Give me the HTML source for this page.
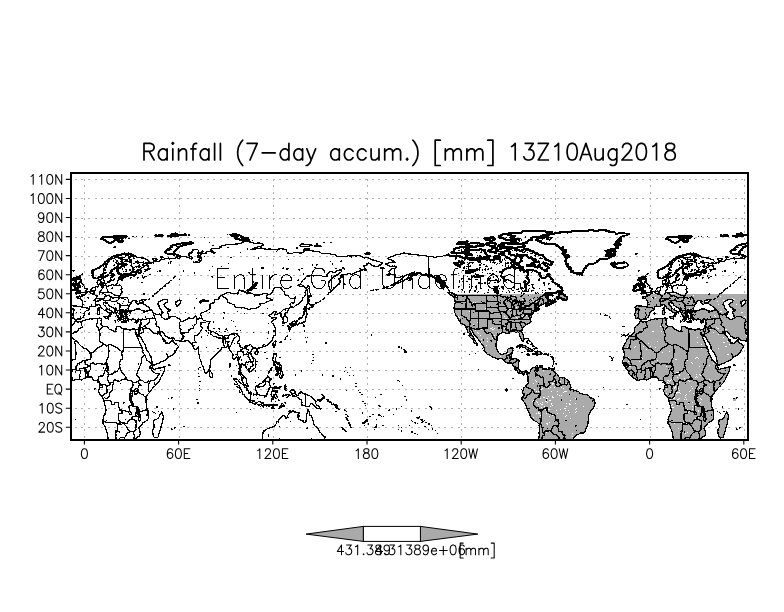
<!DOCTYPE html>
<html><head><meta charset="utf-8"><title>Rainfall</title><style>html,body{margin:0;padding:0;background:#fff}body{width:784px;height:612px;overflow:hidden;font-family:"Liberation Sans",sans-serif}svg{display:block}</style></head><body>
<svg width="784" height="612" viewBox="0 0 784 612">
<rect width="784" height="612" fill="#fff"/>
<defs>
<clipPath id="cf"><rect x="71.2" y="172.9" width="676.6" height="267.1"/></clipPath>
<clipPath id="cg"><rect x="406.2" y="294.0" width="341.5" height="146.0"/></clipPath>
</defs>
<g clip-path="url(#cf)" shape-rendering="crispEdges" fill="none" stroke="#b0b0b0" stroke-width="1">
<path stroke-dasharray="2 4.6" stroke-dashoffset="3" d="M71.2 427.5H747.8M71.2 408.5H747.8M71.2 389.5H747.8M71.2 370.5H747.8M71.2 351.5H747.8M71.2 332.5H747.8M71.2 313.5H747.8M71.2 294.5H747.8M71.2 275.5H747.8M71.2 256.5H747.8M71.2 237.5H747.8M71.2 218.5H747.8M71.2 198.5H747.8M71.2 179.5H747.8"/>
<path stroke-dasharray="2 4.6" stroke-dashoffset="1" d="M84.5 172.9V440.0M179.5 172.9V440.0M273.5 172.9V440.0M367.5 172.9V440.0M461.5 172.9V440.0M555.5 172.9V440.0M650.5 172.9V440.0M744.5 172.9V440.0"/>
</g>
<g clip-path="url(#cg)" shape-rendering="crispEdges">
<path fill="#aaaaaa" stroke="none" d="M75.1 320.8l1-.1l.6 .7l.8 .6l1.1 0l1.1-.2l.8 .1l.8 .3l.8-.5l.7-.7l.9-.3l.9-.2l.9-.5l.9-.5l.7 0l.7 0l.7-.2l.6-.4l.8 0l.8-.1l.8 .2l.9-.1l1-.1l.9-.4l.6 0l.6 .2l.5 .2l.6 0l.7 0l.6 0l.9-.5l1-.3l.8 .2l-.2 .7l.7-.4l.7-.1l-.2 .6l-.2 .7l-.5 .8l.3 .5l.6 1l-.4 .9l-.6 .5l-.5 .5l0 .8l.9 .3l.6 .2l.7 .8l.6 .2l.6 .4l.7 0l.7-.2l.8 .1l.8 .3l.8 .3l.8 .2l0 .6l.3 .6l.4 .5l.5 .4l.6 .2l.6 .3l.6 .2l.6 .1l.5 .2l.6 .3l.5 .4l.6 .2l.5-.1l.6-.1l.4-.4l.2-.5l.2-.6l.1-.5l-.1-.6l0-.6l.4-.5l.3-.5l.8-.2l.8-.3l.8 0l.8 .2l.8 .3l.1 .8l.6 .2l.7 .2l.8 .2l.8 0l.3 .7l1-.1l1 .1l.6 .1l.7 .1l.9 .5l.9 .3l.8 .4l.7-.4l.7-.4l.8-.6l1-.1l.6 0l.6 .1l.8 .4l.5 .6l.7-.2l.7 0l.5-.2l.6-.2l.5-.7l.4-1l.2-.5l.2-.6l.1-.6l.2-.8l.4-.7l.5-1l.2-.5l0-.6l-.2-1l.2-.9l.2-.6l.2-.6l-.9 0l-.8-.1l-.8-.3l-.8 .5l-.6 .7l-.7 .2l-.7 .2l-.5-.6l-.8-.4l-1-.3l-1-.4l-.2 .5l-.3 .6l-1.1 .2l-.5-.4l-.4-.4l-.7 .1l-.6-.5l-.6-.3l-.8 0l-.2-.6l.1-.6l-.7-.6l-.6-.7l.2-.6l.3-.6l0-.7l-1-.4l-.1-1l.5-.3l.4-.4l.6-.3l.7 .3l1-.5l1 .5l.9-.3l.8-.3l-.6-.2l-.6-.4l1 .1l.9-.4l.8-.1l.9 .1l.7-.7l.7-.5l.8-.3l.8-.1l.7 0l.6-.1l.7 .1l.7 0l.8 .4l.7 .4l.6 .6l.9 .4l.9 .1l.7 .1l.7 .1l1 .1l1-.3l.8 0l.7-.2l.6-.4l.8-.3l.3-1l-.1-.7l-.2-.6l-.9-.6l-1-.4l-1-.7l-.9-.7l-1-.7l-.6-.3l-.5-.4l-.7-.6l-1-.4l.3-.5l1.1-.4l.7-1l.7-.7l.8-.4l.5-.6l-.9 0l-.8 0l-.7 .2l-.7 .2l-1 .4l-1.1 .2l-.6 .3l-.6 .2l-.1 .6l-.2 .6l.9 .7l.7 0l.7-.2l-.2 .7l-.7 0l-.8 .1l-.8 .4l-.6 .4l-.6 .2l-.7 .2l-.3-.6l0-.6l-.7-.5l-.9-.3l.6-.3l.5-.4l.7-.6l-.9-.1l-.9 .1l-.4-.5l-.5-.4l-.6 0l-1.1 .1l-.5 .7l-.5 .7l-.4 .5l-.4 .4l-.1 1l-.8 .5l-.6 .6l-.3 .8l.1 .8l-.6 .6l-.5 .7l-.3 .6l.5 .7l.3 1l.6 .3l.6 .2l-.1 .4l-.7 .1l-.7-.1l-.8 .1l-.8 .7l-.3 .8l-1 .2l.4-.6l.6-.5l-.7 .1l-.6 0l0-.6l-.7 .1l-.7-.2l-1.1 .1l-.8 .4l.5 .5l.3 .6l-.8-.3l.2 .6l-1-.5l0 .5l-.6-.6l-.1-.6l-.5 .4l0 .7l.5 .8l.6 .8l-.6-.2l0 .7l.4 .6l.4 .7l.9 .1l.1 1l-.7-.5l-1 0l.3 .8l.5 .2l-.7 .1l-.5-.4l.7 1l-.1 1.1l-.8-.7l-.2 .8l-.6-.4l0-.7l-.6 .3l-.4-.6l.2-.7l-.5-.6l0-.7l1.1-.2l-.7-.2l-.7 .1l-.6-.9l0-.4l-.3-.6l-.5-.5l-.5-1l-.7-.3l-.2-1l.2-.9l0-1l-.5-.6l-1-.6l-.6-.6l-.8-.3l-.9-.8l-1-.3l-.7-.4l-.5-.6l-.6-.4l-.2-.7l-.3-.6l-.8-.8l-.3 .4l-.5 .6l-.2-.7l-.4-.6l.3-.4l-.9 0l-1.1 .5l-.2 .8l.1 .8l-.1 .5l.6 .6l.6 .5l.7 .3l.2 .7l.4 .6l.5 .8l.8 .7l.6 .4l.7 .1l.7-.2l-.1 .7l.1 .4l.7 .4l.7 .1l1 .6l.8 .3l.3 .5l.4 .5l-.2 .6l-.5-.4l-.2-.5l-1.1-.4l-.5 .3l-.4 .4l0 .8l.7 .6l0 .7l-.7 .4l-.2 .8l-.6 .8l-.7 0l0-.5l.3-.7l.4-.3l0-.6l-.4-.7l-.1-.7l-.3-.5l-.9-.2l-.1-.4l-.3-.5l-.7 .1l-.1-.5l-.6-.3l-.4-.4l-.8 0l-.8-.4l-.6-.6l-.7-.7l-1.1-.5l-.5-.5l-.4-.6l-.3-1l-.2-.8l-.6-.3l-.7-.4l-.7-.2l-.6 .3l-.5 .4l-1.1 .4l-.8 .5l-.6 .6l-1.1 .2l-.9-.4l-1.2-.1l-.9-.3l-.8 .4l-.6 .6l-.1 1l.2 .4l0 .7l-.8 .5l-.7 .5l-.8 .2l-.8 .3l-.6 .8l-.6 .4l-.4 .6l-.3 .7l-.5 .6l.6 .6l.2 .8l-.5 .4l-.6 .4l-.1 .7l-.2 .6l-.8 .2l-.6 .5l-.5 .5l-.3 .5l-.6-.1l-.8 .1l-.8 .1l-.7 0l-.7 0l-.6 .6l-.8 .5l-.5 .3l-.5-.6l-.6-.4l-.1-.6l-.9-.7l-.7 0l-.8 .4l-.8-.2l-.8 .2l-.1-.9l.3-.9l0-.9l-1-.6l0-.6l0-.7l.6-.7l.2-.8l.2-1l.1-.9l.1-.9l-.4-.9l-.3-.7l-.3-.8l.5-.6l.9-.3l.8-.7l.7 .1l.7 .3l1-.2l1.1 .2l.9 0l.9 .3l1.1-.1l1.3 .2l.9 0l1 0l.4-.3l.3-1.1l.1-1l.3-.9l0-.8l-.2-.7l0-.6l-.9-.7l-.5-.6l-.2-.8l-.9-.5l-.9-.3l-.8-.1l-.8-.1l-.5-.5l-.1-.7l.6-.3l.6-.2l.8-.1l.8-.1l.8 .2l.8 0l.7 0l-.1-1l-.5-1l1.1 0l.2 .7l1.4 .1l.5-.4l.1-.4l.6-.4l.8 0l.8-.7l0-1l.6-.6l.8 .2l1.1-.6l.7-.1l.2-.6l.4-.4l.4-.6l.5-.5l.3-.8l1-.5l1.2-.4l1.3 .1l.1-.6l1.5-.1l.7 .3l.2-.7l.6 0l-.1-.7l-.4-.6l-.1-.6l-.1-.5l.1-.6l-.8-1l.1-.6l-.1-.7l.8-.8l1.4-.2l.8-.7l.9-.3l-.1 1l-.3 1l.9 .5l-.9 .5l-.5 .9l-.3 .4l-.5 .6l.6 .7l.2 .6l1.6 .2l-.3 .7l1.1 0l.9-.2l.6-.6l.8 .1l.6-.5l.7 1.1l.8 .3l.9-.2l.9-.2l.8-.3l.8-.4l.9-.1l.7-.4l1.4-.1l.5 .8l1.2 0l.8-1l.8-.3l.6-.4l.3-.8l0-.8l-.1-.7l.9-.9l0-1l1.6-.5l.9 .9l1.3 .5l.6-.5l-.2-.7l.2-.7l.2-.6l-1.3-.1l-.3-.8l0-.8l.7-.5l1.2 .1l1.7-.3l.9 .2l1 .1l1.6-.1l.7-.6l.9-.5l1 .2l.8 0l-.9-.5l-1.4-.5l-.4-.3l-1.2 .3l-1.3 .1l-.8 .4l-1.1-.2l-1 .3l-1.6 .3l-1.6 .3l-.3-.7l-.9-.4l-1.3-.3l-.2-1l.4-.9l-.8-.7l.4-.7l-.3-.5l.8-1l1.1-.6l1.1-.7l1-.5l.6-.7l.9-.7l1.3-.4l-.2-1l-1.1-.4l-.8-.1l-1.5 0l-1.4 .3l-1.1 .6l-.6 .6l.2 .5l-.4 .8l-1.1 1l-1.1 .3l-.5 .6l-1.3 .8l-.9 .6l-.8 .3l-.5 .7l.4 .7l-.7 .9l.4 1l1.2 .3l.9 .4l.7 .8l-.8 1l-.5 .1l-.3 .8l-1.4 .6l-.5 .4l.2 .5l-.2 .6l.3 .7l-.8 .6l0 .8l-.6 1l-.6 .1l-1.4 0l-.2 .6l-.4 .5l-.7 .3l-1.4 0l-.1-.4l-.4-.9l.2-.5l.2-.6l-.7-.6l-.4-.6l-.5-.8l-.6-1l-.7-.6l.2-.7l-.2-.4l.3-.8l-.9-.7l0 .6l-.3 .5l-.8 .6l-.8 .2l-.8 .8l-1.2 .6l-.9 .5l-1-.2l-.8-.3l-.9-.3l-.4-.5l-.1-.8l-.5-.7l-.3-.6l.2-.6l.1-.8l-.2-.5l-.3-.6l.6-.9l-.6-.8l.5-.6l1.4-.6l1.4-.7l1.1-.5l1.5-.5l1.2-.4l.8-.9l1.3-.8l.7-.7l1.1-.6l.5-.8l.6-.7l.7-.6l-.1-.6l.9-.5l1.2-.8l.7-.5l.3-.7l1.2-.5l1.1-.6l1.1-.9l1.3-1l1.5-.4l1.6-.6l1.6-.1l1.5-.4l1.6-.2l1.1-.6l1.6-.6l1.7-.2l1.9 .2l1.9-.2l1.2 .5l1.6 .4l1.7 .6l-1.7 .5l-.3 .5l1.6 0l1.1 .2l.7-.4l1.3 .4l.5 .6l-.2 .8l2.4-.4l2.3 .2l1.6 .1l.8 .6l1 .6l1.3 .6l1.1 .4l1.3 .3l.9 1l.2 .9l-1.4 .8l-1.2 .5l-1.5 0l-1.3-.1l-1.2-.3l-1.4-.5l-1.7 0l-1.1-.4l-1.3 0l-1.7-.7l-.1 .6l1 .5l1.6 .4l.8 .8l.7 .8l-.3 .9l0 .9l1.3 .4l.9 .6l1.3 .2l1.6-.4l-.4-.8l-1.1-.5l-.4-.7l1.5 0l1.1 .6l1.3 .2l1.1 .3l.8 0l-.8-1l-.3-1l1.4-.4l1.3-.5l1.5-.7l1.2 .3l1 .4l.5-.8l.2-.7l-.7-.6l.6-.8l-.7-.7l-1-.6l.2-.7l1.4 .3l1.4 0l1.3 .2l.9 .6l.3 .5l-1.3 .2l-1.3 .2l-.2 .6l1.2 .3l.5 .6l1.4-.1l1.3 0l-.2-.7l.7-.7l1.2-.7l1.9-.2l1.8-.2l1.3-.6l1.6-.2l1.3-.6l0 .7l.6 .7l1.3-.6l2 .1l1.9-.3l1.1-.3l1.2-.3l1.4 1l1.1-.4l.5-.6l-.4-.6l-.7-.7l.6-.6l1.8 .5l2-.1l1.9 .2l1.1 .7l1.7 .5l1.9 .5l.7 .5l1 .4l.6-.6l.5-.7l-.8-.5l-.6-.6l-1.9-.2l.2-.8l-.9-.7l.4-.8l.3-.6l1.3-.4l.6-.5l.6-.6l.4-.7l.4-.8l1.4-.7l2.6-.3l2 .8l0 .8l-.2 .7l-1 .6l.4 .8l.3 .7l.5 .8l-.7 .6l.2 .7l-.8 .9l1 .8l1.1 .4l.6 .6l-1 .7l-.1 .8l-1.2 .9l-1.1 .8l-1.6 .3l-1.6-.1l2 .3l1.9 .3l1.6-.4l1.3-.6l.6-.9l.8-1l-.1-1l.2-1.1l-1.5-.7l-.7-.9l.4-.8l1.2-.7l-.1-.9l-1.9-.7l1.3-.7l1.5-.7l.5-.6l-.3-.7l.9 1l-.7 .9l.2 1l1.9 .2l2.4 .3l-.9-.9l.4-1l.6-.7l2.2 .2l1.6 .5l1.6 .6l1.2 .7l1.1 .8l-.2-.8l.7-.7l-1.3-.4l-.4-.5l-1.2-.5l-1.2-.3l-.3-.9l.1-.8l3-.4l2.8-.2l2.7-.2l1.6-.8l-1.6-.9l2.4-.6l1.9-.5l2-.4l2.9-.6l3.4-.2l2.3 0l2.4 0l1.9-.4l2-.4l1.2-.4l1.2-.5l.5-.6l1.1-.5l1.5-.4l2.1 0l2.6 .5l-1.6 1l2.4 0l1.6 .6l3.2 .1l3.1-.3l1.2 .4l1.1 .5l1.5 .6l-.2 .8l-.5 .6l-1.6 .5l-3 .4l-1.7 .9l-1.6 .4l-.7 .6l-1.7 .4l-1.5 .5l2.7 .1l2-.6l2.4-.6l1.9 0l1.7-.2l1.9 .6l1.8 .2l1.6 .3l1.7-.3l1.9 0l.8 .7l1.8 .1l1.5-.4l1.6 .2l1.4 .3l.8-.9l2.3-.2l3.2 .2l1.8 .5l1.3 .6l-.8 1l.8 .9l1.2 .8l-.4 .9l1.7-.1l1.5 .3l1.5-.4l.8-.7l1.9-.4l2 .2l1.6 .2l1.6 .2l1.5-.1l1.6-.1l-.4-.7l1.2-.6l-1.1-.6l2.7-.6l1.7 .2l1.6-.2l1.4 .3l1.6 .3l1.5 .2l1.6 .2l1.9 .2l2 0l.3 .7l1.3 .6l1.3 .7l1.8 .4l2.7-.3l2.8 .1l2.2 .6l2.5-.2l.9 .8l.7 .7l.7 .5l.9 .5l2.5 .2l2.2-.6l2.3 .4l2.4 0l.9-.5l1.1-.5l1.8-.1l1.7 0l-1.4 .9l.6 1.2l-.2-1.1l1.8-.9l1.7 .1l1.4 .3l2.4-.4l2.3 .4l.7 .6l1.2 .3l1.3 .4l1.5-.1l1.6 .5l1.8 .3l1.3 .7l.5 .6l1.2 .3l1.1 .4l1.2 .2l2 .3l1.1 .9l1.8 .1l1.3 .6l1.2 .6l1.5 .4l-.9 .5l-.2 .6l-1.2 .8l-1.9 .2l-.3 .6l-.5 .5l-1.2-.2l-1.2 .2l-1-.4l-1.3 0l-1.4-.6l-1-.9l-1.1-.8l-1.2-.7l-1.5 .7l-.1 1l-.4 .6l-1.2 .4l-1.1 .1l-1.2 0l1.1 .6l.4 .8l0 1.1l1.3 .8l.5 .6l-.3 .7l-1.1-.1l-.7-.5l-1 .1l-1 .1l-1.1 .3l-1 .3l-.7 .6l-1.1 .2l-1 .2l-.7 .5l-.7 .4l-.8 .4l-1 .4l-.7 .5l-.8 .4l-.6 .6l-.9-.4l-.9-.3l-1.1-.2l-1 0l-1.7 .4l-1.5 .5l-1.1 .2l-1.2 0l-1 0l-.9 .2l-.3 .8l-.2 .7l.1 .7l.4 .7l-1.1 .4l-1 .5l.6 .9l1 .6l-.2 .7l-.1 .7l.8 .3l-.7 .5l-.8 .4l-.4 .6l-.5 .6l.5 .4l-1.3 .3l-1.2 .5l-.1 .6l-.3 .5l-.3 .6l-.1 .6l-1 .3l-1 .1l-.4 .9l-.3 1l-.5 .5l-.7 .4l-.7 .5l-.6 .5l-.1-1l-.2-.9l-.4-.7l-.1-.8l0-.7l-.1-.7l-.4-.7l-.3-.7l-.1-.7l0-.8l.1-.7l.1-.7l.1-.7l-.2-.7l1.1-.9l.7-1l1.1-.6l.8-.8l.7-.5l.5-.6l.9-.4l.7-.6l.9-.5l1-.3l.6-.7l.8-.6l.6-.5l.5-.6l.8-.4l.6-.5l.5-.9l.3-.9l-1.6-.2l-1.2 .2l-1 .5l-1 .3l-1 .4l-.5 .7l-.3 .8l-1.1-.1l-.9-.4l-.8-.4l-.8-.4l-1.2 .1l-1.2 .3l-.4 .7l-.3 .8l-.9 .6l-.7 .7l.1 .7l.7 .6l-1.6 .3l-1.6 .3l-1.2-.2l-1.1-.2l-1.1-.6l-1.5-.1l-1.4 0l-1.2-.1l-1.2 0l-1.4 0l-.9 .6l-1.1-.4l-1.2 .1l-1.2 .1l-1.2 .2l-1.7 .1l-1.2 .9l-.7 .9l-.3 1l-1 .6l-1 .4l-.6 .8l-.6 .7l-.1 .8l-.6 .8l-.6 .7l-1 .5l-.6 .7l-1 .3l1.1 .6l1.3 .3l.7 .3l.8 .1l.6-.6l1-.1l.6 .5l.2 .6l.8 .2l.8 .4l-.2 .8l.6 .7l-.1 1.1l-.8 .8l.3 1l-.6 .9l.3 .7l-.1 .8l.1 .7l-.3 .7l-.5 .9l-.7 .5l-.7 .4l-.2 .7l-.3 .7l0 .7l-.4 .6l-.4 .5l-.7 .3l-.3 .8l-.8 .4l-.6 .7l-.7 .4l-.6 .9l-1 .6l-.8 .1l-.6 .6l-.7 .5l-.2 .7l-.9 .3l-.7 .5l-.6-.6l-1-.2l-.6 .8l-.9 .4l-.5 .6l-.5 .4l-.6 .3l-.1 .9l-.4 .8l-.3 .8l-.7 .6l-.9 .5l-.6 .4l-.8 .2l-.1 1l.6 .4l.6 .5l0 .8l.7 .6l.6 .6l.3 .9l.2 .5l.2 .6l0 .6l-.1 .6l-.1 .9l-.7 .8l-.7 .3l-.8 .1l-.8 .3l-.9 0l-.7 .6l-.3-.7l0-.8l.3-.8l.2-.6l0-.7l-.7-1l1-.3l-.3-1l-.8-.4l-.7-.2l-.6 .2l-.5-.7l.3-.6l.1-.6l.1-.6l.3-.5l-.4-.5l-.7-.3l-.6-.6l-.7 .3l-.7 .1l-.9 .7l-1 .3l-.5 .4l-.6 .3l-.6 .2l.3-.6l.2-.7l.4-.7l.3-.6l.4-.8l-.6-.3l-.5-.3l-.8 .2l-.7 .9l-.9 .6l-.8 .4l-.3 .6l-.5 .6l-.8 0l-.7 0l-.5 .5l-.2 .8l.7 .6l.7 .4l.8 .5l0 1l.8 0l.6-.2l.7-.4l.6-.6l.7 .3l.6 .3l.8 .2l.9 0l-.3 1l-1.1 .3l-1.1 .2l-.7 .4l-.4 .6l-.8 .4l-.5 .7l-.3 .7l-.2 .7l.9 .4l.7 .5l.4 .6l.3 .6l.1 .7l.3 .6l.3 .5l.3 .4l.4 .5l.3 .5l.3 .6l-.1 .6l.1 .7l-.7 .5l-.7 .3l-.6 .2l-.5 .3l.6 0l.6 .2l.5 .4l.6 .2l.1 .7l.1 .6l-.1 .9l-.4 .8l-.6 .5l-.8 .1l-.3 .8l-.3 .7l-.6 .9l-.4 .9l-.1 .6l0 .7l-.5 .7l-.6 .4l-.7 .4l-.6 .6l-.6 .8l-.6 .7l-.6 .3l-.4 .5l-.4 .4l-.5 .2l-.5 .2l-.5 .3l-.5 .3l-.4 .3l-.6 .2l-.5 0l-.6-.4l-.5-.6l-.1 .7l.1 .7l-.7 .6l-.9 .1l-.8 .2l-.7 .2l-.9 0l-.7 .6l-.4 .8l.2 .9l-.8 0l-.1-1.1l-.2-1l-.9-.2l-.6-.1l-.7-.1l-.4 .2l-.9 .4l-.7 .8l-.5 .1l-.2 .6l.1 .6l-.7 .7l-.4 .8l-.3 .6l-.1 .6l.8 .6l.3 1.1l.4 .7l.2 .9l.7 .5l.5 .1l.4 .4l.2 .5l.5 .3l.7 .5l.4 1l.3 .5l.1 .7l-.1 .7l.1 .6l0 1l.2 .9l-.2 1.1l0 1l0 .7l-.4 .5l-.7 .6l-.7 .5l-.8 .3l-.7 .5l-.3 .6l-.3 .7l-.6 .3l-.5 .5l-.5-.1l-.4 .3l-.2 .5l-.5 .4l0-1l-.3-.9l.3-1l-.7-.5l-.8 .2l-.6-.4l-.4-.8l-.6-.6l-.1-.9l-.5-.6l-.6-.4l-.5-.3l-.5 0l-.4-.3l-.5-.1l-.3-.8l.1-.7l-.6-.2l-.8 .3l.2 .8l-.3 .8l.1 .7l-.1 .8l-.2 .8l-.5 .5l-.1 .7l-.4 .5l.2 .5l0 .6l-.2 .6l.2 .6l.7 .5l.4 .8l.3 .5l.1 .7l.2 .5l.2 .6l.7 .6l.9 .3l.3 .8l.6 .4l.4 .3l.5 .1l.2 .4l.3 .5l.2 1l.4 .9l-.1 1l.1 .9l.3 .9l.1 1l.3 .5l.5 .4l.1 .6l0 .6l-.6 0l-.5 .2l-.4-.3l-.4-.3l-.3-.5l-.5-.2l-.2-.6l-.5-.5l-.5 0l-.5-.4l-.1-.6l-.4-.5l-.3-.4l-.1-.6l-.4-.5l-.3-.4l.2-.6l-.2-.6l.1-.9l-.2-.8l0-.7l-.3-.5l-.7-.8l-.3-.8l-.5-.7l-.6-.6l-.8 .2l.3-.9l-.3-1l.4-.9l.1-1l0-.8l-.2-.7l.2-1l.2-.9l-.3-.7l.1-.8l-.5-.9l-.1-1l-.1-.6l-.1-.6l-.1-.6l-.1-.5l-.1-.6l-.2-.6l.2-.6l-.2-.5l0-.6l-.3-.6l-.6-.2l-.3-.7l-.7 .3l-.4 .6l-.7 .7l-.7 .7l-.9-.1l-.8-.3l0-.8l-.2-.7l.4-.6l.2-.8l.1-.6l-.1-.7l-.2-.6l-.2-.5l-.9-.7l-.2-1.1l-.7-.3l-.4-.6l-.7-.4l-.3-.8l0-.6l-.5-.5l0-.9l-.3-.8l-.3-.5l-.3-.5l-.6 .4l-.7 .2l-.2 .6l-.2 .5l-.7 .2l-.6 0l-1 0l-.9 .4l-.4-.6l-.7 .6l-.6 .6l-.1 .6l-.4 .5l-.3 .8l-.6 .6l-.8 .4l-.5 .5l-.6 .4l-.4 .5l-.2 .6l-.5 .3l-.5 .5l-.7 .5l-.5 .7l-.4 .4l-.4 .4l-.3 .5l-.5 .4l-.4 .5l-.5 .4l-.6 .5l-.5 .5l-.6 .1l-.5 .1l-.2 1l-.1 1.1l-.1 .7l.2 .7l.2 .7l0 .7l-.4 1l-.1 1.1l0 1l-.3 .9l.1 .7l0 .7l-.9 0l-.4 .7l-.2 .8l.4 .4l-.6 .1l-.6 .4l-.3 .4l-.6 .6l-.4 .8l-.6-.4l-.5-.4l-.2-.7l-.3-.6l-.1-.7l-.3-.7l-.2-.6l-.2-.7l-.2-.7l-.2-.6l-.3-.6l-.2-.7l-.3-.6l-.4-.4l-.4-.8l-.1-.7l-.1-.7l-.3-.6l-.1-.7l-.5-.9l-.2-.7l-.2-.7l-.5-.8l-.2-1.1l0-.7l-.3-.7l-.1-.7l-.2-.7l-.3-.9l0-1l-.2-1l0-.9l.2-1l0-.9l0-.6l0-.6l-.3-.6l-.2-.5l-.3 .9l-.3 1l-.9 .3l-.8 .4l-1-.1l-.6-.5l-.5-.7l-.5-.7l-.6-.6l.6-.2l.5-.3l.4-.4l.4-.5l-.9 .2l-1 0l-.4-.8l-.5-.7l-.7-.2l-.7-.4l-.3-.6l-.2-.7l-.8-.4l-.1-.6l-.2-.5l-.6 .1l-.6-.2l-.6 .1l-.6 .2l-.5 0l-.6 .2l-.6-.1l-.6 .1l-.9 .2l-1-.1l-.5-.1l-.6 0l-.8 0l-.8-.2l-.6-.2l-.6 .1l-.6-.2l-.7 .1l-.9-.3l-1-.3l-.4-.4l-.2-.6l-.3-.6l-.3-.5l-.5-.3l-.6-.3l-.7 .2l-.6 .4l-.5 .4l-.7 .2l-.9-.5l-1-.1l-.7-.8l-.9-.5l-.7-.6l-.8-.2l-.6-1l-.5-.9l-.6-.8l-.2-.9l-.7-.2l-.6-.4l-.9-.4l-.7 .7l-.7 .3l-.2 .7l.4 .6l.2 .6l.5 .7l.2 .8l.7 .7l.5 .8l.4 .6l.6 .6l-.1 1l.2 1.1l.6 .6l.4 .7l0-.8l.1-.7l.5-1l.2 .9l.4 .7l-.1 .6l-.2 .7l.3 .5l.3 .5l.7-.1l.6-.1l.9 .1l1 .1l.5-.4l.4-.4l.9-.6l.5-.9l.6-.6l.5-.8l.6-.6l-.1 .7l0 .7l.2 .6l-.1 .7l.3 .7l.4 .5l.8 .3l.7 .6l.7 .3l.6 .1l.5 .8l.6 .7l.8 .6l-.1 .6l-.2 .5l-.3 .5l-.2 .5l-.7 .7l-.4 1l-.6 .3l-.7 .3l.1 .6l-.1 .5l0 .6l0 .6l-.6 0l-.6 .2l-.3 .9l-.5 .8l-.5 .1l-.5 .2l-.4 .4l-.5 .2l-.5 .2l-.4 .4l-.5 .1l-.5 .3l-.9 .2l-.8 .6l-.3 .5l-.2 .5l-.3 .5l-.4 .4l-.5 .3l-.4 .3l-.5 .1l-.5 .2l-.7 .5l-.7 .4l-.8 0l-.8 .3l-.6 .4l-.6 .5l-.7 .3l-.6 .5l-.5 .2l-.6 0l-.5 .1l-.5 0l-.5 .3l-.3 .5l-.6 .1l-.4 .3l-.6 .2l-.6 0l-.6 .2l-.6 0l-.2-.7l-.3-.7l0-.7l-.1-.7l-.2-.7l-.1-.7l-.2-.7l-.3-.7l-.1-.7l.1-.8l-.3-.9l-.2-1l-.4-.4l-.3-.4l-.3-.6l-.2-.5l-.3-.6l-.3-.5l-.3-.5l-.4-.5l-.4-.5l-.5-.4l-.3-.7l-.4-.5l-.5-.9l-.4-1l.1-.6l-.2-.6l0-.7l-.2-.6l-.3-.6l-.4-.6l-.4-.6l-.2-.6l-.5-.4l-.3-.5l-.3-.5l-.3-.6l-.3-.9l-.6-.8l-.3-.7l-.3-.6l-.4-.5l-.5-.6l-.5-.7l-.5-.7l0-.7l.1-.7l-.2-.7l0-.7l-.3 .7l-.3 .8l-.1 .7l-.2 .6l-.2 .5l-.6-.5l-.4-.6l-.4-.5l-.3-.6l-.3-1l-.6-.9l-.4 .6l.4 .7l.1 .8l.4 .7l.4 .6l.3 .5l.4 .5l.3 .7l.3 .9l.3 .9l.3 .6l.4 .5l.1 .7l.3 .6l.4 1l.5 .9l.5 .2l-.3 .7l-.2 .7l.5 .3l.4 .4l.3 .5l.4 .5l.6 .7l.2 .9l.3 .9l.1 .6l.1 .7l-.1 .7l-.1 .6l.2 .8l.1 .8l.5 .2l.3 .5l.4 .4l.4 .4l.3 .6l.1 .6l.4 .6l.1 .7l.2 .5l.4 .4l.1 .6l.1 .6l.5 .6l.6 .5l.7 .7l.9 .4l.6 .5l.5 .5l.5 .6l.3 .7l.5 .6l.6 .6l.2 .6l.1 .6l-.3 .7l.6 .6l.4 .7l.4 .8l.8 .1l.8 0l.5-.4l.6-.1l.6 0l.6-.2l.6-.2l.6-.2l.6 0l.6-.3l.6 .1l.5-.2l.6-.1l.6-.2l.5-.2l.6-.2l.5-.3l.5-.3l.7 .1l-.2 .6l0 .7l-.1 .6l0 .7l-.2 1l-.2 .9l-.5 .6l-.3 .6l-.3 .7l-.2 .8l-.2 .6l-.3 .7l-.5 .5l-.3 .6l-.5 .8l-.5 .8l-.2 .9l-.3 1l-.6 .6l-.3 .9l-.6 .6l-.4 .7l-.4 .5l-.3 .6l-.5 .3l-.4 .5l-.5 .4l-.5 .5l-.5 .6l-.4 .6l-.6 .4l-.6 .4l-.6 .6l-.6 .6l-.4 .7l-.6 .6l-.3 .7l-.3 .7l-.5 .5l-.5 .6l-.5 .7l-.6 .6l-.6 .5l-.5 .6l-.2 .6l-.4 .4l-.1 .6l-.1 .6l-.3 1l-.5 .8l-.3 1.1l-.3 1l.5 .6l.3 .8l0 .5l.1 .6l0 .6l.2 .6l0 .9l-.1 1l.3 .9l.3 1l.5 .3l.4 .4l0 1.1l.2 1l0 .7l.1 .8l0 .7l0 .7l0 .7l0 .7l.2 .7l.2 .7l0 1l-.2 1l-.7 .7l-.6 1l-.5 .4l-.6 .3l-.4 .5l-.7 .3l-.6 .1l-.6 .4l-.5 .5l-.6 .3l-.2 .6l-.3 .5l-.4 .3l-.4 .5l-.4 .6l-.4 .6l-.5 .5l-.5 .2l-.3 .7l-.2 .7l.5 .8l.4 .9l.1 1l.2 .9l0 .7l.2 .6l-.1 .7l-.1 .7l-.3 .7l-.4 .6l-.6 .3l-.5 .5l-.7 .2l-.6 .3l-.6 .6l-.5 .6l-.1 .9l.3 .8l-.4 1l-.1 1.1l-.2 1l0 1.1l-3.2 0l-3.3 0l-3.2 0l-3.2 0l-3.3 0l-3.2 0l-3.2 0l-3.3 0l-.1-.6l-.1-.6l-.1-.6l-.1-.6l-.2-.6l-.2-.5l-.3-.6l-.3-.5l-.1-.7l0-.8l-.1-.8l-.1-.7l-.3-1l-.3-.9l.1-1.1l-.1-1l-.3-.7l-.2-.7l-.1-.7l-.2-.6l-.4-.6l-.3-.6l-.2-.6l-.2-.7l-.3-.7l-.2-.6l-.3-.7l-.5-.5l-.4-.9l-.7-.8l0-.9l-.1-1l.2-.9l-.1-1l.3-.8l.2-.7l.2-.6l.1-.7l.1-.6l.2-.6l.4-.6l.5-.6l.2-.8l.3-.7l.3-.5l0-.6l.2-.6l.2-.6l0-.7l0-.8l-.6-.9l-.2-1l0-.7l-.2-.6l-.2-.8l-.1-.7l-.3-1l0-1l-.5-.8l-.3-.9l-.1-.9l-.5-.9l-.2-1l-.5-.8l-.6-.6l-.4-.3l-.3-.4l-.4-.4l-.1-.6l-.7-.5l-.4-.8l-.4-1l-.6-.9l-.2-.6l-.1-.6l.4-.4l.4-.3l.2-.7l0-.7l.2-.5l.1-.6l0-1l.3-.9l.2-.9l-.1-.8l-.2-1l-.1-.9l-.5-.3l-.6-.1l-.1-1l-.5 .1l-.5 0l-.6 .1l-.6 .2l-.8 0l-.7 .1l-.7 .1l-.6-.8l-.4-.9l-.3-.6l-.5-.6l-.3-.5l-.4-.4l-.9-.1l-.9-.1l-.8 0l-.7 .2l-.5-.1l-.5 .1l-.5 .1l-.4 .3l-.4 .3l-.5 .3l-.5 .3l-.5 0l-.8 .3l-.8 .5l-.7 .5l-.8 .3l-.9-.5l-.9-.1l-.7-.2l-.7-.1l-.6 .1l-.6 .1l-.5 .2l-.6-.1l-.9 .4l-.9 .3l-.7 .4l-.7 .3l-.8-.4l-.7-.6l-.8-.8l-.8-.4l-.6-.2l-.6-.3l-.4-.5l-.5-.5l-.6-.5l-.5-.7l-.7-.5l-.8-.4l-.4-.5l-.3-.4l-.2-.6l-.2-.6l-.2-.6l0-.5l-.6-.8l-.6-.8l-.7-.7l-.3-.7l-.4-.5l-.6-.9l-.4-1l-.4-.3l-.4-.3l-.4-.2l-.5-.1l-.1-1l-.1-.9l-.3-.8l0-.8l-.4-.4l-.4-.5l.7-.6l.4-1l.5-.9l.2-.9l.1-1l.4-1l.1-1.1l-.1-1l-.4-.9l.1-.9l-.1-.8l-.6-.8l-.6-.8l.1-.6l0-.7l.2-.7l.4-.6l.3-.6l.2-.8l.4-.7l.2-.8l.5-.4l.2-.6l.5-.4l.3-.5l.3-.6l.1-.7l.2-.7l.1-.7l.8-.4l.6-.7l.3-1l.4-.9l.9-.4l1-.3l.7-.6l.7-.8l.7-.5l.7-.5l.4-1l.4-1.1l0-.9l-.3-1l.2-.5l.1-.6l.4-.4l.2-.6l.7-.6l.6-.9l.6-.3l.8-.3l.5-.5l.7-.3l.3-1l.5-.8l.4-.8zM640.3 320.8l1-.1l.6 .7l.8 .6l1.1 0l1.1-.2l.8 .1l.8 .3l.8-.5l.7-.7l.9-.3l.9-.2l.9-.5l.9-.5l.7 0l.7 0l.7-.2l.6-.4l.8 0l.8-.1l.8 .2l.9-.1l1-.1l.9-.4l.6 0l.6 .2l.5 .2l.6 0l.7 0l.6 0l.9-.5l1-.3l.8 .2l-.2 .7l.7-.4l.7-.1l-.2 .6l-.2 .7l-.5 .8l.3 .5l.6 1l-.4 .9l-.6 .5l-.5 .5l0 .8l.9 .3l.6 .2l.7 .8l.6 .2l.6 .4l.7 0l.7-.2l.8 .1l.8 .3l.8 .3l.8 .2l0 .6l.3 .6l.4 .5l.5 .4l.6 .2l.6 .3l.6 .2l.6 .1l.5 .2l.6 .3l.5 .4l.6 .2l.5-.1l.6-.1l.4-.4l.2-.5l.2-.6l.1-.5l-.1-.6l0-.6l.4-.5l.3-.5l.8-.2l.8-.3l.8 0l.8 .2l.8 .3l.1 .8l.6 .2l.7 .2l.8 .2l.8 0l.3 .7l1-.1l1 .1l.6 .1l.7 .1l.9 .5l.9 .3l.8 .4l.7-.4l.7-.4l.8-.6l1-.1l.6 0l.6 .1l.8 .4l.5 .6l.7-.2l.7 0l.5-.2l.6-.2l.5-.7l.4-1l.2-.5l.1-.6l.2-.6l.2-.8l.4-.7l.5-1l.2-.5l0-.6l-.2-1l.2-.9l.2-.6l.2-.6l-.9 0l-.8-.1l-.8-.3l-.8 .5l-.6 .7l-.7 .2l-.7 .2l-.5-.6l-.8-.4l-1-.3l-1-.4l-.2 .5l-.3 .6l-1.1 .2l-.5-.4l-.4-.4l-.7 .1l-.6-.5l-.6-.3l-.8 0l-.2-.6l.1-.6l-.7-.6l-.6-.7l.2-.6l.3-.6l0-.7l-1-.4l-.1-1l.5-.3l.4-.4l.6-.3l.7 .3l1-.5l1 .5l.9-.3l.8-.3l-.6-.2l-.6-.4l1 .1l.9-.4l.8-.1l.9 .1l.7-.7l.7-.5l.8-.3l.8-.1l.7 0l.6-.1l.7 .1l.6 0l.9 .4l.7 .4l.6 .6l.9 .4l.9 .1l.7 .1l.7 .1l1 .1l1-.3l.8 0l.7-.2l.6-.4l.8-.3l.3-1l-.1-.7l-.2-.6l-.9-.6l-1-.4l-1-.7l-.9-.7l-1-.7l-.6-.3l-.5-.4l-.7-.6l-1-.4l.3-.5l1.1-.4l.7-1l.7-.7l.8-.4l.5-.6l-.9 0l-.8 0l-.7 .2l-.7 .2l-1 .4l-1.1 .2l-.6 .3l-.6 .2l-.1 .6l-.3 .6l1 .7l.7 0l.7-.2l-.2 .7l-.7 0l-.8 .1l-.8 .4l-.6 .4l-.6 .2l-.7 .2l-.3-.6l0-.6l-.7-.5l-.9-.3l.6-.3l.5-.4l.7-.6l-.9-.1l-.9 .1l-.4-.5l-.5-.4l-.6 0l-1.1 .1l-.5 .7l-.5 .7l-.4 .5l-.4 .4l-.1 1l-.8 .5l-.6 .6l-.3 .8l.1 .8l-.6 .6l-.5 .7l-.3 .6l.5 .7l.3 1l.6 .3l.6 .2l-.1 .4l-.7 .1l-.7-.1l-.8 .1l-.8 .7l-.3 .8l-1 .2l.4-.6l.6-.5l-.7 .1l-.6 0l0-.6l-.7 .1l-.7-.2l-1.1 .1l-.8 .4l.5 .5l.3 .6l-.8-.3l.2 .6l-1-.5l0 .5l-.6-.6l-.1-.6l-.5 .4l0 .7l.5 .8l.6 .8l-.6-.2l0 .7l.4 .6l.4 .7l.9 .1l.1 1l-.7-.5l-1 0l.3 .8l.5 .2l-.7 .1l-.5-.4l.7 1l-.1 1.1l-.8-.7l-.2 .8l-.6-.4l0-.7l-.6 .3l-.4-.6l.2-.7l-.5-.6l0-.7l1.1-.2l-.7-.2l-.7 .1l-.6-.9l0-.4l-.3-.6l-.5-.5l-.5-1l-.7-.3l-.2-1l.2-.9l0-1l-.5-.6l-1-.6l-.6-.6l-.8-.3l-.9-.8l-1-.3l-.7-.4l-.5-.6l-.6-.4l-.2-.7l-.3-.6l-.8-.8l-.3 .4l-.5 .6l-.2-.7l-.4-.6l.3-.4l-.9 0l-1.1 .5l-.2 .8l.1 .8l-.1 .5l.6 .6l.6 .5l.7 .3l.2 .7l.4 .6l.5 .8l.8 .7l.6 .4l.7 .1l.7-.2l-.1 .7l.1 .4l.7 .4l.7 .1l1 .6l.8 .3l.3 .5l.4 .5l-.2 .6l-.5-.4l-.2-.5l-1.1-.4l-.5 .3l-.4 .4l0 .8l.7 .6l0 .7l-.7 .4l-.2 .8l-.6 .8l-.7 0l0-.5l.3-.7l.4-.3l0-.6l-.4-.7l-.1-.7l-.3-.5l-1-.2l0-.4l-.3-.5l-.7 .1l-.1-.5l-.6-.3l-.4-.4l-.8 0l-.8-.4l-.6-.6l-.7-.7l-1.1-.5l-.5-.5l-.4-.6l-.3-1l-.2-.8l-.6-.3l-.7-.4l-.7-.2l-.6 .3l-.5 .4l-1.1 .4l-.8 .5l-.6 .6l-1.1 .2l-.9-.4l-1.2-.1l-.9-.3l-.8 .4l-.6 .6l-.1 1l.2 .4l0 .7l-.8 .5l-.7 .5l-.8 .2l-.8 .3l-.6 .8l-.6 .4l-.4 .6l-.3 .7l-.5 .6l.6 .6l.2 .8l-.5 .4l-.6 .4l-.1 .7l-.2 .6l-.8 .2l-.6 .5l-.5 .5l-.3 .5l-.6-.1l-.8 .1l-.8 .1l-.7 0l-.7 0l-.6 .6l-.8 .5l-.5 .3l-.5-.6l-.6-.4l-.1-.6l-.9-.7l-.7 0l-.8 .4l-.8-.2l-.8 .2l-.1-.9l.3-.9l0-.9l-1-.6l0-.6l0-.7l.6-.7l.2-.8l.2-1l.1-.9l.1-.9l-.4-.9l-.3-.7l-.3-.8l.5-.6l.9-.3l.8-.7l.7 .1l.7 .3l1-.2l1.1 .2l.9 0l.9 .3l1.1-.1l1.3 .2l.9 0l1 0l.4-.3l.3-1.1l.1-1l.3-.9l0-.8l-.2-.7l0-.6l-.9-.7l-.5-.6l-.2-.8l-.9-.5l-.9-.3l-.8-.1l-.8-.1l-.5-.5l-.1-.7l.6-.3l.6-.2l.8-.1l.8-.1l.8 .2l.8 0l.7 0l-.1-1l-.5-1l1.1 0l.2 .7l1.4 .1l.5-.4l.1-.4l.6-.4l.8 0l.8-.7l0-1l.6-.6l.8 .2l1.1-.6l.7-.1l.2-.6l.4-.4l.4-.6l.5-.5l.3-.8l1-.5l1.2-.4l1.3 .1l.1-.6l1.5-.1l.7 .3l.2-.7l.6 0l-.1-.7l-.4-.6l-.1-.6l-.1-.5l.1-.6l-.8-1l.1-.6l-.1-.7l.8-.8l1.4-.2l.8-.7l.9-.3l-.1 1l-.3 1l.9 .5l-.9 .5l-.5 .9l-.3 .4l-.5 .6l.6 .7l.2 .6l1.6 .2l-.3 .7l1.1 0l.9-.2l.6-.6l.8 .1l.6-.5l.7 1.1l.8 .3l.9-.2l.9-.2l.8-.3l.8-.4l.9-.1l.7-.4l1.4-.1l.5 .8l1.2 0l.8-1l.8-.3l.6-.4l.3-.8l0-.8l-.1-.7l.9-.9l0-1l1.6-.5l.9 .9l1.3 .5l.6-.5l-.2-.7l.2-.7l.2-.6l-1.3-.1l-.3-.8l0-.8l.7-.5l1.2 .1l1.7-.3l.9 .2l1 .1l1.6-.1l.7-.6l.9-.5l1 .2l.8 0l-.9-.5l-1.4-.5l-.4-.3l-1.2 .3l-1.3 .1l-.8 .4l-1.1-.2l-1 .3l-1.6 .3l-1.6 .3l-.3-.7l-.9-.4l-1.3-.3l-.2-1l.4-.9l-.8-.7l.4-.7l-.3-.5l.8-1l1.1-.6l1.1-.7l1-.5l.6-.7l.9-.7l1.3-.4l-.2-1l-1.1-.4l-.8-.1l-1.5 0l-1.4 .3l-1.1 .6l-.6 .6l.2 .5l-.4 .8l-1.1 1l-1.1 .3l-.5 .6l-1.3 .8l-.9 .6l-.8 .3l-.5 .7l.4 .7l-.7 .9l.4 1l1.2 .3l.9 .4l.7 .8l-.8 1l-.5 .1l-.3 .8l-1.4 .6l-.5 .4l.2 .5l-.2 .6l.3 .7l-.8 .6l0 .8l-.6 1l-.6 .1l-1.4 0l-.2 .6l-.4 .5l-.7 .3l-1.4 0l-.1-.4l-.4-.9l.2-.5l.2-.6l-.7-.6l-.4-.6l-.5-.8l-.6-1l-.7-.6l.2-.7l-.2-.4l.3-.8l-.9-.7l0 .6l-.3 .5l-.8 .6l-.8 .2l-.8 .8l-1.2 .6l-.9 .5l-1-.2l-.8-.3l-.9-.3l-.4-.5l-.1-.8l-.5-.7l-.3-.6l.2-.6l.1-.8l-.2-.5l-.2-.6l.5-.9l-.5-.8l.4-.6l1.4-.6l1.4-.7l1.1-.5l1.5-.5l1.2-.4l.8-.9l1.3-.8l.7-.7l1.1-.6l.5-.8l.6-.7l.7-.6l-.1-.6l.9-.5l1.2-.8l.7-.5l.2-.7l1.3-.5l1.1-.6l1.1-.9l1.3-1l1.5-.4l1.6-.6l1.6-.1l1.5-.4l1.6-.2l1.1-.6l1.6-.6l1.7-.2l1.9 .2l1.9-.2l1.2 .5l1.6 .4l1.7 .6l-1.7 .5l-.3 .5l1.6 0l1.1 .2l.7-.4l1.3 .4l.5 .6l-.2 .8l2.4-.4l2.3 .2l1.6 .1l.8 .6l1 .6l1.3 .6l1.1 .4l1.3 .3l.9 1l.2 .9l-1.4 .8l-1.2 .5l-1.5 0l-1.3-.1l-1.2-.3l-1.4-.5l-1.8 0l-1-.4l-1.3 0l-1.7-.7l-.1 .6l1 .5l1.6 .4l.8 .8l.7 .8l-.3 .9l0 .9l1.3 .4l.9 .6l1.3 .2l1.6-.4l-.4-.8l-1.1-.5l-.4-.7l1.5 0l1.1 .6l1.3 .2l1.1 .3l.8 0l-.8-1l-.3-1l1.4-.4l1.3-.5l1.5-.7l1.2 .3l1 .4l.5-.8l.2-.7l-.7-.6l.6-.8l-.7-.7l-1-.6l.2-.7l1.4 .3l1.4 0l1.3 .2l.9 .6l.3 .5l-1.3 .2l-1.4 .2l-.1 .6l1.2 .3l.5 .6l1.4-.1l1.3 0l-.2-.7l.7-.7l1.2-.7l1.9-.2l1.8-.2l1.3-.6l1.6-.2l1.3-.6l0 .7l.6 .7l1.3-.6l2 .1l1.9-.3l1.1-.3l1.2-.3l1.4 1l1.1-.4l.5-.6l-.4-.6l-.7-.7l.6-.6l1.8 .5l2-.1l1.9 .2l1.1 .7l1.7 .5l1.9 .5l.7 .5l1 .4l.6-.6l.5-.7l-.8-.5l-.6-.6l-1.9-.2l.2-.8l-.9-.7l.4-.8l.3-.6l1.3-.4l.6-.5l.6-.6l.4-.7l.4-.8l1.4-.7l2.6-.3l2 .8l0 .8l-.2 .7l-1 .6l.4 .8l.3 .7l.5 .8l-.7 .6l.2 .7l-.8 .9l1 .8l1.1 .4l.6 .6l-1 .7l-.1 .8l-1.2 .9l-1.1 .8l-1.6 .3l-1.6-.1l2 .3l1.9 .3l1.6-.4l1.3-.6l.6-.9l.8-1l-.1-1l.2-1.1l-1.5-.7l-.7-.9l.4-.8l1.2-.7l-.1-.9l-1.9-.7l1.3-.7l1.5-.7l.5-.6l-.3-.7l.9 1l-.7 .9l.2 1l1.9 .2l2.4 .3l-.9-.9l.4-1l.6-.7l2.2 .2l1.6 .5l1.6 .6l1.2 .7l1.1 .8l-.2-.8l.7-.7l-1.3-.4l-.4-.5l-1.2-.5l-1.2-.3l-.3-.9l.1-.8l3-.4l2.8-.2l2.7-.2l1.6-.8l-1.6-.9l2.4-.6l1.9-.5l2-.4l2.9-.6l3.4-.2l2.3 0l2.4 0l1.9-.4l2-.4l1.2-.4l1.2-.5l.5-.6l1.1-.5l1.5-.4l2.1 0l2.6 .5l-1.5 1l2.3 0l1.6 .6l3.2 .1l3.1-.3l1.2 .4l1.1 .5l1.5 .6l-.2 .8l-.5 .6l-1.6 .5l-3 .4l-1.7 .9l-1.6 .4l-.7 .6l-1.7 .4l-1.5 .5l2.7 .1l2-.6l2.4-.6l1.9 0l1.7-.2l1.9 .6l1.8 .2l1.6 .3l1.7-.3l1.9 0l.8 .7l1.8 .1l1.5-.4l1.6 .2l1.4 .3l.8-.9l2.4-.2l3.1 .2l1.8 .5l1.3 .6l-.8 1l.8 .9l1.2 .8l-.4 .9l1.7-.1l1.5 .3l1.5-.4l.8-.7l1.9-.4l2 .2l1.6 .2l1.6 .2l1.5-.1l1.6-.1l-.4-.7l1.2-.6l-1.1-.6l2.7-.6l1.7 .2l1.6-.2l1.4 .3l1.5 .3l1.6 .2l1.6 .2l1.9 .2l2 0l.3 .7l1.3 .6l1.3 .7l1.8 .4l2.7-.3l2.8 .1l2.2 .6l2.5-.2l.9 .8l.7 .7l.7 .5l.9 .5l2.5 .2l2.2-.6l2.3 .4l2.4 0l.9-.5l1.1-.5l1.8-.1l1.7 0l-1.4 .9l.6 1.2l-.2-1.1l1.8-.9l1.7 .1l1.4 .3l2.4-.4l2.3 .4l.7 .6l1.2 .3l1.3 .4l1.5-.1l1.6 .5l1.8 .3l1.3 .7l.5 .6l1.2 .3l1.1 .4l1.2 .2l2 .3l1.1 .9l1.8 .1l1.3 .6l1.2 .6l1.5 .4l-.9 .5l-.2 .6l-1.2 .8l-1.9 .2l-.3 .6l-.5 .5l-1.2-.2l-1.2 .2l-1-.4l-1.3 0l-1.4-.6l-1-.9l-1.1-.8l-1.2-.7l-1.5 .7l-.1 1l-.4 .6l-1.2 .4l-1.1 .1l-1.2 0l1.1 .6l.4 .8l0 1.1l1.3 .8l.5 .6l-.3 .7l-1.1-.1l-.7-.5l-1 .1l-1 .1l-1.1 .3l-1 .3l-.7 .6l-1.1 .2l-1 .2l-.7 .5l-.7 .4l-.8 .4l-1 .4l-.7 .5l-.8 .4l-.6 .6l-.9-.4l-.9-.3l-1.1-.2l-1 0l-1.7 .4l-1.5 .5l-1.1 .2l-1.2 0l-1 0l-.9 .2l-.3 .8l-.2 .7l.1 .7l.4 .7l-1.1 .4l-1 .5l.6 .9l1 .6l-.2 .7l-.1 .7l.8 .3l-.7 .5l-.8 .4l-.4 .6l-.5 .6l.5 .4l-1.3 .3l-1.2 .5l-.1 .6l-.3 .5l-.3 .6l-.1 .6l-1 .3l-1 .1l-.4 .9l-.3 1l-.5 .5l-.7 .4l-.7 .5l-.6 .5l-.1-1l-.2-.9l-.4-.7l-.1-.8l0-.7l-.1-.7l-.4-.7l-.3-.7l-.1-.7l0-.8l.1-.7l.1-.7l.1-.7l-.2-.7l1.1-.9l.7-1l1.1-.6l.8-.8l.7-.5l.5-.6l.9-.4l.7-.6l.9-.5l1-.3l.6-.7l.8-.6l.6-.5l.5-.6l.8-.4l.6-.5l.5-.9l.3-.9l-1.6-.2l-1.2 .2l-1 .5l-1 .3l-1 .4l-.5 .7l-.3 .8l-1.1-.1l-.9-.4l-.8-.4l-.8-.4l-1.2 .1l-1.2 .3l-.4 .7l-.3 .8l-.9 .6l-.7 .7l.1 .7l.7 .6l-1.6 .3l-1.6 .3l-1.2-.2l-1.1-.2l-1.1-.6l-1.5-.1l-1.4 0l-1.2-.1l-1.2 0l-1.4 0l-.9 .6l-1.1-.4l-1.2 .1l-1.2 .1l-1.2 .2l-1.7 .1l-1.2 .9l-.7 .9l-.3 1l-1 .6l-1 .4l-.6 .8l-.6 .7l-.1 .8l-.6 .8l-.6 .7l-1 .5l-.6 .7l-1 .3l1.1 .6l1.3 .3l.7 .3l.8 .1l.6-.6l1-.1l.6 .5l.2 .6l.8 .2l.8 .4l-.2 .8l.6 .7l-.1 1.1l-.8 .8l.3 1l-.6 .9l.3 .7l-.1 .8l.1 .7l-.3 .7l-.5 .9l-.7 .5l-.7 .4l-.2 .7l-.3 .7l0 .7l-.4 .6l-.4 .5l-.7 .3l-.3 .8l-.8 .4l-.6 .7l-.7 .4l-.6 .9l-1 .6l-.8 .1l-.6 .6l-.7 .5l-.2 .7l-.9 .3l-.7 .5l-.6-.6l-1-.2l-.6 .8l-.9 .4l-.5 .6l-.5 .4l-.6 .3l-.1 .9l-.4 .8l-.3 .8l-.7 .6l-.9 .5l-.6 .4l-.8 .2l-.1 1l.6 .4l.6 .5l0 .8l.7 .6l.6 .6l.3 .9l.2 .5l.2 .6l0 .6l-.1 .6l-.1 .9l-.7 .8l-.7 .3l-.8 .1l-.8 .3l-.9 0l-.7 .6l-.3-.7l0-.8l.3-.8l.2-.6l0-.7l-.7-1l1-.3l-.3-1l-.8-.4l-.7-.2l-.6 .2l-.4-.7l.2-.6l.1-.6l.1-.6l.3-.5l-.4-.5l-.7-.3l-.6-.6l-.7 .3l-.7 .1l-.9 .7l-1 .3l-.5 .4l-.6 .3l-.6 .2l.3-.6l.2-.7l.4-.7l.3-.6l.4-.8l-.6-.3l-.5-.3l-.8 .2l-.7 .9l-.9 .6l-.8 .4l-.3 .6l-.5 .6l-.8 0l-.7 0l-.5 .5l-.2 .8l.7 .6l.7 .4l.8 .5l0 1l.8 0l.6-.2l.7-.4l.6-.6l.7 .3l.6 .3l.8 .2l.9 0l-.3 1l-1.1 .3l-1.1 .2l-.7 .4l-.4 .6l-.8 .4l-.5 .7l-.3 .7l-.2 .7l.9 .4l.7 .5l.4 .6l.3 .6l.1 .7l.3 .6l.3 .5l.3 .4l.4 .5l.3 .5l.3 .6l-.1 .6l.1 .7l-.7 .5l-.7 .3l-.6 .2l-.5 .3l.6 0l.6 .2l.5 .4l.6 .2l.1 .7l.1 .6l-.1 .9l-.4 .8l-.6 .5l-.8 .1l-.3 .8l-.3 .7l-.6 .9l-.4 .9l-.1 .6l0 .7l-.5 .7l-.6 .4l-.7 .4l-.6 .6l-.6 .8l-.6 .7l-.6 .3l-.4 .5l-.4 .4l-.5 .2l-.5 .2l-.5 .3l-.5 .3l-.4 .3l-.6 .2l-.5 0l-.6-.4l-.5-.6l-.1 .7l.1 .7l-.7 .6l-.9 .1l-.8 .2l-.7 .2l-.9 0l-.7 .6l-.4 .8l.2 .9l-.8 0l-.1-1.1l-.2-1l-.9-.2l-.6-.1l-.7-.1l-.4 .2l-.9 .4l-.7 .8l-.5 .1l-.2 .6l.1 .6l-.7 .7l-.4 .8l-.3 .6l-.1 .6l.8 .6l.3 1.1l.4 .7l.2 .9l.7 .5l.5 .1l.4 .4l.2 .5l.5 .3l.7 .5l.4 1l.3 .5l.1 .7l-.1 .7l.1 .6l0 1l.2 .9l-.2 1.1l0 1l0 .7l-.4 .5l-.7 .6l-.7 .5l-.8 .3l-.7 .5l-.3 .6l-.3 .7l-.6 .3l-.5 .5l-.5-.1l-.4 .3l-.2 .5l-.4 .4l-.1-1l-.3-.9l.4-1l-.8-.5l-.8 .2l-.6-.4l-.4-.8l-.6-.6l-.1-.9l-.5-.6l-.6-.4l-.5-.3l-.5 0l-.4-.3l-.5-.1l-.3-.8l.1-.7l-.6-.2l-.8 .3l.2 .8l-.3 .8l.1 .7l-.1 .8l-.2 .8l-.5 .5l-.1 .7l-.4 .5l.2 .5l0 .6l-.2 .6l.2 .6l.7 .5l.4 .8l.3 .5l.1 .7l.2 .5l.2 .6l.7 .6l.9 .3l.3 .8l.6 .4l.4 .3l.5 .1l.2 .4l.3 .5l.2 1l.4 .9l-.1 1l.1 .9l.3 .9l.1 1l.3 .5l.5 .4l.1 .6l0 .6l-.6 0l-.5 .2l-.4-.3l-.4-.3l-.3-.5l-.5-.2l-.2-.6l-.5-.5l-.5 0l-.5-.4l-.1-.6l-.4-.5l-.3-.4l-.1-.6l-.4-.5l-.3-.4l.2-.6l-.2-.6l.1-.9l-.2-.8l0-.7l-.3-.5l-.7-.8l-.3-.8l-.5-.7l-.6-.6l-.8 .2l.3-.9l-.3-1l.4-.9l.1-1l0-.8l-.2-.7l.2-1l.2-.9l-.3-.7l.1-.8l-.5-.9l-.1-1l-.1-.6l-.1-.6l-.1-.6l-.1-.5l-.1-.6l-.2-.6l.2-.6l-.2-.5l0-.6l-.3-.6l-.6-.2l-.3-.7l-.7 .3l-.4 .6l-.7 .7l-.7 .7l-.9-.1l-.8-.3l0-.8l-.2-.7l.4-.6l.2-.8l.1-.6l-.1-.7l-.2-.6l-.2-.5l-.9-.7l-.2-1.1l-.7-.3l-.4-.6l-.7-.4l-.3-.8l0-.6l-.5-.5l0-.9l-.3-.8l-.3-.5l-.3-.5l-.6 .4l-.7 .2l-.2 .6l-.2 .5l-.7 .2l-.6 0l-1 0l-.9 .4l-.4-.6l-.7 .6l-.6 .6l-.1 .6l-.4 .5l-.3 .8l-.6 .6l-.8 .4l-.5 .5l-.6 .4l-.4 .5l-.2 .6l-.5 .3l-.5 .5l-.7 .5l-.5 .7l-.4 .4l-.4 .4l-.3 .5l-.5 .4l-.4 .5l-.5 .4l-.6 .5l-.5 .5l-.6 .1l-.5 .1l-.2 1l-.1 1.1l-.1 .7l.2 .7l.2 .7l0 .7l-.4 1l-.1 1.1l0 1l-.3 .9l.1 .7l0 .7l-.9 0l-.4 .7l-.2 .8l.4 .4l-.6 .1l-.6 .4l-.3 .4l-.6 .6l-.4 .8l-.6-.4l-.5-.4l-.2-.7l-.3-.6l-.1-.7l-.3-.7l-.2-.6l-.2-.7l-.2-.7l-.2-.6l-.3-.6l-.2-.7l-.3-.6l-.4-.4l-.4-.8l-.1-.7l-.1-.7l-.3-.6l-.1-.7l-.5-.9l-.2-.7l-.2-.7l-.5-.8l-.2-1.1l0-.7l-.3-.7l-.1-.7l-.2-.7l-.3-.9l0-1l-.2-1l0-.9l.2-1l0-.9l0-.6l0-.6l-.3-.6l-.2-.5l-.3 .9l-.3 1l-.9 .3l-.8 .4l-1-.1l-.6-.5l-.5-.7l-.5-.7l-.6-.6l.6-.2l.5-.3l.4-.4l.4-.5l-.9 .2l-1 0l-.4-.8l-.5-.7l-.7-.2l-.7-.4l-.3-.6l-.2-.7l-.8-.4l-.1-.6l-.2-.5l-.6 .1l-.6-.2l-.6 .1l-.6 .2l-.5 0l-.6 .2l-.6-.1l-.6 .1l-.9 .2l-1-.1l-.5-.1l-.6 0l-.8 0l-.8-.2l-.6-.2l-.6 .1l-.6-.2l-.7 .1l-.9-.3l-1-.3l-.4-.4l-.2-.6l-.3-.6l-.3-.5l-.5-.3l-.6-.3l-.7 .2l-.6 .4l-.5 .4l-.7 .2l-.9-.5l-1-.1l-.7-.8l-.9-.5l-.7-.6l-.8-.2l-.6-1l-.5-.9l-.6-.8l-.2-.9l-.7-.2l-.6-.4l-.9-.4l-.7 .7l-.7 .3l-.2 .7l.4 .6l.2 .6l.5 .7l.2 .8l.7 .7l.5 .8l.4 .6l.6 .6l-.1 1l.2 1.1l.6 .6l.4 .7l0-.8l.1-.7l.5-1l.2 .9l.4 .7l-.1 .6l-.2 .7l.3 .5l.3 .5l.7-.1l.6-.1l.9 .1l1 .1l.5-.4l.4-.4l.9-.6l.5-.9l.6-.6l.5-.8l.6-.6l-.1 .7l0 .7l.2 .6l-.1 .7l.3 .7l.4 .5l.8 .3l.7 .6l.7 .3l.6 .1l.5 .8l.6 .7l.8 .6l-.1 .6l-.2 .5l-.3 .5l-.2 .5l-.7 .7l-.4 1l-.6 .3l-.7 .3l.1 .6l-.1 .5l0 .6l0 .6l-.6 0l-.6 .2l-.3 .9l-.5 .8l-.5 .1l-.5 .2l-.4 .4l-.5 .2l-.5 .2l-.4 .4l-.5 .1l-.5 .3l-.9 .2l-.8 .6l-.3 .5l-.2 .5l-.3 .5l-.4 .4l-.5 .3l-.4 .3l-.5 .1l-.5 .2l-.7 .5l-.7 .4l-.8 0l-.8 .3l-.6 .4l-.6 .5l-.7 .3l-.6 .5l-.5 .2l-.6 0l-.5 .1l-.5 0l-.5 .3l-.3 .5l-.6 .1l-.5 .3l-.5 .2l-.6 0l-.6 .2l-.6 0l-.2-.7l-.3-.7l0-.7l-.1-.7l-.2-.7l-.1-.7l-.2-.7l-.3-.7l-.1-.7l.1-.8l-.3-.9l-.2-1l-.4-.4l-.3-.4l-.3-.6l-.2-.5l-.3-.6l-.3-.5l-.3-.5l-.4-.5l-.4-.5l-.5-.4l-.3-.7l-.4-.5l-.5-.9l-.4-1l.1-.6l-.2-.6l0-.7l-.2-.6l-.3-.6l-.4-.6l-.4-.6l-.2-.6l-.5-.4l-.3-.5l-.3-.5l-.3-.6l-.3-.9l-.6-.8l-.3-.7l-.3-.6l-.4-.5l-.5-.6l-.5-.7l-.6-.7l.1-.7l.1-.7l-.2-.7l0-.7l-.3 .7l-.3 .8l-.1 .7l-.2 .6l-.2 .5l-.6-.5l-.4-.6l-.4-.5l-.3-.6l-.3-1l-.6-.9l-.4 .6l.4 .7l.1 .8l.4 .7l.4 .6l.3 .5l.4 .5l.3 .7l.3 .9l.3 .9l.3 .6l.4 .5l.1 .7l.3 .6l.4 1l.5 .9l.5 .2l-.3 .7l-.2 .7l.5 .3l.4 .4l.3 .5l.4 .5l.6 .7l.2 .9l.3 .9l.1 .6l.1 .7l-.1 .7l-.1 .6l.2 .8l.1 .8l.5 .2l.3 .5l.4 .4l.4 .4l.3 .6l.1 .6l.4 .6l.1 .7l.2 .5l.4 .4l.1 .6l.1 .6l.5 .6l.6 .5l.7 .7l.9 .4l.6 .5l.5 .5l.5 .6l.3 .7l.5 .6l.6 .6l.2 .6l.1 .6l-.3 .7l.6 .6l.4 .7l.4 .8l.8 .1l.7 0l.6-.4l.6-.1l.6 0l.6-.2l.6-.2l.6-.2l.6 0l.6-.3l.6 .1l.5-.2l.6-.1l.6-.2l.5-.2l.6-.2l.5-.3l.5-.3l.7 .1l-.2 .6l0 .7l-.1 .6l0 .7l-.2 1l-.2 .9l-.5 .6l-.3 .6l-.3 .7l-.2 .8l-.2 .6l-.3 .7l-.5 .5l-.3 .6l-.5 .8l-.5 .8l-.2 .9l-.3 1l-.6 .6l-.3 .9l-.6 .6l-.4 .7l-.4 .5l-.3 .6l-.5 .3l-.4 .5l-.5 .4l-.5 .5l-.5 .6l-.4 .6l-.6 .4l-.6 .4l-.6 .6l-.6 .6l-.4 .7l-.6 .6l-.3 .7l-.3 .7l-.5 .5l-.5 .6l-.5 .7l-.6 .6l-.6 .5l-.5 .6l-.2 .6l-.4 .4l-.1 .6l-.1 .6l-.3 1l-.5 .8l-.3 1.1l-.3 1l.5 .6l.3 .8l0 .5l.1 .6l0 .6l.2 .6l0 .9l-.1 1l.3 .9l.3 1l.5 .3l.4 .4l0 1.1l.2 1l0 .7l.1 .8l0 .7l0 .7l0 .7l0 .7l.2 .7l.2 .7l0 1l-.2 1l-.7 .7l-.6 1l-.5 .4l-.6 .3l-.4 .5l-.7 .3l-.6 .1l-.6 .4l-.5 .5l-.6 .3l-.2 .6l-.3 .5l-.4 .3l-.4 .5l-.4 .6l-.4 .6l-.5 .5l-.6 .2l-.2 .7l-.2 .7l.5 .8l.4 .9l.1 1l.2 .9l0 .7l.2 .6l-.1 .7l-.1 .7l-.3 .7l-.5 .6l-.5 .3l-.5 .5l-.7 .2l-.6 .3l-.6 .6l-.5 .6l-.1 .9l.3 .8l-.4 1l-.1 1.1l-.2 1l0 1.1l-3.2 0l-3.3 0l-3.2 0l-3.2 0l-3.3 0l-3.2 0l-3.2 0l-3.3 0l-.1-.6l-.1-.6l-.1-.6l-.1-.6l-.2-.6l-.2-.5l-.3-.6l-.3-.5l-.1-.7l0-.8l-.1-.8l-.1-.7l-.3-1l-.3-.9l.1-1.1l-.1-1l-.3-.7l-.2-.7l-.1-.7l-.2-.6l-.4-.6l-.3-.6l-.2-.6l-.2-.7l-.3-.7l-.2-.6l-.3-.7l-.5-.5l-.4-.9l-.7-.8l0-.9l-.1-1l.2-.9l-.1-1l.3-.8l.2-.7l.2-.6l.1-.7l.1-.6l.2-.6l.4-.6l.5-.6l.2-.8l.3-.7l.3-.5l0-.6l.2-.6l.2-.6l0-.7l0-.8l-.6-.9l-.2-1l0-.7l-.2-.6l-.2-.8l-.1-.7l-.3-1l0-1l-.5-.8l-.3-.9l-.1-.9l-.5-.9l-.2-1l-.5-.8l-.6-.6l-.4-.3l-.3-.4l-.4-.4l-.1-.6l-.7-.5l-.4-.8l-.4-1l-.6-.9l-.2-.6l-.1-.6l.4-.4l.4-.3l.2-.7l0-.7l.2-.5l.1-.6l0-1l.3-.9l.2-.9l-.1-.8l-.2-1l-.1-.9l-.5-.3l-.6-.1l-.1-1l-.5 .1l-.5 0l-.6 .1l-.6 .2l-.8 0l-.7 .1l-.7 .1l-.6-.8l-.4-.9l-.3-.6l-.4-.6l-.4-.5l-.4-.4l-.9-.1l-.9-.1l-.8 0l-.7 .2l-.5-.1l-.5 .1l-.5 .1l-.4 .3l-.4 .3l-.5 .3l-.5 .3l-.5 0l-.8 .3l-.8 .5l-.7 .5l-.8 .3l-.9-.5l-.9-.1l-.7-.2l-.7-.1l-.6 .1l-.6 .1l-.5 .2l-.6-.1l-.9 .4l-.9 .3l-.7 .4l-.7 .3l-.8-.4l-.7-.6l-.8-.8l-.8-.4l-.6-.2l-.6-.3l-.4-.5l-.5-.5l-.6-.5l-.5-.7l-.7-.5l-.8-.4l-.4-.5l-.3-.4l-.2-.6l-.2-.6l-.2-.6l0-.5l-.6-.8l-.6-.8l-.7-.7l-.3-.7l-.5-.5l-.5-.9l-.4-1l-.4-.3l-.4-.3l-.4-.2l-.5-.1l-.1-1l-.1-.9l-.3-.8l0-.8l-.4-.4l-.4-.5l.7-.6l.4-1l.5-.9l.2-.9l.1-1l.4-1l.1-1.1l-.1-1l-.4-.9l.1-.9l-.1-.8l-.6-.8l-.6-.8l.1-.6l0-.7l.2-.7l.4-.6l.3-.6l.2-.8l.4-.7l.2-.8l.5-.4l.2-.6l.5-.4l.2-.5l.4-.6l.1-.7l.2-.7l.1-.7l.8-.4l.6-.7l.3-1l.4-.9l.9-.4l1-.3l.7-.6l.7-.8l.7-.5l.7-.5l.4-1l.4-1.1l0-.9l-.3-1l.2-.5l.1-.6l.4-.4l.2-.6l.7-.6l.6-.9l.6-.3l.8-.3l.5-.5l.7-.3l.3-1l.5-.8l.4-.8zM75.5 293.7l1.1-.2l.5-.5l.9 .1l.9-.3l.8-.4l.7 .3l.9-.1l1.1-.3l1 .3l1-.4l.7-.2l.8 .1l.7-.6l-1.3-.6l.7-.6l.9-.7l.2-.8l-.7-.6l-1.2 0l-.5 .2l.2-.7l-.3-.8l-.5-.8l-.6-.9l-1.1-.6l-.3-.6l-.2-.7l-.6-.6l-1-.5l-.9 .1l.6-.5l.6-.8l.6-.9l.4-.8l-1.1-.5l-1.3 .3l-1.2 .4l.4-1l.5-.7l.7-.5l-1.6-.5l-1.4 .6l0 .6l-.5 .5l-.2 .7l-.6 .5l.4 .5l-.1 .6l-.9 .2l.9 .8l.2 .5l0 .6l-.4 .8l1.2-.6l0 .6l.3 .5l-.5 .4l.9 .1l.8-.1l1.1-.2l-.3 1l.8 .7l-.1 .6l.1 .6l-.8 .1l-.8 .3l-.9-.2l.3 .7l-.5 .2l1 .2l0 .8l-1 .5l-.8 .3l.4 .4l1.2 .1l.6 .1l1 .3l.8-.3l-.7 .7l-.8-.3l-.9 .3l-.5 .6l-.1 .6l-.8 .3zM640.7 293.7l1.1-.2l.5-.5l.9 .1l.9-.3l.8-.4l.7 .3l.9-.1l1.1-.3l1 .3l1-.4l.7-.2l.8 .1l.7-.6l-1.3-.6l.7-.6l.9-.7l.2-.8l-.7-.6l-1.2 0l-.5 .2l.2-.7l-.3-.8l-.5-.8l-.6-.9l-1.1-.6l-.3-.6l-.2-.7l-.6-.6l-1-.5l-.9 .1l.6-.5l.6-.8l.6-.9l.4-.8l-1.1-.5l-1.3 .3l-1.2 .4l.4-1l.5-.7l.7-.5l-1.6-.5l-1.4 .6l0 .6l-.5 .5l-.2 .7l-.6 .5l.4 .5l-.1 .6l-.9 .2l.9 .8l.2 .5l0 .6l-.4 .8l1.2-.6l0 .6l.3 .5l-.5 .4l.9 .1l.8-.1l1.1-.2l-.3 1l.8 .7l-.1 .6l.1 .6l-.8 .1l-.8 .3l-.9-.2l.3 .7l-.5 .2l1 .2l0 .8l-1 .5l-.8 .3l.4 .4l1.2 .1l.6 .1l1 .3l.8-.3l-.7 .7l-.8-.3l-.9 .3l-.5 .6l-.1 .6l-.8 .3zM74.4 289.6l.8-.6l-.3-.8l-.1-.8l.2-.7l-.3-.6l1.1-.7l-.2-.6l-.8-.9l-.9-.4l-1 .1l-.6 .4l-.9 0l-.5 .8l.6 .4l-.6 .4l-1.1 0l-1.1 .1l-.2 .6l0 .6l1.1 .1l.7 .7l-1 .5l-.4 .9l-.8 .7l.3 .5l.6 .7l1.1 .1l1-.5l1.1-.4l1.1-.4zM639.6 289.6l.8-.6l-.3-.8l-.1-.8l.2-.7l-.3-.6l1.1-.7l-.2-.6l-.8-.9l-.9-.4l-1 .1l-.6 .4l-.9 0l-.5 .8l.6 .4l-.6 .4l-1.1 0l-1.1 .1l-.2 .6l0 .6l1.1 .1l.7 .7l-1 .5l-.4 .9l-.8 .7l.3 .5l.6 .7l1.1 .1l1-.5l1.1-.4l1.1-.4zM614 267.5l1.2-.7l-.1-.7l-1.6-.3l-1.6-.4l1.5-.4l1.7 .2l-.8-.8l-1.7 .2l-1.5-.4l.6-.7l1-.6l1.7-.5l.6 .9l1.2 .7l.9-.4l.6-.5l2.1 0l1.5-.1l1.6-.1l1.3-.6l1.1 .4l1.4-.1l-.3 1.1l1.8 .5l0 1l-.2 .7l-1.2 .4l-1 .5l-1.3 .3l-1 .5l-1.4 .1l-1.4 0l-.9 .5l-2.1-.3l-1.4-.5l-1.2 0zM101.7 237.2l.4 .8l-1.2 .7l2.6 .8l2.1 .9l.8 .9l.3 .8l2 .4l1.6 .8l1.7-1l1.4-1l1.4-1l3.4-.3l-1.2-.9l-2.8-.6l.1-.8l-1.6-.5l-3.2-.6l-2.1 0l-1.8 .4l-1.9 .2zM666.9 237.2l.4 .8l-1.2 .7l2.6 .8l2.1 .9l.8 .9l.3 .8l2 .4l1.6 .8l1.7-1l1.4-1l1.4-1l3.4-.3l-1.2-.9l-2.8-.6l.1-.8l-1.6-.5l-3.2-.6l-2.1 0l-1.8 .4l-1.9 .2zM112.7 236.2l1.7-.4l2.2 0l2.7 .4l2.8-.4l1.9 .6l2.8 0l-2.2 .5l-.9 .8l-3.2-.2l-3.1 .2l-2-.2l-2-.2l.4-.6zM677.9 236.2l1.7-.4l2.2 0l2.7 .4l2.8-.4l1.9 .6l2.8 0l-2.2 .5l-.9 .8l-3.2-.2l-3.1 .2l-2-.2l-2-.2l.4-.6zM117.4 241.3l2.2 .4l2.5 0l1.2-.6l-.4-.7l-2.7 .2l-2-.6l.2 .7zM682.6 241.3l2.2 .4l2.5 0l1.2-.6l-.4-.7l-2.7 .2l-2-.6l.2 .7zM155.1 235.4l2.6 .2l2.1-.5l3.1 .5l-2 .6l-2.7-.2zM720.2 235.4l2.7 .2l2.1-.5l3.1 .5l-2 .6l-2.7-.2zM167.6 236l2 .1l1.9-.1l.3-.7l2.1-.2l2.6-.1l2.1 .4l-1.1 .6l-2 .4l-2.4 0l-2.3 .2zM732.8 236l2 .1l1.9-.1l.3-.7l2.1-.2l2.6-.1l2.1 .4l-1.1 .6l-2 .4l-2.4 0l-2.3 .2zM179.4 234.7l3 .1l2.5-.5l1.5 .8l-2.2 .3l-2.5 0zM744.6 234.7l3 .1l2.5-.5l1.5 .8l-2.2 .3l-2.5 0zM170.8 234.1l2.9 0l1.8-.8l1.5 .6l-3.2-.2zM736 234.1l2.9 0l1.8-.8l1.5 .6l-3.2-.2zM165.6 252.8l-.3-1l.9-.7l.6-.8l1.6-.5l0-.8l1.6-.8l.5-.6l.3-.7l.3-.7l1.2-.5l1.3-.5l1.9-.4l1.9-.5l2-.5l2.6-.5l2.9-.2l3.2-.4l3.1-.4l1.5 .6l-.8 .7l-3.2 .2l-2.3 .8l-2.1 .6l-2.6 .5l-1.7 .8l-1.4 .8l-.3 .8l-1.3 .7l0 .8l-1.5 .7l-1 .8l-.6 .7l.5 1l.3 .9l-.3 .8l-2.9-.1l-2.3-.1l-1.6-.6l-1.3-.4zM730.8 252.8l-.3-1l.9-.7l.6-.8l1.6-.5l0-.8l1.6-.8l.5-.6l.3-.7l.3-.7l1.2-.5l1.3-.5l1.9-.4l1.9-.5l2-.5l2.6-.5l2.9-.2l3.2-.4l3.1-.4l1.5 .6l-.8 .7l-3.2 .2l-2.3 .8l-2.1 .6l-2.6 .5l-1.7 .8l-1.4 .8l-.3 .8l-1.3 .7l0 .8l-1.5 .7l-1 .8l-.6 .7l.5 1l.3 .9l-.3 .8l-2.9-.1l-2.3-.1l-1.6-.6l-1.3-.4zM176.2 255.1l1.4 .1l1.5 .1l-.5 .9l-1.9-.2zM741.4 255.1l1.4 .1l1.5 .1l-.5 .9l-1.9-.2zM160.2 257l1.9-.4l1.3 .8l-1.8 .7l-.3-.6zM725.4 257l1.9-.4l1.3 .8l-1.8 .7l-.3-.6zM235.1 238.5l.6-1l1.8-.9l-2.5-.1l-2-.4l-1.6-.6l-1-.6l2.1-.5l2.6-.1l2.7 .5l2 .6l1.1 .8l.5 .8l3.1 .6l3.2 .5l-1.3 .8l-.3 .9l-2.6 .4l-2.9 .2l-.7-.6l-.9-.7l-2.2-.1zM242.2 238.9l3.4 .3l2.9 .6l.7 .8l-3.1 .1l-3.1-.1l-2.4-.8zM299.5 245.5l1.7-.6l.6-.9l2.8 .2l2.7 0l2.3 .5l2.5 .5l-1.4 .6l-1.8 .5l-2.4 .1l-2.3 .3l-3.1-.2zM314.4 245.3l2 .1l1.9 .1l1.9 .3l1 .5l-2 0l-1.7 .4l-1.6-.2l-1.5-.4zM303.9 249.2l1-.6l1.7-.4l1.4 .4l1.7 .4l-2.4 .5l-2.3-.1zM364.6 253.7l1.2-.4l1.2-.5l2-.1l1.6 .5l.3 .5l-2.3 .4l-1.6-.2l-1.6 .2zM308.4 285.4l.5 1l.3 1.1l0 .7l-.4 .5l.6 .6l0 .7l-.2 .7l.4 .7l.2 .7l.1 .7l.3 .6l0 .6l.2 .5l.1 .6l.6 .3l.5 .5l-.7 0l-.8 0l-.5-.3l-.7-.3l0 .9l.4 .7l-.3 .8l-.7 .7l.2 .5l.4 .6l.8 .4l.1 .7l-.3 .6l-.3-.6l-.8-.3l-.2 .8l-.9 .4l.1-.8l-.2-.8l.5-1l-.4-.9l.4-1l-.2-.9l0-1.1l-.2-1l.4-.5l.3-.6l-.5-1l-.2-1l-.4-.9l0-.7l-.2-.6l.3-.6l0-.6l.6-.6l.2-.8zM304.2 310l.9-.5l1-.1l-.9-.2l-.5-.7l1.1-.5l.8 0l.7 .1l.9 .7l1.1 .3l.4-.6l.2-.6l.7-.3l.5-.5l1.2 0l1-.6l-.6-.9l-.2-1l-.7 .5l-.8 .1l-.6-.3l-.6-.3l-.5-.5l-.4-.4l-.7-.9l-1-.4l.3 1l-.6 .9l-.2 .5l-.3 .6l.1 .6l-.3 .5l-.7 .2l-.7-.2l-.3 .6l-.3 .6l-.3 .9l0 .7zM305.6 310l.8 .2l.1 .8l.1 .9l0 1l.7 .7l-.1 .8l-.5 .5l-.1 .6l0 .6l-.8 .2l0 .6l.3 .5l-.2 .6l-.1 .6l-.5 .6l-.2 .7l.4 1l-.4 .5l-.3 .6l-.8 .6l.1-.6l-.2-.6l-.2 .7l-.9 .3l-.4 .7l-.1-.9l-.7 .3l-.2 .6l-1 .2l-.9-.2l-.2 .6l-.5 .3l-.4 .5l-.5 .3l-.3 .5l-.5-.5l-.6-.3l.1-.8l.4-.7l-.7 0l-.7-.1l-1 .4l-1.1 .1l-1.1 .3l-.4 .4l-.5 .3l-.8 .1l-.7-.1l-.1-.7l.8-.3l.6-.3l.5-.5l.3-.7l.6-.3l.7-.4l.8-.2l.9 .3l.9 .1l.7-.5l.9 .5l.3-.4l-.1-.6l.3-.5l.2-.7l.7-.4l0-.8l1-.4l-.4 .8l-.1 .5l.8-.6l1.1-.1l.6-.5l.3-.7l.4-.3l.3-1l.9-.8l0-.7l.1-.8l-.3-.4l.5-.2l.2-.6l-.4-.5l.7-.5l0-.7l.6 .7zM291.6 325.5l.4-.7l.7-.3l.5-.3l1 .1l.7-.7l.8 .3l.3 .8l-.4 .5l-.5 .5l-1-.5l-.6 .6l-.3 .9l-.8-.4l-.1-1zM289.9 324.5l.6 .4l.7 .1l-.2 .7l.6 .6l-.4 .8l-.4 .5l0 .7l-.2 .9l-.6 .3l-.4 .5l0-.6l-.2-.5l-.6 .6l-.2-.7l.2-.7l.1-.6l-.1-.6l.6-.3l-.6-.6l-.4 .4l-.2 .5l-.3-.5l.1-.6l.5-.6l.6-.2zM284.9 339.3l.4-.7l.5-.6l-.4 .6zM282.5 325.6l.6 0l.5-.4l-.4 .5zM275.2 340.9l.7 .5l-.1 1l-.5 .9l-.1 .9l-.2 .9l-.1 .6l-.2 .6l-.2 .6l-.4 .4l-.5-.6l-.3-.7l-.3-.9l0-.7l.1-.7l.5-.7l.3-.8l.5-.9zM254.9 352.5l.6-.8l.8-.5l.6-.2l.7-.1l.6 .2l.5 .5l-.5 .8l-.3 .9l-.3 .5l-.5 .2l-.8 .4l-.6-.3l-.6-.3l0-.7zM210 370.4l.3 .7l.5 .6l.6 .6l.5 .5l.1 .7l.2 .6l.3 .6l.4 .5l-.1 .7l-.1 .8l-.6 .4l-.5 .4l-.7 .3l-.6-.1l-.3-.9l-.2-.9l-.2-1l.1-1.1l.2-.8l-.1-.9l0-.8zM234 378.5l.8 .2l.7 .2l.7 0l.7 .3l.8 .4l.6 .9l.5 .8l.6 .7l.5 .2l.3 .5l.3 .5l.6 .2l.5 .2l.4 .4l.5 .4l.5 .5l.4 .7l.7 .3l.5 .6l.4 .7l.6 .3l.5 .5l.7 .3l.4 .8l-.3 .9l0 1l.7-.3l.7 .4l.1 .8l.1 .8l.6 .8l.5 .1l.6 .1l.5 .6l.2 .9l-.5 .8l.1 .9l.2 .9l0 .8l0 .8l-.1 .8l-.4-.4l-.5-.2l-.5 .6l-.7 .1l-.4-.8l-.6-.7l-.6-.6l-.7-.6l-.7-.5l-.6-.8l-.3-.6l-.4-.7l-.6-.4l-.6-.4l-.5-.7l-.1-.9l-.1-.9l-.4-.8l-.7-.7l-.3-1.1l-.4-.3l-.5-.3l0-.7l-.3-.6l-.1-.7l-.1-.6l-.5-.1l-.4-.2l-.4-.3l-.3-.6l-.3-1l-.6-.8l-.3-.6l-.5-.4l-.5-.3l-.4-.4l-.5-.4l-.2-.5l-.1-.7l-.5-.4zM249.6 402l.5-1l.7-.7l.7 0l.6 .4l.6 .3l.6-.2l.5 .2l.6 0l.5 1l.6 .6l.8 .2l.6-.5l.8 .1l.4-.6l.4-.5l.8 .6l.5-.1l.5 .1l.5 0l.4 .4l.1 .5l.5 .5l.3 .6l.6-.1l.7 0l.7 .6l.1 .7l0 .7l-.7-.1l-.6-.1l-.6-.3l-.5-.4l-.5 0l-.5-.2l-.5 .1l-.5 .2l-.6-.2l-.6 .2l-.4-.5l-.6-.1l-.6-.3l-.4-.4l-.5 .3l-.6-.1l-.5-.1l-.5 .2l-.5 0l-.5-.3l-.6-.1l-.5-.3l-.3-.5l-.5-.4l-.5-.2l-.5-.2l-.5-.1zM261.3 402.5l.5-.1l.5 .1l.4-.3l.5 .1l-.6 .1l-.8 .4zM264.2 404.5l.5 0l.6-.1l.3 .6l.4 .1l-.4 .3l-.3 .5l-.6-.3l-.4-.5zM266.4 405.1l.7-.4l.5 .8l-.8 .6zM267.8 405.1l.7-.3l.7-.2l.5 0l.4 .4l.7-.1l.6-.2l-.2 1l-.6-.2l-.5 .4l-.9 .1l-.8 .4l-.3-.6zM272.5 405.3l.3-.5l.6 0l.5 .1l.5 .1l.7 .2l.7-.3l.7-.3l.7-.1l.3 .6l-.8 .2l-.8 .6l-.5-.5l-.6 .1l-.7-.1l-.5 .5l-.6-.2zM271.2 407.2l.9 .1l.7-.5l.8 .4l.5 .9l-.6 .1l-.4 .5l-.9-.2l-.7-.7zM278.3 408.8l.7-.1l.4-.7l.1-.7l.4-.7l.5-.4l.4-.6l.6-.1l.5-.3l.5 .2l.6-.2l.6-.2l.7 .1l-.7 .7l-.4 .6l-.6 .2l-.5 .4l-.7 0l-.5 .3l-.5 .1l-.3 .6l-.4 .5l-.7 .1zM256.5 385.2l.7 .2l.4 .7l.7 .3l.7 0l-.3-.9l.3-1l.5-.6l.7-.3l1 .1l.7-.7l.5-.5l.6-.3l0-.8l.3-.7l1-.2l.6-.8l.4-.4l.3-.5l.4-.7l.6-.4l.4-.5l.4-.2l.3-.5l.2-.6l.7 .6l.6 .8l.6 .6l.3 .6l.4 .5l.6 0l.5 .2l-.7 .1l-.8 .3l.5 .9l-.5 .4l-.6 .1l-.4 .8l-.1 1l.5 1l0 1.1l.4 .6l.3 .7l.6 .4l.4 .6l-.9 .1l-.8 .3l-.4 .6l-.2 .7l.1 .7l-.1 .6l-.4 .9l-.7 .4l-.3 .8l-.5 .6l.1 1l0 .9l-.4 .6l-.2 .8l-.6 .2l-.5-.3l-.4 .5l-.5 .3l-.3-.7l.1-.8l-.8-.1l-.9 .1l-.6 .4l-.6-.2l-.6 .2l-.6-.2l-.4-1l-.6 0l-.6 .1l-.6-.1l-.6 0l-.4-.9l0-1.1l-.3-.5l-.1-.6l-.3-.5l-.3-.6l-.4-.9l.1-1l-.2-.5l0-.6l.4-.3l.2-.7l.3-.6zM274.1 387.1l.4 0l.5 .1l.5-.1l.4 .1l.8-.3l.8 .4l.6-.1l.5 .2l.4-.5l.6-.3l.8-.4l.6 0l-.2 .7l-.5 .5l-.6 .5l-.6 .4l-.7-.2l-.7 0l-.6 .4l-.7 .1l-.6-.1l-.6-.4l-.8 .4l-.8-.4l-.4 .6l-.3 .6l-.1 .7l.3 .6l.5 .6l.4 .6l.6-.7l.7-.2l.6 0l.5 .3l.5-.4l.6 0l.6 .2l-.5 .5l-.4 .7l-.5 .2l-.5 .1l-.5 .1l-.5 .1l0 .7l.3 .5l.5 .4l.3 .5l.4 .8l.2 1l.5 .9l-.5 .7l-.9-.1l-.8 0l-.2-1l-.6-.6l-.3-.5l0-.6l.1-.6l0-.6l-.5 .3l-.6 .3l.4 .9l-.1 1l.3 .8l.2 .7l-.2 .8l-.2 .8l-.7 0l-.8 0l-.1-.9l.3-.4l0-.6l.1-.6l-.1-.6l-.6-.3l-.4-.5l0-.8l-.1-.9l.2-.6l.1-.7l.2-.7l.3-.6l.4-.5l.3-.7l.1-.7l-.2-.6l-.1-.7l.4-.6l.7-.3zM284.6 387.2l.2-.6l.4-.4l-.1-.7l.1-.6l.2 .8l.4 .5l.7 0l-.4 .7l-.4 .7l.3 .5l.5 .4l-.6 0l-.5 0l-.2 .6l.1 .6l.5 .3l.2 .6l-.5-.3l-.3-.6l-.2-.7l-.3-.7l-.1-.5zM285.2 395.2l.9-.2l.8-.6l.8 .1l.8 0l.8 .1l.6 .8l-.6 .5l-.8 .1l-.6 .4l-.6-.2l-.5-.3l-.7-.1l-.3-.5zM282.2 395.2l.8 .1l.8-.3l.3 1l-.7-.1l-.7 .4l-.1-.6zM273.7 353.8l.7 .3l.6 .3l.6-.5l.7 0l.1 .7l-.2 .7l.2 .7l-.1 .7l-.4 .5l-.5 .5l-.1 .7l-.1 .7l-.1 .8l.2 .8l.8 .5l.3 1l.5 .2l.6 0l.8 .2l.7 .2l.3 .5l-.1 .7l.1 .6l-.1 .6l-.6-.5l-.6-.4l-.6-.6l-.7-.5l-.6-.5l-.8-.1l-.9 .3l-.7-.2l.1-.8l.5-.5l-.7 .2l-.4-.8l-.6-.8l0-1l0-1l.6 .6l.3-.5l0-.6l0-.6l-.2-.6l0-.7l.4-.5l-.2-.7zM273.3 363.4l.7-.2l.7 .4l0 .8l.5 .7l-.5 .7l-.6-.5l-.6-.9zM279.6 365.3l.7-.2l.8 .1l.5 .5l0 .9l-.1 .7l.3 .7l-.5-.2l-.7 .1l-.1-.5l-.5-.4l-.2-.6l-.2-.5zM279.7 367.3l.5 .2l.4 .1l.3 1l.1 1.1l-.7 .1l-.4-.6l-.2-.9zM275.8 366.4l.4 .4l.4 .3l.6 .1l.5-.1l-.3 .6l.1 .6l-.7 .4l-.5 .2l-.4 .3l0-1.1l.2-.9zM276.6 370l.5-.5l.3-.7l.9-.5l-.4 .9l.1 1l-.1 .9l-.2 .7l-.3-.5l-.5-.1l-.3-.6zM279.1 367.7l-.3 .7l.1 .9l-.7 .7l-.1 1.1l-.1-.9l.3-.7l.6-.8zM278.8 370.4l.4-.5l.7-.1l0 .8l-.8 .2zM268.4 373.1l.4-1l.9-.5l.4-.8l.7-.3l.7-.6l.2-.9l.2-.8l.1-.7l-.5 .7l-.3 .5l-.5 .2l0 .6l-.3 .5l-.3 .5l-.3 .5l-.4 .3l-.4 .5l-.1 .7zM276 375.9l.1-.7l0-.8l.5-.5l.6-.3l.5-.3l.4-.6l.2 .6l.5 .4l.6-.2l.7-.6l.6-.4l.3-.7l.1-.8l.3-.6l.6 .8l.5 .7l-.1 .8l.3 .8l.4 .7l.1 1l-.5 .9l-.2 1l-.3-.7l-.5-.6l-.4 .5l0 .8l-.2 .7l0 .7l-.5-.2l-.5-.1l-.2-.6l-.5-.3l-.2-.7l-.1-.7l.3-.6l-.6-.5l-.7-.3l-.4 .4l-.5 .1l-.7 .3zM290.5 390.7l.5-.3l.2-.6l.5-.2l.6 .2l.6 .3l.7-.1l.6 .4l.7 .3l-.1 .6l.2 .6l.1 .6l.3 .4l0 .8l.2 .7l.5-.1l.4 .3l.5 .3l.1 .6l.8-.2l.6-.5l.2-.9l.6-.6l.5-.3l.5 0l.4-.5l.2-.5l.5 .2l.5-.2l.5 .4l.2 .5l.6 .6l.7 .1l.7 .5l.7-.1l.5 0l.4 .2l.9 .5l.8 .4l.4 .4l.5 .3l.6-.2l.5 .3l.7 .4l.7 .1l.4 .8l.7 .5l.3 .8l.6 .5l.6 .3l.4 .5l.6 .4l.6 .1l.4 .6l.6 .3l0 .5l-.7-.1l-.6 .4l.3 .7l.2 .7l.2 .6l.5 .5l.3 .7l.5 .4l.8 .3l.8 .5l.5 .3l.2 .5l.3 .6l.2 .6l.6 .3l.6-.1l-.3 .7l-.6-.3l-.6-.5l-.7 .1l-.7 .1l-.7-.5l-.8 0l-.8-.3l-.6-.8l-.5-.6l-.2-.9l-.7-.4l-.4-.8l-.8-.3l-.9-.3l-.9-.1l-.7 .7l-.3 .6l-.5 .3l-.3 1.1l-.8 .3l-.9-.3l-.9-.2l-.8 .2l-.4-.7l-.6-.4l-.6 0l-.6 .2l-.5-.4l-.6-.1l-.7 0l-.7 .1l.4-.6l0-.8l.3-.6l.4-.7l-.3-.7l-.2-.7l-.1-.7l-.5-.6l-.7 0l-.6-.5l-.7-.3l-.4-.6l-.8-.4l-.6-.7l-.8-.4l-.8-.2l-.7-.1l-.6-.4l-.9-.1l-.8 .7l-.5-.9l-.1-1.1l.4-.6l.7-.2l.8-.4l-.6-.2l-.7-.1l-.6-.1l-.6-.2l-.8-.5l-.8-.6l.5-.4zM317.4 400l.8-.6l.9 .3l.5 .3l.5-.1l.6 0l.5-.3l.2-.7l.5-.4l.4-.6l0-.8l.6 .3l.6-.1l-.1 .7l-.4 .6l-.5 .2l-.3 .6l-.2 .5l-.2 .5l-.5 .3l-.4 .1l-.5 .3l-.5 0l-.8-.4l-.8 .2l-.6-.3zM321.2 394.1l.4 .4l.6 0l.3 .6l.5 .3l.4 .6l.4 .5l.3 .7l.5 .5l-.1 .6l-.3-1l-.3-.8l-.6-.8l-.7-.3l-.8-.6zM327.1 399.4l.9 .3l.5 .8l.2 .9l.5 .7l-.6-.3l-.5-.3l-.3-.6l-.4-.3l-.3-.6zM330.1 401.9l.5 .1l.5 .1l.2 .5l.4 .4l-.5 .2l-.7-.5zM333.2 403.6l.5 .4l.6 .3l.6 .2l.4 .6l-.5 .2l-.4-.4l-.5-.2l-.2-.7zM335.1 406.8l.9 .6l.9 .4l-.8 .2l-.5-.6zM336.5 405.1l.5 .5l.3 .5l.2 .6l.1 .7l-.4-.6l-.4-.8zM337.6 408.7l.9 .4l.7 .6l-.8-.2l-.3-.5zM341.9 427.4l.6 .3l.6 .6l.6 .3l.5 .5l.5 .7l.6 .7l.7 .5l.6 .6l-1 0l-.6-.6l-.6-.6l-.5-.7l-.8-.4l-.3-.5l-.3-.4l-.2-.6zM346 417.1l.3 1l.6 .7l-.6 0l-.3-.8zM347.1 419.6l.4 .4l.3 .6l-.6 0zM348.5 422.7l.4 .3l-.4 0zM362.8 422.5l.5-.1l.5 0l.5 0l.5 .3l-.1 .6l-.2 .5l-.8 0l-.8-.2l0-.6zM364.8 421.1l.5-.2l.5-.3l.5-.3l.5-.1l-.3 .4l-.3 .5l-.7 0zM161.7 411.9l.4 .6l.3 .6l.1 .7l.2 .7l.3 .9l.2 1l.4 .9l.1 1l-.3 .6l-.2 .7l-.3-.5l-.3-.5l-.1 .6l0 .7l-.1 .7l-.1 .7l0 .6l0 .6l-.2 .6l-.1 .6l-.3 .9l-.2 .9l-.4 .8l-.1 .9l-.4 .7l-.2 .7l-.1 .7l-.1 .8l-.3 .9l-.3 .9l-.3 .9l-.2 .9l-.3 .8l-.4 .7l0 .8l-.2 .9l-.7 .3l-.7 .3l-.8 .2l-.7 .2l-.5-.3l-.4-.4l-.4-.2l-.5-.2l-.2-.8l-.1-.8l-.1-.8l-.2-.8l-.2-1.1l-.3-1.1l.3-.8l.2-.9l.3-.4l.3-.5l.2-.5l.3-.5l.1-.6l-.1-.6l.1-.7l0-.6l-.2-.7l-.3-.7l-.1-.7l0-.7l.2-.6l.1-.7l.1-.6l.3-.6l.7-.3l.8-.1l.7-.1l.7-.5l.4-.3l.5-.3l.3-.4l.4-.5l.3-.5l.4-.6l.2-.7l.2-.7l.3-.5l.3-.6l.4-.4l.4-.6l.2-.6zM726.9 411.9l.4 .6l.3 .6l.1 .7l.2 .7l.3 .9l.2 1l.4 .9l.1 1l-.3 .6l-.2 .7l-.3-.5l-.3-.5l-.1 .6l0 .7l-.1 .7l-.1 .7l0 .6l0 .6l-.2 .6l-.1 .6l-.3 .9l-.2 .9l-.4 .8l-.1 .9l-.4 .7l-.2 .7l-.1 .7l-.1 .8l-.3 .9l-.3 .9l-.3 .9l-.2 .9l-.3 .8l-.4 .7l0 .8l-.2 .9l-.7 .3l-.7 .3l-.8 .2l-.7 .2l-.5-.3l-.4-.4l-.4-.2l-.5-.2l-.2-.8l-.1-.8l-.1-.8l-.2-.8l-.2-1.1l-.3-1.1l.3-.8l.2-.9l.3-.4l.3-.5l.2-.5l.3-.5l.1-.6l-.1-.6l.1-.7l0-.6l-.2-.7l-.3-.7l-.1-.7l0-.7l.2-.6l.1-.7l.1-.6l.3-.6l.7-.3l.8-.1l.7-.1l.7-.5l.4-.3l.5-.3l.3-.4l.4-.5l.3-.5l.4-.6l.2-.7l.2-.7l.3-.5l.3-.6l.4-.4l.4-.6l.2-.6zM168.2 365l.9 0l.9 .2l-.6 .1l-.5 .4zM733.4 365l.9 0l.9 .2l-.6 .1l-.5 .4zM152.4 411.2l.3 .6zM717.6 411.2l.3 .6zM171.2 428.9l.8 .4l-.5 .4zM736.4 428.9l.8 .4l-.5 .4zM174.5 427.4l.6 .4l-.4 .4zM739.7 427.4l.6 .4l-.4 .4zM103.9 317l.7-.3l.7-.4l.9-.1l.9 .1l.9-.2l.9 0l-.3 .8l-.5 .7l.1 .8l-.1 .7l-.6-.3l-.6-.2l-1.1-.4l-1-.6zM669.1 317l.7-.3l.7-.4l.9-.1l.9 .1l.9-.2l.9 0l-.3 .8l-.5 .7l.1 .8l-.1 .7l-.6-.3l-.6-.2l-1.1-.4l-1-.6zM97.3 311.1l.7-.4l.8-.2l.6 .6l.4 .8l0 .6l-.2 .6l0 .7l-.1 .6l-1 .3l-.9-.1l-.2-1.1l.2-1l-.1-.7zM662.5 311.1l.7-.4l.8-.2l.6 .6l.4 .8l0 .6l-.2 .6l0 .7l-.1 .6l-1 .3l-.9-.1l-.2-1.1l.2-1l-.1-.7zM97.9 308.3l.5-.7l.8-.5l-.1 .9l.3 .8l-.2 .7l-.4 .7l-.4-.5l-.5-.5zM663.1 308.3l.5-.7l.8-.5l-.1 .9l.3 .8l-.2 .7l-.4 .7l-.4-.5l-.5-.5zM121.3 321.8l.8-.1l.8-.2l.7-.4l.8-.2l.6 .5l.7 .4l-.5 .5l-.8 .1l-.5 .3l-.7 .1l-.5-.4l-.6-.2zM686.5 321.8l.8-.1l.8-.2l.7-.4l.8-.2l.6 .5l.7 .4l-.5 .5l-.8 .1l-.5 .3l-.7 .1l-.5-.4l-.6-.2zM135.1 322.3l.6-.3l.5-.4l.6-.2l.7-.1l.6-.1l.6-.2l-.5 .7l-.4 .7l-.8 .4l-.8 .3l-.5-.4zM700.3 322.3l.6-.3l.5-.4l.6-.2l.7-.1l.6-.1l.6-.2l-.5 .7l-.4 .7l-.8 .4l-.8 .3l-.5-.4zM88.2 313.6l.5-.3l.6-.4l.4 .5l-.6 .8zM653.4 313.6l.5-.3l.6-.4l.4 .5l-.6 .8zM120.5 314.9l1.1 0l.8 .6l.6 .5l0 .7l-.8-.6l-.9-.6zM685.7 314.9l1.1 0l.8 .6l.6 .5l0 .7l-.8-.6l-.9-.6zM127.9 320.2l.8-.6l-.2 .9zM693.1 320.2l.8-.6l-.2 .9zM125.1 314.4l.9-.3l-.2 .6zM690.3 314.4l.9-.3l-.2 .6zM101.7 283.1l.8-.5l.7-.5l1 .8l-.5 .6l-.3 .7l-1.4-.3zM666.9 283.1l.8-.5l.7-.5l1 .8l-.5 .6l-.3 .7l-1.4-.3zM99.8 283.5l1.4-.2l0 .9l-1.1-.1zM665 283.5l1.4-.2l0 .9l-1.1-.1zM112.8 280.4l1-.7l.3-1l.1 1l-.8 .3l-.3 .6zM678 280.4l1-.7l.3-1l.1 1l-.8 .3l-.3 .6zM110.1 282l.3-.6l.2-.6l.8-.4l-.2-.6l-.1 .8l-.6 .8zM675.3 282l.3-.6l.2-.6l.8-.4l-.2-.6l-.1 .8l-.6 .8zM118.8 278l.9-.2l.7-.4l.6 .4l-.6 .6l-1.1 .1zM684 278l.9-.2l.7-.4l.6 .4l-.6 .6l-1.1 .1zM119.1 276.8l1.3-.2l-.4 .5zM684.3 276.8l1.3-.2l-.4 .5zM81.9 274.7l.1-.7l.8-.4l-.4 .7zM647.1 274.7l.1-.7l.8-.4l-.4 .7zM79.2 276.6l1.1-.2l-.6 .4zM644.4 276.6l1.1-.2l-.6 .4zM73.4 278.5l.2-.7l1.1-.2l-.3 .9l-1.2 .6l-.3 .9l.4-.7zM638.6 278.5l.2-.7l1.1-.2l-.3 .9l-1.2 .6l-.3 .9l.4-.7zM74 279.5l1.1 .4l-.4 .3zM639.2 279.5l1.1 .4l-.4 .3zM72.9 270.9l1.3-.6l-.5 .8zM638.1 270.9l1.3-.6l-.5 .8zM70.3 253.9l1.5-.4l-.4 .4zM635.5 253.9l1.5-.4l-.4 .4zM113.9 247.3l.8-.2l-.5 .3zM679.1 247.3l.8-.2l-.5 .3zM229.9 363.4l.5 .8l0 1.1l-.6 .7l0 1l.3-.8l-.2-.9l0-1zM231.5 375.4l.3 .7zM234.8 384l.6 .2l.5 .3l-.8-.2zM236.8 386.4l.9 .5l.4 1.1l-.5-.4l-.3-.6zM239.2 391l.6 .7l.5 .6l-.6-.3zM249.6 392.2l.7-.4l.8 .4l.2 .6l.2 .7l.3 .6l.1 .7l-.5-.5l-.6-.4l-.3-.5l-.2-.5l-.3-.4zM253.3 394.1l.7 0l.4 .5l-.6 .6l-.3-.5zM623.1 335.1l.6-.2l.6-.2l-.4 .9zM624.8 335.7l.6-.3l0 .7zM627 335.5l.5-.5l.3-.6l.3-.5l.3-.5l-.3 .9l-.2 .8zM612.4 360.3l.4-.4l-.1 .7zM609.9 356.7l.5-.3l-.2 .5zM622.6 326.6l.8 0zM97.7 382l.7 .2l-.5 .6zM662.9 382l.7 .2l-.5 .6zM94.6 388.5l.4 .2l-.3 .4zM659.8 388.5l.4 .2l-.3 .4zM145.9 400.2l.5 .7l-.3 .4l-.1-.6zM711.1 400.2l.5 .7l-.3 .4l-.1-.6zM146.7 398.4l.2 1zM711.9 398.4l.2 1zM312.8 305.6l.8-.6l.8-.5l-.8 .1l-.2 .6zM315.2 303.7l.5-.6l.6-.6l.9 0l.8-.1l-1.2 .3l-.8 .6zM319.1 302l.6-.8l1-.2l-.8 .2zM323 299.5l.9-.7l.7-.8l-.8 .5l-.4 .5zM327.8 294.7l.4-.6l.2-.6l.6-.5l.5-.6l-1 .8l-.2 .8zM341.1 277.4l.7-.7l.9-.5l-.4 .6l-.4 .6zM344.5 283.7l1 .7l-.5-.2zM300 284.1l1.4 .1l-.8 .6zM263.4 444.4l-.2-.7l-.1-.7l0-.7l.2-.7l-.4-.5l-.3-.7l0-.7l-.2-.6l.2-.9l0-.8l-.1-.8l-.1-.8l.3-.9l.2-1l.2-.8l0-.9l.3-.7l.2-.8l.2 .5l.2 .6l.5-.7l.6-.7l.6-.6l.7-.3l.6-.5l.6-.5l.8 0l.8-.1l.7-.4l.7-.2l1-.2l.9-.5l.9-.4l1-.2l.6-.7l.6-.7l.3-.9l.4-.9l.3-1.1l.3-1.1l.8 .5l.8 .6l.1-1l-.1-1l.5-.5l.5-.5l.5-.4l.5-.5l.3-.5l.4-.5l.3-.6l.4-.3l.5-.3l.4-.3l.5-.2l.4-.3l.5 .5l.4 .7l.5 .5l.6 .3l-.2 .8l.7 0l.6-.1l.6-.3l.6-.3l-.3-1l0-1l.6-.9l.7-.8l.4-.5l.4-.4l.9 0l.8-.4l.4-.5l.5-.3l.1-.6l.1-.6l.8 .4l.6 .8l.5 .4l.6 0l.6 .2l.7 0l.7 0l.7 .3l.7-.1l.7 0l-.2 .9l-.1 1l-.6 .3l-.5 .4l-.2 .6l.1 .7l.1 .6l0 .6l.4 .4l.3 .5l.3 .5l.4 .5l.5 .3l.6 .3l.5 .5l.6 .3l.7 .1l.5 .4l.4 .4l.5 .3l.4 .3l.3 .5l.6-.2l.7-.1l.3-.7l.3-.7l0-.8l.3-.7l0-.7l.2-.7l.2-.7l.1-.8l-.1-.7l0-.7l0-.7l-.1-.7l.4-.7l.1-.7l.3-.6l0-.7l0-.7l.2-.6l.4-.4l.1 .7l.3 .6l.3 .5l.4 .5l.2 .9l-.1 .8l.2 .9l.3 .8l.7 .4l.8 .5l.5 .9l.7 .7l-.1 .9l.2 .7l.3 .6l.1 .7l.2 .7l.1 1.1l.5 1l.2 .6l.2 .7l.3 .6l.4 .5l.5 .5l.6 .3l.5 .4l.7 .2l.2 .7l.4 .5l.4 .5l.4 .5l.2 .6l.3 .6l.3 .5l.2 .5l.3 .5l.3 .5l.5 .2l.4 .4l.3 .8l.5 .6l.5 .3l.4 .5l.5 .4l.4 .5l.4 .6l.5 .4l.1 .6l-.1 .6l.1 .6l.1 .5l.2 1l-.1 .9l.2 .8l-.1 .7l.2 .7l.2 .7l-7.8 0l-7.7 0l-7.8 0l-7.7 0l-7.8 0l-7.7 0l-7.8 0zM289.1 410.8l.9 .1l.9-.1l-.5 .4l-.3 .5l-1-.1zM298.5 415.6l.8 0l-.3 .8zM302.9 420.6l.8 0l-.4 .3zM324.9 436.4l.3 .4l-.2 .7l-.2 .8l-.2-.8l.2-.5zM403.9 253l2.1 .3l1.8 .6l1.6 .2l1.6 0l1.5 .3l1.6 .3l1.6 .1l1.5 .1l1.9 .3l2.1 .3l1.5-.1l1.6 .1l1.9 .4l2 .4l1.6 0l1.6 .1l2 .7l1.9 .6l.9-.4l.7-.5l2.3-.2l1.6 .1l1.7-.4l1.4-.7l2.4-.3l1.6-.2l.7-.6l-.1 .6l.9 .5l2.4 .1l1.6 .7l.7-.9l1.8 .4l2.2 .1l1.7 .3l1.4 .5l1 .4l.8 .5l1.5 .1l1.4-.1l1.6 .9l1.6 .9l.9 .8l1.3-.2l1.3 0l1.2-.3l2.3 .4l2.4-.4l-.2 1.2l1.7 .7l.2-.6l-.4-.5l.6-.6l.4-.5l1.5-1l2.5 0l1.5-.1l1.3 .4l1.4 .3l.5 .7l1 .4l1.3 .1l1.5 .1l.9-.6l.8-.7l1.5-.6l1.3 .2l1.1 .4l.2-.7l-.1-.6l-.7-.6l-.2-.6l-.2-1l1-.9l.4-.8l1.9-.5l.4-.8l-.4-.8l1.8 .9l.9 1l-.3 1.1l1.6 .8l.7 1l.1 1l1.8 .7l1.5 .2l1 .5l.5 .6l-.1 .6l.9 .5l1.4-.1l1.7-.6l-.1-.9l1.1-.4l.4-.6l.1-.6l-.5-.5l.8-.6l.4-.6l2.7 .2l.3 .8l1.7 .4l-.1 .7l.5 .6l-1.1 1l.7 .6l.4 .7l-.8 .5l-1.3 .2l-.2 .6l-.4 .6l-1.6 .2l-1.6-.2l-2-.4l-.3 1l.8 .9l-1.3 .9l-1.1 1l-.8 1l-1.4 .6l-1.7 .1l-1.1 .5l-1.3 .4l-.9 .7l-.8 .5l-1.3 .1l.3 .6l-.4 .7l-1.2 .3l-.1 .8l.3 .7l-.6 .7l0 .9l-.4 1l0 .8l1 .6l1.5-.1l-.5 .6l.3 .7l.7 .5l.1 .7l.6 .9l1.3 0l.9-.5l.9-.2l.9 .1l.5 .6l.9 .2l.6 .4l.7 .3l.6 .5l.3 .5l1.1 .3l1.2-.1l.6 .8l1.1 .4l.9-.2l.8-.3l.9 .1l.6 .5l1.1 .2l.4 1l-.3 1.1l.3 1l-.4 1l1 .6l.2 .9l.8 .8l.5 .9l1.4 .2l.7-.4l.6-.4l.6-.8l-.3-.9l-.4-.9l.1-1l-.2-.6l-.2-.6l-.6-.4l0-.7l.9-.2l.9 0l.9-.3l.3-.6l0-.7l.5-.6l.7-.4l.4-.6l0-.8l.1-.7l-1.3-.7l-.1-1.1l-.8-.4l-.6-.5l.3-.8l.3-.7l.8-1l.2-.8l-.5-.7l.3-.8l-.9-.5l.3-.9l-.2-.9l1.6-.2l1.2 .3l1.2 .1l1.1 .3l1.2-.3l1.6 .6l1.6 .6l.7 .7l1.1 .5l1.3 .1l-.5 1l1 .9l.5 .9l-.2 1l1.1 .8l.6 .9l1.3 0l.9-.5l1-.3l.6-.5l.4-.7l.4-.6l.8-.9l.7-.9l1.2 .8l-.4 1l.5 1l1.1 .9l.4 1l1.2 .9l.7 .9l-.3 1l.3 .6l.8 .3l.9 .7l.7 .7l1.1 .6l1.3 .3l1 .4l.5 .8l-.7 .2l-.8 .1l1.1 .1l.9 .5l1.1 .4l.2 .8l.9 .5l.2 .6l0 .6l-.8 .7l-1 .6l-1.3 .2l-1.3 .2l-.2 .7l-.7 .5l-.9 .1l-.6 .6l-.8-.2l-.8-.1l-.8 0l-.7 .3l-.7-.4l-.9-.1l-.9 .1l-.7 .4l-.9 .2l-.9 .2l-.9-.4l-1 .2l-1.1 .7l-.7 1l-.8 .4l-.7 .4l-.9 .6l-.7 .7l-1.1 .7l-.5 1l-.8 .3l-.3 .7l.6-.4l.8 .1l.5-1.1l.7-.4l.2-.7l.6-.5l.9-.2l.5-.6l.6-.6l1 .2l1-.3l.8 .1l.8 0l.7 .2l.8-.2l.2 .6l-.4 .6l-.5 .7l-.8-.3l-.8 .3l.8 .8l.9-.2l.3 .6l-.3 .7l.5 .7l.1 .8l1.1 .4l.7 .3l.6 .3l.8-.2l.9 0l.7-.4l.7-.2l.7-.6l.3-.9l.1 1l.7 .9l-1 .5l-.8 .7l-1.2 .3l-1.1 .6l-.9 .4l-.9 .2l-.6 .6l-.8 .5l-.9 .4l-.8 .6l-.9-.6l.4-.7l.2-.8l1-.7l1-.7l-.3-.5l-.9 .5l-1.1 .2l-.7 .4l-.9 .2l-.8 .4l-.8 .6l-.7 .4l-.8 .3l-.9 .5l-1 .2l-.3 .6l-.5 .6l-.2 1l.4 .9l.9 .4l0-.5l.1 .7l-1 .4l-1.3 0l-.9 .4l-.8 0l-.8 .2l-.8 .3l-.6 .4l.7-.1l.7-.3l.8 .1l.8-.1l-.8 .5l-1.2 .3l-1.2 .2l0 .9l-.3 .6l-.3 .6l-.8 .8l-.5-.3l-.4-.5l.2 .7l.4 .6l.1 .5l-.6 .7l-.3 .9l-.6 1l-.3-.9l-.2-.8l-.1-.6l0-.6l-.1-.6l.1-.5l0 .6l-.2 .7l.3 .9l0 1l0 1.1l.6 .2l.2 .8l.2 .8l.1 .7l.2 .7l-.7 .2l-.6 .5l-.4 .5l-.7 .1l-.6 .1l-.4 .6l-.5 .6l-1 .1l-.6 .5l-.3 .7l-.6 .5l-.5 .4l-.7 .4l-.6 .6l-.6 .4l-.3 .9l-.2 1l.1 .6l-.1 .5l0 .8l.3 .8l.1 .5l.2 .6l.3 .5l.4 .5l.3 .9l.1 1l.1 .8l.3 .7l.1 .9l-.2 .9l-.4 1.1l-.6 .1l-.5 0l-.6-.7l-.4-.8l-.2-.7l-.2-.6l-.4-.9l-.6-.8l-.2-.7l-.1-.7l.1-.7l.1-.8l-.6-.6l-.5-.5l-.5-.5l-.5-.5l-.8 .4l-.8 .4l-.6 0l-.5-.6l-.4-.6l-1 .1l-.9-.2l-.7 0l-.6-.2l-.8-.1l-.7 .2l-1 .4l.1 .6l.2 .6l.4 .9l-.4 .3l-.6-.2l-.6-.1l-.6-.1l-.7-.1l-.6-.3l-.6-.2l-.8-.2l-.8 0l-.8-.3l-.8 .1l-.7 .3l-.7 .3l-.5 .5l-.6 .4l-.7 .6l-.8 .4l-.6 .7l-.7 .6l0 .9l-.3 .8l.3 .8l.1 .8l-.2 1l-.5 .8l0 .6l-.1 .6l-.2 .5l0 .6l0 .8l0 .7l-.1 .7l0 .8l.3 .5l.1 .7l.2 .6l.2 .6l.4 .9l.3 1l.5 .8l.7 .7l.4 .5l.4 .4l.5 .3l.5 .1l.4 .4l.5 .3l.5-.2l.6-.1l.5 0l.6-.2l.9-.3l1-.2l.6-.3l.6-.3l.4-.8l.4-.8l.1-.9l.1-1l.6-.6l.8-.2l.8-.2l.7-.3l.8-.2l.8 .1l.8 0l.3 .7l-.6 .8l-.4 1.1l-.1 .7l0 .6l-.1 1l-.3 .9l-.3 1l-.4 .9l-.2 1l.1 .9l-.4 .7l-.6 .5l.5 .4l.9-.1l.8 0l.8-.1l.8 0l.8-.3l.8 0l.7 0l.8 .4l.8 .3l.7 .5l.7 .6l-.2 1l-.2 .9l-.3 1l-.1 1.1l0 .9l-.1 .8l-.1 1l.1 1l.5 .9l.6 .9l.6 .6l.6 .7l.5 .6l.6 .4l.8-.2l.8-.3l.5-.2l.5-.3l.7-.2l.7-.2l.8 .1l.7 .4l.6 .6l.5 .6l.5 .6l.4 .6l.3-.9l.4-.8l.6-.5l.4-.6l0-.9l.3-.8l.5-.7l.6-.6l.5-.1l.4-.2l.5-.2l.5-.3l.5 0l.5-.1l.5-.6l.4-.5l.5-.4l.6-.2l.2 .6l.4 .6l-.5 .6l-.5 .5l.2 .6l.3 .5l.5-.3l.4-.4l.7-.3l.6-.4l.3-.8l0-.8l.3 .7l.2 .7l.5 .2l.5 .2l.5 0l.5 .1l.3 .7l.3 .7l.9-.3l.9 .1l.6 0l.6 0l.5 .1l.4 .2l.5 .2l.4 .4l.5-.4l.7-.2l.5-.1l.5 0l.4-.2l.5-.2l.9-.1l.8 .1l-.6 .3l-.6 .3l.6 .7l.5 .3l.6 .1l.4 .3l.5 .3l.2 .9l.7 .4l.7 .6l.8 .6l.5 .2l.4 .4l.2 .5l.5 .4l.2 .6l.3 .5l.6 .9l.7 .7l.9-.1l.8 .1l.8 .2l.8 0l.5-.1l.5 0l.4 .2l.5 0l.6 .6l.7 .5l.7 .1l.7 .5l.6 .6l.5 .6l.3 .5l.5 .3l-.1 .8l.1 .9l.4 .7l.2 .8l.2 .6l.2 .6l.3 .6l.4 .5l-.2 .8l-.3 .7l-.5 .2l-.6 .2l.3 .7l.5 .6l.7-.6l.9-.4l.9 .1l.8 .2l0 1l-.1 1.1l.2-.5l.5-.4l.4-.2l.4-.5l.6 .4l.6 .2l.6 .2l.6 .2l.8 .2l.8 .6l.2 .5l.4 .3l.2 .6l.2 .5l.7-.3l.8 0l.5 .2l.6 .1l.5 .3l.6 .2l.7 .3l.8-.1l.8-.2l.8 .1l.6 .4l.5 .5l.7 .3l.6 .5l.3 .6l.5 .5l.5 .5l.5 .3l.6 0l.5 .1l.5 .4l.5 .2l.8 .2l.2 .6l.2 .6l.2 .6l.1 .7l.2 .6l.2 .6l-.1 .9l-.1 .8l-.5 .7l-.2 .8l-.3 .8l-.2 .8l-.6 .8l-.5 .8l-.6 .3l-.5 .6l-.3 .6l-.4 .6l-.4 .7l-.1 .8l-.6 .5l-.4 .7l-.4 1l-.4 .9l-.1 .7l0 .8l0 .7l.1 .7l-.1 .9l0 .9l-.1 .6l-.2 .6l0 .6l0 .6l-.2 1l-.5 .9l0 .8l-.2 .9l-.5 .6l-.3 .7l-.4 1l-.5 .9l0 .7l-.2 .6l-.3 .6l-.3 .5l-.5 .4l-.4 .4l-1 0l-.9 0l-.5 0l-.6 .1l-.4 .2l-.6 .1l-.6 .7l-.8 .5l-.7 .3l-.7 .1l-.5 .3l-.4 .5l-.4 .4l-.6 .3l-.7 .7l-.8 .6l-.1 .6l0 .7l-.1 .6l0 .6l0 .8l0 .7l-.3 .9l.1 .9l-.1 .9l0 .9l-4.5 0l-4.4 0l-4.4 0l-4.5 0l-4.4 0l-4.4 0l-4.5 0l-4.4 0l.3-.6l0-.8l-.2-.7l.1-.7l.3-1l.3-.9l.2-.7l.2-.7l.1-.8l.1-.9l.2-.8l0-.8l.1-.9l-.1-.8l-.3-1.1l.3-.9l.3-1l0-.9l.1-.9l0-.9l0-.9l-.2-.8l-.2-.8l-.1-.8l.2-.8l-.3-.5l-.5-.3l-.4-.5l-.4-.4l-.5-.6l-.5-.6l-.8-.3l-.7-.1l-.7-.5l-.5-.6l-.6-.3l-.6-.5l-.5-.5l-.7-.2l-.5-.7l-.3-.8l-.4-.8l-.5-.7l.2-.9l-.2-.7l-.5-.6l-.3-.7l-.5-.5l-.3-1l-.4-.8l-.4-1l-.5-.9l-.3-1l-.4-1l-.2-.9l-.4-1l-.5-.5l-.3-.6l-.4-.6l-.3-.6l-.5-.6l-.4-.6l-.6-.3l-.4-.5l-.2-1.1l-.1-1.1l.4-.5l.5-.4l.1-.7l.4-.5l.7-.5l.1-1.1l.1-1l-.9-.2l-.8 .2l.2-.6l.1-.6l0-.6l.1-.6l.5-1l.5-.9l-.1-.7l0-.7l.7-.3l.5-.3l.3-.4l.3-.5l.4-.4l.2-.7l.3-.7l.7 0l.7-.2l.2-.6l.1-.6l.3-.6l.1-.6l-.7-.6l.2-.6l-.1-.6l0-.7l.1-.6l0-.6l0-.5l-.1-.6l-.1-.6l-.3-.5l-.3-.4l-.4-.8l-.4-.8l.2-.5l-.5-.7l-.6-.5l-.8-.1l-.3 .7l-.5 .6l0 .7l0 .8l-.7 .5l-.6-.5l-.3-.7l-.7-.5l-.8-.1l-.7 .2l-.7 .1l-.7-.3l-.6-.5l-.3-.9l-.4-.9l-.5-.6l-.5-.5l-.5 .8l-.5-.8l-.6-.6l.2-.8l0-.8l-.7-.6l-.6-.9l-.5-.7l-.6-.4l-.4-.5l-.2-.5l-.2-.6l-.6 .1l-.6 .1l-.6-.1l-.5-.2l-.5-.2l-.6-.2l-.9-.2l-.9-.4l-.4-.3l-.5-.3l-.5-.3l-.5-.3l-.5-.6l-.4-.7l-.6-.4l-.5-.5l-.8-.4l-.8-.6l-.5 0l-.6 0l-.4 .5l-.5 .2l-.6 .2l-.5 .2l-.6-.3l-.5-.3l-.7 0l-.6-.3l-.6-.6l-.8-.4l-.8-.2l-.7-.2l-.7-.3l-.7-.4l-.6-.5l-.6-.3l-.6-.2l-.5-.4l-.5-.2l-.4-.3l-.6-.2l-.5 0l-.5-.9l-.8-.6l-.2-.5l-.4-.4l-.5-.3l-.4-.3l-.3-.5l-.3-.5l.7-.5l0-.8l-.1-.9l-.5-.7l-.6-.7l-.2-.9l-.4-.8l-.5-.6l-.3-.6l-.6-.4l-.4-.5l-.4-.8l-.6-.6l-.8-.5l-.6-.6l-.3-1.1l-.4-1l-.7-.5l-.6-.4l-.5-.7l-.4-.7l-.5-.4l-.3-.6l-.5-.5l-.4-.4l-.4-.5l-.1-.6l-.3-.5l-.3-.5l-.3-.7l-.5-.5l-.3-.6l-.2-.7l-.5-.2l-.5-.3l-.5-.3l-.5-.1l-.1 .7l0 .8l.3 .5l.2 .7l.3 .5l.2 .6l.6 .8l.4 .8l.5 1l.7 .8l.4 .7l.5 .6l.2 .6l.4 .7l.3 .7l.5 .5l.3 1l.5 .9l.5 .8l.3 .9l.5 .4l.5 .4l.4 1l-.7 .5l-.3-.6l-.4-.5l-.6-.4l-.6-.3l-.5-.6l-.5-.6l-.6-.2l-.1-.7l.1-.7l-.2-.6l-.1-.7l-.5-.3l-.5-.4l-.5-.2l-.6-.4l-.4-.5l-.5-.4l-.6-.7l-.7-.6l.7-.1l.8-.2l-.5-.9l-.2-1l-.4-.4l-.4-.5l-.5-.3l-.5-.3l-.2-.7l-.2-.6l-.4-.6l-.2-.7l-.2-.7l-.3-.6l-.5-.6l-.2-.8l-.7-1.1l-.6-.9l-.8-.2l-.1-.5l-1.1-.3l-1.1-.2l-.9-.4l-.3-.6l0-.7l-.5-.6l-.5-.5l-.6-.8l-.4-.9l-.1-.6l-.5-.5l-.3-.6l0-.6l-.8-.3l-.5-.9l-.6-.9l.1-.7l-.3-.8l-.3-.7l-.6-.6l.1-.6l.4-.6l0-.7l-.2-.7l-.5-1l0-1.1l.4-.8l.3-.8l-.1-1.1l.2-1l.3-.7l0-.6l-.2-.7l0-.7l-.2-.9l0-.9l-.2-.8l-.5-.7l-.3-.9l1 .1l.9 .4l1.1 .1l.5 .7l.1 .8l.1-.5l-.7-.9l.5-.9l-.5-.9l-.5-.6l-.3-.8l-1.1-.1l-.4-.7l-.8-.3l-1.1 0l-.8-.6l-1.3-.1l-1.1-.6l.4-1.1l-1-.8l-.2-.6l-.7-.4l-.3-.5l-.5-.4l.5-.9l-.7-.7l-1.3-.1l-.6-.8l.1-.7l-.4-.7l-1.1 0l-.8-.6l.1-.7l.1-.6l-.3-.6l-1-.3l-.7-1l-1-.9l-.2-1l-1.2-.5l-.2-.7l-.9-.3l-.4-.6l.1-.6l-.2 .9l-.1 .9l-1.1 0l-.7 .5l-.8-.7l-1.2-.6l-1.4-.6l-1.4-.6l-1.8 0l-1.1-.9l-.9-.3l-1 .1l-.9 .4l-1.1-.2l-1.7-.1l-.9-.8l-.8-.5l-.3-.7l-1.4 .1l-1.2 .5l-.7 .7l.3 .8l-1.8-.2l-1.1 .1l-.5 .6l-.9 .4l0 .6l-1.4-.3l.6-.5l.2-.8l.2-.8l1.2-.6l1-.8l-1.3 .4l-1.3 .2l-1.2 .8l-.8 .9l-1.2 .5l.1 .8l-.2 1.1l-.9 .9l-.5 .5l-.7 .5l-.8 .4l-.8 .3l-.2 .8l-1.1 .3l-.7 .6l-1.2 0l-.7 .5l-.5 .5l-1 .1l-.9 .4l-.6 .6l-1.1 0l-.8 .3l-.6 .4l-1.2 .1l-1 .2l-1.2 .4l-1 .5l.8-.6l1 .2l1-.3l0-.8l1-.8l1.3-.6l1.5-.2l.8-.7l0-1l1.2-.4l1.3-.2l.8-.4l.2-.7l.6-.6l-.1-.7l.8-.4l-1-.5l-1.3 .1l-1.1 .5l-1.3-.1l-1.7 .4l-1.7-.3l-.3-.9l.9-.7l-.3-1l-1.7-.4l-1.5 .6l-1.3-.5l-.7-.8l-.3-.6l.1-.7l-.6-.5l-.5-.5l1-.7l.8-.8l.3-.6l1.3-.4l1.5 0l.9-.3l.7-.5l1.5-.2l-.1-.7l.1-.8l-1.2 0l-1.1-.2l-1.2 .1l-1.1-.1l-1.1 .2l-1.2-.2l-1.7-.5l-1.1-.9l-1.4-.7l1.5-.6l1.6-.6l1.8-.4l1.8-.3l1.4 .4l1.5 .4l-.6-.7l-.4-.6l-1.4-.9l-1.6-.8l-1.8-.5l-1.8-.6l1-1.1l1.1-.4l1.3-.4l1.4-.4l1.2-.4l.8-.5l.9-.5l1.5-.4l1.5-.3l1.4-.3l1.5-.3l1.4-.4zM535 240l2.2 .2l.9 .6l1.5 .8l1.7 .9l2.7 .7l1.2 1l2.7-.2l2.8-.2l3.1 .5l3.2 .5l-.9 .6l.8 .6l2 .4l.4 .7l.7 .7l.6 .7l.6 .7l.5 .7l.6 .8l1.8 .5l-1.1 .8l.6 .8l1.1 .9l-.7 1l2.3 .5l2.4 .4l.7 .8l.1 .8l-1.9 .3l-2-.3l1.3 .3l.3 .7l-1.1 .5l.3 .8l-.9 .9l-.2 1l1.2 .8l-.4 1.1l1.5 .8l0 1.1l-.2 .8l1 .7l-.3 .7l.4 .7l.5 .7l1.3 .2l.5 1l1.1 .9l1.4 .8l.2 1.1l.9 .2l1 .1l.9 .4l1.1-.1l.8 .6l1.1 .5l1.4-.2l1.1 .6l-.1-1.1l.7-1l.4-.7l.4-.7l-.2-.8l.7-.7l.7-.5l-.2-.6l.7-.5l1-.3l.5-.9l-.1-1l1-.4l.4-.6l.9-.5l.6-.6l1.6 0l1.5-.3l1.4 0l.8-.6l1.1-.2l.6-.6l1.5-.6l-.2-.9l1.5-.5l.4-.8l2.1-.6l2.6 0l2.5 0l2.2-.6l1.2-.8l.4-.9l2.5-.3l1.7-.8l-1.5-.5l-.4-.7l-1.2-.6l-1.9 0l2.7-.1l2.8 .1l-.9-1l1.3-.9l-1.3-.7l-2.3-.2l1.8-.7l1.4-.8l.6-.9l2-.5l-1.2-.6l-.7-.7l1.9-.5l1.3-.7l1-.5l.8-.6l-.8-.7l-1.5-.4l-1.7-.4l-1-.6l2.8-.3l2-.7l-.5-.9l-1.1-1l.6-1l1.7-.9l0-.7l1.6-.6l2.3-.4l1.9-.6l1.2-.7l1.7-.6l-3.4 .1l-2.1-.9l-2.5 .3l-2.2-.5l-1.6 .6l-2.4 .2l-.3-.9l-1.2-.8l-3.1-.4l-3.4-.1l-1.6-1l-3.7-.2l-3.3 .1l-3.1 .4l-3.1-.3l-3.1-.4l-2.7 .7l-3.5-.1l-2.9 .5l-3.4 0l-2.5 0l-2.3-.2l-1.6 .6l-1.5 .6l-1.9 .3l-2-.3l-2 .1l-1.9 .1l-3.2 .2l-3.1 .4l-1.3 1l-3.4 .3l-2.9 .4l-2.6 .5l1.1 .7l1.3 .7l-2.4 .4l-2.4 .3l-1.6 .9l-3.1 .3l-1 .8zM556.5 298.4l.4-1l.9-.8l.8-.5l.1-.8l.2-.8l.4-.7l.2-.7l.5-.5l.3-.6l.6-.5l1-.2l.6-.6l-.8 1l0 1.1l-.9 .5l-.2 .9l.9-.4l1 .2l.9 .8l1.4 .1l.1 .8l.7 .6l.8 .3l.5 .8l0 1l-.3 .9l-.4 .9l-.6-.4l-.8 .1l-.3-.6l0-.6l-.8 .7l-1.1 .3l-.4-.6l-.5-.6l-1.1-.5l-1.3 .4l-.7 0l-.7 .2l-.7-.1zM548.3 294l.8-.4l1 0l.9 .3l.5 .6l.4 .7l.8 .3l-.7-.2l-.6-.2l-.8-.3l-.7 .3l-1.1-.3zM548.5 299.7l1 .6l1.2 .2l.8 .2l.8-.2l-.8 .9l-1-.5l-1.1-.3l-.3-.5zM448 292.2l1.2-.1l1 .5l1.4 .4l1.3 .6l.4 .4l.6 .4l.2 .7l.8 .2l.3 .9l.7 .6l-1.2 .3l-1-.6l-1.3-.3l-.6-.9l-.9-.4l-1 0l-.2-.8l-.7-.5l-.1-.9zM440.8 286l.9 0l1 .1l0 .8l.1 .8l.4 .8l.4 .7l-.8-.4l-.8-.6l-.4-.5l.1-.7l-.2-.6zM407 279.5l.4-.7l.5-.7l1.2 .2l.9-.5l.1 .8l.5 .7l-.9 .7l-1.1 .6l-.7-.6zM380 268l1.2-.1l1.2-.1l1 .3l1.2 .3l-1.4 0l-1.3 .2l-1-.2zM386.9 274.3l1.1 0l1-.3l.5 .9l-1.8 .1zM385.8 287.1l1-.7l1.4-.3l-.1 .8l-.7 .6l-.8-.1zM382.7 288.4l1.1-.4l.9-.5l-.2 .8l-1 .3zM375.2 289.8l1.4-.3l1.4-.3l-.7 .5l-.9 .3zM370.5 290.5l1.4-.1l1.4-.4l-.8 .3l-.8 .4zM356.8 288.2l-1.4-.1l.6 .4zM382.1 280l.4 0zM435.5 278.7l1.1 0l1 .2l.1 .9l-1 .6l.2 .9l1.2 .5l-.7-.7l-.5-.7l-.2-1zM439.8 281.8l.9 .1l.7 .3l.6 .5l-.1 .6l.2 .8l.3 .7l-1.1-.3l-.8-.6l-.7-1zM523.2 248.6l2.3 .3l2.4-.1l.4 .9l2 .6l.9 .6l1.7 .1l1.1 .6l-.6 .6l1.5 .9l2.4 .3l1.2 1l1.2 .4l1.6-.1l1.7 .2l.4 .8l-.1 .6l.3 .7l1.1 1l.2 1.1l1.4 .4l.2 .7l1.4 .2l1.2 .4l1.6 .9l2.3 0l-1.2 .7l.5 .9l-1 .4l.2 .7l-.5 .5l-1.1 .3l-.9-.7l-1.4-.5l-1.2-.9l-2-.4l-.2 .8l-.6 .7l.8 .6l.5 .6l.8 .6l1.4 .1l.5 .6l.9 .5l.2 .7l-.8 .5l-.4 .7l-1.1 .4l.9 .7l-.5 .7l-1.6 .2l-.2-.8l-1.2-.3l-.7-.5l-1-.3l-.5-.8l0-.7l-1.1-.2l-1-.2l-1.3-.1l-.9 .5l-.7-.6l-.8-.6l-1.7 0l-1.5-.4l-1.2 .2l-1.1-.2l-1.3-.2l-1.1 .4l-.9-.7l.1-.8l1.7-.2l1.3 .5l.8-.8l1.7-.1l-.1-.6l-.1-.5l1.1-.3l.7-.5l1.1-.7l.5-.8l-1.1-.4l-1.1-.3l-1.2-.5l.2-.7l-1-.8l-2.1-.2l-1.3-.4l-.2-.7l-1-.5l-.6-.7l.7-.5l-2.3 .3l-2.4 .2l-.9-.5l-1.7-.1l-1.6 .1l-1.3 .4l-2.1 .1l-1.8-.5l-2.6-.4l-1.3-1l-.4-.6l1.1-.5l.2-.7l-1.4-.4l.3-1.1l1-1l1.5-1l3.2 0l.2 1.1l1.3 1l2.8-.2l2 .8l.4-.7l1.1-.5l1.5-.6zM513 264.6l2.2-.3l1.7-.6l.8 .5l.8 .4l1.1 .6l.3 .8l1 .6l1.5 .1l.8 .5l0 .6l-2-.1l-1.9 .3l-1.1-.1l-1.1-.1l-1.3 .2l-.4 .6l-1.3-.5l-1.1-.6l.4-.8l1.2-.6l-1-.7zM519.3 269.2l1.2 0l1.1 0l.6 .9l1.8 .2l-2 .1l-1.9 .1l.2-.8zM523.5 270.1l.9 .3l.7 .5l-1.1 .8l.4-.9zM520.9 287.7l1.2 .1l1.1 .3l-.8 .3l-.7-.4zM524 281.4l1.6-.2l-.4 .7l-.1 .8l-.7-.6zM465.1 253l1.1-.6l1.8 .1l.9-.5l.3-.6l-1.3-.5l0-.6l.6-.6l.6-.5l1.6 .9l3.1 .2l1.9-.3l1.9 .4l1.9-.3l.5-.7l2.4 .2l2.4 .3l-.9 1l1.5 .9l0 1l.1 .9l.7 .8l.5 .9l1.8 .4l1.7 .4l-1 .7l-.5 .8l-1.5-.3l-1.7-.2l-1.7 .1l-1.4 .4l-1.4-.3l-1.6 .1l-.9 .6l-1.6 .2l-1.3 .3l-1.4-.2l-1.5-.3l-1.3 .4l-1.6-.1l-1.7-.1l-1.2-.6l-.2-.7l-.6-.9l-.2-.8l1.7 0l1.4-.4l1.7-.1l1.5 .3l-1-.7l-1.7-.3l-1.8-.4l-1.8 .4l-1.3-.7l-1.8-.6zM452.6 251.8l1.3-.8l.1-.9l-.3-1l2-.7l3-.3l.9-1l2.8 .1l2.7 .2l1 .9l2.2 .5l-1.4 .6l-1.8 .5l.3 .9l-.9 .8l-2.5 .3l-.8 .9l-2.7 .1l-2 .6l-2-.1l-1.9-.2l-1-.7zM465.1 243.6l2.2 0l2 .2l1.1-.5l1.8-.4l2.7-.3l2.8 .3l2.3 .8l3.2 .5l.8 1l-1.6 .9l-2.8 .1l-2.7 .1l-2.1 .8l-3.4 0l-1.7-.5l.2-.7l-2-.2l-2 0l0-1zM488.7 249.9l1.9-.1l1.4-.5l-.2-.7l.8-.6l2.1 .1l1.8 .3l-.3 1.1l1.9 .8l-1.7 .5l-.2 .8l-.9 .6l.4 .8l-1.2-.6l-1.9-.2l-1.4-.5l-1.7-.2l-1.6-.7zM499.7 251.8l-1.8-.6l-.4-.8l1.3-.7l1.2-.7l1.8-.6l1.8-.6l2.1 0l1.8 .4l1.4 .4l.5 .6l-.3 .6l-.8 .5l-2.7 .5l-1.2 1l-2.4 .2zM493.4 257.2l.2-.6l1.1-.4l2.6-.4l.5 .6l-.1 .6l1 .4l1.3 .2l-1.4 .3l-.5 .6l-1.7 .3l-1.4-.5l-1.1-.5zM498.1 245.2l2.2-.6l.3-.8l1.8-.6l2.8-.1l2.4-.1l1.5 .6l1.4-.4l2-.2l2.1 0l1.5 .4l2 .1l1.9 .2l1.1 .5l1.3 .4l2.2 .6l.2 .9l-1.1 .7l-2.1 .3l-2.8 .1l-2.3 .6l-3.1 .1l-2-.8l-3.1-.2l-3.1-.2l-1.7-.7l.9-.8l-3.2-.5zM485.5 244.2l.5-.7l1.8-.6l2.4 .2l2.4-.2l2.7 .3l1.2 .8l-1.9 1l.4 1.1l-2.3-.4l-2.5 .2l-2.2-.9zM498.1 245.3l2.2 0l1.7-.3l.4 .8l.4 .9l-2.1 .2l-1.8-.4l-.8-.6zM508.3 243.4l1.8-.6l1.3-.7l1.9-.6l2.8-.2l-2.7-.4l-1.2-.9l2.5-.6l3-.2l-2.5 .1l-2.1-.4l-.6-.7l-1.1-.7l2.9-.5l.3-1l-2.8 0l-2.1-.6l-1.5-.7l-2.3-.4l1.1-.6l2.2-.3l1.5-.5l2.3-.1l1.9 .4l2.2-.3l2 .3l2.1-.3l.6-.6l.3-.6l1.6-.5l1.9-.3l3.5 .2l3.6-.2l3.6 .2l3.4-.4l3.6 0l2.3 .9l3.4 0l3.3 .2l-2.1 .2l-.7 .6l-1.1 .5l-.1 .6l-1.5 .6l-1.2 .6l-2 .5l-2.3 .2l-1.1 1l-2.9 .6l-1.9 .2l-2.2 0l-2.1 .4l0 .7l1.3 .7l-.5 .8l-2.2 .1l-1.7 .5l.3 .7l-1.9 .4l0 .6l.7 .6l-3.1 .1l-2.4 .6l-2.7 .4l-2.8-.4l-1.9 .3l-2-.2l-1.9-.2zM498.9 236.6l0-.8l2.3-.5l1.2-.6l1.2-.6l2.6 .3l2.6-.3l2.2 .5l.4 .8l0 .6l-.2 .6l.4 .7l2.2 .2l-2 .9l.4 1l-2.2 .2l-2.2 .2l-2.3-.3l-1.1-.6l-1.8-.8l-2.9-.4l-.1-.6zM484 238.5l2.7-.1l2.8 0l.5-.9l2.6-.5l.3 .6l.9 .5l1.6 .5l-.4 .6l-.6 .9l-2.6 .5l-3.4-.2l-2.9-.6l.4-.8zM456.5 243.8l1.2-.5l1-.6l.8-.8l2.5-.2l2.8 0l2.7-.4l-.6 1.1l-1.8 .9l-2 .6l-2.7 .5l-1.8-.4zM523.2 248.6l2 .2l1.9 .2l1.5 .4l.9 .5l-1.3 .5l-1.8-.1l-1.6-.9zM516.2 347.4l.4-.4l.4-.3l.4-.4l.3-.5l.6-.3l.5-.3l.7-.1l.6-.1l.6-.1l.6 .1l.5-.1l.6 .2l.8 0l.8 .2l.6 .4l.6 0l.6 .4l.6 .3l.4 .3l.4 .4l.6 .1l.4 .3l.5 .4l.5 .4l.5 .2l.6 .3l.7 .6l.9 .2l.6 .5l.7 .4l-.7 .4l-.6 .3l-.6-.1l-.6 .1l-.6 0l-.6-.1l-1 0l-.9 .2l.4-.7l.4-.6l-.9-.2l-.8-.2l-.7-.7l-.4-.9l-.7-.1l-.5-.3l-.6-.2l-.6-.3l-.5 0l-.5-.2l-.5 0l-.5-.1l-.6-.4l-.5-.5l-.8 .4l-.8 .5l-.6 .1l-.7 .3l-.5 .1zM519.1 347.3l.8 .2l-.3 .6zM532.7 354.1l.8 0l.7 .3l.8-.1l.8 .2l.6 .5l.6 .4l.6-.4l.5-.6l.8-.1l.8-.1l.5 .1l.5-.2l.5 .1l.5 .2l.6-.8l-.5-.4l-.5-.3l-.7-.8l-.7-.6l-.9-.3l-.9 0l-.8-.1l-.7 .1l-.6 .1l-.5-.1l-.6 .2l-.5 0l.4 .5l.5 .4l.3 .7l.3 .6l-.8 .3l-.9-.2l-.8 .1zM526.6 354.2l.7-.1l.6-.3l1 .4l.9 .3l0 .5l-.7 0l-.7 .3l-.8-.4l-.8-.1zM544.1 354l.6 .1l.6 0l.6-.2l.6 .1l0 .8l-.6-.2l-.6 .1l-.6 .1l-.6 0zM552.4 368.7l.8-.1l.8-.1l0 .7l-.2 .6l-.6 .1l-.6-.1l-.2-.5zM526.5 341.2l1-.1l0 .8l.1 .9l-.8-.4l-.1-.6zM527.3 338.2l.7 .1l.7 .3l-.1 .9l-.4-.5l-.4-.4zM529 340.7l1 .4l.1 .9l-.5-.6zM531.4 343l.4 .9l.2 1l-.5-.8l-.1-.6zM533.9 348.9l.5-.1l.6-.1l-.3 .6zM552.6 358l.9 0l-.6 .8zM553.5 360.9l.6 .4zM553 359.5l.4 .2l-.1 .4zM553.7 362.6l.1 .4zM555.9 363.7l.4 .4zM548.5 368l.9-.2l-.3 .5zM541 365.5l.7 .6l-.4-.2zM505.8 389.7l.5-.3l.4-.3l.3 .8l0 .9l-.4 .1l-.5 .1l-.1-.7zM507.5 390.1l.5 0l-.2 .4zM404.6 351.4l.3-.9l.6 .3l.6 .5l.5 .6l-.6 .3l-.5 .5l-.7 0l-.1-.6zM403.6 349.3l.5 .1l.6-.1l-.6 .5zM401.1 348l.9 .1l-.3 .4zM398.8 347l.7-.1l-.3 .4zM547.8 327.5zM609.1 317l.9 0l-.4 .2zM604.5 315.5l1.1 .3l-.6 .1zM606.7 315.2l.4 0zM606.4 253.9l1.3-.5l1.9 0l-.3 .6l-.5 .7l-1.5 0l-1.3 .2zM611.1 250.1l3.2-.2l1.1 .7l-.8 .7l-1.9-.3l-2 .1zM609.6 249.2l2.3 0l1.9-.4l-.3 .9l-2.3-.3l-1.9 .5zM615.8 247.4l2.7-.5l-.3 .9zM607.2 252l1.9-.2l2-.2l.1 .7l-.8 .5l-1.7 .2l-1.8 0zM604.9 250.7l2-.1l1.9-.3l-.3 1l-2.1-.1zM613.5 244.4l3.2 .1l2.3-.7l-1.2 .5l-.4 .7l-2.1-.2zM616.6 240.8l1.7-.8l3 0l-.4 .7l-1.1 .6zM605.6 255.5l2.3-.5l2.5 .1l1.5 .7l-2.2 .6l-2.5-.2zM563.6 255.1l2.2 .1l2.2-.1l1.1 .7l-.8 .8l-1.6 .4l-1.9 0l-.2-1zM564 250.7l2.4-.6l-.4 .8l.1 .7l-1.5-.3zM561.7 253.2l2.1-.3l1.8-.5l-1 .7l.5 .8l-2.1 0zM565.6 264.2l1.2-.3l1.2-.2l-.2 .6l-.2 .7l-1.1-.3zM568.7 268l1-.6l1.4 .1l-.6 .5l.3 .6l-.9-.4zM560.9 248l2.3-.7l-1.3 .7l1 .8zM571.1 271.7l1.2-.3l1.2-.3l-.2 .7l-.2 .6l-1.3-.1zM577.7 273.8l.9-.5l1.1-.1l0 .6l-.3 .5l-.8-.3z"/>
<path fill="#fff" stroke="none" d="M158.2 302.2l.7-.2l.5-.4l.6-.4l.5-.4l.8-.4l.8-.3l1.2-.3l1.2-.3l.8 0l.7 0l.8 0l.8 .2l.2 .5l.1 .6l-.4 .8l-.2 .8l-1 .3l-1 0l-.4 .7l-.1 .7l-.7 .2l-.7 .2l.4 .4l.5 .5l.2 .7l.4 .6l.9 .6l1 .2l.3 .9l0 1l.7-.1l.6-.3l.6 .1l.7 .1l.4 .5l.2 .7l-.6 .4l-.5 .5l-.8-.2l-.8 0l0 .9l-.1 .8l.4 .7l.5 .7l.3 .6l.1 .6l0 .6l.2 .7l0 .9l.2 1l-.8 .1l-.8 .2l-.8 .1l-.8 .3l-.8 0l-.7-.3l-.9-.5l-.7-.7l-.8-.1l-.5-.9l-.4-.9l.1-.8l-.1-.7l.8-.4l-.2-.8l0-.7l.8-.3l.8 0l-.7-.4l-.6-.3l-.4-.6l-.4-.7l-.5-.7l-.6-.6l-.5-.9l-.7-.9l.1-.7l-.1-.8l-.6-.7l-.7-.6l.5-1.1zM723.4 302.2l.7-.2l.5-.4l.6-.4l.5-.4l.8-.4l.8-.3l1.2-.3l1.2-.3l.8 0l.7 0l.8 0l.8 .2l.2 .5l.1 .6l-.4 .8l-.2 .8l-1 .3l-1 0l-.4 .7l-.1 .7l-.7 .2l-.7 .2l.4 .4l.5 .5l.2 .7l.4 .6l.9 .6l1 .2l.3 .9l0 1l.7-.1l.6-.3l.6 .1l.7 .1l.4 .5l.2 .7l-.6 .4l-.5 .5l-.8-.2l-.8 0l0 .9l-.1 .8l.4 .7l.5 .7l.3 .6l.1 .6l0 .6l.2 .7l0 .9l.2 1l-.8 .1l-.8 .2l-.8 .1l-.8 .3l-.8 0l-.7-.3l-.9-.5l-.7-.7l-.8-.1l-.5-.9l-.4-.9l.1-.8l-.1-.7l.8-.4l-.2-.8l0-.7l.8-.3l.8 0l-.7-.4l-.6-.3l-.4-.6l-.4-.7l-.5-.7l-.6-.6l-.5-.9l-.7-.9l.1-.7l-.1-.8l-.6-.7l-.7-.6l.5-1.1zM175.8 301.6l.9-.3l.8-.5l.9-.4l1-.3l.8 .1l.8 .2l-.3 .8l-.5 .6l0 .7l0 .8l-.5 .5l-.4 .4l-.4 .5l-.3 .5l-.8 .8l-.8 .1l-.8-.1l-.1-.9l-.2-.8l-.1-1l.1-.9zM741 301.6l.9-.3l.8-.5l.9-.4l1-.3l.8 .1l.8 .2l-.3 .8l-.5 .6l0 .7l0 .8l-.5 .5l-.4 .4l-.4 .5l-.3 .5l-.8 .8l-.8 .1l-.8-.1l-.1-.9l-.2-.8l-.1-1l.1-.9z"/>
<path fill="#fff" stroke="none" d="M560 409h1v1h-1zM543 397h1v1h-1zM544 397h1v1h-1zM538 391h1v1h-1zM536 391h1v1h-1zM566 403h1v1h-1zM552 397h1v1h-1zM536 381h1v1h-1zM535 380h1v1h-1zM557 394h1v1h-1zM559 395h1v1h-1zM551 404h1v1h-1zM552 405h1v1h-1zM561 395h1v1h-1zM542 402h1v1h-1zM552 396h1v1h-1zM553 397h1v1h-1zM541 407h1v1h-1zM540 415h1v1h-1zM547 402h1v1h-1zM565 408h1v1h-1zM564 408h1v1h-1zM554 387h1v1h-1zM546 413h1v1h-1zM541 389h1v1h-1zM542 388h1v1h-1zM554 381h1v1h-1zM533 400h1v1h-1zM575 398h1v1h-1zM540 403h1v1h-1zM538 404h1v1h-1zM565 416h1v1h-1zM566 415h1v1h-1zM575 409h1v1h-1zM576 408h1v1h-1zM537 407h1v1h-1zM550 406h1v1h-1zM548 396h1v1h-1zM566 406h1v1h-1zM556 410h1v1h-1zM538 412h1v1h-1zM536 413h1v1h-1zM547 398h1v1h-1zM546 398h1v1h-1zM561 384h1v1h-1zM560 384h1v1h-1zM565 410h1v1h-1zM575 412h1v1h-1zM538 413h1v1h-1zM539 413h1v1h-1zM551 391h1v1h-1zM559 386h1v1h-1zM540 391h1v1h-1zM569 412h1v1h-1zM566 383h1v1h-1zM557 391h1v1h-1zM563 413h1v1h-1zM539 393h1v1h-1zM538 393h1v1h-1zM552 384h1v1h-1zM545 401h1v1h-1zM546 401h1v1h-1zM569 403h1v1h-1zM568 410h1v1h-1zM570 400h1v1h-1zM552 415h1v1h-1zM555 380h1v1h-1zM541 404h1v1h-1zM542 404h1v1h-1zM550 413h1v1h-1zM561 387h1v1h-1zM537 402h1v1h-1zM536 401h1v1h-1zM570 418h1v1h-1zM534 389h1v1h-1zM533 404h1v1h-1zM544 406h1v1h-1zM575 403h1v1h-1zM569 404h1v1h-1zM570 404h1v1h-1zM564 381h1v1h-1zM551 403h1v1h-1zM533 383h1v1h-1zM533 417h1v1h-1zM539 388h1v1h-1zM558 382h1v1h-1zM556 381h1v1h-1zM550 400h1v1h-1zM549 400h1v1h-1zM545 409h1v1h-1zM547 410h1v1h-1zM563 388h1v1h-1zM551 370h1v1h-1zM557 413h1v1h-1zM543 370h1v1h-1zM558 380h1v1h-1zM560 381h1v1h-1zM583 406h1v1h-1zM547 424h1v1h-1zM572 433h1v1h-1zM594 404h1v1h-1zM595 403h1v1h-1zM572 436h1v1h-1zM549 422h1v1h-1zM566 391h1v1h-1zM553 397h1v1h-1zM564 391h1v1h-1zM565 391h1v1h-1zM539 376h1v1h-1zM540 376h1v1h-1zM540 386h1v1h-1zM542 385h1v1h-1zM540 398h1v1h-1zM576 411h1v1h-1zM550 387h1v1h-1zM548 388h1v1h-1zM548 409h1v1h-1zM549 409h1v1h-1zM549 416h1v1h-1zM545 431h1v1h-1zM546 432h1v1h-1zM552 383h1v1h-1zM553 383h1v1h-1zM563 392h1v1h-1zM547 423h1v1h-1zM546 423h1v1h-1zM532 401h1v1h-1zM514 295h1v1h-1zM474 325h1v1h-1zM491 328h1v1h-1zM490 328h1v1h-1zM529 295h1v1h-1zM486 309h1v1h-1zM485 308h1v1h-1zM522 316h1v1h-1zM523 315h1v1h-1zM504 316h1v1h-1zM480 335h1v1h-1zM516 307h1v1h-1zM536 301h1v1h-1zM535 301h1v1h-1zM489 295h1v1h-1zM498 312h1v1h-1zM505 328h1v1h-1zM504 328h1v1h-1zM529 318h1v1h-1zM530 319h1v1h-1zM494 328h1v1h-1zM475 302h1v1h-1zM492 327h1v1h-1zM473 302h1v1h-1zM475 330h1v1h-1zM496 295h1v1h-1zM497 295h1v1h-1zM477 332h1v1h-1zM478 333h1v1h-1zM481 339h1v1h-1zM527 307h1v1h-1zM481 329h1v1h-1zM494 335h1v1h-1zM537 300h1v1h-1zM528 318h1v1h-1zM505 318h1v1h-1zM506 318h1v1h-1zM469 311h1v1h-1zM470 310h1v1h-1zM458 316h1v1h-1zM459 317h1v1h-1zM533 301h1v1h-1zM473 324h1v1h-1zM482 310h1v1h-1zM498 295h1v1h-1zM536 305h1v1h-1zM537 305h1v1h-1zM492 313h1v1h-1zM512 312h1v1h-1zM532 299h1v1h-1zM526 315h1v1h-1zM477 322h1v1h-1zM494 324h1v1h-1zM495 324h1v1h-1zM522 299h1v1h-1zM517 318h1v1h-1zM516 317h1v1h-1zM509 309h1v1h-1zM510 309h1v1h-1zM493 329h1v1h-1zM492 329h1v1h-1zM481 342h1v1h-1zM487 338h1v1h-1zM507 357h1v1h-1zM500 356h1v1h-1zM487 341h1v1h-1zM486 345h1v1h-1zM500 332h1v1h-1zM500 332h1v1h-1zM507 353h1v1h-1zM508 353h1v1h-1zM492 338h1v1h-1zM667 382h1v1h-1zM677 377h1v1h-1zM692 409h1v1h-1zM691 386h1v1h-1zM689 411h1v1h-1zM676 393h1v1h-1zM677 392h1v1h-1zM670 399h1v1h-1zM669 381h1v1h-1zM668 380h1v1h-1zM696 397h1v1h-1zM676 392h1v1h-1zM679 374h1v1h-1zM693 393h1v1h-1zM695 377h1v1h-1zM696 376h1v1h-1zM693 411h1v1h-1zM678 388h1v1h-1zM677 388h1v1h-1zM679 382h1v1h-1zM688 403h1v1h-1zM688 374h1v1h-1zM689 375h1v1h-1zM692 402h1v1h-1zM695 406h1v1h-1zM675 402h1v1h-1zM692 388h1v1h-1zM689 381h1v1h-1zM688 380h1v1h-1zM677 405h1v1h-1zM690 411h1v1h-1zM674 398h1v1h-1zM666 393h1v1h-1zM697 377h1v1h-1zM689 411h1v1h-1zM688 412h1v1h-1zM672 404h1v1h-1zM671 405h1v1h-1zM687 409h1v1h-1zM694 398h1v1h-1zM674 388h1v1h-1zM667 385h1v1h-1zM679 375h1v1h-1zM696 376h1v1h-1zM699 374h1v1h-1zM700 375h1v1h-1zM673 407h1v1h-1zM672 407h1v1h-1zM667 380h1v1h-1zM692 406h1v1h-1zM670 392h1v1h-1zM669 393h1v1h-1zM698 411h1v1h-1zM668 383h1v1h-1zM670 380h1v1h-1zM671 379h1v1h-1zM685 395h1v1h-1zM678 392h1v1h-1zM679 392h1v1h-1zM675 386h1v1h-1zM674 387h1v1h-1zM699 388h1v1h-1zM698 387h1v1h-1zM673 400h1v1h-1zM696 374h1v1h-1zM681 423h1v1h-1zM684 378h1v1h-1zM640 346h1v1h-1zM655 347h1v1h-1zM728 373h1v1h-1zM660 326h1v1h-1zM678 399h1v1h-1zM699 366h1v1h-1zM677 399h1v1h-1zM669 351h1v1h-1zM686 394h1v1h-1zM629 360h1v1h-1zM628 361h1v1h-1zM675 359h1v1h-1zM685 433h1v1h-1zM687 432h1v1h-1zM701 348h1v1h-1zM713 363h1v1h-1zM700 402h1v1h-1zM699 403h1v1h-1zM697 337h1v1h-1zM648 343h1v1h-1zM650 346h1v1h-1zM710 380h1v1h-1zM709 379h1v1h-1zM675 344h1v1h-1zM684 399h1v1h-1zM686 399h1v1h-1zM687 360h1v1h-1zM700 416h1v1h-1zM698 417h1v1h-1zM628 357h1v1h-1zM644 328h1v1h-1zM710 410h1v1h-1zM701 399h1v1h-1zM700 398h1v1h-1zM689 391h1v1h-1zM690 390h1v1h-1zM685 422h1v1h-1zM686 423h1v1h-1zM727 354h1v1h-1zM728 354h1v1h-1zM685 397h1v1h-1zM627 347h1v1h-1zM638 333h1v1h-1zM642 358h1v1h-1zM662 352h1v1h-1zM679 371h1v1h-1zM678 372h1v1h-1zM630 366h1v1h-1zM629 366h1v1h-1zM707 423h1v1h-1zM708 423h1v1h-1zM701 344h1v1h-1zM673 384h1v1h-1zM672 385h1v1h-1zM653 331h1v1h-1zM652 331h1v1h-1zM666 366h1v1h-1zM698 410h1v1h-1zM696 357h1v1h-1zM695 358h1v1h-1zM655 371h1v1h-1zM683 422h1v1h-1zM684 421h1v1h-1zM635 346h1v1h-1zM634 347h1v1h-1zM698 358h1v1h-1zM697 357h1v1h-1zM676 359h1v1h-1zM674 423h1v1h-1zM699 390h1v1h-1zM698 391h1v1h-1zM639 361h1v1h-1zM679 398h1v1h-1zM623 361h1v1h-1zM675 387h1v1h-1zM703 392h1v1h-1zM702 410h1v1h-1zM710 329h1v1h-1zM677 372h1v1h-1zM676 372h1v1h-1zM669 363h1v1h-1zM685 406h1v1h-1zM684 405h1v1h-1zM697 397h1v1h-1zM692 363h1v1h-1zM691 362h1v1h-1zM657 360h1v1h-1zM727 413h1v1h-1zM726 414h1v1h-1zM680 393h1v1h-1zM646 349h1v1h-1zM718 328h1v1h-1zM717 328h1v1h-1zM667 327h1v1h-1zM666 326h1v1h-1zM673 398h1v1h-1zM674 397h1v1h-1zM681 380h1v1h-1zM657 341h1v1h-1zM648 369h1v1h-1zM675 401h1v1h-1zM695 418h1v1h-1zM666 389h1v1h-1zM703 420h1v1h-1zM704 421h1v1h-1zM661 331h1v1h-1zM652 363h1v1h-1zM697 342h1v1h-1zM709 387h1v1h-1zM703 335h1v1h-1zM678 428h1v1h-1zM643 346h1v1h-1zM637 370h1v1h-1zM712 395h1v1h-1zM679 390h1v1h-1zM713 332h1v1h-1zM675 313h1v1h-1zM744 316h1v1h-1zM745 317h1v1h-1zM727 299h1v1h-1zM724 300h1v1h-1zM723 300h1v1h-1zM718 304h1v1h-1zM714 315h1v1h-1zM721 311h1v1h-1zM720 311h1v1h-1zM651 297h1v1h-1zM652 298h1v1h-1zM693 295h1v1h-1zM684 316h1v1h-1zM736 304h1v1h-1zM720 296h1v1h-1zM718 311h1v1h-1zM733 299h1v1h-1zM732 298h1v1h-1zM655 297h1v1h-1zM742 312h1v1h-1zM741 312h1v1h-1zM734 299h1v1h-1zM708 319h1v1h-1zM689 308h1v1h-1zM715 316h1v1h-1zM671 310h1v1h-1zM717 301h1v1h-1zM682 311h1v1h-1zM741 302h1v1h-1zM681 308h1v1h-1zM680 308h1v1h-1zM726 329h1v1h-1zM725 329h1v1h-1zM746 338h1v1h-1zM727 341h1v1h-1zM718 348h1v1h-1zM723 337h1v1h-1zM746 335h1v1h-1zM718 334h1v1h-1zM724 342h1v1h-1zM723 342h1v1h-1zM725 346h1v1h-1zM726 346h1v1h-1zM729 344h1v1h-1zM709 365h1v1h-1zM716 327h1v1h-1z"/>
<path fill="#aaaaaa" stroke="none" d="M733 398h3v3h-3z"/>
</g>
<g clip-path="url(#cf)" shape-rendering="crispEdges" fill="none" stroke="#000" stroke-width="1.25" stroke-linejoin="round">
<path d="M75.1 320.8l1-.1l.6 .7l.8 .6l1.1 0l1.1-.2l.8 .1l.8 .3l.8-.5l.7-.7l.9-.3l.9-.2l.9-.5l.9-.5l.7 0l.7 0l.7-.2l.6-.4l.8 0l.8-.1l.8 .2l.9-.1l1-.1l.9-.4l.6 0l.6 .2l.5 .2l.6 0l.7 0l.6 0l.9-.5l1-.3l.8 .2l-.2 .7l.7-.4l.7-.1l-.2 .6l-.2 .7l-.5 .8l.3 .5l.6 1l-.4 .9l-.6 .5l-.5 .5l0 .8l.9 .3l.6 .2l.7 .8l.6 .2l.6 .4l.7 0l.7-.2l.8 .1l.8 .3l.8 .3l.8 .2l0 .6l.3 .6l.4 .5l.5 .4l.6 .2l.6 .3l.6 .2l.6 .1l.5 .2l.6 .3l.5 .4l.6 .2l.5-.1l.6-.1l.4-.4l.2-.5l.2-.6l.1-.5l-.1-.6l0-.6l.4-.5l.3-.5l.8-.2l.8-.3l.8 0l.8 .2l.8 .3l.1 .8l.6 .2l.7 .2l.8 .2l.8 0l.3 .7l1-.1l1 .1l.6 .1l.7 .1l.9 .5l.9 .3l.8 .4l.7-.4l.7-.4l.8-.6l1-.1l.6 0l.6 .1l.8 .4l.5 .6l.7-.2l.7 0l.5-.2l.6-.2l.5-.7l.4-1l.2-.5l.2-.6l.1-.6l.2-.8l.4-.7l.5-1l.2-.5l0-.6l-.2-1l.2-.9l.2-.6l.2-.6l-.9 0l-.8-.1l-.8-.3l-.8 .5l-.6 .7l-.7 .2l-.7 .2l-.5-.6l-.8-.4l-1-.3l-1-.4l-.2 .5l-.3 .6l-1.1 .2l-.5-.4l-.4-.4l-.7 .1l-.6-.5l-.6-.3l-.8 0l-.2-.6l.1-.6l-.7-.6l-.6-.7l.2-.6l.3-.6l0-.7l-1-.4l-.1-1l.5-.3l.4-.4l.6-.3l.7 .3l1-.5l1 .5l.9-.3l.8-.3l-.6-.2l-.6-.4l1 .1l.9-.4l.8-.1l.9 .1l.7-.7l.7-.5l.8-.3l.8-.1l.7 0l.6-.1l.7 .1l.7 0l.8 .4l.7 .4l.6 .6l.9 .4l.9 .1l.7 .1l.7 .1l1 .1l1-.3l.8 0l.7-.2l.6-.4l.8-.3l.3-1l-.1-.7l-.2-.6l-.9-.6l-1-.4l-1-.7l-.9-.7l-1-.7l-.6-.3l-.5-.4l-.7-.6l-1-.4l.3-.5l1.1-.4l.7-1l.7-.7l.8-.4l.5-.6l-.9 0l-.8 0l-.7 .2l-.7 .2l-1 .4l-1.1 .2l-.6 .3l-.6 .2l-.1 .6l-.2 .6l.9 .7l.7 0l.7-.2l-.2 .7l-.7 0l-.8 .1l-.8 .4l-.6 .4l-.6 .2l-.7 .2l-.3-.6l0-.6l-.7-.5l-.9-.3l.6-.3l.5-.4l.7-.6l-.9-.1l-.9 .1l-.4-.5l-.5-.4l-.6 0l-1.1 .1l-.5 .7l-.5 .7l-.4 .5l-.4 .4l-.1 1l-.8 .5l-.6 .6l-.3 .8l.1 .8l-.6 .6l-.5 .7l-.3 .6l.5 .7l.3 1l.6 .3l.6 .2l-.1 .4l-.7 .1l-.7-.1l-.8 .1l-.8 .7l-.3 .8l-1 .2l.4-.6l.6-.5l-.7 .1l-.6 0l0-.6l-.7 .1l-.7-.2l-1.1 .1l-.8 .4l.5 .5l.3 .6l-.8-.3l.2 .6l-1-.5l0 .5l-.6-.6l-.1-.6l-.5 .4l0 .7l.5 .8l.6 .8l-.6-.2l0 .7l.4 .6l.4 .7l.9 .1l.1 1l-.7-.5l-1 0l.3 .8l.5 .2l-.7 .1l-.5-.4l.7 1l-.1 1.1l-.8-.7l-.2 .8l-.6-.4l0-.7l-.6 .3l-.4-.6l.2-.7l-.5-.6l0-.7l1.1-.2l-.7-.2l-.7 .1l-.6-.9l0-.4l-.3-.6l-.5-.5l-.5-1l-.7-.3l-.2-1l.2-.9l0-1l-.5-.6l-1-.6l-.6-.6l-.8-.3l-.9-.8l-1-.3l-.7-.4l-.5-.6l-.6-.4l-.2-.7l-.3-.6l-.8-.8l-.3 .4l-.5 .6l-.2-.7l-.4-.6l.3-.4l-.9 0l-1.1 .5l-.2 .8l.1 .8l-.1 .5l.6 .6l.6 .5l.7 .3l.2 .7l.4 .6l.5 .8l.8 .7l.6 .4l.7 .1l.7-.2l-.1 .7l.1 .4l.7 .4l.7 .1l1 .6l.8 .3l.3 .5l.4 .5l-.2 .6l-.5-.4l-.2-.5l-1.1-.4l-.5 .3l-.4 .4l0 .8l.7 .6l0 .7l-.7 .4l-.2 .8l-.6 .8l-.7 0l0-.5l.3-.7l.4-.3l0-.6l-.4-.7l-.1-.7l-.3-.5l-.9-.2l-.1-.4l-.3-.5l-.7 .1l-.1-.5l-.6-.3l-.4-.4l-.8 0l-.8-.4l-.6-.6l-.7-.7l-1.1-.5l-.5-.5l-.4-.6l-.3-1l-.2-.8l-.6-.3l-.7-.4l-.7-.2l-.6 .3l-.5 .4l-1.1 .4l-.8 .5l-.6 .6l-1.1 .2l-.9-.4l-1.2-.1l-.9-.3l-.8 .4l-.6 .6l-.1 1l.2 .4l0 .7l-.8 .5l-.7 .5l-.8 .2l-.8 .3l-.6 .8l-.6 .4l-.4 .6l-.3 .7l-.5 .6l.6 .6l.2 .8l-.5 .4l-.6 .4l-.1 .7l-.2 .6l-.8 .2l-.6 .5l-.5 .5l-.3 .5l-.6-.1l-.8 .1l-.8 .1l-.7 0l-.7 0l-.6 .6l-.8 .5l-.5 .3l-.5-.6l-.6-.4l-.1-.6l-.9-.7l-.7 0l-.8 .4l-.8-.2l-.8 .2l-.1-.9l.3-.9l0-.9l-1-.6l0-.6l0-.7l.6-.7l.2-.8l.2-1l.1-.9l.1-.9l-.4-.9l-.3-.7l-.3-.8l.5-.6l.9-.3l.8-.7l.7 .1l.7 .3l1-.2l1.1 .2l.9 0l.9 .3l1.1-.1l1.3 .2l.9 0l1 0l.4-.3l.3-1.1l.1-1l.3-.9l0-.8l-.2-.7l0-.6l-.9-.7l-.5-.6l-.2-.8l-.9-.5l-.9-.3l-.8-.1l-.8-.1l-.5-.5l-.1-.7l.6-.3l.6-.2l.8-.1l.8-.1l.8 .2l.8 0l.7 0l-.1-1l-.5-1l1.1 0l.2 .7l1.4 .1l.5-.4l.1-.4l.6-.4l.8 0l.8-.7l0-1l.6-.6l.8 .2l1.1-.6l.7-.1l.2-.6l.4-.4l.4-.6l.5-.5l.3-.8l1-.5l1.2-.4l1.3 .1l.1-.6l1.5-.1l.7 .3l.2-.7l.6 0l-.1-.7l-.4-.6l-.1-.6l-.1-.5l.1-.6l-.8-1l.1-.6l-.1-.7l.8-.8l1.4-.2l.8-.7l.9-.3l-.1 1l-.3 1l.9 .5l-.9 .5l-.5 .9l-.3 .4l-.5 .6l.6 .7l.2 .6l1.6 .2l-.3 .7l1.1 0l.9-.2l.6-.6l.8 .1l.6-.5l.7 1.1l.8 .3l.9-.2l.9-.2l.8-.3l.8-.4l.9-.1l.7-.4l1.4-.1l.5 .8l1.2 0l.8-1l.8-.3l.6-.4l.3-.8l0-.8l-.1-.7l.9-.9l0-1l1.6-.5l.9 .9l1.3 .5l.6-.5l-.2-.7l.2-.7l.2-.6l-1.3-.1l-.3-.8l0-.8l.7-.5l1.2 .1l1.7-.3l.9 .2l1 .1l1.6-.1l.7-.6l.9-.5l1 .2l.8 0l-.9-.5l-1.4-.5l-.4-.3l-1.2 .3l-1.3 .1l-.8 .4l-1.1-.2l-1 .3l-1.6 .3l-1.6 .3l-.3-.7l-.9-.4l-1.3-.3l-.2-1l.4-.9l-.8-.7l.4-.7l-.3-.5l.8-1l1.1-.6l1.1-.7l1-.5l.6-.7l.9-.7l1.3-.4l-.2-1l-1.1-.4l-.8-.1l-1.5 0l-1.4 .3l-1.1 .6l-.6 .6l.2 .5l-.4 .8l-1.1 1l-1.1 .3l-.5 .6l-1.3 .8l-.9 .6l-.8 .3l-.5 .7l.4 .7l-.7 .9l.4 1l1.2 .3l.9 .4l.7 .8l-.8 1l-.5 .1l-.3 .8l-1.4 .6l-.5 .4l.2 .5l-.2 .6l.3 .7l-.8 .6l0 .8l-.6 1l-.6 .1l-1.4 0l-.2 .6l-.4 .5l-.7 .3l-1.4 0l-.1-.4l-.4-.9l.2-.5l.2-.6l-.7-.6l-.4-.6l-.5-.8l-.6-1l-.7-.6l.2-.7l-.2-.4l.3-.8l-.9-.7l0 .6l-.3 .5l-.8 .6l-.8 .2l-.8 .8l-1.2 .6l-.9 .5l-1-.2l-.8-.3l-.9-.3l-.4-.5l-.1-.8l-.5-.7l-.3-.6l.2-.6l.1-.8l-.2-.5l-.3-.6l.6-.9l-.6-.8l.5-.6l1.4-.6l1.4-.7l1.1-.5l1.5-.5l1.2-.4l.8-.9l1.3-.8l.7-.7l1.1-.6l.5-.8l.6-.7l.7-.6l-.1-.6l.9-.5l1.2-.8l.7-.5l.3-.7l1.2-.5l1.1-.6l1.1-.9l1.3-1l1.5-.4l1.6-.6l1.6-.1l1.5-.4l1.6-.2l1.1-.6l1.6-.6l1.7-.2l1.9 .2l1.9-.2l1.2 .5l1.6 .4l1.7 .6l-1.7 .5l-.3 .5l1.6 0l1.1 .2l.7-.4l1.3 .4l.5 .6l-.2 .8l2.4-.4l2.3 .2l1.6 .1l.8 .6l1 .6l1.3 .6l1.1 .4l1.3 .3l.9 1l.2 .9l-1.4 .8l-1.2 .5l-1.5 0l-1.3-.1l-1.2-.3l-1.4-.5l-1.7 0l-1.1-.4l-1.3 0l-1.7-.7l-.1 .6l1 .5l1.6 .4l.8 .8l.7 .8l-.3 .9l0 .9l1.3 .4l.9 .6l1.3 .2l1.6-.4l-.4-.8l-1.1-.5l-.4-.7l1.5 0l1.1 .6l1.3 .2l1.1 .3l.8 0l-.8-1l-.3-1l1.4-.4l1.3-.5l1.5-.7l1.2 .3l1 .4l.5-.8l.2-.7l-.7-.6l.6-.8l-.7-.7l-1-.6l.2-.7l1.4 .3l1.4 0l1.3 .2l.9 .6l.3 .5l-1.3 .2l-1.3 .2l-.2 .6l1.2 .3l.5 .6l1.4-.1l1.3 0l-.2-.7l.7-.7l1.2-.7l1.9-.2l1.8-.2l1.3-.6l1.6-.2l1.3-.6l0 .7l.6 .7l1.3-.6l2 .1l1.9-.3l1.1-.3l1.2-.3l1.4 1l1.1-.4l.5-.6l-.4-.6l-.7-.7l.6-.6l1.8 .5l2-.1l1.9 .2l1.1 .7l1.7 .5l1.9 .5l.7 .5l1 .4l.6-.6l.5-.7l-.8-.5l-.6-.6l-1.9-.2l.2-.8l-.9-.7l.4-.8l.3-.6l1.3-.4l.6-.5l.6-.6l.4-.7l.4-.8l1.4-.7l2.6-.3l2 .8l0 .8l-.2 .7l-1 .6l.4 .8l.3 .7l.5 .8l-.7 .6l.2 .7l-.8 .9l1 .8l1.1 .4l.6 .6l-1 .7l-.1 .8l-1.2 .9l-1.1 .8l-1.6 .3l-1.6-.1l2 .3l1.9 .3l1.6-.4l1.3-.6l.6-.9l.8-1l-.1-1l.2-1.1l-1.5-.7l-.7-.9l.4-.8l1.2-.7l-.1-.9l-1.9-.7l1.3-.7l1.5-.7l.5-.6l-.3-.7l.9 1l-.7 .9l.2 1l1.9 .2l2.4 .3l-.9-.9l.4-1l.6-.7l2.2 .2l1.6 .5l1.6 .6l1.2 .7l1.1 .8l-.2-.8l.7-.7l-1.3-.4l-.4-.5l-1.2-.5l-1.2-.3l-.3-.9l.1-.8l3-.4l2.8-.2l2.7-.2l1.6-.8l-1.6-.9l2.4-.6l1.9-.5l2-.4l2.9-.6l3.4-.2l2.3 0l2.4 0l1.9-.4l2-.4l1.2-.4l1.2-.5l.5-.6l1.1-.5l1.5-.4l2.1 0l2.6 .5l-1.6 1l2.4 0l1.6 .6l3.2 .1l3.1-.3l1.2 .4l1.1 .5l1.5 .6l-.2 .8l-.5 .6l-1.6 .5l-3 .4l-1.7 .9l-1.6 .4l-.7 .6l-1.7 .4l-1.5 .5l2.7 .1l2-.6l2.4-.6l1.9 0l1.7-.2l1.9 .6l1.8 .2l1.6 .3l1.7-.3l1.9 0l.8 .7l1.8 .1l1.5-.4l1.6 .2l1.4 .3l.8-.9l2.3-.2l3.2 .2l1.8 .5l1.3 .6l-.8 1l.8 .9l1.2 .8l-.4 .9l1.7-.1l1.5 .3l1.5-.4l.8-.7l1.9-.4l2 .2l1.6 .2l1.6 .2l1.5-.1l1.6-.1l-.4-.7l1.2-.6l-1.1-.6l2.7-.6l1.7 .2l1.6-.2l1.4 .3l1.6 .3l1.5 .2l1.6 .2l1.9 .2l2 0l.3 .7l1.3 .6l1.3 .7l1.8 .4l2.7-.3l2.8 .1l2.2 .6l2.5-.2l.9 .8l.7 .7l.7 .5l.9 .5l2.5 .2l2.2-.6l2.3 .4l2.4 0l.9-.5l1.1-.5l1.8-.1l1.7 0l-1.4 .9l.6 1.2l-.2-1.1l1.8-.9l1.7 .1l1.4 .3l2.4-.4l2.3 .4l.7 .6l1.2 .3l1.3 .4l1.5-.1l1.6 .5l1.8 .3l1.3 .7l.5 .6l1.2 .3l1.1 .4l1.2 .2l2 .3l1.1 .9l1.8 .1l1.3 .6l1.2 .6l1.5 .4l-.9 .5l-.2 .6l-1.2 .8l-1.9 .2l-.3 .6l-.5 .5l-1.2-.2l-1.2 .2l-1-.4l-1.3 0l-1.4-.6l-1-.9l-1.1-.8l-1.2-.7l-1.5 .7l-.1 1l-.4 .6l-1.2 .4l-1.1 .1l-1.2 0l1.1 .6l.4 .8l0 1.1l1.3 .8l.5 .6l-.3 .7l-1.1-.1l-.7-.5l-1 .1l-1 .1l-1.1 .3l-1 .3l-.7 .6l-1.1 .2l-1 .2l-.7 .5l-.7 .4l-.8 .4l-1 .4l-.7 .5l-.8 .4l-.6 .6l-.9-.4l-.9-.3l-1.1-.2l-1 0l-1.7 .4l-1.5 .5l-1.1 .2l-1.2 0l-1 0l-.9 .2l-.3 .8l-.2 .7l.1 .7l.4 .7l-1.1 .4l-1 .5l.6 .9l1 .6l-.2 .7l-.1 .7l.8 .3l-.7 .5l-.8 .4l-.4 .6l-.5 .6l.5 .4l-1.3 .3l-1.2 .5l-.1 .6l-.3 .5l-.3 .6l-.1 .6l-1 .3l-1 .1l-.4 .9l-.3 1l-.5 .5l-.7 .4l-.7 .5l-.6 .5l-.1-1l-.2-.9l-.4-.7l-.1-.8l0-.7l-.1-.7l-.4-.7l-.3-.7l-.1-.7l0-.8l.1-.7l.1-.7l.1-.7l-.2-.7l1.1-.9l.7-1l1.1-.6l.8-.8l.7-.5l.5-.6l.9-.4l.7-.6l.9-.5l1-.3l.6-.7l.8-.6l.6-.5l.5-.6l.8-.4l.6-.5l.5-.9l.3-.9l-1.6-.2l-1.2 .2l-1 .5l-1 .3l-1 .4l-.5 .7l-.3 .8l-1.1-.1l-.9-.4l-.8-.4l-.8-.4l-1.2 .1l-1.2 .3l-.4 .7l-.3 .8l-.9 .6l-.7 .7l.1 .7l.7 .6l-1.6 .3l-1.6 .3l-1.2-.2l-1.1-.2l-1.1-.6l-1.5-.1l-1.4 0l-1.2-.1l-1.2 0l-1.4 0l-.9 .6l-1.1-.4l-1.2 .1l-1.2 .1l-1.2 .2l-1.7 .1l-1.2 .9l-.7 .9l-.3 1l-1 .6l-1 .4l-.6 .8l-.6 .7l-.1 .8l-.6 .8l-.6 .7l-1 .5l-.6 .7l-1 .3l1.1 .6l1.3 .3l.7 .3l.8 .1l.6-.6l1-.1l.6 .5l.2 .6l.8 .2l.8 .4l-.2 .8l.6 .7l-.1 1.1l-.8 .8l.3 1l-.6 .9l.3 .7l-.1 .8l.1 .7l-.3 .7l-.5 .9l-.7 .5l-.7 .4l-.2 .7l-.3 .7l0 .7l-.4 .6l-.4 .5l-.7 .3l-.3 .8l-.8 .4l-.6 .7l-.7 .4l-.6 .9l-1 .6l-.8 .1l-.6 .6l-.7 .5l-.2 .7l-.9 .3l-.7 .5l-.6-.6l-1-.2l-.6 .8l-.9 .4l-.5 .6l-.5 .4l-.6 .3l-.1 .9l-.4 .8l-.3 .8l-.7 .6l-.9 .5l-.6 .4l-.8 .2l-.1 1l.6 .4l.6 .5l0 .8l.7 .6l.6 .6l.3 .9l.2 .5l.2 .6l0 .6l-.1 .6l-.1 .9l-.7 .8l-.7 .3l-.8 .1l-.8 .3l-.9 0l-.7 .6l-.3-.7l0-.8l.3-.8l.2-.6l0-.7l-.7-1l1-.3l-.3-1l-.8-.4l-.7-.2l-.6 .2l-.5-.7l.3-.6l.1-.6l.1-.6l.3-.5l-.4-.5l-.7-.3l-.6-.6l-.7 .3l-.7 .1l-.9 .7l-1 .3l-.5 .4l-.6 .3l-.6 .2l.3-.6l.2-.7l.4-.7l.3-.6l.4-.8l-.6-.3l-.5-.3l-.8 .2l-.7 .9l-.9 .6l-.8 .4l-.3 .6l-.5 .6l-.8 0l-.7 0l-.5 .5l-.2 .8l.7 .6l.7 .4l.8 .5l0 1l.8 0l.6-.2l.7-.4l.6-.6l.7 .3l.6 .3l.8 .2l.9 0l-.3 1l-1.1 .3l-1.1 .2l-.7 .4l-.4 .6l-.8 .4l-.5 .7l-.3 .7l-.2 .7l.9 .4l.7 .5l.4 .6l.3 .6l.1 .7l.3 .6l.3 .5l.3 .4l.4 .5l.3 .5l.3 .6l-.1 .6l.1 .7l-.7 .5l-.7 .3l-.6 .2l-.5 .3l.6 0l.6 .2l.5 .4l.6 .2l.1 .7l.1 .6l-.1 .9l-.4 .8l-.6 .5l-.8 .1l-.3 .8l-.3 .7l-.6 .9l-.4 .9l-.1 .6l0 .7l-.5 .7l-.6 .4l-.7 .4l-.6 .6l-.6 .8l-.6 .7l-.6 .3l-.4 .5l-.4 .4l-.5 .2l-.5 .2l-.5 .3l-.5 .3l-.4 .3l-.6 .2l-.5 0l-.6-.4l-.5-.6l-.1 .7l.1 .7l-.7 .6l-.9 .1l-.8 .2l-.7 .2l-.9 0l-.7 .6l-.4 .8l.2 .9l-.8 0l-.1-1.1l-.2-1l-.9-.2l-.6-.1l-.7-.1l-.4 .2l-.9 .4l-.7 .8l-.5 .1l-.2 .6l.1 .6l-.7 .7l-.4 .8l-.3 .6l-.1 .6l.8 .6l.3 1.1l.4 .7l.2 .9l.7 .5l.5 .1l.4 .4l.2 .5l.5 .3l.7 .5l.4 1l.3 .5l.1 .7l-.1 .7l.1 .6l0 1l.2 .9l-.2 1.1l0 1l0 .7l-.4 .5l-.7 .6l-.7 .5l-.8 .3l-.7 .5l-.3 .6l-.3 .7l-.6 .3l-.5 .5l-.5-.1l-.4 .3l-.2 .5l-.5 .4l0-1l-.3-.9l.3-1l-.7-.5l-.8 .2l-.6-.4l-.4-.8l-.6-.6l-.1-.9l-.5-.6l-.6-.4l-.5-.3l-.5 0l-.4-.3l-.5-.1l-.3-.8l.1-.7l-.6-.2l-.8 .3l.2 .8l-.3 .8l.1 .7l-.1 .8l-.2 .8l-.5 .5l-.1 .7l-.4 .5l.2 .5l0 .6l-.2 .6l.2 .6l.7 .5l.4 .8l.3 .5l.1 .7l.2 .5l.2 .6l.7 .6l.9 .3l.3 .8l.6 .4l.4 .3l.5 .1l.2 .4l.3 .5l.2 1l.4 .9l-.1 1l.1 .9l.3 .9l.1 1l.3 .5l.5 .4l.1 .6l0 .6l-.6 0l-.5 .2l-.4-.3l-.4-.3l-.3-.5l-.5-.2l-.2-.6l-.5-.5l-.5 0l-.5-.4l-.1-.6l-.4-.5l-.3-.4l-.1-.6l-.4-.5l-.3-.4l.2-.6l-.2-.6l.1-.9l-.2-.8l0-.7l-.3-.5l-.7-.8l-.3-.8l-.5-.7l-.6-.6l-.8 .2l.3-.9l-.3-1l.4-.9l.1-1l0-.8l-.2-.7l.2-1l.2-.9l-.3-.7l.1-.8l-.5-.9l-.1-1l-.1-.6l-.1-.6l-.1-.6l-.1-.5l-.1-.6l-.2-.6l.2-.6l-.2-.5l0-.6l-.3-.6l-.6-.2l-.3-.7l-.7 .3l-.4 .6l-.7 .7l-.7 .7l-.9-.1l-.8-.3l0-.8l-.2-.7l.4-.6l.2-.8l.1-.6l-.1-.7l-.2-.6l-.2-.5l-.9-.7l-.2-1.1l-.7-.3l-.4-.6l-.7-.4l-.3-.8l0-.6l-.5-.5l0-.9l-.3-.8l-.3-.5l-.3-.5l-.6 .4l-.7 .2l-.2 .6l-.2 .5l-.7 .2l-.6 0l-1 0l-.9 .4l-.4-.6l-.7 .6l-.6 .6l-.1 .6l-.4 .5l-.3 .8l-.6 .6l-.8 .4l-.5 .5l-.6 .4l-.4 .5l-.2 .6l-.5 .3l-.5 .5l-.7 .5l-.5 .7l-.4 .4l-.4 .4l-.3 .5l-.5 .4l-.4 .5l-.5 .4l-.6 .5l-.5 .5l-.6 .1l-.5 .1l-.2 1l-.1 1.1l-.1 .7l.2 .7l.2 .7l0 .7l-.4 1l-.1 1.1l0 1l-.3 .9l.1 .7l0 .7l-.9 0l-.4 .7l-.2 .8l.4 .4l-.6 .1l-.6 .4l-.3 .4l-.6 .6l-.4 .8l-.6-.4l-.5-.4l-.2-.7l-.3-.6l-.1-.7l-.3-.7l-.2-.6l-.2-.7l-.2-.7l-.2-.6l-.3-.6l-.2-.7l-.3-.6l-.4-.4l-.4-.8l-.1-.7l-.1-.7l-.3-.6l-.1-.7l-.5-.9l-.2-.7l-.2-.7l-.5-.8l-.2-1.1l0-.7l-.3-.7l-.1-.7l-.2-.7l-.3-.9l0-1l-.2-1l0-.9l.2-1l0-.9l0-.6l0-.6l-.3-.6l-.2-.5l-.3 .9l-.3 1l-.9 .3l-.8 .4l-1-.1l-.6-.5l-.5-.7l-.5-.7l-.6-.6l.6-.2l.5-.3l.4-.4l.4-.5l-.9 .2l-1 0l-.4-.8l-.5-.7l-.7-.2l-.7-.4l-.3-.6l-.2-.7l-.8-.4l-.1-.6l-.2-.5l-.6 .1l-.6-.2l-.6 .1l-.6 .2l-.5 0l-.6 .2l-.6-.1l-.6 .1l-.9 .2l-1-.1l-.5-.1l-.6 0l-.8 0l-.8-.2l-.6-.2l-.6 .1l-.6-.2l-.7 .1l-.9-.3l-1-.3l-.4-.4l-.2-.6l-.3-.6l-.3-.5l-.5-.3l-.6-.3l-.7 .2l-.6 .4l-.5 .4l-.7 .2l-.9-.5l-1-.1l-.7-.8l-.9-.5l-.7-.6l-.8-.2l-.6-1l-.5-.9l-.6-.8l-.2-.9l-.7-.2l-.6-.4l-.9-.4l-.7 .7l-.7 .3l-.2 .7l.4 .6l.2 .6l.5 .7l.2 .8l.7 .7l.5 .8l.4 .6l.6 .6l-.1 1l.2 1.1l.6 .6l.4 .7l0-.8l.1-.7l.5-1l.2 .9l.4 .7l-.1 .6l-.2 .7l.3 .5l.3 .5l.7-.1l.6-.1l.9 .1l1 .1l.5-.4l.4-.4l.9-.6l.5-.9l.6-.6l.5-.8l.6-.6l-.1 .7l0 .7l.2 .6l-.1 .7l.3 .7l.4 .5l.8 .3l.7 .6l.7 .3l.6 .1l.5 .8l.6 .7l.8 .6l-.1 .6l-.2 .5l-.3 .5l-.2 .5l-.7 .7l-.4 1l-.6 .3l-.7 .3l.1 .6l-.1 .5l0 .6l0 .6l-.6 0l-.6 .2l-.3 .9l-.5 .8l-.5 .1l-.5 .2l-.4 .4l-.5 .2l-.5 .2l-.4 .4l-.5 .1l-.5 .3l-.9 .2l-.8 .6l-.3 .5l-.2 .5l-.3 .5l-.4 .4l-.5 .3l-.4 .3l-.5 .1l-.5 .2l-.7 .5l-.7 .4l-.8 0l-.8 .3l-.6 .4l-.6 .5l-.7 .3l-.6 .5l-.5 .2l-.6 0l-.5 .1l-.5 0l-.5 .3l-.3 .5l-.6 .1l-.4 .3l-.6 .2l-.6 0l-.6 .2l-.6 0l-.2-.7l-.3-.7l0-.7l-.1-.7l-.2-.7l-.1-.7l-.2-.7l-.3-.7l-.1-.7l.1-.8l-.3-.9l-.2-1l-.4-.4l-.3-.4l-.3-.6l-.2-.5l-.3-.6l-.3-.5l-.3-.5l-.4-.5l-.4-.5l-.5-.4l-.3-.7l-.4-.5l-.5-.9l-.4-1l.1-.6l-.2-.6l0-.7l-.2-.6l-.3-.6l-.4-.6l-.4-.6l-.2-.6l-.5-.4l-.3-.5l-.3-.5l-.3-.6l-.3-.9l-.6-.8l-.3-.7l-.3-.6l-.4-.5l-.5-.6l-.5-.7l-.5-.7l0-.7l.1-.7l-.2-.7l0-.7l-.3 .7l-.3 .8l-.1 .7l-.2 .6l-.2 .5l-.6-.5l-.4-.6l-.4-.5l-.3-.6l-.3-1l-.6-.9l-.4 .6l.4 .7l.1 .8l.4 .7l.4 .6l.3 .5l.4 .5l.3 .7l.3 .9l.3 .9l.3 .6l.4 .5l.1 .7l.3 .6l.4 1l.5 .9l.5 .2l-.3 .7l-.2 .7l.5 .3l.4 .4l.3 .5l.4 .5l.6 .7l.2 .9l.3 .9l.1 .6l.1 .7l-.1 .7l-.1 .6l.2 .8l.1 .8l.5 .2l.3 .5l.4 .4l.4 .4l.3 .6l.1 .6l.4 .6l.1 .7l.2 .5l.4 .4l.1 .6l.1 .6l.5 .6l.6 .5l.7 .7l.9 .4l.6 .5l.5 .5l.5 .6l.3 .7l.5 .6l.6 .6l.2 .6l.1 .6l-.3 .7l.6 .6l.4 .7l.4 .8l.8 .1l.8 0l.5-.4l.6-.1l.6 0l.6-.2l.6-.2l.6-.2l.6 0l.6-.3l.6 .1l.5-.2l.6-.1l.6-.2l.5-.2l.6-.2l.5-.3l.5-.3l.7 .1l-.2 .6l0 .7l-.1 .6l0 .7l-.2 1l-.2 .9l-.5 .6l-.3 .6l-.3 .7l-.2 .8l-.2 .6l-.3 .7l-.5 .5l-.3 .6l-.5 .8l-.5 .8l-.2 .9l-.3 1l-.6 .6l-.3 .9l-.6 .6l-.4 .7l-.4 .5l-.3 .6l-.5 .3l-.4 .5l-.5 .4l-.5 .5l-.5 .6l-.4 .6l-.6 .4l-.6 .4l-.6 .6l-.6 .6l-.4 .7l-.6 .6l-.3 .7l-.3 .7l-.5 .5l-.5 .6l-.5 .7l-.6 .6l-.6 .5l-.5 .6l-.2 .6l-.4 .4l-.1 .6l-.1 .6l-.3 1l-.5 .8l-.3 1.1l-.3 1l.5 .6l.3 .8l0 .5l.1 .6l0 .6l.2 .6l0 .9l-.1 1l.3 .9l.3 1l.5 .3l.4 .4l0 1.1l.2 1l0 .7l.1 .8l0 .7l0 .7l0 .7l0 .7l.2 .7l.2 .7l0 1l-.2 1l-.7 .7l-.6 1l-.5 .4l-.6 .3l-.4 .5l-.7 .3l-.6 .1l-.6 .4l-.5 .5l-.6 .3l-.2 .6l-.3 .5l-.4 .3l-.4 .5l-.4 .6l-.4 .6l-.5 .5l-.5 .2l-.3 .7l-.2 .7l.5 .8l.4 .9l.1 1l.2 .9l0 .7l.2 .6l-.1 .7l-.1 .7l-.3 .7l-.4 .6l-.6 .3l-.5 .5l-.7 .2l-.6 .3l-.6 .6l-.5 .6l-.1 .9l.3 .8l-.4 1l-.1 1.1l-.2 1l0 1.1l-3.2 0l-3.3 0l-3.2 0l-3.2 0l-3.3 0l-3.2 0l-3.2 0l-3.3 0l-.1-.6l-.1-.6l-.1-.6l-.1-.6l-.2-.6l-.2-.5l-.3-.6l-.3-.5l-.1-.7l0-.8l-.1-.8l-.1-.7l-.3-1l-.3-.9l.1-1.1l-.1-1l-.3-.7l-.2-.7l-.1-.7l-.2-.6l-.4-.6l-.3-.6l-.2-.6l-.2-.7l-.3-.7l-.2-.6l-.3-.7l-.5-.5l-.4-.9l-.7-.8l0-.9l-.1-1l.2-.9l-.1-1l.3-.8l.2-.7l.2-.6l.1-.7l.1-.6l.2-.6l.4-.6l.5-.6l.2-.8l.3-.7l.3-.5l0-.6l.2-.6l.2-.6l0-.7l0-.8l-.6-.9l-.2-1l0-.7l-.2-.6l-.2-.8l-.1-.7l-.3-1l0-1l-.5-.8l-.3-.9l-.1-.9l-.5-.9l-.2-1l-.5-.8l-.6-.6l-.4-.3l-.3-.4l-.4-.4l-.1-.6l-.7-.5l-.4-.8l-.4-1l-.6-.9l-.2-.6l-.1-.6l.4-.4l.4-.3l.2-.7l0-.7l.2-.5l.1-.6l0-1l.3-.9l.2-.9l-.1-.8l-.2-1l-.1-.9l-.5-.3l-.6-.1l-.1-1l-.5 .1l-.5 0l-.6 .1l-.6 .2l-.8 0l-.7 .1l-.7 .1l-.6-.8l-.4-.9l-.3-.6l-.5-.6l-.3-.5l-.4-.4l-.9-.1l-.9-.1l-.8 0l-.7 .2l-.5-.1l-.5 .1l-.5 .1l-.4 .3l-.4 .3l-.5 .3l-.5 .3l-.5 0l-.8 .3l-.8 .5l-.7 .5l-.8 .3l-.9-.5l-.9-.1l-.7-.2l-.7-.1l-.6 .1l-.6 .1l-.5 .2l-.6-.1l-.9 .4l-.9 .3l-.7 .4l-.7 .3l-.8-.4l-.7-.6l-.8-.8l-.8-.4l-.6-.2l-.6-.3l-.4-.5l-.5-.5l-.6-.5l-.5-.7l-.7-.5l-.8-.4l-.4-.5l-.3-.4l-.2-.6l-.2-.6l-.2-.6l0-.5l-.6-.8l-.6-.8l-.7-.7l-.3-.7l-.4-.5l-.6-.9l-.4-1l-.4-.3l-.4-.3l-.4-.2l-.5-.1l-.1-1l-.1-.9l-.3-.8l0-.8l-.4-.4l-.4-.5l.7-.6l.4-1l.5-.9l.2-.9l.1-1l.4-1l.1-1.1l-.1-1l-.4-.9l.1-.9l-.1-.8l-.6-.8l-.6-.8l.1-.6l0-.7l.2-.7l.4-.6l.3-.6l.2-.8l.4-.7l.2-.8l.5-.4l.2-.6l.5-.4l.3-.5l.3-.6l.1-.7l.2-.7l.1-.7l.8-.4l.6-.7l.3-1l.4-.9l.9-.4l1-.3l.7-.6l.7-.8l.7-.5l.7-.5l.4-1l.4-1.1l0-.9l-.3-1l.2-.5l.1-.6l.4-.4l.2-.6l.7-.6l.6-.9l.6-.3l.8-.3l.5-.5l.7-.3l.3-1l.5-.8l.4-.8zM640.3 320.8l1-.1l.6 .7l.8 .6l1.1 0l1.1-.2l.8 .1l.8 .3l.8-.5l.7-.7l.9-.3l.9-.2l.9-.5l.9-.5l.7 0l.7 0l.7-.2l.6-.4l.8 0l.8-.1l.8 .2l.9-.1l1-.1l.9-.4l.6 0l.6 .2l.5 .2l.6 0l.7 0l.6 0l.9-.5l1-.3l.8 .2l-.2 .7l.7-.4l.7-.1l-.2 .6l-.2 .7l-.5 .8l.3 .5l.6 1l-.4 .9l-.6 .5l-.5 .5l0 .8l.9 .3l.6 .2l.7 .8l.6 .2l.6 .4l.7 0l.7-.2l.8 .1l.8 .3l.8 .3l.8 .2l0 .6l.3 .6l.4 .5l.5 .4l.6 .2l.6 .3l.6 .2l.6 .1l.5 .2l.6 .3l.5 .4l.6 .2l.5-.1l.6-.1l.4-.4l.2-.5l.2-.6l.1-.5l-.1-.6l0-.6l.4-.5l.3-.5l.8-.2l.8-.3l.8 0l.8 .2l.8 .3l.1 .8l.6 .2l.7 .2l.8 .2l.8 0l.3 .7l1-.1l1 .1l.6 .1l.7 .1l.9 .5l.9 .3l.8 .4l.7-.4l.7-.4l.8-.6l1-.1l.6 0l.6 .1l.8 .4l.5 .6l.7-.2l.7 0l.5-.2l.6-.2l.5-.7l.4-1l.2-.5l.1-.6l.2-.6l.2-.8l.4-.7l.5-1l.2-.5l0-.6l-.2-1l.2-.9l.2-.6l.2-.6l-.9 0l-.8-.1l-.8-.3l-.8 .5l-.6 .7l-.7 .2l-.7 .2l-.5-.6l-.8-.4l-1-.3l-1-.4l-.2 .5l-.3 .6l-1.1 .2l-.5-.4l-.4-.4l-.7 .1l-.6-.5l-.6-.3l-.8 0l-.2-.6l.1-.6l-.7-.6l-.6-.7l.2-.6l.3-.6l0-.7l-1-.4l-.1-1l.5-.3l.4-.4l.6-.3l.7 .3l1-.5l1 .5l.9-.3l.8-.3l-.6-.2l-.6-.4l1 .1l.9-.4l.8-.1l.9 .1l.7-.7l.7-.5l.8-.3l.8-.1l.7 0l.6-.1l.7 .1l.6 0l.9 .4l.7 .4l.6 .6l.9 .4l.9 .1l.7 .1l.7 .1l1 .1l1-.3l.8 0l.7-.2l.6-.4l.8-.3l.3-1l-.1-.7l-.2-.6l-.9-.6l-1-.4l-1-.7l-.9-.7l-1-.7l-.6-.3l-.5-.4l-.7-.6l-1-.4l.3-.5l1.1-.4l.7-1l.7-.7l.8-.4l.5-.6l-.9 0l-.8 0l-.7 .2l-.7 .2l-1 .4l-1.1 .2l-.6 .3l-.6 .2l-.1 .6l-.3 .6l1 .7l.7 0l.7-.2l-.2 .7l-.7 0l-.8 .1l-.8 .4l-.6 .4l-.6 .2l-.7 .2l-.3-.6l0-.6l-.7-.5l-.9-.3l.6-.3l.5-.4l.7-.6l-.9-.1l-.9 .1l-.4-.5l-.5-.4l-.6 0l-1.1 .1l-.5 .7l-.5 .7l-.4 .5l-.4 .4l-.1 1l-.8 .5l-.6 .6l-.3 .8l.1 .8l-.6 .6l-.5 .7l-.3 .6l.5 .7l.3 1l.6 .3l.6 .2l-.1 .4l-.7 .1l-.7-.1l-.8 .1l-.8 .7l-.3 .8l-1 .2l.4-.6l.6-.5l-.7 .1l-.6 0l0-.6l-.7 .1l-.7-.2l-1.1 .1l-.8 .4l.5 .5l.3 .6l-.8-.3l.2 .6l-1-.5l0 .5l-.6-.6l-.1-.6l-.5 .4l0 .7l.5 .8l.6 .8l-.6-.2l0 .7l.4 .6l.4 .7l.9 .1l.1 1l-.7-.5l-1 0l.3 .8l.5 .2l-.7 .1l-.5-.4l.7 1l-.1 1.1l-.8-.7l-.2 .8l-.6-.4l0-.7l-.6 .3l-.4-.6l.2-.7l-.5-.6l0-.7l1.1-.2l-.7-.2l-.7 .1l-.6-.9l0-.4l-.3-.6l-.5-.5l-.5-1l-.7-.3l-.2-1l.2-.9l0-1l-.5-.6l-1-.6l-.6-.6l-.8-.3l-.9-.8l-1-.3l-.7-.4l-.5-.6l-.6-.4l-.2-.7l-.3-.6l-.8-.8l-.3 .4l-.5 .6l-.2-.7l-.4-.6l.3-.4l-.9 0l-1.1 .5l-.2 .8l.1 .8l-.1 .5l.6 .6l.6 .5l.7 .3l.2 .7l.4 .6l.5 .8l.8 .7l.6 .4l.7 .1l.7-.2l-.1 .7l.1 .4l.7 .4l.7 .1l1 .6l.8 .3l.3 .5l.4 .5l-.2 .6l-.5-.4l-.2-.5l-1.1-.4l-.5 .3l-.4 .4l0 .8l.7 .6l0 .7l-.7 .4l-.2 .8l-.6 .8l-.7 0l0-.5l.3-.7l.4-.3l0-.6l-.4-.7l-.1-.7l-.3-.5l-1-.2l0-.4l-.3-.5l-.7 .1l-.1-.5l-.6-.3l-.4-.4l-.8 0l-.8-.4l-.6-.6l-.7-.7l-1.1-.5l-.5-.5l-.4-.6l-.3-1l-.2-.8l-.6-.3l-.7-.4l-.7-.2l-.6 .3l-.5 .4l-1.1 .4l-.8 .5l-.6 .6l-1.1 .2l-.9-.4l-1.2-.1l-.9-.3l-.8 .4l-.6 .6l-.1 1l.2 .4l0 .7l-.8 .5l-.7 .5l-.8 .2l-.8 .3l-.6 .8l-.6 .4l-.4 .6l-.3 .7l-.5 .6l.6 .6l.2 .8l-.5 .4l-.6 .4l-.1 .7l-.2 .6l-.8 .2l-.6 .5l-.5 .5l-.3 .5l-.6-.1l-.8 .1l-.8 .1l-.7 0l-.7 0l-.6 .6l-.8 .5l-.5 .3l-.5-.6l-.6-.4l-.1-.6l-.9-.7l-.7 0l-.8 .4l-.8-.2l-.8 .2l-.1-.9l.3-.9l0-.9l-1-.6l0-.6l0-.7l.6-.7l.2-.8l.2-1l.1-.9l.1-.9l-.4-.9l-.3-.7l-.3-.8l.5-.6l.9-.3l.8-.7l.7 .1l.7 .3l1-.2l1.1 .2l.9 0l.9 .3l1.1-.1l1.3 .2l.9 0l1 0l.4-.3l.3-1.1l.1-1l.3-.9l0-.8l-.2-.7l0-.6l-.9-.7l-.5-.6l-.2-.8l-.9-.5l-.9-.3l-.8-.1l-.8-.1l-.5-.5l-.1-.7l.6-.3l.6-.2l.8-.1l.8-.1l.8 .2l.8 0l.7 0l-.1-1l-.5-1l1.1 0l.2 .7l1.4 .1l.5-.4l.1-.4l.6-.4l.8 0l.8-.7l0-1l.6-.6l.8 .2l1.1-.6l.7-.1l.2-.6l.4-.4l.4-.6l.5-.5l.3-.8l1-.5l1.2-.4l1.3 .1l.1-.6l1.5-.1l.7 .3l.2-.7l.6 0l-.1-.7l-.4-.6l-.1-.6l-.1-.5l.1-.6l-.8-1l.1-.6l-.1-.7l.8-.8l1.4-.2l.8-.7l.9-.3l-.1 1l-.3 1l.9 .5l-.9 .5l-.5 .9l-.3 .4l-.5 .6l.6 .7l.2 .6l1.6 .2l-.3 .7l1.1 0l.9-.2l.6-.6l.8 .1l.6-.5l.7 1.1l.8 .3l.9-.2l.9-.2l.8-.3l.8-.4l.9-.1l.7-.4l1.4-.1l.5 .8l1.2 0l.8-1l.8-.3l.6-.4l.3-.8l0-.8l-.1-.7l.9-.9l0-1l1.6-.5l.9 .9l1.3 .5l.6-.5l-.2-.7l.2-.7l.2-.6l-1.3-.1l-.3-.8l0-.8l.7-.5l1.2 .1l1.7-.3l.9 .2l1 .1l1.6-.1l.7-.6l.9-.5l1 .2l.8 0l-.9-.5l-1.4-.5l-.4-.3l-1.2 .3l-1.3 .1l-.8 .4l-1.1-.2l-1 .3l-1.6 .3l-1.6 .3l-.3-.7l-.9-.4l-1.3-.3l-.2-1l.4-.9l-.8-.7l.4-.7l-.3-.5l.8-1l1.1-.6l1.1-.7l1-.5l.6-.7l.9-.7l1.3-.4l-.2-1l-1.1-.4l-.8-.1l-1.5 0l-1.4 .3l-1.1 .6l-.6 .6l.2 .5l-.4 .8l-1.1 1l-1.1 .3l-.5 .6l-1.3 .8l-.9 .6l-.8 .3l-.5 .7l.4 .7l-.7 .9l.4 1l1.2 .3l.9 .4l.7 .8l-.8 1l-.5 .1l-.3 .8l-1.4 .6l-.5 .4l.2 .5l-.2 .6l.3 .7l-.8 .6l0 .8l-.6 1l-.6 .1l-1.4 0l-.2 .6l-.4 .5l-.7 .3l-1.4 0l-.1-.4l-.4-.9l.2-.5l.2-.6l-.7-.6l-.4-.6l-.5-.8l-.6-1l-.7-.6l.2-.7l-.2-.4l.3-.8l-.9-.7l0 .6l-.3 .5l-.8 .6l-.8 .2l-.8 .8l-1.2 .6l-.9 .5l-1-.2l-.8-.3l-.9-.3l-.4-.5l-.1-.8l-.5-.7l-.3-.6l.2-.6l.1-.8l-.2-.5l-.2-.6l.5-.9l-.5-.8l.4-.6l1.4-.6l1.4-.7l1.1-.5l1.5-.5l1.2-.4l.8-.9l1.3-.8l.7-.7l1.1-.6l.5-.8l.6-.7l.7-.6l-.1-.6l.9-.5l1.2-.8l.7-.5l.2-.7l1.3-.5l1.1-.6l1.1-.9l1.3-1l1.5-.4l1.6-.6l1.6-.1l1.5-.4l1.6-.2l1.1-.6l1.6-.6l1.7-.2l1.9 .2l1.9-.2l1.2 .5l1.6 .4l1.7 .6l-1.7 .5l-.3 .5l1.6 0l1.1 .2l.7-.4l1.3 .4l.5 .6l-.2 .8l2.4-.4l2.3 .2l1.6 .1l.8 .6l1 .6l1.3 .6l1.1 .4l1.3 .3l.9 1l.2 .9l-1.4 .8l-1.2 .5l-1.5 0l-1.3-.1l-1.2-.3l-1.4-.5l-1.8 0l-1-.4l-1.3 0l-1.7-.7l-.1 .6l1 .5l1.6 .4l.8 .8l.7 .8l-.3 .9l0 .9l1.3 .4l.9 .6l1.3 .2l1.6-.4l-.4-.8l-1.1-.5l-.4-.7l1.5 0l1.1 .6l1.3 .2l1.1 .3l.8 0l-.8-1l-.3-1l1.4-.4l1.3-.5l1.5-.7l1.2 .3l1 .4l.5-.8l.2-.7l-.7-.6l.6-.8l-.7-.7l-1-.6l.2-.7l1.4 .3l1.4 0l1.3 .2l.9 .6l.3 .5l-1.3 .2l-1.4 .2l-.1 .6l1.2 .3l.5 .6l1.4-.1l1.3 0l-.2-.7l.7-.7l1.2-.7l1.9-.2l1.8-.2l1.3-.6l1.6-.2l1.3-.6l0 .7l.6 .7l1.3-.6l2 .1l1.9-.3l1.1-.3l1.2-.3l1.4 1l1.1-.4l.5-.6l-.4-.6l-.7-.7l.6-.6l1.8 .5l2-.1l1.9 .2l1.1 .7l1.7 .5l1.9 .5l.7 .5l1 .4l.6-.6l.5-.7l-.8-.5l-.6-.6l-1.9-.2l.2-.8l-.9-.7l.4-.8l.3-.6l1.3-.4l.6-.5l.6-.6l.4-.7l.4-.8l1.4-.7l2.6-.3l2 .8l0 .8l-.2 .7l-1 .6l.4 .8l.3 .7l.5 .8l-.7 .6l.2 .7l-.8 .9l1 .8l1.1 .4l.6 .6l-1 .7l-.1 .8l-1.2 .9l-1.1 .8l-1.6 .3l-1.6-.1l2 .3l1.9 .3l1.6-.4l1.3-.6l.6-.9l.8-1l-.1-1l.2-1.1l-1.5-.7l-.7-.9l.4-.8l1.2-.7l-.1-.9l-1.9-.7l1.3-.7l1.5-.7l.5-.6l-.3-.7l.9 1l-.7 .9l.2 1l1.9 .2l2.4 .3l-.9-.9l.4-1l.6-.7l2.2 .2l1.6 .5l1.6 .6l1.2 .7l1.1 .8l-.2-.8l.7-.7l-1.3-.4l-.4-.5l-1.2-.5l-1.2-.3l-.3-.9l.1-.8l3-.4l2.8-.2l2.7-.2l1.6-.8l-1.6-.9l2.4-.6l1.9-.5l2-.4l2.9-.6l3.4-.2l2.3 0l2.4 0l1.9-.4l2-.4l1.2-.4l1.2-.5l.5-.6l1.1-.5l1.5-.4l2.1 0l2.6 .5l-1.5 1l2.3 0l1.6 .6l3.2 .1l3.1-.3l1.2 .4l1.1 .5l1.5 .6l-.2 .8l-.5 .6l-1.6 .5l-3 .4l-1.7 .9l-1.6 .4l-.7 .6l-1.7 .4l-1.5 .5l2.7 .1l2-.6l2.4-.6l1.9 0l1.7-.2l1.9 .6l1.8 .2l1.6 .3l1.7-.3l1.9 0l.8 .7l1.8 .1l1.5-.4l1.6 .2l1.4 .3l.8-.9l2.4-.2l3.1 .2l1.8 .5l1.3 .6l-.8 1l.8 .9l1.2 .8l-.4 .9l1.7-.1l1.5 .3l1.5-.4l.8-.7l1.9-.4l2 .2l1.6 .2l1.6 .2l1.5-.1l1.6-.1l-.4-.7l1.2-.6l-1.1-.6l2.7-.6l1.7 .2l1.6-.2l1.4 .3l1.5 .3l1.6 .2l1.6 .2l1.9 .2l2 0l.3 .7l1.3 .6l1.3 .7l1.8 .4l2.7-.3l2.8 .1l2.2 .6l2.5-.2l.9 .8l.7 .7l.7 .5l.9 .5l2.5 .2l2.2-.6l2.3 .4l2.4 0l.9-.5l1.1-.5l1.8-.1l1.7 0l-1.4 .9l.6 1.2l-.2-1.1l1.8-.9l1.7 .1l1.4 .3l2.4-.4l2.3 .4l.7 .6l1.2 .3l1.3 .4l1.5-.1l1.6 .5l1.8 .3l1.3 .7l.5 .6l1.2 .3l1.1 .4l1.2 .2l2 .3l1.1 .9l1.8 .1l1.3 .6l1.2 .6l1.5 .4l-.9 .5l-.2 .6l-1.2 .8l-1.9 .2l-.3 .6l-.5 .5l-1.2-.2l-1.2 .2l-1-.4l-1.3 0l-1.4-.6l-1-.9l-1.1-.8l-1.2-.7l-1.5 .7l-.1 1l-.4 .6l-1.2 .4l-1.1 .1l-1.2 0l1.1 .6l.4 .8l0 1.1l1.3 .8l.5 .6l-.3 .7l-1.1-.1l-.7-.5l-1 .1l-1 .1l-1.1 .3l-1 .3l-.7 .6l-1.1 .2l-1 .2l-.7 .5l-.7 .4l-.8 .4l-1 .4l-.7 .5l-.8 .4l-.6 .6l-.9-.4l-.9-.3l-1.1-.2l-1 0l-1.7 .4l-1.5 .5l-1.1 .2l-1.2 0l-1 0l-.9 .2l-.3 .8l-.2 .7l.1 .7l.4 .7l-1.1 .4l-1 .5l.6 .9l1 .6l-.2 .7l-.1 .7l.8 .3l-.7 .5l-.8 .4l-.4 .6l-.5 .6l.5 .4l-1.3 .3l-1.2 .5l-.1 .6l-.3 .5l-.3 .6l-.1 .6l-1 .3l-1 .1l-.4 .9l-.3 1l-.5 .5l-.7 .4l-.7 .5l-.6 .5l-.1-1l-.2-.9l-.4-.7l-.1-.8l0-.7l-.1-.7l-.4-.7l-.3-.7l-.1-.7l0-.8l.1-.7l.1-.7l.1-.7l-.2-.7l1.1-.9l.7-1l1.1-.6l.8-.8l.7-.5l.5-.6l.9-.4l.7-.6l.9-.5l1-.3l.6-.7l.8-.6l.6-.5l.5-.6l.8-.4l.6-.5l.5-.9l.3-.9l-1.6-.2l-1.2 .2l-1 .5l-1 .3l-1 .4l-.5 .7l-.3 .8l-1.1-.1l-.9-.4l-.8-.4l-.8-.4l-1.2 .1l-1.2 .3l-.4 .7l-.3 .8l-.9 .6l-.7 .7l.1 .7l.7 .6l-1.6 .3l-1.6 .3l-1.2-.2l-1.1-.2l-1.1-.6l-1.5-.1l-1.4 0l-1.2-.1l-1.2 0l-1.4 0l-.9 .6l-1.1-.4l-1.2 .1l-1.2 .1l-1.2 .2l-1.7 .1l-1.2 .9l-.7 .9l-.3 1l-1 .6l-1 .4l-.6 .8l-.6 .7l-.1 .8l-.6 .8l-.6 .7l-1 .5l-.6 .7l-1 .3l1.1 .6l1.3 .3l.7 .3l.8 .1l.6-.6l1-.1l.6 .5l.2 .6l.8 .2l.8 .4l-.2 .8l.6 .7l-.1 1.1l-.8 .8l.3 1l-.6 .9l.3 .7l-.1 .8l.1 .7l-.3 .7l-.5 .9l-.7 .5l-.7 .4l-.2 .7l-.3 .7l0 .7l-.4 .6l-.4 .5l-.7 .3l-.3 .8l-.8 .4l-.6 .7l-.7 .4l-.6 .9l-1 .6l-.8 .1l-.6 .6l-.7 .5l-.2 .7l-.9 .3l-.7 .5l-.6-.6l-1-.2l-.6 .8l-.9 .4l-.5 .6l-.5 .4l-.6 .3l-.1 .9l-.4 .8l-.3 .8l-.7 .6l-.9 .5l-.6 .4l-.8 .2l-.1 1l.6 .4l.6 .5l0 .8l.7 .6l.6 .6l.3 .9l.2 .5l.2 .6l0 .6l-.1 .6l-.1 .9l-.7 .8l-.7 .3l-.8 .1l-.8 .3l-.9 0l-.7 .6l-.3-.7l0-.8l.3-.8l.2-.6l0-.7l-.7-1l1-.3l-.3-1l-.8-.4l-.7-.2l-.6 .2l-.4-.7l.2-.6l.1-.6l.1-.6l.3-.5l-.4-.5l-.7-.3l-.6-.6l-.7 .3l-.7 .1l-.9 .7l-1 .3l-.5 .4l-.6 .3l-.6 .2l.3-.6l.2-.7l.4-.7l.3-.6l.4-.8l-.6-.3l-.5-.3l-.8 .2l-.7 .9l-.9 .6l-.8 .4l-.3 .6l-.5 .6l-.8 0l-.7 0l-.5 .5l-.2 .8l.7 .6l.7 .4l.8 .5l0 1l.8 0l.6-.2l.7-.4l.6-.6l.7 .3l.6 .3l.8 .2l.9 0l-.3 1l-1.1 .3l-1.1 .2l-.7 .4l-.4 .6l-.8 .4l-.5 .7l-.3 .7l-.2 .7l.9 .4l.7 .5l.4 .6l.3 .6l.1 .7l.3 .6l.3 .5l.3 .4l.4 .5l.3 .5l.3 .6l-.1 .6l.1 .7l-.7 .5l-.7 .3l-.6 .2l-.5 .3l.6 0l.6 .2l.5 .4l.6 .2l.1 .7l.1 .6l-.1 .9l-.4 .8l-.6 .5l-.8 .1l-.3 .8l-.3 .7l-.6 .9l-.4 .9l-.1 .6l0 .7l-.5 .7l-.6 .4l-.7 .4l-.6 .6l-.6 .8l-.6 .7l-.6 .3l-.4 .5l-.4 .4l-.5 .2l-.5 .2l-.5 .3l-.5 .3l-.4 .3l-.6 .2l-.5 0l-.6-.4l-.5-.6l-.1 .7l.1 .7l-.7 .6l-.9 .1l-.8 .2l-.7 .2l-.9 0l-.7 .6l-.4 .8l.2 .9l-.8 0l-.1-1.1l-.2-1l-.9-.2l-.6-.1l-.7-.1l-.4 .2l-.9 .4l-.7 .8l-.5 .1l-.2 .6l.1 .6l-.7 .7l-.4 .8l-.3 .6l-.1 .6l.8 .6l.3 1.1l.4 .7l.2 .9l.7 .5l.5 .1l.4 .4l.2 .5l.5 .3l.7 .5l.4 1l.3 .5l.1 .7l-.1 .7l.1 .6l0 1l.2 .9l-.2 1.1l0 1l0 .7l-.4 .5l-.7 .6l-.7 .5l-.8 .3l-.7 .5l-.3 .6l-.3 .7l-.6 .3l-.5 .5l-.5-.1l-.4 .3l-.2 .5l-.4 .4l-.1-1l-.3-.9l.4-1l-.8-.5l-.8 .2l-.6-.4l-.4-.8l-.6-.6l-.1-.9l-.5-.6l-.6-.4l-.5-.3l-.5 0l-.4-.3l-.5-.1l-.3-.8l.1-.7l-.6-.2l-.8 .3l.2 .8l-.3 .8l.1 .7l-.1 .8l-.2 .8l-.5 .5l-.1 .7l-.4 .5l.2 .5l0 .6l-.2 .6l.2 .6l.7 .5l.4 .8l.3 .5l.1 .7l.2 .5l.2 .6l.7 .6l.9 .3l.3 .8l.6 .4l.4 .3l.5 .1l.2 .4l.3 .5l.2 1l.4 .9l-.1 1l.1 .9l.3 .9l.1 1l.3 .5l.5 .4l.1 .6l0 .6l-.6 0l-.5 .2l-.4-.3l-.4-.3l-.3-.5l-.5-.2l-.2-.6l-.5-.5l-.5 0l-.5-.4l-.1-.6l-.4-.5l-.3-.4l-.1-.6l-.4-.5l-.3-.4l.2-.6l-.2-.6l.1-.9l-.2-.8l0-.7l-.3-.5l-.7-.8l-.3-.8l-.5-.7l-.6-.6l-.8 .2l.3-.9l-.3-1l.4-.9l.1-1l0-.8l-.2-.7l.2-1l.2-.9l-.3-.7l.1-.8l-.5-.9l-.1-1l-.1-.6l-.1-.6l-.1-.6l-.1-.5l-.1-.6l-.2-.6l.2-.6l-.2-.5l0-.6l-.3-.6l-.6-.2l-.3-.7l-.7 .3l-.4 .6l-.7 .7l-.7 .7l-.9-.1l-.8-.3l0-.8l-.2-.7l.4-.6l.2-.8l.1-.6l-.1-.7l-.2-.6l-.2-.5l-.9-.7l-.2-1.1l-.7-.3l-.4-.6l-.7-.4l-.3-.8l0-.6l-.5-.5l0-.9l-.3-.8l-.3-.5l-.3-.5l-.6 .4l-.7 .2l-.2 .6l-.2 .5l-.7 .2l-.6 0l-1 0l-.9 .4l-.4-.6l-.7 .6l-.6 .6l-.1 .6l-.4 .5l-.3 .8l-.6 .6l-.8 .4l-.5 .5l-.6 .4l-.4 .5l-.2 .6l-.5 .3l-.5 .5l-.7 .5l-.5 .7l-.4 .4l-.4 .4l-.3 .5l-.5 .4l-.4 .5l-.5 .4l-.6 .5l-.5 .5l-.6 .1l-.5 .1l-.2 1l-.1 1.1l-.1 .7l.2 .7l.2 .7l0 .7l-.4 1l-.1 1.1l0 1l-.3 .9l.1 .7l0 .7l-.9 0l-.4 .7l-.2 .8l.4 .4l-.6 .1l-.6 .4l-.3 .4l-.6 .6l-.4 .8l-.6-.4l-.5-.4l-.2-.7l-.3-.6l-.1-.7l-.3-.7l-.2-.6l-.2-.7l-.2-.7l-.2-.6l-.3-.6l-.2-.7l-.3-.6l-.4-.4l-.4-.8l-.1-.7l-.1-.7l-.3-.6l-.1-.7l-.5-.9l-.2-.7l-.2-.7l-.5-.8l-.2-1.1l0-.7l-.3-.7l-.1-.7l-.2-.7l-.3-.9l0-1l-.2-1l0-.9l.2-1l0-.9l0-.6l0-.6l-.3-.6l-.2-.5l-.3 .9l-.3 1l-.9 .3l-.8 .4l-1-.1l-.6-.5l-.5-.7l-.5-.7l-.6-.6l.6-.2l.5-.3l.4-.4l.4-.5l-.9 .2l-1 0l-.4-.8l-.5-.7l-.7-.2l-.7-.4l-.3-.6l-.2-.7l-.8-.4l-.1-.6l-.2-.5l-.6 .1l-.6-.2l-.6 .1l-.6 .2l-.5 0l-.6 .2l-.6-.1l-.6 .1l-.9 .2l-1-.1l-.5-.1l-.6 0l-.8 0l-.8-.2l-.6-.2l-.6 .1l-.6-.2l-.7 .1l-.9-.3l-1-.3l-.4-.4l-.2-.6l-.3-.6l-.3-.5l-.5-.3l-.6-.3l-.7 .2l-.6 .4l-.5 .4l-.7 .2l-.9-.5l-1-.1l-.7-.8l-.9-.5l-.7-.6l-.8-.2l-.6-1l-.5-.9l-.6-.8l-.2-.9l-.7-.2l-.6-.4l-.9-.4l-.7 .7l-.7 .3l-.2 .7l.4 .6l.2 .6l.5 .7l.2 .8l.7 .7l.5 .8l.4 .6l.6 .6l-.1 1l.2 1.1l.6 .6l.4 .7l0-.8l.1-.7l.5-1l.2 .9l.4 .7l-.1 .6l-.2 .7l.3 .5l.3 .5l.7-.1l.6-.1l.9 .1l1 .1l.5-.4l.4-.4l.9-.6l.5-.9l.6-.6l.5-.8l.6-.6l-.1 .7l0 .7l.2 .6l-.1 .7l.3 .7l.4 .5l.8 .3l.7 .6l.7 .3l.6 .1l.5 .8l.6 .7l.8 .6l-.1 .6l-.2 .5l-.3 .5l-.2 .5l-.7 .7l-.4 1l-.6 .3l-.7 .3l.1 .6l-.1 .5l0 .6l0 .6l-.6 0l-.6 .2l-.3 .9l-.5 .8l-.5 .1l-.5 .2l-.4 .4l-.5 .2l-.5 .2l-.4 .4l-.5 .1l-.5 .3l-.9 .2l-.8 .6l-.3 .5l-.2 .5l-.3 .5l-.4 .4l-.5 .3l-.4 .3l-.5 .1l-.5 .2l-.7 .5l-.7 .4l-.8 0l-.8 .3l-.6 .4l-.6 .5l-.7 .3l-.6 .5l-.5 .2l-.6 0l-.5 .1l-.5 0l-.5 .3l-.3 .5l-.6 .1l-.5 .3l-.5 .2l-.6 0l-.6 .2l-.6 0l-.2-.7l-.3-.7l0-.7l-.1-.7l-.2-.7l-.1-.7l-.2-.7l-.3-.7l-.1-.7l.1-.8l-.3-.9l-.2-1l-.4-.4l-.3-.4l-.3-.6l-.2-.5l-.3-.6l-.3-.5l-.3-.5l-.4-.5l-.4-.5l-.5-.4l-.3-.7l-.4-.5l-.5-.9l-.4-1l.1-.6l-.2-.6l0-.7l-.2-.6l-.3-.6l-.4-.6l-.4-.6l-.2-.6l-.5-.4l-.3-.5l-.3-.5l-.3-.6l-.3-.9l-.6-.8l-.3-.7l-.3-.6l-.4-.5l-.5-.6l-.5-.7l-.6-.7l.1-.7l.1-.7l-.2-.7l0-.7l-.3 .7l-.3 .8l-.1 .7l-.2 .6l-.2 .5l-.6-.5l-.4-.6l-.4-.5l-.3-.6l-.3-1l-.6-.9l-.4 .6l.4 .7l.1 .8l.4 .7l.4 .6l.3 .5l.4 .5l.3 .7l.3 .9l.3 .9l.3 .6l.4 .5l.1 .7l.3 .6l.4 1l.5 .9l.5 .2l-.3 .7l-.2 .7l.5 .3l.4 .4l.3 .5l.4 .5l.6 .7l.2 .9l.3 .9l.1 .6l.1 .7l-.1 .7l-.1 .6l.2 .8l.1 .8l.5 .2l.3 .5l.4 .4l.4 .4l.3 .6l.1 .6l.4 .6l.1 .7l.2 .5l.4 .4l.1 .6l.1 .6l.5 .6l.6 .5l.7 .7l.9 .4l.6 .5l.5 .5l.5 .6l.3 .7l.5 .6l.6 .6l.2 .6l.1 .6l-.3 .7l.6 .6l.4 .7l.4 .8l.8 .1l.7 0l.6-.4l.6-.1l.6 0l.6-.2l.6-.2l.6-.2l.6 0l.6-.3l.6 .1l.5-.2l.6-.1l.6-.2l.5-.2l.6-.2l.5-.3l.5-.3l.7 .1l-.2 .6l0 .7l-.1 .6l0 .7l-.2 1l-.2 .9l-.5 .6l-.3 .6l-.3 .7l-.2 .8l-.2 .6l-.3 .7l-.5 .5l-.3 .6l-.5 .8l-.5 .8l-.2 .9l-.3 1l-.6 .6l-.3 .9l-.6 .6l-.4 .7l-.4 .5l-.3 .6l-.5 .3l-.4 .5l-.5 .4l-.5 .5l-.5 .6l-.4 .6l-.6 .4l-.6 .4l-.6 .6l-.6 .6l-.4 .7l-.6 .6l-.3 .7l-.3 .7l-.5 .5l-.5 .6l-.5 .7l-.6 .6l-.6 .5l-.5 .6l-.2 .6l-.4 .4l-.1 .6l-.1 .6l-.3 1l-.5 .8l-.3 1.1l-.3 1l.5 .6l.3 .8l0 .5l.1 .6l0 .6l.2 .6l0 .9l-.1 1l.3 .9l.3 1l.5 .3l.4 .4l0 1.1l.2 1l0 .7l.1 .8l0 .7l0 .7l0 .7l0 .7l.2 .7l.2 .7l0 1l-.2 1l-.7 .7l-.6 1l-.5 .4l-.6 .3l-.4 .5l-.7 .3l-.6 .1l-.6 .4l-.5 .5l-.6 .3l-.2 .6l-.3 .5l-.4 .3l-.4 .5l-.4 .6l-.4 .6l-.5 .5l-.6 .2l-.2 .7l-.2 .7l.5 .8l.4 .9l.1 1l.2 .9l0 .7l.2 .6l-.1 .7l-.1 .7l-.3 .7l-.5 .6l-.5 .3l-.5 .5l-.7 .2l-.6 .3l-.6 .6l-.5 .6l-.1 .9l.3 .8l-.4 1l-.1 1.1l-.2 1l0 1.1l-3.2 0l-3.3 0l-3.2 0l-3.2 0l-3.3 0l-3.2 0l-3.2 0l-3.3 0l-.1-.6l-.1-.6l-.1-.6l-.1-.6l-.2-.6l-.2-.5l-.3-.6l-.3-.5l-.1-.7l0-.8l-.1-.8l-.1-.7l-.3-1l-.3-.9l.1-1.1l-.1-1l-.3-.7l-.2-.7l-.1-.7l-.2-.6l-.4-.6l-.3-.6l-.2-.6l-.2-.7l-.3-.7l-.2-.6l-.3-.7l-.5-.5l-.4-.9l-.7-.8l0-.9l-.1-1l.2-.9l-.1-1l.3-.8l.2-.7l.2-.6l.1-.7l.1-.6l.2-.6l.4-.6l.5-.6l.2-.8l.3-.7l.3-.5l0-.6l.2-.6l.2-.6l0-.7l0-.8l-.6-.9l-.2-1l0-.7l-.2-.6l-.2-.8l-.1-.7l-.3-1l0-1l-.5-.8l-.3-.9l-.1-.9l-.5-.9l-.2-1l-.5-.8l-.6-.6l-.4-.3l-.3-.4l-.4-.4l-.1-.6l-.7-.5l-.4-.8l-.4-1l-.6-.9l-.2-.6l-.1-.6l.4-.4l.4-.3l.2-.7l0-.7l.2-.5l.1-.6l0-1l.3-.9l.2-.9l-.1-.8l-.2-1l-.1-.9l-.5-.3l-.6-.1l-.1-1l-.5 .1l-.5 0l-.6 .1l-.6 .2l-.8 0l-.7 .1l-.7 .1l-.6-.8l-.4-.9l-.3-.6l-.4-.6l-.4-.5l-.4-.4l-.9-.1l-.9-.1l-.8 0l-.7 .2l-.5-.1l-.5 .1l-.5 .1l-.4 .3l-.4 .3l-.5 .3l-.5 .3l-.5 0l-.8 .3l-.8 .5l-.7 .5l-.8 .3l-.9-.5l-.9-.1l-.7-.2l-.7-.1l-.6 .1l-.6 .1l-.5 .2l-.6-.1l-.9 .4l-.9 .3l-.7 .4l-.7 .3l-.8-.4l-.7-.6l-.8-.8l-.8-.4l-.6-.2l-.6-.3l-.4-.5l-.5-.5l-.6-.5l-.5-.7l-.7-.5l-.8-.4l-.4-.5l-.3-.4l-.2-.6l-.2-.6l-.2-.6l0-.5l-.6-.8l-.6-.8l-.7-.7l-.3-.7l-.5-.5l-.5-.9l-.4-1l-.4-.3l-.4-.3l-.4-.2l-.5-.1l-.1-1l-.1-.9l-.3-.8l0-.8l-.4-.4l-.4-.5l.7-.6l.4-1l.5-.9l.2-.9l.1-1l.4-1l.1-1.1l-.1-1l-.4-.9l.1-.9l-.1-.8l-.6-.8l-.6-.8l.1-.6l0-.7l.2-.7l.4-.6l.3-.6l.2-.8l.4-.7l.2-.8l.5-.4l.2-.6l.5-.4l.2-.5l.4-.6l.1-.7l.2-.7l.1-.7l.8-.4l.6-.7l.3-1l.4-.9l.9-.4l1-.3l.7-.6l.7-.8l.7-.5l.7-.5l.4-1l.4-1.1l0-.9l-.3-1l.2-.5l.1-.6l.4-.4l.2-.6l.7-.6l.6-.9l.6-.3l.8-.3l.5-.5l.7-.3l.3-1l.5-.8l.4-.8zM75.5 293.7l1.1-.2l.5-.5l.9 .1l.9-.3l.8-.4l.7 .3l.9-.1l1.1-.3l1 .3l1-.4l.7-.2l.8 .1l.7-.6l-1.3-.6l.7-.6l.9-.7l.2-.8l-.7-.6l-1.2 0l-.5 .2l.2-.7l-.3-.8l-.5-.8l-.6-.9l-1.1-.6l-.3-.6l-.2-.7l-.6-.6l-1-.5l-.9 .1l.6-.5l.6-.8l.6-.9l.4-.8l-1.1-.5l-1.3 .3l-1.2 .4l.4-1l.5-.7l.7-.5l-1.6-.5l-1.4 .6l0 .6l-.5 .5l-.2 .7l-.6 .5l.4 .5l-.1 .6l-.9 .2l.9 .8l.2 .5l0 .6l-.4 .8l1.2-.6l0 .6l.3 .5l-.5 .4l.9 .1l.8-.1l1.1-.2l-.3 1l.8 .7l-.1 .6l.1 .6l-.8 .1l-.8 .3l-.9-.2l.3 .7l-.5 .2l1 .2l0 .8l-1 .5l-.8 .3l.4 .4l1.2 .1l.6 .1l1 .3l.8-.3l-.7 .7l-.8-.3l-.9 .3l-.5 .6l-.1 .6l-.8 .3zM640.7 293.7l1.1-.2l.5-.5l.9 .1l.9-.3l.8-.4l.7 .3l.9-.1l1.1-.3l1 .3l1-.4l.7-.2l.8 .1l.7-.6l-1.3-.6l.7-.6l.9-.7l.2-.8l-.7-.6l-1.2 0l-.5 .2l.2-.7l-.3-.8l-.5-.8l-.6-.9l-1.1-.6l-.3-.6l-.2-.7l-.6-.6l-1-.5l-.9 .1l.6-.5l.6-.8l.6-.9l.4-.8l-1.1-.5l-1.3 .3l-1.2 .4l.4-1l.5-.7l.7-.5l-1.6-.5l-1.4 .6l0 .6l-.5 .5l-.2 .7l-.6 .5l.4 .5l-.1 .6l-.9 .2l.9 .8l.2 .5l0 .6l-.4 .8l1.2-.6l0 .6l.3 .5l-.5 .4l.9 .1l.8-.1l1.1-.2l-.3 1l.8 .7l-.1 .6l.1 .6l-.8 .1l-.8 .3l-.9-.2l.3 .7l-.5 .2l1 .2l0 .8l-1 .5l-.8 .3l.4 .4l1.2 .1l.6 .1l1 .3l.8-.3l-.7 .7l-.8-.3l-.9 .3l-.5 .6l-.1 .6l-.8 .3zM74.4 289.6l.8-.6l-.3-.8l-.1-.8l.2-.7l-.3-.6l1.1-.7l-.2-.6l-.8-.9l-.9-.4l-1 .1l-.6 .4l-.9 0l-.5 .8l.6 .4l-.6 .4l-1.1 0l-1.1 .1l-.2 .6l0 .6l1.1 .1l.7 .7l-1 .5l-.4 .9l-.8 .7l.3 .5l.6 .7l1.1 .1l1-.5l1.1-.4l1.1-.4zM639.6 289.6l.8-.6l-.3-.8l-.1-.8l.2-.7l-.3-.6l1.1-.7l-.2-.6l-.8-.9l-.9-.4l-1 .1l-.6 .4l-.9 0l-.5 .8l.6 .4l-.6 .4l-1.1 0l-1.1 .1l-.2 .6l0 .6l1.1 .1l.7 .7l-1 .5l-.4 .9l-.8 .7l.3 .5l.6 .7l1.1 .1l1-.5l1.1-.4l1.1-.4zM614 267.5l1.2-.7l-.1-.7l-1.6-.3l-1.6-.4l1.5-.4l1.7 .2l-.8-.8l-1.7 .2l-1.5-.4l.6-.7l1-.6l1.7-.5l.6 .9l1.2 .7l.9-.4l.6-.5l2.1 0l1.5-.1l1.6-.1l1.3-.6l1.1 .4l1.4-.1l-.3 1.1l1.8 .5l0 1l-.2 .7l-1.2 .4l-1 .5l-1.3 .3l-1 .5l-1.4 .1l-1.4 0l-.9 .5l-2.1-.3l-1.4-.5l-1.2 0zM101.7 237.2l.4 .8l-1.2 .7l2.6 .8l2.1 .9l.8 .9l.3 .8l2 .4l1.6 .8l1.7-1l1.4-1l1.4-1l3.4-.3l-1.2-.9l-2.8-.6l.1-.8l-1.6-.5l-3.2-.6l-2.1 0l-1.8 .4l-1.9 .2zM666.9 237.2l.4 .8l-1.2 .7l2.6 .8l2.1 .9l.8 .9l.3 .8l2 .4l1.6 .8l1.7-1l1.4-1l1.4-1l3.4-.3l-1.2-.9l-2.8-.6l.1-.8l-1.6-.5l-3.2-.6l-2.1 0l-1.8 .4l-1.9 .2zM112.7 236.2l1.7-.4l2.2 0l2.7 .4l2.8-.4l1.9 .6l2.8 0l-2.2 .5l-.9 .8l-3.2-.2l-3.1 .2l-2-.2l-2-.2l.4-.6zM677.9 236.2l1.7-.4l2.2 0l2.7 .4l2.8-.4l1.9 .6l2.8 0l-2.2 .5l-.9 .8l-3.2-.2l-3.1 .2l-2-.2l-2-.2l.4-.6zM117.4 241.3l2.2 .4l2.5 0l1.2-.6l-.4-.7l-2.7 .2l-2-.6l.2 .7zM682.6 241.3l2.2 .4l2.5 0l1.2-.6l-.4-.7l-2.7 .2l-2-.6l.2 .7zM155.1 235.4l2.6 .2l2.1-.5l3.1 .5l-2 .6l-2.7-.2zM720.2 235.4l2.7 .2l2.1-.5l3.1 .5l-2 .6l-2.7-.2zM167.6 236l2 .1l1.9-.1l.3-.7l2.1-.2l2.6-.1l2.1 .4l-1.1 .6l-2 .4l-2.4 0l-2.3 .2zM732.8 236l2 .1l1.9-.1l.3-.7l2.1-.2l2.6-.1l2.1 .4l-1.1 .6l-2 .4l-2.4 0l-2.3 .2zM179.4 234.7l3 .1l2.5-.5l1.5 .8l-2.2 .3l-2.5 0zM744.6 234.7l3 .1l2.5-.5l1.5 .8l-2.2 .3l-2.5 0zM170.8 234.1l2.9 0l1.8-.8l1.5 .6l-3.2-.2zM736 234.1l2.9 0l1.8-.8l1.5 .6l-3.2-.2zM165.6 252.8l-.3-1l.9-.7l.6-.8l1.6-.5l0-.8l1.6-.8l.5-.6l.3-.7l.3-.7l1.2-.5l1.3-.5l1.9-.4l1.9-.5l2-.5l2.6-.5l2.9-.2l3.2-.4l3.1-.4l1.5 .6l-.8 .7l-3.2 .2l-2.3 .8l-2.1 .6l-2.6 .5l-1.7 .8l-1.4 .8l-.3 .8l-1.3 .7l0 .8l-1.5 .7l-1 .8l-.6 .7l.5 1l.3 .9l-.3 .8l-2.9-.1l-2.3-.1l-1.6-.6l-1.3-.4zM730.8 252.8l-.3-1l.9-.7l.6-.8l1.6-.5l0-.8l1.6-.8l.5-.6l.3-.7l.3-.7l1.2-.5l1.3-.5l1.9-.4l1.9-.5l2-.5l2.6-.5l2.9-.2l3.2-.4l3.1-.4l1.5 .6l-.8 .7l-3.2 .2l-2.3 .8l-2.1 .6l-2.6 .5l-1.7 .8l-1.4 .8l-.3 .8l-1.3 .7l0 .8l-1.5 .7l-1 .8l-.6 .7l.5 1l.3 .9l-.3 .8l-2.9-.1l-2.3-.1l-1.6-.6l-1.3-.4zM176.2 255.1l1.4 .1l1.5 .1l-.5 .9l-1.9-.2zM741.4 255.1l1.4 .1l1.5 .1l-.5 .9l-1.9-.2zM160.2 257l1.9-.4l1.3 .8l-1.8 .7l-.3-.6zM725.4 257l1.9-.4l1.3 .8l-1.8 .7l-.3-.6zM235.1 238.5l.6-1l1.8-.9l-2.5-.1l-2-.4l-1.6-.6l-1-.6l2.1-.5l2.6-.1l2.7 .5l2 .6l1.1 .8l.5 .8l3.1 .6l3.2 .5l-1.3 .8l-.3 .9l-2.6 .4l-2.9 .2l-.7-.6l-.9-.7l-2.2-.1zM242.2 238.9l3.4 .3l2.9 .6l.7 .8l-3.1 .1l-3.1-.1l-2.4-.8zM299.5 245.5l1.7-.6l.6-.9l2.8 .2l2.7 0l2.3 .5l2.5 .5l-1.4 .6l-1.8 .5l-2.4 .1l-2.3 .3l-3.1-.2zM314.4 245.3l2 .1l1.9 .1l1.9 .3l1 .5l-2 0l-1.7 .4l-1.6-.2l-1.5-.4zM303.9 249.2l1-.6l1.7-.4l1.4 .4l1.7 .4l-2.4 .5l-2.3-.1zM364.6 253.7l1.2-.4l1.2-.5l2-.1l1.6 .5l.3 .5l-2.3 .4l-1.6-.2l-1.6 .2zM308.4 285.4l.5 1l.3 1.1l0 .7l-.4 .5l.6 .6l0 .7l-.2 .7l.4 .7l.2 .7l.1 .7l.3 .6l0 .6l.2 .5l.1 .6l.6 .3l.5 .5l-.7 0l-.8 0l-.5-.3l-.7-.3l0 .9l.4 .7l-.3 .8l-.7 .7l.2 .5l.4 .6l.8 .4l.1 .7l-.3 .6l-.3-.6l-.8-.3l-.2 .8l-.9 .4l.1-.8l-.2-.8l.5-1l-.4-.9l.4-1l-.2-.9l0-1.1l-.2-1l.4-.5l.3-.6l-.5-1l-.2-1l-.4-.9l0-.7l-.2-.6l.3-.6l0-.6l.6-.6l.2-.8zM304.2 310l.9-.5l1-.1l-.9-.2l-.5-.7l1.1-.5l.8 0l.7 .1l.9 .7l1.1 .3l.4-.6l.2-.6l.7-.3l.5-.5l1.2 0l1-.6l-.6-.9l-.2-1l-.7 .5l-.8 .1l-.6-.3l-.6-.3l-.5-.5l-.4-.4l-.7-.9l-1-.4l.3 1l-.6 .9l-.2 .5l-.3 .6l.1 .6l-.3 .5l-.7 .2l-.7-.2l-.3 .6l-.3 .6l-.3 .9l0 .7zM305.6 310l.8 .2l.1 .8l.1 .9l0 1l.7 .7l-.1 .8l-.5 .5l-.1 .6l0 .6l-.8 .2l0 .6l.3 .5l-.2 .6l-.1 .6l-.5 .6l-.2 .7l.4 1l-.4 .5l-.3 .6l-.8 .6l.1-.6l-.2-.6l-.2 .7l-.9 .3l-.4 .7l-.1-.9l-.7 .3l-.2 .6l-1 .2l-.9-.2l-.2 .6l-.5 .3l-.4 .5l-.5 .3l-.3 .5l-.5-.5l-.6-.3l.1-.8l.4-.7l-.7 0l-.7-.1l-1 .4l-1.1 .1l-1.1 .3l-.4 .4l-.5 .3l-.8 .1l-.7-.1l-.1-.7l.8-.3l.6-.3l.5-.5l.3-.7l.6-.3l.7-.4l.8-.2l.9 .3l.9 .1l.7-.5l.9 .5l.3-.4l-.1-.6l.3-.5l.2-.7l.7-.4l0-.8l1-.4l-.4 .8l-.1 .5l.8-.6l1.1-.1l.6-.5l.3-.7l.4-.3l.3-1l.9-.8l0-.7l.1-.8l-.3-.4l.5-.2l.2-.6l-.4-.5l.7-.5l0-.7l.6 .7zM291.6 325.5l.4-.7l.7-.3l.5-.3l1 .1l.7-.7l.8 .3l.3 .8l-.4 .5l-.5 .5l-1-.5l-.6 .6l-.3 .9l-.8-.4l-.1-1zM289.9 324.5l.6 .4l.7 .1l-.2 .7l.6 .6l-.4 .8l-.4 .5l0 .7l-.2 .9l-.6 .3l-.4 .5l0-.6l-.2-.5l-.6 .6l-.2-.7l.2-.7l.1-.6l-.1-.6l.6-.3l-.6-.6l-.4 .4l-.2 .5l-.3-.5l.1-.6l.5-.6l.6-.2zM284.9 339.3l.4-.7l.5-.6l-.4 .6zM282.5 325.6l.6 0l.5-.4l-.4 .5zM275.2 340.9l.7 .5l-.1 1l-.5 .9l-.1 .9l-.2 .9l-.1 .6l-.2 .6l-.2 .6l-.4 .4l-.5-.6l-.3-.7l-.3-.9l0-.7l.1-.7l.5-.7l.3-.8l.5-.9zM254.9 352.5l.6-.8l.8-.5l.6-.2l.7-.1l.6 .2l.5 .5l-.5 .8l-.3 .9l-.3 .5l-.5 .2l-.8 .4l-.6-.3l-.6-.3l0-.7zM210 370.4l.3 .7l.5 .6l.6 .6l.5 .5l.1 .7l.2 .6l.3 .6l.4 .5l-.1 .7l-.1 .8l-.6 .4l-.5 .4l-.7 .3l-.6-.1l-.3-.9l-.2-.9l-.2-1l.1-1.1l.2-.8l-.1-.9l0-.8zM234 378.5l.8 .2l.7 .2l.7 0l.7 .3l.8 .4l.6 .9l.5 .8l.6 .7l.5 .2l.3 .5l.3 .5l.6 .2l.5 .2l.4 .4l.5 .4l.5 .5l.4 .7l.7 .3l.5 .6l.4 .7l.6 .3l.5 .5l.7 .3l.4 .8l-.3 .9l0 1l.7-.3l.7 .4l.1 .8l.1 .8l.6 .8l.5 .1l.6 .1l.5 .6l.2 .9l-.5 .8l.1 .9l.2 .9l0 .8l0 .8l-.1 .8l-.4-.4l-.5-.2l-.5 .6l-.7 .1l-.4-.8l-.6-.7l-.6-.6l-.7-.6l-.7-.5l-.6-.8l-.3-.6l-.4-.7l-.6-.4l-.6-.4l-.5-.7l-.1-.9l-.1-.9l-.4-.8l-.7-.7l-.3-1.1l-.4-.3l-.5-.3l0-.7l-.3-.6l-.1-.7l-.1-.6l-.5-.1l-.4-.2l-.4-.3l-.3-.6l-.3-1l-.6-.8l-.3-.6l-.5-.4l-.5-.3l-.4-.4l-.5-.4l-.2-.5l-.1-.7l-.5-.4zM249.6 402l.5-1l.7-.7l.7 0l.6 .4l.6 .3l.6-.2l.5 .2l.6 0l.5 1l.6 .6l.8 .2l.6-.5l.8 .1l.4-.6l.4-.5l.8 .6l.5-.1l.5 .1l.5 0l.4 .4l.1 .5l.5 .5l.3 .6l.6-.1l.7 0l.7 .6l.1 .7l0 .7l-.7-.1l-.6-.1l-.6-.3l-.5-.4l-.5 0l-.5-.2l-.5 .1l-.5 .2l-.6-.2l-.6 .2l-.4-.5l-.6-.1l-.6-.3l-.4-.4l-.5 .3l-.6-.1l-.5-.1l-.5 .2l-.5 0l-.5-.3l-.6-.1l-.5-.3l-.3-.5l-.5-.4l-.5-.2l-.5-.2l-.5-.1zM261.3 402.5l.5-.1l.5 .1l.4-.3l.5 .1l-.6 .1l-.8 .4zM264.2 404.5l.5 0l.6-.1l.3 .6l.4 .1l-.4 .3l-.3 .5l-.6-.3l-.4-.5zM266.4 405.1l.7-.4l.5 .8l-.8 .6zM267.8 405.1l.7-.3l.7-.2l.5 0l.4 .4l.7-.1l.6-.2l-.2 1l-.6-.2l-.5 .4l-.9 .1l-.8 .4l-.3-.6zM272.5 405.3l.3-.5l.6 0l.5 .1l.5 .1l.7 .2l.7-.3l.7-.3l.7-.1l.3 .6l-.8 .2l-.8 .6l-.5-.5l-.6 .1l-.7-.1l-.5 .5l-.6-.2zM271.2 407.2l.9 .1l.7-.5l.8 .4l.5 .9l-.6 .1l-.4 .5l-.9-.2l-.7-.7zM278.3 408.8l.7-.1l.4-.7l.1-.7l.4-.7l.5-.4l.4-.6l.6-.1l.5-.3l.5 .2l.6-.2l.6-.2l.7 .1l-.7 .7l-.4 .6l-.6 .2l-.5 .4l-.7 0l-.5 .3l-.5 .1l-.3 .6l-.4 .5l-.7 .1zM256.5 385.2l.7 .2l.4 .7l.7 .3l.7 0l-.3-.9l.3-1l.5-.6l.7-.3l1 .1l.7-.7l.5-.5l.6-.3l0-.8l.3-.7l1-.2l.6-.8l.4-.4l.3-.5l.4-.7l.6-.4l.4-.5l.4-.2l.3-.5l.2-.6l.7 .6l.6 .8l.6 .6l.3 .6l.4 .5l.6 0l.5 .2l-.7 .1l-.8 .3l.5 .9l-.5 .4l-.6 .1l-.4 .8l-.1 1l.5 1l0 1.1l.4 .6l.3 .7l.6 .4l.4 .6l-.9 .1l-.8 .3l-.4 .6l-.2 .7l.1 .7l-.1 .6l-.4 .9l-.7 .4l-.3 .8l-.5 .6l.1 1l0 .9l-.4 .6l-.2 .8l-.6 .2l-.5-.3l-.4 .5l-.5 .3l-.3-.7l.1-.8l-.8-.1l-.9 .1l-.6 .4l-.6-.2l-.6 .2l-.6-.2l-.4-1l-.6 0l-.6 .1l-.6-.1l-.6 0l-.4-.9l0-1.1l-.3-.5l-.1-.6l-.3-.5l-.3-.6l-.4-.9l.1-1l-.2-.5l0-.6l.4-.3l.2-.7l.3-.6zM274.1 387.1l.4 0l.5 .1l.5-.1l.4 .1l.8-.3l.8 .4l.6-.1l.5 .2l.4-.5l.6-.3l.8-.4l.6 0l-.2 .7l-.5 .5l-.6 .5l-.6 .4l-.7-.2l-.7 0l-.6 .4l-.7 .1l-.6-.1l-.6-.4l-.8 .4l-.8-.4l-.4 .6l-.3 .6l-.1 .7l.3 .6l.5 .6l.4 .6l.6-.7l.7-.2l.6 0l.5 .3l.5-.4l.6 0l.6 .2l-.5 .5l-.4 .7l-.5 .2l-.5 .1l-.5 .1l-.5 .1l0 .7l.3 .5l.5 .4l.3 .5l.4 .8l.2 1l.5 .9l-.5 .7l-.9-.1l-.8 0l-.2-1l-.6-.6l-.3-.5l0-.6l.1-.6l0-.6l-.5 .3l-.6 .3l.4 .9l-.1 1l.3 .8l.2 .7l-.2 .8l-.2 .8l-.7 0l-.8 0l-.1-.9l.3-.4l0-.6l.1-.6l-.1-.6l-.6-.3l-.4-.5l0-.8l-.1-.9l.2-.6l.1-.7l.2-.7l.3-.6l.4-.5l.3-.7l.1-.7l-.2-.6l-.1-.7l.4-.6l.7-.3zM284.6 387.2l.2-.6l.4-.4l-.1-.7l.1-.6l.2 .8l.4 .5l.7 0l-.4 .7l-.4 .7l.3 .5l.5 .4l-.6 0l-.5 0l-.2 .6l.1 .6l.5 .3l.2 .6l-.5-.3l-.3-.6l-.2-.7l-.3-.7l-.1-.5zM285.2 395.2l.9-.2l.8-.6l.8 .1l.8 0l.8 .1l.6 .8l-.6 .5l-.8 .1l-.6 .4l-.6-.2l-.5-.3l-.7-.1l-.3-.5zM282.2 395.2l.8 .1l.8-.3l.3 1l-.7-.1l-.7 .4l-.1-.6zM273.7 353.8l.7 .3l.6 .3l.6-.5l.7 0l.1 .7l-.2 .7l.2 .7l-.1 .7l-.4 .5l-.5 .5l-.1 .7l-.1 .7l-.1 .8l.2 .8l.8 .5l.3 1l.5 .2l.6 0l.8 .2l.7 .2l.3 .5l-.1 .7l.1 .6l-.1 .6l-.6-.5l-.6-.4l-.6-.6l-.7-.5l-.6-.5l-.8-.1l-.9 .3l-.7-.2l.1-.8l.5-.5l-.7 .2l-.4-.8l-.6-.8l0-1l0-1l.6 .6l.3-.5l0-.6l0-.6l-.2-.6l0-.7l.4-.5l-.2-.7zM273.3 363.4l.7-.2l.7 .4l0 .8l.5 .7l-.5 .7l-.6-.5l-.6-.9zM279.6 365.3l.7-.2l.8 .1l.5 .5l0 .9l-.1 .7l.3 .7l-.5-.2l-.7 .1l-.1-.5l-.5-.4l-.2-.6l-.2-.5zM279.7 367.3l.5 .2l.4 .1l.3 1l.1 1.1l-.7 .1l-.4-.6l-.2-.9zM275.8 366.4l.4 .4l.4 .3l.6 .1l.5-.1l-.3 .6l.1 .6l-.7 .4l-.5 .2l-.4 .3l0-1.1l.2-.9zM276.6 370l.5-.5l.3-.7l.9-.5l-.4 .9l.1 1l-.1 .9l-.2 .7l-.3-.5l-.5-.1l-.3-.6zM279.1 367.7l-.3 .7l.1 .9l-.7 .7l-.1 1.1l-.1-.9l.3-.7l.6-.8zM278.8 370.4l.4-.5l.7-.1l0 .8l-.8 .2zM268.4 373.1l.4-1l.9-.5l.4-.8l.7-.3l.7-.6l.2-.9l.2-.8l.1-.7l-.5 .7l-.3 .5l-.5 .2l0 .6l-.3 .5l-.3 .5l-.3 .5l-.4 .3l-.4 .5l-.1 .7zM276 375.9l.1-.7l0-.8l.5-.5l.6-.3l.5-.3l.4-.6l.2 .6l.5 .4l.6-.2l.7-.6l.6-.4l.3-.7l.1-.8l.3-.6l.6 .8l.5 .7l-.1 .8l.3 .8l.4 .7l.1 1l-.5 .9l-.2 1l-.3-.7l-.5-.6l-.4 .5l0 .8l-.2 .7l0 .7l-.5-.2l-.5-.1l-.2-.6l-.5-.3l-.2-.7l-.1-.7l.3-.6l-.6-.5l-.7-.3l-.4 .4l-.5 .1l-.7 .3zM290.5 390.7l.5-.3l.2-.6l.5-.2l.6 .2l.6 .3l.7-.1l.6 .4l.7 .3l-.1 .6l.2 .6l.1 .6l.3 .4l0 .8l.2 .7l.5-.1l.4 .3l.5 .3l.1 .6l.8-.2l.6-.5l.2-.9l.6-.6l.5-.3l.5 0l.4-.5l.2-.5l.5 .2l.5-.2l.5 .4l.2 .5l.6 .6l.7 .1l.7 .5l.7-.1l.5 0l.4 .2l.9 .5l.8 .4l.4 .4l.5 .3l.6-.2l.5 .3l.7 .4l.7 .1l.4 .8l.7 .5l.3 .8l.6 .5l.6 .3l.4 .5l.6 .4l.6 .1l.4 .6l.6 .3l0 .5l-.7-.1l-.6 .4l.3 .7l.2 .7l.2 .6l.5 .5l.3 .7l.5 .4l.8 .3l.8 .5l.5 .3l.2 .5l.3 .6l.2 .6l.6 .3l.6-.1l-.3 .7l-.6-.3l-.6-.5l-.7 .1l-.7 .1l-.7-.5l-.8 0l-.8-.3l-.6-.8l-.5-.6l-.2-.9l-.7-.4l-.4-.8l-.8-.3l-.9-.3l-.9-.1l-.7 .7l-.3 .6l-.5 .3l-.3 1.1l-.8 .3l-.9-.3l-.9-.2l-.8 .2l-.4-.7l-.6-.4l-.6 0l-.6 .2l-.5-.4l-.6-.1l-.7 0l-.7 .1l.4-.6l0-.8l.3-.6l.4-.7l-.3-.7l-.2-.7l-.1-.7l-.5-.6l-.7 0l-.6-.5l-.7-.3l-.4-.6l-.8-.4l-.6-.7l-.8-.4l-.8-.2l-.7-.1l-.6-.4l-.9-.1l-.8 .7l-.5-.9l-.1-1.1l.4-.6l.7-.2l.8-.4l-.6-.2l-.7-.1l-.6-.1l-.6-.2l-.8-.5l-.8-.6l.5-.4zM317.4 400l.8-.6l.9 .3l.5 .3l.5-.1l.6 0l.5-.3l.2-.7l.5-.4l.4-.6l0-.8l.6 .3l.6-.1l-.1 .7l-.4 .6l-.5 .2l-.3 .6l-.2 .5l-.2 .5l-.5 .3l-.4 .1l-.5 .3l-.5 0l-.8-.4l-.8 .2l-.6-.3zM321.2 394.1l.4 .4l.6 0l.3 .6l.5 .3l.4 .6l.4 .5l.3 .7l.5 .5l-.1 .6l-.3-1l-.3-.8l-.6-.8l-.7-.3l-.8-.6zM327.1 399.4l.9 .3l.5 .8l.2 .9l.5 .7l-.6-.3l-.5-.3l-.3-.6l-.4-.3l-.3-.6zM330.1 401.9l.5 .1l.5 .1l.2 .5l.4 .4l-.5 .2l-.7-.5zM333.2 403.6l.5 .4l.6 .3l.6 .2l.4 .6l-.5 .2l-.4-.4l-.5-.2l-.2-.7zM335.1 406.8l.9 .6l.9 .4l-.8 .2l-.5-.6zM336.5 405.1l.5 .5l.3 .5l.2 .6l.1 .7l-.4-.6l-.4-.8zM337.6 408.7l.9 .4l.7 .6l-.8-.2l-.3-.5zM341.9 427.4l.6 .3l.6 .6l.6 .3l.5 .5l.5 .7l.6 .7l.7 .5l.6 .6l-1 0l-.6-.6l-.6-.6l-.5-.7l-.8-.4l-.3-.5l-.3-.4l-.2-.6zM346 417.1l.3 1l.6 .7l-.6 0l-.3-.8zM347.1 419.6l.4 .4l.3 .6l-.6 0zM348.5 422.7l.4 .3l-.4 0zM362.8 422.5l.5-.1l.5 0l.5 0l.5 .3l-.1 .6l-.2 .5l-.8 0l-.8-.2l0-.6zM364.8 421.1l.5-.2l.5-.3l.5-.3l.5-.1l-.3 .4l-.3 .5l-.7 0zM161.7 411.9l.4 .6l.3 .6l.1 .7l.2 .7l.3 .9l.2 1l.4 .9l.1 1l-.3 .6l-.2 .7l-.3-.5l-.3-.5l-.1 .6l0 .7l-.1 .7l-.1 .7l0 .6l0 .6l-.2 .6l-.1 .6l-.3 .9l-.2 .9l-.4 .8l-.1 .9l-.4 .7l-.2 .7l-.1 .7l-.1 .8l-.3 .9l-.3 .9l-.3 .9l-.2 .9l-.3 .8l-.4 .7l0 .8l-.2 .9l-.7 .3l-.7 .3l-.8 .2l-.7 .2l-.5-.3l-.4-.4l-.4-.2l-.5-.2l-.2-.8l-.1-.8l-.1-.8l-.2-.8l-.2-1.1l-.3-1.1l.3-.8l.2-.9l.3-.4l.3-.5l.2-.5l.3-.5l.1-.6l-.1-.6l.1-.7l0-.6l-.2-.7l-.3-.7l-.1-.7l0-.7l.2-.6l.1-.7l.1-.6l.3-.6l.7-.3l.8-.1l.7-.1l.7-.5l.4-.3l.5-.3l.3-.4l.4-.5l.3-.5l.4-.6l.2-.7l.2-.7l.3-.5l.3-.6l.4-.4l.4-.6l.2-.6zM726.9 411.9l.4 .6l.3 .6l.1 .7l.2 .7l.3 .9l.2 1l.4 .9l.1 1l-.3 .6l-.2 .7l-.3-.5l-.3-.5l-.1 .6l0 .7l-.1 .7l-.1 .7l0 .6l0 .6l-.2 .6l-.1 .6l-.3 .9l-.2 .9l-.4 .8l-.1 .9l-.4 .7l-.2 .7l-.1 .7l-.1 .8l-.3 .9l-.3 .9l-.3 .9l-.2 .9l-.3 .8l-.4 .7l0 .8l-.2 .9l-.7 .3l-.7 .3l-.8 .2l-.7 .2l-.5-.3l-.4-.4l-.4-.2l-.5-.2l-.2-.8l-.1-.8l-.1-.8l-.2-.8l-.2-1.1l-.3-1.1l.3-.8l.2-.9l.3-.4l.3-.5l.2-.5l.3-.5l.1-.6l-.1-.6l.1-.7l0-.6l-.2-.7l-.3-.7l-.1-.7l0-.7l.2-.6l.1-.7l.1-.6l.3-.6l.7-.3l.8-.1l.7-.1l.7-.5l.4-.3l.5-.3l.3-.4l.4-.5l.3-.5l.4-.6l.2-.7l.2-.7l.3-.5l.3-.6l.4-.4l.4-.6l.2-.6zM168.2 365l.9 0l.9 .2l-.6 .1l-.5 .4zM733.4 365l.9 0l.9 .2l-.6 .1l-.5 .4zM152.4 411.2l.3 .6zM717.6 411.2l.3 .6zM171.2 428.9l.8 .4l-.5 .4zM736.4 428.9l.8 .4l-.5 .4zM174.5 427.4l.6 .4l-.4 .4zM739.7 427.4l.6 .4l-.4 .4zM103.9 317l.7-.3l.7-.4l.9-.1l.9 .1l.9-.2l.9 0l-.3 .8l-.5 .7l.1 .8l-.1 .7l-.6-.3l-.6-.2l-1.1-.4l-1-.6zM669.1 317l.7-.3l.7-.4l.9-.1l.9 .1l.9-.2l.9 0l-.3 .8l-.5 .7l.1 .8l-.1 .7l-.6-.3l-.6-.2l-1.1-.4l-1-.6zM97.3 311.1l.7-.4l.8-.2l.6 .6l.4 .8l0 .6l-.2 .6l0 .7l-.1 .6l-1 .3l-.9-.1l-.2-1.1l.2-1l-.1-.7zM662.5 311.1l.7-.4l.8-.2l.6 .6l.4 .8l0 .6l-.2 .6l0 .7l-.1 .6l-1 .3l-.9-.1l-.2-1.1l.2-1l-.1-.7zM97.9 308.3l.5-.7l.8-.5l-.1 .9l.3 .8l-.2 .7l-.4 .7l-.4-.5l-.5-.5zM663.1 308.3l.5-.7l.8-.5l-.1 .9l.3 .8l-.2 .7l-.4 .7l-.4-.5l-.5-.5zM121.3 321.8l.8-.1l.8-.2l.7-.4l.8-.2l.6 .5l.7 .4l-.5 .5l-.8 .1l-.5 .3l-.7 .1l-.5-.4l-.6-.2zM686.5 321.8l.8-.1l.8-.2l.7-.4l.8-.2l.6 .5l.7 .4l-.5 .5l-.8 .1l-.5 .3l-.7 .1l-.5-.4l-.6-.2zM135.1 322.3l.6-.3l.5-.4l.6-.2l.7-.1l.6-.1l.6-.2l-.5 .7l-.4 .7l-.8 .4l-.8 .3l-.5-.4zM700.3 322.3l.6-.3l.5-.4l.6-.2l.7-.1l.6-.1l.6-.2l-.5 .7l-.4 .7l-.8 .4l-.8 .3l-.5-.4zM88.2 313.6l.5-.3l.6-.4l.4 .5l-.6 .8zM653.4 313.6l.5-.3l.6-.4l.4 .5l-.6 .8zM120.5 314.9l1.1 0l.8 .6l.6 .5l0 .7l-.8-.6l-.9-.6zM685.7 314.9l1.1 0l.8 .6l.6 .5l0 .7l-.8-.6l-.9-.6zM127.9 320.2l.8-.6l-.2 .9zM693.1 320.2l.8-.6l-.2 .9zM125.1 314.4l.9-.3l-.2 .6zM690.3 314.4l.9-.3l-.2 .6zM101.7 283.1l.8-.5l.7-.5l1 .8l-.5 .6l-.3 .7l-1.4-.3zM666.9 283.1l.8-.5l.7-.5l1 .8l-.5 .6l-.3 .7l-1.4-.3zM99.8 283.5l1.4-.2l0 .9l-1.1-.1zM665 283.5l1.4-.2l0 .9l-1.1-.1zM112.8 280.4l1-.7l.3-1l.1 1l-.8 .3l-.3 .6zM678 280.4l1-.7l.3-1l.1 1l-.8 .3l-.3 .6zM110.1 282l.3-.6l.2-.6l.8-.4l-.2-.6l-.1 .8l-.6 .8zM675.3 282l.3-.6l.2-.6l.8-.4l-.2-.6l-.1 .8l-.6 .8zM118.8 278l.9-.2l.7-.4l.6 .4l-.6 .6l-1.1 .1zM684 278l.9-.2l.7-.4l.6 .4l-.6 .6l-1.1 .1zM119.1 276.8l1.3-.2l-.4 .5zM684.3 276.8l1.3-.2l-.4 .5zM81.9 274.7l.1-.7l.8-.4l-.4 .7zM647.1 274.7l.1-.7l.8-.4l-.4 .7zM79.2 276.6l1.1-.2l-.6 .4zM644.4 276.6l1.1-.2l-.6 .4zM73.4 278.5l.2-.7l1.1-.2l-.3 .9l-1.2 .6l-.3 .9l.4-.7zM638.6 278.5l.2-.7l1.1-.2l-.3 .9l-1.2 .6l-.3 .9l.4-.7zM74 279.5l1.1 .4l-.4 .3zM639.2 279.5l1.1 .4l-.4 .3zM72.9 270.9l1.3-.6l-.5 .8zM638.1 270.9l1.3-.6l-.5 .8zM70.3 253.9l1.5-.4l-.4 .4zM635.5 253.9l1.5-.4l-.4 .4zM113.9 247.3l.8-.2l-.5 .3zM679.1 247.3l.8-.2l-.5 .3zM229.9 363.4l.5 .8l0 1.1l-.6 .7l0 1l.3-.8l-.2-.9l0-1zM231.5 375.4l.3 .7zM234.8 384l.6 .2l.5 .3l-.8-.2zM236.8 386.4l.9 .5l.4 1.1l-.5-.4l-.3-.6zM239.2 391l.6 .7l.5 .6l-.6-.3zM249.6 392.2l.7-.4l.8 .4l.2 .6l.2 .7l.3 .6l.1 .7l-.5-.5l-.6-.4l-.3-.5l-.2-.5l-.3-.4zM253.3 394.1l.7 0l.4 .5l-.6 .6l-.3-.5zM623.1 335.1l.6-.2l.6-.2l-.4 .9zM624.8 335.7l.6-.3l0 .7zM627 335.5l.5-.5l.3-.6l.3-.5l.3-.5l-.3 .9l-.2 .8zM612.4 360.3l.4-.4l-.1 .7zM609.9 356.7l.5-.3l-.2 .5zM622.6 326.6l.8 0zM97.7 382l.7 .2l-.5 .6zM662.9 382l.7 .2l-.5 .6zM94.6 388.5l.4 .2l-.3 .4zM659.8 388.5l.4 .2l-.3 .4zM145.9 400.2l.5 .7l-.3 .4l-.1-.6zM711.1 400.2l.5 .7l-.3 .4l-.1-.6zM146.7 398.4l.2 1zM711.9 398.4l.2 1zM312.8 305.6l.8-.6l.8-.5l-.8 .1l-.2 .6zM315.2 303.7l.5-.6l.6-.6l.9 0l.8-.1l-1.2 .3l-.8 .6zM319.1 302l.6-.8l1-.2l-.8 .2zM323 299.5l.9-.7l.7-.8l-.8 .5l-.4 .5zM327.8 294.7l.4-.6l.2-.6l.6-.5l.5-.6l-1 .8l-.2 .8zM341.1 277.4l.7-.7l.9-.5l-.4 .6l-.4 .6zM344.5 283.7l1 .7l-.5-.2zM300 284.1l1.4 .1l-.8 .6zM263.4 444.4l-.2-.7l-.1-.7l0-.7l.2-.7l-.4-.5l-.3-.7l0-.7l-.2-.6l.2-.9l0-.8l-.1-.8l-.1-.8l.3-.9l.2-1l.2-.8l0-.9l.3-.7l.2-.8l.2 .5l.2 .6l.5-.7l.6-.7l.6-.6l.7-.3l.6-.5l.6-.5l.8 0l.8-.1l.7-.4l.7-.2l1-.2l.9-.5l.9-.4l1-.2l.6-.7l.6-.7l.3-.9l.4-.9l.3-1.1l.3-1.1l.8 .5l.8 .6l.1-1l-.1-1l.5-.5l.5-.5l.5-.4l.5-.5l.3-.5l.4-.5l.3-.6l.4-.3l.5-.3l.4-.3l.5-.2l.4-.3l.5 .5l.4 .7l.5 .5l.6 .3l-.2 .8l.7 0l.6-.1l.6-.3l.6-.3l-.3-1l0-1l.6-.9l.7-.8l.4-.5l.4-.4l.9 0l.8-.4l.4-.5l.5-.3l.1-.6l.1-.6l.8 .4l.6 .8l.5 .4l.6 0l.6 .2l.7 0l.7 0l.7 .3l.7-.1l.7 0l-.2 .9l-.1 1l-.6 .3l-.5 .4l-.2 .6l.1 .7l.1 .6l0 .6l.4 .4l.3 .5l.3 .5l.4 .5l.5 .3l.6 .3l.5 .5l.6 .3l.7 .1l.5 .4l.4 .4l.5 .3l.4 .3l.3 .5l.6-.2l.7-.1l.3-.7l.3-.7l0-.8l.3-.7l0-.7l.2-.7l.2-.7l.1-.8l-.1-.7l0-.7l0-.7l-.1-.7l.4-.7l.1-.7l.3-.6l0-.7l0-.7l.2-.6l.4-.4l.1 .7l.3 .6l.3 .5l.4 .5l.2 .9l-.1 .8l.2 .9l.3 .8l.7 .4l.8 .5l.5 .9l.7 .7l-.1 .9l.2 .7l.3 .6l.1 .7l.2 .7l.1 1.1l.5 1l.2 .6l.2 .7l.3 .6l.4 .5l.5 .5l.6 .3l.5 .4l.7 .2l.2 .7l.4 .5l.4 .5l.4 .5l.2 .6l.3 .6l.3 .5l.2 .5l.3 .5l.3 .5l.5 .2l.4 .4l.3 .8l.5 .6l.5 .3l.4 .5l.5 .4l.4 .5l.4 .6l.5 .4l.1 .6l-.1 .6l.1 .6l.1 .5l.2 1l-.1 .9l.2 .8l-.1 .7l.2 .7l.2 .7l-7.8 0l-7.7 0l-7.8 0l-7.7 0l-7.8 0l-7.7 0l-7.8 0zM289.1 410.8l.9 .1l.9-.1l-.5 .4l-.3 .5l-1-.1zM298.5 415.6l.8 0l-.3 .8zM302.9 420.6l.8 0l-.4 .3zM324.9 436.4l.3 .4l-.2 .7l-.2 .8l-.2-.8l.2-.5zM403.9 253l2.1 .3l1.8 .6l1.6 .2l1.6 0l1.5 .3l1.6 .3l1.6 .1l1.5 .1l1.9 .3l2.1 .3l1.5-.1l1.6 .1l1.9 .4l2 .4l1.6 0l1.6 .1l2 .7l1.9 .6l.9-.4l.7-.5l2.3-.2l1.6 .1l1.7-.4l1.4-.7l2.4-.3l1.6-.2l.7-.6l-.1 .6l.9 .5l2.4 .1l1.6 .7l.7-.9l1.8 .4l2.2 .1l1.7 .3l1.4 .5l1 .4l.8 .5l1.5 .1l1.4-.1l1.6 .9l1.6 .9l.9 .8l1.3-.2l1.3 0l1.2-.3l2.3 .4l2.4-.4l-.2 1.2l1.7 .7l.2-.6l-.4-.5l.6-.6l.4-.5l1.5-1l2.5 0l1.5-.1l1.3 .4l1.4 .3l.5 .7l1 .4l1.3 .1l1.5 .1l.9-.6l.8-.7l1.5-.6l1.3 .2l1.1 .4l.2-.7l-.1-.6l-.7-.6l-.2-.6l-.2-1l1-.9l.4-.8l1.9-.5l.4-.8l-.4-.8l1.8 .9l.9 1l-.3 1.1l1.6 .8l.7 1l.1 1l1.8 .7l1.5 .2l1 .5l.5 .6l-.1 .6l.9 .5l1.4-.1l1.7-.6l-.1-.9l1.1-.4l.4-.6l.1-.6l-.5-.5l.8-.6l.4-.6l2.7 .2l.3 .8l1.7 .4l-.1 .7l.5 .6l-1.1 1l.7 .6l.4 .7l-.8 .5l-1.3 .2l-.2 .6l-.4 .6l-1.6 .2l-1.6-.2l-2-.4l-.3 1l.8 .9l-1.3 .9l-1.1 1l-.8 1l-1.4 .6l-1.7 .1l-1.1 .5l-1.3 .4l-.9 .7l-.8 .5l-1.3 .1l.3 .6l-.4 .7l-1.2 .3l-.1 .8l.3 .7l-.6 .7l0 .9l-.4 1l0 .8l1 .6l1.5-.1l-.5 .6l.3 .7l.7 .5l.1 .7l.6 .9l1.3 0l.9-.5l.9-.2l.9 .1l.5 .6l.9 .2l.6 .4l.7 .3l.6 .5l.3 .5l1.1 .3l1.2-.1l.6 .8l1.1 .4l.9-.2l.8-.3l.9 .1l.6 .5l1.1 .2l.4 1l-.3 1.1l.3 1l-.4 1l1 .6l.2 .9l.8 .8l.5 .9l1.4 .2l.7-.4l.6-.4l.6-.8l-.3-.9l-.4-.9l.1-1l-.2-.6l-.2-.6l-.6-.4l0-.7l.9-.2l.9 0l.9-.3l.3-.6l0-.7l.5-.6l.7-.4l.4-.6l0-.8l.1-.7l-1.3-.7l-.1-1.1l-.8-.4l-.6-.5l.3-.8l.3-.7l.8-1l.2-.8l-.5-.7l.3-.8l-.9-.5l.3-.9l-.2-.9l1.6-.2l1.2 .3l1.2 .1l1.1 .3l1.2-.3l1.6 .6l1.6 .6l.7 .7l1.1 .5l1.3 .1l-.5 1l1 .9l.5 .9l-.2 1l1.1 .8l.6 .9l1.3 0l.9-.5l1-.3l.6-.5l.4-.7l.4-.6l.8-.9l.7-.9l1.2 .8l-.4 1l.5 1l1.1 .9l.4 1l1.2 .9l.7 .9l-.3 1l.3 .6l.8 .3l.9 .7l.7 .7l1.1 .6l1.3 .3l1 .4l.5 .8l-.7 .2l-.8 .1l1.1 .1l.9 .5l1.1 .4l.2 .8l.9 .5l.2 .6l0 .6l-.8 .7l-1 .6l-1.3 .2l-1.3 .2l-.2 .7l-.7 .5l-.9 .1l-.6 .6l-.8-.2l-.8-.1l-.8 0l-.7 .3l-.7-.4l-.9-.1l-.9 .1l-.7 .4l-.9 .2l-.9 .2l-.9-.4l-1 .2l-1.1 .7l-.7 1l-.8 .4l-.7 .4l-.9 .6l-.7 .7l-1.1 .7l-.5 1l-.8 .3l-.3 .7l.6-.4l.8 .1l.5-1.1l.7-.4l.2-.7l.6-.5l.9-.2l.5-.6l.6-.6l1 .2l1-.3l.8 .1l.8 0l.7 .2l.8-.2l.2 .6l-.4 .6l-.5 .7l-.8-.3l-.8 .3l.8 .8l.9-.2l.3 .6l-.3 .7l.5 .7l.1 .8l1.1 .4l.7 .3l.6 .3l.8-.2l.9 0l.7-.4l.7-.2l.7-.6l.3-.9l.1 1l.7 .9l-1 .5l-.8 .7l-1.2 .3l-1.1 .6l-.9 .4l-.9 .2l-.6 .6l-.8 .5l-.9 .4l-.8 .6l-.9-.6l.4-.7l.2-.8l1-.7l1-.7l-.3-.5l-.9 .5l-1.1 .2l-.7 .4l-.9 .2l-.8 .4l-.8 .6l-.7 .4l-.8 .3l-.9 .5l-1 .2l-.3 .6l-.5 .6l-.2 1l.4 .9l.9 .4l0-.5l.1 .7l-1 .4l-1.3 0l-.9 .4l-.8 0l-.8 .2l-.8 .3l-.6 .4l.7-.1l.7-.3l.8 .1l.8-.1l-.8 .5l-1.2 .3l-1.2 .2l0 .9l-.3 .6l-.3 .6l-.8 .8l-.5-.3l-.4-.5l.2 .7l.4 .6l.1 .5l-.6 .7l-.3 .9l-.6 1l-.3-.9l-.2-.8l-.1-.6l0-.6l-.1-.6l.1-.5l0 .6l-.2 .7l.3 .9l0 1l0 1.1l.6 .2l.2 .8l.2 .8l.1 .7l.2 .7l-.7 .2l-.6 .5l-.4 .5l-.7 .1l-.6 .1l-.4 .6l-.5 .6l-1 .1l-.6 .5l-.3 .7l-.6 .5l-.5 .4l-.7 .4l-.6 .6l-.6 .4l-.3 .9l-.2 1l.1 .6l-.1 .5l0 .8l.3 .8l.1 .5l.2 .6l.3 .5l.4 .5l.3 .9l.1 1l.1 .8l.3 .7l.1 .9l-.2 .9l-.4 1.1l-.6 .1l-.5 0l-.6-.7l-.4-.8l-.2-.7l-.2-.6l-.4-.9l-.6-.8l-.2-.7l-.1-.7l.1-.7l.1-.8l-.6-.6l-.5-.5l-.5-.5l-.5-.5l-.8 .4l-.8 .4l-.6 0l-.5-.6l-.4-.6l-1 .1l-.9-.2l-.7 0l-.6-.2l-.8-.1l-.7 .2l-1 .4l.1 .6l.2 .6l.4 .9l-.4 .3l-.6-.2l-.6-.1l-.6-.1l-.7-.1l-.6-.3l-.6-.2l-.8-.2l-.8 0l-.8-.3l-.8 .1l-.7 .3l-.7 .3l-.5 .5l-.6 .4l-.7 .6l-.8 .4l-.6 .7l-.7 .6l0 .9l-.3 .8l.3 .8l.1 .8l-.2 1l-.5 .8l0 .6l-.1 .6l-.2 .5l0 .6l0 .8l0 .7l-.1 .7l0 .8l.3 .5l.1 .7l.2 .6l.2 .6l.4 .9l.3 1l.5 .8l.7 .7l.4 .5l.4 .4l.5 .3l.5 .1l.4 .4l.5 .3l.5-.2l.6-.1l.5 0l.6-.2l.9-.3l1-.2l.6-.3l.6-.3l.4-.8l.4-.8l.1-.9l.1-1l.6-.6l.8-.2l.8-.2l.7-.3l.8-.2l.8 .1l.8 0l.3 .7l-.6 .8l-.4 1.1l-.1 .7l0 .6l-.1 1l-.3 .9l-.3 1l-.4 .9l-.2 1l.1 .9l-.4 .7l-.6 .5l.5 .4l.9-.1l.8 0l.8-.1l.8 0l.8-.3l.8 0l.7 0l.8 .4l.8 .3l.7 .5l.7 .6l-.2 1l-.2 .9l-.3 1l-.1 1.1l0 .9l-.1 .8l-.1 1l.1 1l.5 .9l.6 .9l.6 .6l.6 .7l.5 .6l.6 .4l.8-.2l.8-.3l.5-.2l.5-.3l.7-.2l.7-.2l.8 .1l.7 .4l.6 .6l.5 .6l.5 .6l.4 .6l.3-.9l.4-.8l.6-.5l.4-.6l0-.9l.3-.8l.5-.7l.6-.6l.5-.1l.4-.2l.5-.2l.5-.3l.5 0l.5-.1l.5-.6l.4-.5l.5-.4l.6-.2l.2 .6l.4 .6l-.5 .6l-.5 .5l.2 .6l.3 .5l.5-.3l.4-.4l.7-.3l.6-.4l.3-.8l0-.8l.3 .7l.2 .7l.5 .2l.5 .2l.5 0l.5 .1l.3 .7l.3 .7l.9-.3l.9 .1l.6 0l.6 0l.5 .1l.4 .2l.5 .2l.4 .4l.5-.4l.7-.2l.5-.1l.5 0l.4-.2l.5-.2l.9-.1l.8 .1l-.6 .3l-.6 .3l.6 .7l.5 .3l.6 .1l.4 .3l.5 .3l.2 .9l.7 .4l.7 .6l.8 .6l.5 .2l.4 .4l.2 .5l.5 .4l.2 .6l.3 .5l.6 .9l.7 .7l.9-.1l.8 .1l.8 .2l.8 0l.5-.1l.5 0l.4 .2l.5 0l.6 .6l.7 .5l.7 .1l.7 .5l.6 .6l.5 .6l.3 .5l.5 .3l-.1 .8l.1 .9l.4 .7l.2 .8l.2 .6l.2 .6l.3 .6l.4 .5l-.2 .8l-.3 .7l-.5 .2l-.6 .2l.3 .7l.5 .6l.7-.6l.9-.4l.9 .1l.8 .2l0 1l-.1 1.1l.2-.5l.5-.4l.4-.2l.4-.5l.6 .4l.6 .2l.6 .2l.6 .2l.8 .2l.8 .6l.2 .5l.4 .3l.2 .6l.2 .5l.7-.3l.8 0l.5 .2l.6 .1l.5 .3l.6 .2l.7 .3l.8-.1l.8-.2l.8 .1l.6 .4l.5 .5l.7 .3l.6 .5l.3 .6l.5 .5l.5 .5l.5 .3l.6 0l.5 .1l.5 .4l.5 .2l.8 .2l.2 .6l.2 .6l.2 .6l.1 .7l.2 .6l.2 .6l-.1 .9l-.1 .8l-.5 .7l-.2 .8l-.3 .8l-.2 .8l-.6 .8l-.5 .8l-.6 .3l-.5 .6l-.3 .6l-.4 .6l-.4 .7l-.1 .8l-.6 .5l-.4 .7l-.4 1l-.4 .9l-.1 .7l0 .8l0 .7l.1 .7l-.1 .9l0 .9l-.1 .6l-.2 .6l0 .6l0 .6l-.2 1l-.5 .9l0 .8l-.2 .9l-.5 .6l-.3 .7l-.4 1l-.5 .9l0 .7l-.2 .6l-.3 .6l-.3 .5l-.5 .4l-.4 .4l-1 0l-.9 0l-.5 0l-.6 .1l-.4 .2l-.6 .1l-.6 .7l-.8 .5l-.7 .3l-.7 .1l-.5 .3l-.4 .5l-.4 .4l-.6 .3l-.7 .7l-.8 .6l-.1 .6l0 .7l-.1 .6l0 .6l0 .8l0 .7l-.3 .9l.1 .9l-.1 .9l0 .9l-4.5 0l-4.4 0l-4.4 0l-4.5 0l-4.4 0l-4.4 0l-4.5 0l-4.4 0l.3-.6l0-.8l-.2-.7l.1-.7l.3-1l.3-.9l.2-.7l.2-.7l.1-.8l.1-.9l.2-.8l0-.8l.1-.9l-.1-.8l-.3-1.1l.3-.9l.3-1l0-.9l.1-.9l0-.9l0-.9l-.2-.8l-.2-.8l-.1-.8l.2-.8l-.3-.5l-.5-.3l-.4-.5l-.4-.4l-.5-.6l-.5-.6l-.8-.3l-.7-.1l-.7-.5l-.5-.6l-.6-.3l-.6-.5l-.5-.5l-.7-.2l-.5-.7l-.3-.8l-.4-.8l-.5-.7l.2-.9l-.2-.7l-.5-.6l-.3-.7l-.5-.5l-.3-1l-.4-.8l-.4-1l-.5-.9l-.3-1l-.4-1l-.2-.9l-.4-1l-.5-.5l-.3-.6l-.4-.6l-.3-.6l-.5-.6l-.4-.6l-.6-.3l-.4-.5l-.2-1.1l-.1-1.1l.4-.5l.5-.4l.1-.7l.4-.5l.7-.5l.1-1.1l.1-1l-.9-.2l-.8 .2l.2-.6l.1-.6l0-.6l.1-.6l.5-1l.5-.9l-.1-.7l0-.7l.7-.3l.5-.3l.3-.4l.3-.5l.4-.4l.2-.7l.3-.7l.7 0l.7-.2l.2-.6l.1-.6l.3-.6l.1-.6l-.7-.6l.2-.6l-.1-.6l0-.7l.1-.6l0-.6l0-.5l-.1-.6l-.1-.6l-.3-.5l-.3-.4l-.4-.8l-.4-.8l.2-.5l-.5-.7l-.6-.5l-.8-.1l-.3 .7l-.5 .6l0 .7l0 .8l-.7 .5l-.6-.5l-.3-.7l-.7-.5l-.8-.1l-.7 .2l-.7 .1l-.7-.3l-.6-.5l-.3-.9l-.4-.9l-.5-.6l-.5-.5l-.5 .8l-.5-.8l-.6-.6l.2-.8l0-.8l-.7-.6l-.6-.9l-.5-.7l-.6-.4l-.4-.5l-.2-.5l-.2-.6l-.6 .1l-.6 .1l-.6-.1l-.5-.2l-.5-.2l-.6-.2l-.9-.2l-.9-.4l-.4-.3l-.5-.3l-.5-.3l-.5-.3l-.5-.6l-.4-.7l-.6-.4l-.5-.5l-.8-.4l-.8-.6l-.5 0l-.6 0l-.4 .5l-.5 .2l-.6 .2l-.5 .2l-.6-.3l-.5-.3l-.7 0l-.6-.3l-.6-.6l-.8-.4l-.8-.2l-.7-.2l-.7-.3l-.7-.4l-.6-.5l-.6-.3l-.6-.2l-.5-.4l-.5-.2l-.4-.3l-.6-.2l-.5 0l-.5-.9l-.8-.6l-.2-.5l-.4-.4l-.5-.3l-.4-.3l-.3-.5l-.3-.5l.7-.5l0-.8l-.1-.9l-.5-.7l-.6-.7l-.2-.9l-.4-.8l-.5-.6l-.3-.6l-.6-.4l-.4-.5l-.4-.8l-.6-.6l-.8-.5l-.6-.6l-.3-1.1l-.4-1l-.7-.5l-.6-.4l-.5-.7l-.4-.7l-.5-.4l-.3-.6l-.5-.5l-.4-.4l-.4-.5l-.1-.6l-.3-.5l-.3-.5l-.3-.7l-.5-.5l-.3-.6l-.2-.7l-.5-.2l-.5-.3l-.5-.3l-.5-.1l-.1 .7l0 .8l.3 .5l.2 .7l.3 .5l.2 .6l.6 .8l.4 .8l.5 1l.7 .8l.4 .7l.5 .6l.2 .6l.4 .7l.3 .7l.5 .5l.3 1l.5 .9l.5 .8l.3 .9l.5 .4l.5 .4l.4 1l-.7 .5l-.3-.6l-.4-.5l-.6-.4l-.6-.3l-.5-.6l-.5-.6l-.6-.2l-.1-.7l.1-.7l-.2-.6l-.1-.7l-.5-.3l-.5-.4l-.5-.2l-.6-.4l-.4-.5l-.5-.4l-.6-.7l-.7-.6l.7-.1l.8-.2l-.5-.9l-.2-1l-.4-.4l-.4-.5l-.5-.3l-.5-.3l-.2-.7l-.2-.6l-.4-.6l-.2-.7l-.2-.7l-.3-.6l-.5-.6l-.2-.8l-.7-1.1l-.6-.9l-.8-.2l-.1-.5l-1.1-.3l-1.1-.2l-.9-.4l-.3-.6l0-.7l-.5-.6l-.5-.5l-.6-.8l-.4-.9l-.1-.6l-.5-.5l-.3-.6l0-.6l-.8-.3l-.5-.9l-.6-.9l.1-.7l-.3-.8l-.3-.7l-.6-.6l.1-.6l.4-.6l0-.7l-.2-.7l-.5-1l0-1.1l.4-.8l.3-.8l-.1-1.1l.2-1l.3-.7l0-.6l-.2-.7l0-.7l-.2-.9l0-.9l-.2-.8l-.5-.7l-.3-.9l1 .1l.9 .4l1.1 .1l.5 .7l.1 .8l.1-.5l-.7-.9l.5-.9l-.5-.9l-.5-.6l-.3-.8l-1.1-.1l-.4-.7l-.8-.3l-1.1 0l-.8-.6l-1.3-.1l-1.1-.6l.4-1.1l-1-.8l-.2-.6l-.7-.4l-.3-.5l-.5-.4l.5-.9l-.7-.7l-1.3-.1l-.6-.8l.1-.7l-.4-.7l-1.1 0l-.8-.6l.1-.7l.1-.6l-.3-.6l-1-.3l-.7-1l-1-.9l-.2-1l-1.2-.5l-.2-.7l-.9-.3l-.4-.6l.1-.6l-.2 .9l-.1 .9l-1.1 0l-.7 .5l-.8-.7l-1.2-.6l-1.4-.6l-1.4-.6l-1.8 0l-1.1-.9l-.9-.3l-1 .1l-.9 .4l-1.1-.2l-1.7-.1l-.9-.8l-.8-.5l-.3-.7l-1.4 .1l-1.2 .5l-.7 .7l.3 .8l-1.8-.2l-1.1 .1l-.5 .6l-.9 .4l0 .6l-1.4-.3l.6-.5l.2-.8l.2-.8l1.2-.6l1-.8l-1.3 .4l-1.3 .2l-1.2 .8l-.8 .9l-1.2 .5l.1 .8l-.2 1.1l-.9 .9l-.5 .5l-.7 .5l-.8 .4l-.8 .3l-.2 .8l-1.1 .3l-.7 .6l-1.2 0l-.7 .5l-.5 .5l-1 .1l-.9 .4l-.6 .6l-1.1 0l-.8 .3l-.6 .4l-1.2 .1l-1 .2l-1.2 .4l-1 .5l.8-.6l1 .2l1-.3l0-.8l1-.8l1.3-.6l1.5-.2l.8-.7l0-1l1.2-.4l1.3-.2l.8-.4l.2-.7l.6-.6l-.1-.7l.8-.4l-1-.5l-1.3 .1l-1.1 .5l-1.3-.1l-1.7 .4l-1.7-.3l-.3-.9l.9-.7l-.3-1l-1.7-.4l-1.5 .6l-1.3-.5l-.7-.8l-.3-.6l.1-.7l-.6-.5l-.5-.5l1-.7l.8-.8l.3-.6l1.3-.4l1.5 0l.9-.3l.7-.5l1.5-.2l-.1-.7l.1-.8l-1.2 0l-1.1-.2l-1.2 .1l-1.1-.1l-1.1 .2l-1.2-.2l-1.7-.5l-1.1-.9l-1.4-.7l1.5-.6l1.6-.6l1.8-.4l1.8-.3l1.4 .4l1.5 .4l-.6-.7l-.4-.6l-1.4-.9l-1.6-.8l-1.8-.5l-1.8-.6l1-1.1l1.1-.4l1.3-.4l1.4-.4l1.2-.4l.8-.5l.9-.5l1.5-.4l1.5-.3l1.4-.3l1.5-.3l1.4-.4zM535 240l2.2 .2l.9 .6l1.5 .8l1.7 .9l2.7 .7l1.2 1l2.7-.2l2.8-.2l3.1 .5l3.2 .5l-.9 .6l.8 .6l2 .4l.4 .7l.7 .7l.6 .7l.6 .7l.5 .7l.6 .8l1.8 .5l-1.1 .8l.6 .8l1.1 .9l-.7 1l2.3 .5l2.4 .4l.7 .8l.1 .8l-1.9 .3l-2-.3l1.3 .3l.3 .7l-1.1 .5l.3 .8l-.9 .9l-.2 1l1.2 .8l-.4 1.1l1.5 .8l0 1.1l-.2 .8l1 .7l-.3 .7l.4 .7l.5 .7l1.3 .2l.5 1l1.1 .9l1.4 .8l.2 1.1l.9 .2l1 .1l.9 .4l1.1-.1l.8 .6l1.1 .5l1.4-.2l1.1 .6l-.1-1.1l.7-1l.4-.7l.4-.7l-.2-.8l.7-.7l.7-.5l-.2-.6l.7-.5l1-.3l.5-.9l-.1-1l1-.4l.4-.6l.9-.5l.6-.6l1.6 0l1.5-.3l1.4 0l.8-.6l1.1-.2l.6-.6l1.5-.6l-.2-.9l1.5-.5l.4-.8l2.1-.6l2.6 0l2.5 0l2.2-.6l1.2-.8l.4-.9l2.5-.3l1.7-.8l-1.5-.5l-.4-.7l-1.2-.6l-1.9 0l2.7-.1l2.8 .1l-.9-1l1.3-.9l-1.3-.7l-2.3-.2l1.8-.7l1.4-.8l.6-.9l2-.5l-1.2-.6l-.7-.7l1.9-.5l1.3-.7l1-.5l.8-.6l-.8-.7l-1.5-.4l-1.7-.4l-1-.6l2.8-.3l2-.7l-.5-.9l-1.1-1l.6-1l1.7-.9l0-.7l1.6-.6l2.3-.4l1.9-.6l1.2-.7l1.7-.6l-3.4 .1l-2.1-.9l-2.5 .3l-2.2-.5l-1.6 .6l-2.4 .2l-.3-.9l-1.2-.8l-3.1-.4l-3.4-.1l-1.6-1l-3.7-.2l-3.3 .1l-3.1 .4l-3.1-.3l-3.1-.4l-2.7 .7l-3.5-.1l-2.9 .5l-3.4 0l-2.5 0l-2.3-.2l-1.6 .6l-1.5 .6l-1.9 .3l-2-.3l-2 .1l-1.9 .1l-3.2 .2l-3.1 .4l-1.3 1l-3.4 .3l-2.9 .4l-2.6 .5l1.1 .7l1.3 .7l-2.4 .4l-2.4 .3l-1.6 .9l-3.1 .3l-1 .8zM556.5 298.4l.4-1l.9-.8l.8-.5l.1-.8l.2-.8l.4-.7l.2-.7l.5-.5l.3-.6l.6-.5l1-.2l.6-.6l-.8 1l0 1.1l-.9 .5l-.2 .9l.9-.4l1 .2l.9 .8l1.4 .1l.1 .8l.7 .6l.8 .3l.5 .8l0 1l-.3 .9l-.4 .9l-.6-.4l-.8 .1l-.3-.6l0-.6l-.8 .7l-1.1 .3l-.4-.6l-.5-.6l-1.1-.5l-1.3 .4l-.7 0l-.7 .2l-.7-.1zM548.3 294l.8-.4l1 0l.9 .3l.5 .6l.4 .7l.8 .3l-.7-.2l-.6-.2l-.8-.3l-.7 .3l-1.1-.3zM548.5 299.7l1 .6l1.2 .2l.8 .2l.8-.2l-.8 .9l-1-.5l-1.1-.3l-.3-.5zM448 292.2l1.2-.1l1 .5l1.4 .4l1.3 .6l.4 .4l.6 .4l.2 .7l.8 .2l.3 .9l.7 .6l-1.2 .3l-1-.6l-1.3-.3l-.6-.9l-.9-.4l-1 0l-.2-.8l-.7-.5l-.1-.9zM440.8 286l.9 0l1 .1l0 .8l.1 .8l.4 .8l.4 .7l-.8-.4l-.8-.6l-.4-.5l.1-.7l-.2-.6zM407 279.5l.4-.7l.5-.7l1.2 .2l.9-.5l.1 .8l.5 .7l-.9 .7l-1.1 .6l-.7-.6zM380 268l1.2-.1l1.2-.1l1 .3l1.2 .3l-1.4 0l-1.3 .2l-1-.2zM386.9 274.3l1.1 0l1-.3l.5 .9l-1.8 .1zM385.8 287.1l1-.7l1.4-.3l-.1 .8l-.7 .6l-.8-.1zM382.7 288.4l1.1-.4l.9-.5l-.2 .8l-1 .3zM375.2 289.8l1.4-.3l1.4-.3l-.7 .5l-.9 .3zM370.5 290.5l1.4-.1l1.4-.4l-.8 .3l-.8 .4zM356.8 288.2l-1.4-.1l.6 .4zM382.1 280l.4 0zM435.5 278.7l1.1 0l1 .2l.1 .9l-1 .6l.2 .9l1.2 .5l-.7-.7l-.5-.7l-.2-1zM439.8 281.8l.9 .1l.7 .3l.6 .5l-.1 .6l.2 .8l.3 .7l-1.1-.3l-.8-.6l-.7-1zM523.2 248.6l2.3 .3l2.4-.1l.4 .9l2 .6l.9 .6l1.7 .1l1.1 .6l-.6 .6l1.5 .9l2.4 .3l1.2 1l1.2 .4l1.6-.1l1.7 .2l.4 .8l-.1 .6l.3 .7l1.1 1l.2 1.1l1.4 .4l.2 .7l1.4 .2l1.2 .4l1.6 .9l2.3 0l-1.2 .7l.5 .9l-1 .4l.2 .7l-.5 .5l-1.1 .3l-.9-.7l-1.4-.5l-1.2-.9l-2-.4l-.2 .8l-.6 .7l.8 .6l.5 .6l.8 .6l1.4 .1l.5 .6l.9 .5l.2 .7l-.8 .5l-.4 .7l-1.1 .4l.9 .7l-.5 .7l-1.6 .2l-.2-.8l-1.2-.3l-.7-.5l-1-.3l-.5-.8l0-.7l-1.1-.2l-1-.2l-1.3-.1l-.9 .5l-.7-.6l-.8-.6l-1.7 0l-1.5-.4l-1.2 .2l-1.1-.2l-1.3-.2l-1.1 .4l-.9-.7l.1-.8l1.7-.2l1.3 .5l.8-.8l1.7-.1l-.1-.6l-.1-.5l1.1-.3l.7-.5l1.1-.7l.5-.8l-1.1-.4l-1.1-.3l-1.2-.5l.2-.7l-1-.8l-2.1-.2l-1.3-.4l-.2-.7l-1-.5l-.6-.7l.7-.5l-2.3 .3l-2.4 .2l-.9-.5l-1.7-.1l-1.6 .1l-1.3 .4l-2.1 .1l-1.8-.5l-2.6-.4l-1.3-1l-.4-.6l1.1-.5l.2-.7l-1.4-.4l.3-1.1l1-1l1.5-1l3.2 0l.2 1.1l1.3 1l2.8-.2l2 .8l.4-.7l1.1-.5l1.5-.6zM513 264.6l2.2-.3l1.7-.6l.8 .5l.8 .4l1.1 .6l.3 .8l1 .6l1.5 .1l.8 .5l0 .6l-2-.1l-1.9 .3l-1.1-.1l-1.1-.1l-1.3 .2l-.4 .6l-1.3-.5l-1.1-.6l.4-.8l1.2-.6l-1-.7zM519.3 269.2l1.2 0l1.1 0l.6 .9l1.8 .2l-2 .1l-1.9 .1l.2-.8zM523.5 270.1l.9 .3l.7 .5l-1.1 .8l.4-.9zM520.9 287.7l1.2 .1l1.1 .3l-.8 .3l-.7-.4zM524 281.4l1.6-.2l-.4 .7l-.1 .8l-.7-.6zM465.1 253l1.1-.6l1.8 .1l.9-.5l.3-.6l-1.3-.5l0-.6l.6-.6l.6-.5l1.6 .9l3.1 .2l1.9-.3l1.9 .4l1.9-.3l.5-.7l2.4 .2l2.4 .3l-.9 1l1.5 .9l0 1l.1 .9l.7 .8l.5 .9l1.8 .4l1.7 .4l-1 .7l-.5 .8l-1.5-.3l-1.7-.2l-1.7 .1l-1.4 .4l-1.4-.3l-1.6 .1l-.9 .6l-1.6 .2l-1.3 .3l-1.4-.2l-1.5-.3l-1.3 .4l-1.6-.1l-1.7-.1l-1.2-.6l-.2-.7l-.6-.9l-.2-.8l1.7 0l1.4-.4l1.7-.1l1.5 .3l-1-.7l-1.7-.3l-1.8-.4l-1.8 .4l-1.3-.7l-1.8-.6zM452.6 251.8l1.3-.8l.1-.9l-.3-1l2-.7l3-.3l.9-1l2.8 .1l2.7 .2l1 .9l2.2 .5l-1.4 .6l-1.8 .5l.3 .9l-.9 .8l-2.5 .3l-.8 .9l-2.7 .1l-2 .6l-2-.1l-1.9-.2l-1-.7zM465.1 243.6l2.2 0l2 .2l1.1-.5l1.8-.4l2.7-.3l2.8 .3l2.3 .8l3.2 .5l.8 1l-1.6 .9l-2.8 .1l-2.7 .1l-2.1 .8l-3.4 0l-1.7-.5l.2-.7l-2-.2l-2 0l0-1zM488.7 249.9l1.9-.1l1.4-.5l-.2-.7l.8-.6l2.1 .1l1.8 .3l-.3 1.1l1.9 .8l-1.7 .5l-.2 .8l-.9 .6l.4 .8l-1.2-.6l-1.9-.2l-1.4-.5l-1.7-.2l-1.6-.7zM499.7 251.8l-1.8-.6l-.4-.8l1.3-.7l1.2-.7l1.8-.6l1.8-.6l2.1 0l1.8 .4l1.4 .4l.5 .6l-.3 .6l-.8 .5l-2.7 .5l-1.2 1l-2.4 .2zM493.4 257.2l.2-.6l1.1-.4l2.6-.4l.5 .6l-.1 .6l1 .4l1.3 .2l-1.4 .3l-.5 .6l-1.7 .3l-1.4-.5l-1.1-.5zM498.1 245.2l2.2-.6l.3-.8l1.8-.6l2.8-.1l2.4-.1l1.5 .6l1.4-.4l2-.2l2.1 0l1.5 .4l2 .1l1.9 .2l1.1 .5l1.3 .4l2.2 .6l.2 .9l-1.1 .7l-2.1 .3l-2.8 .1l-2.3 .6l-3.1 .1l-2-.8l-3.1-.2l-3.1-.2l-1.7-.7l.9-.8l-3.2-.5zM485.5 244.2l.5-.7l1.8-.6l2.4 .2l2.4-.2l2.7 .3l1.2 .8l-1.9 1l.4 1.1l-2.3-.4l-2.5 .2l-2.2-.9zM498.1 245.3l2.2 0l1.7-.3l.4 .8l.4 .9l-2.1 .2l-1.8-.4l-.8-.6zM508.3 243.4l1.8-.6l1.3-.7l1.9-.6l2.8-.2l-2.7-.4l-1.2-.9l2.5-.6l3-.2l-2.5 .1l-2.1-.4l-.6-.7l-1.1-.7l2.9-.5l.3-1l-2.8 0l-2.1-.6l-1.5-.7l-2.3-.4l1.1-.6l2.2-.3l1.5-.5l2.3-.1l1.9 .4l2.2-.3l2 .3l2.1-.3l.6-.6l.3-.6l1.6-.5l1.9-.3l3.5 .2l3.6-.2l3.6 .2l3.4-.4l3.6 0l2.3 .9l3.4 0l3.3 .2l-2.1 .2l-.7 .6l-1.1 .5l-.1 .6l-1.5 .6l-1.2 .6l-2 .5l-2.3 .2l-1.1 1l-2.9 .6l-1.9 .2l-2.2 0l-2.1 .4l0 .7l1.3 .7l-.5 .8l-2.2 .1l-1.7 .5l.3 .7l-1.9 .4l0 .6l.7 .6l-3.1 .1l-2.4 .6l-2.7 .4l-2.8-.4l-1.9 .3l-2-.2l-1.9-.2zM498.9 236.6l0-.8l2.3-.5l1.2-.6l1.2-.6l2.6 .3l2.6-.3l2.2 .5l.4 .8l0 .6l-.2 .6l.4 .7l2.2 .2l-2 .9l.4 1l-2.2 .2l-2.2 .2l-2.3-.3l-1.1-.6l-1.8-.8l-2.9-.4l-.1-.6zM484 238.5l2.7-.1l2.8 0l.5-.9l2.6-.5l.3 .6l.9 .5l1.6 .5l-.4 .6l-.6 .9l-2.6 .5l-3.4-.2l-2.9-.6l.4-.8zM456.5 243.8l1.2-.5l1-.6l.8-.8l2.5-.2l2.8 0l2.7-.4l-.6 1.1l-1.8 .9l-2 .6l-2.7 .5l-1.8-.4zM523.2 248.6l2 .2l1.9 .2l1.5 .4l.9 .5l-1.3 .5l-1.8-.1l-1.6-.9zM516.2 347.4l.4-.4l.4-.3l.4-.4l.3-.5l.6-.3l.5-.3l.7-.1l.6-.1l.6-.1l.6 .1l.5-.1l.6 .2l.8 0l.8 .2l.6 .4l.6 0l.6 .4l.6 .3l.4 .3l.4 .4l.6 .1l.4 .3l.5 .4l.5 .4l.5 .2l.6 .3l.7 .6l.9 .2l.6 .5l.7 .4l-.7 .4l-.6 .3l-.6-.1l-.6 .1l-.6 0l-.6-.1l-1 0l-.9 .2l.4-.7l.4-.6l-.9-.2l-.8-.2l-.7-.7l-.4-.9l-.7-.1l-.5-.3l-.6-.2l-.6-.3l-.5 0l-.5-.2l-.5 0l-.5-.1l-.6-.4l-.5-.5l-.8 .4l-.8 .5l-.6 .1l-.7 .3l-.5 .1zM519.1 347.3l.8 .2l-.3 .6zM532.7 354.1l.8 0l.7 .3l.8-.1l.8 .2l.6 .5l.6 .4l.6-.4l.5-.6l.8-.1l.8-.1l.5 .1l.5-.2l.5 .1l.5 .2l.6-.8l-.5-.4l-.5-.3l-.7-.8l-.7-.6l-.9-.3l-.9 0l-.8-.1l-.7 .1l-.6 .1l-.5-.1l-.6 .2l-.5 0l.4 .5l.5 .4l.3 .7l.3 .6l-.8 .3l-.9-.2l-.8 .1zM526.6 354.2l.7-.1l.6-.3l1 .4l.9 .3l0 .5l-.7 0l-.7 .3l-.8-.4l-.8-.1zM544.1 354l.6 .1l.6 0l.6-.2l.6 .1l0 .8l-.6-.2l-.6 .1l-.6 .1l-.6 0zM552.4 368.7l.8-.1l.8-.1l0 .7l-.2 .6l-.6 .1l-.6-.1l-.2-.5zM526.5 341.2l1-.1l0 .8l.1 .9l-.8-.4l-.1-.6zM527.3 338.2l.7 .1l.7 .3l-.1 .9l-.4-.5l-.4-.4zM529 340.7l1 .4l.1 .9l-.5-.6zM531.4 343l.4 .9l.2 1l-.5-.8l-.1-.6zM533.9 348.9l.5-.1l.6-.1l-.3 .6zM552.6 358l.9 0l-.6 .8zM553.5 360.9l.6 .4zM553 359.5l.4 .2l-.1 .4zM553.7 362.6l.1 .4zM555.9 363.7l.4 .4zM548.5 368l.9-.2l-.3 .5zM541 365.5l.7 .6l-.4-.2zM505.8 389.7l.5-.3l.4-.3l.3 .8l0 .9l-.4 .1l-.5 .1l-.1-.7zM507.5 390.1l.5 0l-.2 .4zM404.6 351.4l.3-.9l.6 .3l.6 .5l.5 .6l-.6 .3l-.5 .5l-.7 0l-.1-.6zM403.6 349.3l.5 .1l.6-.1l-.6 .5zM401.1 348l.9 .1l-.3 .4zM398.8 347l.7-.1l-.3 .4zM547.8 327.5zM609.1 317l.9 0l-.4 .2zM604.5 315.5l1.1 .3l-.6 .1zM606.7 315.2l.4 0zM606.4 253.9l1.3-.5l1.9 0l-.3 .6l-.5 .7l-1.5 0l-1.3 .2zM611.1 250.1l3.2-.2l1.1 .7l-.8 .7l-1.9-.3l-2 .1zM609.6 249.2l2.3 0l1.9-.4l-.3 .9l-2.3-.3l-1.9 .5zM615.8 247.4l2.7-.5l-.3 .9zM607.2 252l1.9-.2l2-.2l.1 .7l-.8 .5l-1.7 .2l-1.8 0zM604.9 250.7l2-.1l1.9-.3l-.3 1l-2.1-.1zM613.5 244.4l3.2 .1l2.3-.7l-1.2 .5l-.4 .7l-2.1-.2zM616.6 240.8l1.7-.8l3 0l-.4 .7l-1.1 .6zM605.6 255.5l2.3-.5l2.5 .1l1.5 .7l-2.2 .6l-2.5-.2zM563.6 255.1l2.2 .1l2.2-.1l1.1 .7l-.8 .8l-1.6 .4l-1.9 0l-.2-1zM564 250.7l2.4-.6l-.4 .8l.1 .7l-1.5-.3zM561.7 253.2l2.1-.3l1.8-.5l-1 .7l.5 .8l-2.1 0zM565.6 264.2l1.2-.3l1.2-.2l-.2 .6l-.2 .7l-1.1-.3zM568.7 268l1-.6l1.4 .1l-.6 .5l.3 .6l-.9-.4zM560.9 248l2.3-.7l-1.3 .7l1 .8zM571.1 271.7l1.2-.3l1.2-.3l-.2 .7l-.2 .6l-1.3-.1zM577.7 273.8l.9-.5l1.1-.1l0 .6l-.3 .5l-.8-.3z"/>
<path d="M158.2 302.2l.7-.2l.5-.4l.6-.4l.5-.4l.8-.4l.8-.3l1.2-.3l1.2-.3l.8 0l.7 0l.8 0l.8 .2l.2 .5l.1 .6l-.4 .8l-.2 .8l-1 .3l-1 0l-.4 .7l-.1 .7l-.7 .2l-.7 .2l.4 .4l.5 .5l.2 .7l.4 .6l.9 .6l1 .2l.3 .9l0 1l.7-.1l.6-.3l.6 .1l.7 .1l.4 .5l.2 .7l-.6 .4l-.5 .5l-.8-.2l-.8 0l0 .9l-.1 .8l.4 .7l.5 .7l.3 .6l.1 .6l0 .6l.2 .7l0 .9l.2 1l-.8 .1l-.8 .2l-.8 .1l-.8 .3l-.8 0l-.7-.3l-.9-.5l-.7-.7l-.8-.1l-.5-.9l-.4-.9l.1-.8l-.1-.7l.8-.4l-.2-.8l0-.7l.8-.3l.8 0l-.7-.4l-.6-.3l-.4-.6l-.4-.7l-.5-.7l-.6-.6l-.5-.9l-.7-.9l.1-.7l-.1-.8l-.6-.7l-.7-.6l.5-1.1zM723.4 302.2l.7-.2l.5-.4l.6-.4l.5-.4l.8-.4l.8-.3l1.2-.3l1.2-.3l.8 0l.7 0l.8 0l.8 .2l.2 .5l.1 .6l-.4 .8l-.2 .8l-1 .3l-1 0l-.4 .7l-.1 .7l-.7 .2l-.7 .2l.4 .4l.5 .5l.2 .7l.4 .6l.9 .6l1 .2l.3 .9l0 1l.7-.1l.6-.3l.6 .1l.7 .1l.4 .5l.2 .7l-.6 .4l-.5 .5l-.8-.2l-.8 0l0 .9l-.1 .8l.4 .7l.5 .7l.3 .6l.1 .6l0 .6l.2 .7l0 .9l.2 1l-.8 .1l-.8 .2l-.8 .1l-.8 .3l-.8 0l-.7-.3l-.9-.5l-.7-.7l-.8-.1l-.5-.9l-.4-.9l.1-.8l-.1-.7l.8-.4l-.2-.8l0-.7l.8-.3l.8 0l-.7-.4l-.6-.3l-.4-.6l-.4-.7l-.5-.7l-.6-.6l-.5-.9l-.7-.9l.1-.7l-.1-.8l-.6-.7l-.7-.6l.5-1.1zM175.8 301.6l.9-.3l.8-.5l.9-.4l1-.3l.8 .1l.8 .2l-.3 .8l-.5 .6l0 .7l0 .8l-.5 .5l-.4 .4l-.4 .5l-.3 .5l-.8 .8l-.8 .1l-.8-.1l-.1-.9l-.2-.8l-.1-1l.1-.9zM741 301.6l.9-.3l.8-.5l.9-.4l1-.3l.8 .1l.8 .2l-.3 .8l-.5 .6l0 .7l0 .8l-.5 .5l-.4 .4l-.4 .5l-.3 .5l-.8 .8l-.8 .1l-.8-.1l-.1-.9l-.2-.8l-.1-1l.1-.9zM199.8 301.8l.7-.8l.9-.7l.8-.1l.7-.3l.8 0l.8 .2l.8 .2l.8 .1l.8 0l.7-.1l1.3-.2l-.5 .9l-.8 .2l-.8-.1l-.7-.1l-.8-.2l-.8 .2l-.8 0l-.8 .2l-.7 .2l-.8 .9l-.5 1l-.8-.4l-.3-.5zM247.4 290.7l.9-.1l.9-.1l1.2-.6l1.2-.5l.4-.5l.7-.4l.6-.4l.7-.4l.3-.7l.4-.7l.6-.6l.7-.5l.1-.6l.3-.5l.2-.6l.2-.6l-1 0l-.6 .6l-.4 .7l-.4 .7l-.4 .7l-.6 .5l-.9 .4l-.5 .5l-.4 .7l-.8 .2l-.6 .5l-.4 .5l-.6 .5l-.8 .3l-.9 .5zM134.2 389.7l.7-.4l.5-.6l.8 .1l.8-.3l.5 .6l.6 .4l-.1 .9l-.2 1l-.3 1l-.3 .9l-.6 .4l-.5 .4l-.8-.1l-.7-.1l-.1-1l-.3-.9l0-.6l-.1-.6l0-.6zM699.4 389.7l.7-.4l.5-.6l.8 .1l.8-.3l.5 .6l.6 .4l-.1 .9l-.2 1l-.3 1l-.3 .9l-.6 .4l-.5 .4l-.8-.1l-.7-.1l-.1-1l-.3-.9l0-.6l-.1-.6l0-.6zM130.4 395.6l.3 .4l.2 .6l.1 .6l.2 .5l.1 .6l0 .6l-.1 .7l-.2 .6l.2 .6l.3 .6l.3 .6l.5 .4l.2 .8l.1 .9l.5 .6l.3 .8l-1 0l-.3-.6l-.2-.7l-.2-.7l-.2-.7l-.2-.6l-.3-.6l-.2-.6l-.4-.5l-.1-.7l-.2-.7l0-.7l0-.7l.2-1.1zM695.6 395.6l.3 .4l.2 .6l.1 .6l.2 .5l.1 .6l0 .6l-.1 .7l-.2 .6l.2 .6l.3 .6l.3 .6l.5 .4l.2 .8l.1 .9l.5 .6l.3 .8l-1 0l-.3-.6l-.2-.7l-.2-.7l-.2-.7l-.2-.6l-.3-.6l-.2-.6l-.4-.5l-.1-.7l-.2-.7l0-.7l0-.7l.2-1.1zM137.8 407.4l.2 1l.6 .7l0 .8l.1 .7l.2 .7l.1 .7l.1 .7l.2 .7l.3 .7l.1 .7l0 .9l0 .9l-.8-.4l-.3-.8l-.1-.8l.1-.8l-.2-.9l-.1-.7l-.2-.7l-.2-.7l-.1-.7l-.1-.6l.1-.6l-.1-.5l-.1-.6zM703 407.4l.2 1l.6 .7l0 .8l.1 .7l.2 .7l.1 .7l.1 .7l.2 .7l.3 .7l.1 .7l0 .9l0 .9l-.8-.4l-.3-.8l-.1-.8l.1-.8l-.2-.9l-.1-.7l-.2-.7l-.2-.7l-.1-.7l-.1-.6l.1-.6l-.1-.5l-.1-.6zM105.6 364.3l.7-.5l.6-.6l.5 .3l.4 .4l-.4 .5l-.2 .7l-.6 .1l-.5-.1zM670.8 364.3l.7-.5l.6-.6l.5 .3l.4 .4l-.4 .5l-.2 .7l-.6 .1l-.5-.1zM131.5 274.7l1.6 .2l1.3 .1l1-.5l.9-.4l-.2-.7l-.2-.7l-.8-.5l-1.2-.2l-.8-.5l-.3 .8l-1.3 .3l-.5 .5l-.5 .6l.5 .5zM696.7 274.7l1.6 .2l1.3 .1l1-.5l.9-.4l-.2-.7l-.2-.7l-.8-.5l-1.2-.2l-.8-.5l-.3 .8l-1.3 .3l-.5 .5l-.5 .6l.5 .5zM138.3 272.8l1.8 .2l.5-.6l.6-.5l-.3-.9l-.8-.7l-1.4-.7l-.1 .8l-.2 .9l-.2 .7zM703.5 272.8l1.8 .2l.5-.6l.6-.5l-.3-.9l-.8-.7l-1.4-.7l-.1 .8l-.2 .9l-.2 .7zM103.9 277.6l1.2 .2l.3-.8l1-.4l-.8-.6l-1.1 .4l-.6 .5zM669.1 277.6l1.2 .2l.3-.8l1-.4l-.8-.6l-1.1 .4l-.6 .5zM505 300l1-.2l1-.1l.7 .7l1.2-.2l1-.5l.2-.6l.7-.4l1-.1l-.4 .6l-.6 .4l1 .2l.6 .6l.7 .3l.7-.3l1.1-.4l1.2 0l.7 .4l0-.9l-.6-.8l-.1-.9l-.9-.8l-.9-.7l-.8 .4l-.9-.1l-.8-.2l-.7-.5l.1 .6l-.4 .5l-.8 .4l-.9 .2l-.7 1l-.8-.1l-.6 .4l-.8 .7zM513 302l.8-.3l.8-.2l.8 .2l.7 .2l-.4 .7l-.3 .7l-1.1 .6l-.5 .9l0 1l.2 .5l.1 .6l0 .6l.2 .6l-.7 .6l-.4 .8l-1 .2l-.1-.8l-.3-.8l0-.8l-.2-.8l.2-.9l.4-1l-.8-.4l.2-.6l.5-.5l.4-.6zM516.6 301.8l1-.2l.9-.2l1.2-.3l1.2 .1l.8 .5l1-.1l.8 .6l.5 .7l-.1 .7l-.1 .7l-.9-.3l-.9 .1l-.4-.6l-.3-.7l-.2 .9l-.1 .9l0 .9l.3 .9l-.5 .3l-.6 .4l-.1-.8l-.2-.9l-1.1-.2l-.9 .6l.3-.6l0-.7l.2-.6l.4-.6l-.4-.5l-.5-.4l-.7-.3zM518.7 309.6l.6 .3l.8 .3l.6-.1l.6-.1l1-.5l.9-.5l.6-.4l.7-.2l.6-.4l.5-.5l-1 .2l-.9-.1l-1 .3l-1.1 0l-.7 .6l-.8 .5l-1 0zM524.3 306.5l1.3 .1l1.2 .2l1.1-.3l1-.3l1.1-.1l0-.7l-.2-.6l-.9 .3l-1 .2l-1.2 .1l-1.1 .2l-.8 .4zM455.7 264.8l1 .3l.8 .4l1-.3l1.1 0l1.2-.6l.9-.8l1.3-.6l1.3-.5l-1.3-.6l-1-.7l-1.3 .4l-1.5-.1l-.3 .8l-1.6 .2l-1.4 .6l-1.8 0l1.7 .5zM465.9 272.8l1.5 .3l1.7-.1l.7-.8l1.6 0l1.4-.3l1.3-.4l.9-.8l-.5-.9l1.6-.2l1.6-.2l-.7 .5l-1 .4l-1.1 .2l-1.1 .2l-1.5-.4l-1.7 0l-1.1 .2l-.9 .3l-.8 .4l-.3 .7l-1.1 .3zM494.5 286.9l.7-.3l.9-.1l-.1 .6l.5 .5l.5 .5l.1 .6l-.1 .6l.2 .6l.5 .5l.4 .5l.3 1.1l-.1 1l-1-.2l-.7-.4l-.5-.7l-.2-.7l.6-.7l-.8-.1l-.7-.5l-.5-.6l0-.7l.4-.7zM474.5 277.2l1.2-.1l.9-.4l.9-.5l1-.3l1.1-.1l1.2-.1l1.2 .2l1.2 0l-1.6 .3l-1.6 .4l-1.4 .1l-1.4 0l-1.2 .4zM488.7 280.4l.9-.9l.6-1l-1.1 0l-.5 .9zM537.3 262.7l1.6-.3l.8-.7l-.6 .6l-.2 .6zM539.7 418.5l.6 0l.5 .3l.6 .8l.3 1l-.6-.3l-.6-.3l-.3-.9zM514.6 366.2l.5 .2l.6 0l.2 .7l.4 .6l-.6-.1l-.5-.2l-.3-.6zM536.7 369.1l.6-.1l.5 .1l.3 .9l0 1l-.6 .4l-.6 .2l-.2-.7l-.1-.7l0-.6z"/>
<path d="M80.9 322.2l.7 1.1l.1 1.9l.7 1.9l-1.9 .8l-1.8 .8l-.1 1.5l-.9 1l-1.1 .7l-1.2 .4l-1.2 .4l-1.2 .6l-1.2 .5l-1 .6l0 1.9M646.1 322.2l.7 1.1l.1 1.9l.7 1.9l-1.9 .8l-1.8 .8l-.1 1.5l-.9 1l-1.1 .7l-1.2 .4l-1.2 .4l-1.2 .6l-1.2 .5l-1 .6l0 1.9M70.8 336.3l-1.8 .4l-1.8-.4l-1.7 .3l-1.8-.3M636 336.3l-1.8 .4l-1.8-.4l-1.7 .3l-1.8-.3M70.8 336.3l.1 1.6l-.1 1.6l-1.3 .1l-1.3 .4l-1.3-.4l-1.3-.1l-.2 1.3l-.2 1.2l.2 1.2l.2 1.2l-1.6 .9l0 1.5l-.2 1.6l-1.5-.1l-1.5 .1l-1.5-.1l-1.5 .1M636 336.3l.1 1.6l-.1 1.6l-1.3 .1l-1.3 .4l-1.3-.4l-1.3-.1l-.2 1.3l-.2 1.2l.2 1.2l.2 1.2l-1.6 .9l0 1.5l-.2 1.6l-1.5-.1l-1.5 .1l-1.5-.1l-1.5 .1M70.8 337.1l1.6 .9l1.4 1.2l1.5 1.1l1.5 1.1l2 2.4l2.2 2.2l2.4 1.9l2.8 1l.1 .7l1.6 .8l1.5 1l.2 1.5l1.5-.3M636 337.1l1.6 .9l1.4 1.2l1.5 1.1l1.5 1.1l2 2.4l2.2 2.2l2.4 1.9l2.8 1l.1 .7l1.6 .8l1.5 1l.2 1.5l1.5-.3M91.1 352.6l1.2-.3l1.2-.4l1.5-1.1l1.2-1.5l1.6-1.5l1.9-1.1l1.9-.9l1.6-1.5M656.3 352.6l1.2-.3l1.2-.4l1.5-1.1l1.2-1.5l1.6-1.5l1.9-1.1l1.9-.9l1.6-1.5M103.2 344.3l-.6-1.5l-1-.5l-1-.1l-.9-1.6l-.4-1.8l.2-1.3l.4-1.2l.2-1.2l-.1-1.3l-.4-1.1l-.3-1.2M668.4 344.3l-.6-1.5l-1-.5l-1-.1l-.9-1.6l-.4-1.8l.2-1.3l.4-1.2l.2-1.2l-.1-1.3l-.4-1.1l-.3-1.2M99.3 331.5l.5-1.5l.8-1.3l.4-.6l1.5-.8l0-1.4M664.5 331.5l.5-1.5l.8-1.3l.4-.6l1.5-.8l0-1.4M99.3 331.5l-.6-1.7l-.2-1.9l-1.1-.8l-.6-1.2l-.6-1.2l1.1-1.8l.1-1.9l-.1-1.5l.6-.7M664.5 331.5l-.6-1.7l-.2-1.9l-1.1-.8l-.6-1.2l-.6-1.2l1.1-1.8l.1-1.9l-.1-1.5l.6-.7M123.9 328.9l-.3 1.3l-.4 1.3l.5 1.9l0 3.5l0 3.4l0 3.4l0 3.5M689.1 328.9l-.3 1.3l-.4 1.3l.5 1.9l0 3.5l0 3.4l0 3.4l0 3.5M123.7 347.2l4.6 0l4.7 0l4.7 0l4.6 0M688.9 347.2l4.6 0l4.7 0l4.7 0l4.6 0M123.7 347.2l-.1 1.9l.1 1.9l-1.6 0l0 .9M688.9 347.2l-.1 1.9l.1 1.9l-1.6 0l0 .9M122.1 351.9l-2.9-2.4l-3-2.2l-3.3-1.7l-3.4-1.2l-1.5 .9M687.3 351.9l-2.9-2.4l-3-2.2l-3.3-1.7l-3.4-1.2l-1.6 .9M108 345.3l-1.3 .7l-1.1-1.1l-1.2-.2l-1.2-.4M673.1 345.3l-1.2 .7l-1.1-1.1l-1.2-.2l-1.2-.4M108 345.3l.2 1.2l0 1.3l.4 1.2l.3 1.2l0 1.7l-.6 1.6l0 1.7l.4 1.7l-.8 1.1l-.9 1.2l-.7 1.9l-.5 1.9M673.1 345.3l.3 1.2l0 1.3l.4 1.2l.3 1.2l0 1.7l-.6 1.6l0 1.7l.4 1.7l-.8 1.1l-.9 1.2l-.7 1.9l-.5 1.9M122.1 351.9l-.3 1.8l.3 1.8l.2 1.9l-.2 1.8l-1.7 .2l-.2 1.3l-.5 1.3l-.1 1.2l-.5 1.1l.6 1.4l.2 1.5l.4 1.1M687.3 351.9l-.3 1.8l.3 1.8l.2 1.9l-.2 1.8l-1.7 .2l-.2 1.3l-.5 1.3l-.1 1.2l-.5 1.1l.6 1.4l.2 1.5l.4 1.1M120.3 368.3l-1.8 .6l-.8 1.7l-1.3 1.2l-1.1 .2l-1.1-.1l-.6 1.9l-1.7 .2l-1.6 .4l-1.6 .4M685.5 368.3l-1.8 .6l-.8 1.7l-1.3 1.2l-1.1 .2l-1.1-.1l-.6 1.9l-1.7 .2l-1.6 .4l-1.6 .4M108.7 374.8l-.4-1.9l-1.1-1.1l-.8-1.4l1.7-.4l.6 0l-.7-1.9l0-1.9l-.8-1.5l-.7-.6M673.9 374.8l-.4-1.9l-1.1-1.1l-.8-1.4l1.7-.4l.6 0l-.8-1.9l0-1.9l-.7-1.5l-.7-.6M105.8 363l-.9 .5l-.9 .6l-1 .1l-.9-.3l-1 .1l-1-.3l-1.6-.3l-1.5 .3l-1.6 .6l-1.3-.7l-1.1-1l-1 .5l-1.2 .3l-.4 1.7l-.3 1.7M671 363l-.9 .5l-.9 .6l-1 .1l-.9-.3l-1 .1l-1-.3l-1.6-.3l-1.5 .3l-1.6 .6l-1.3-.7l-1.1-1l-1 .5l-1.2 .3l-.4 1.7l-.3 1.7M106.5 364.1l.2 1.4l.6 1.7l-1.2 .9l-1 1.9l-.4 1.1l-.2 1.2l-.4 1.4l-.9 1.1l-.7 1.7l-1.6-.7l-1.1 .3l-.9 .7l-.5 1.1l-.5 2M671.7 364.1l.2 1.4l.6 1.7l-1.2 .9l-1 1.9l-.4 1.1l-.2 1.2l-.4 1.4l-.9 1.1l-.7 1.7l-1.6-.7l-1.1 .3l-.9 .7l-.5 1.1l-.5 2M90.1 366.8l.1 1.1l.2 1.2l-.7 1.5l-.9 1.3l-.2 2.1l-.2 1.5l.2 1.4M655.3 366.8l.1 1.1l.2 1.2l-.7 1.5l-.9 1.3l-.2 2.1l-.2 1.5l.2 1.4M86.9 377.3l.4-1.3l0-1.4l-.2-1.3l-.2-1.4l-.3-1.7l-.9-.9l.1-1.2M652.1 377.3l.4-1.3l0-1.4l-.2-1.3l-.2-1.4l-.3-1.7l-.9-.9l.1-1.2M86.3 377.5l-1-1.7l0-1.3l-.1-1.2l.1-1.2l-.3-1.1l-.6-2.1l-.2-1M651.5 377.5l-1-1.7l0-1.3l-.1-1.2l.1-1.2l-.3-1.1l-.6-2.1l-.2-1M79.5 379.4l.1-1.4l.4-1.3l-.6-1.9l1.1-1.3l-.3-1.3l0-1.2M644.7 379.4l.1-1.4l.4-1.3l-.6-1.9l1.1-1.3l-.3-1.3l0-1.2M80 370.8l-.2-1.3l.2-1.4l1.8 .2l1.8-.2l.6-.2M645.2 370.8l-.2-1.3l.2-1.4l1.8 .2l1.8-.2l.6-.2M84.2 367.9l1.6 .2l.8-.7l.9 0l.7-1M649.4 367.9l1.6 .2l.8-.7l.9 0l.7-1M88.2 366.4l.8-.7l1.1 1.1M653.4 366.4l.8-.7l1.1 1.1M88.2 366.4l-.5-1.5l-1.7-.6l-1-1.9l-.2-1.7M653.4 366.4l-.5-1.5l-1.7-.6l-1-1.9l-.2-1.7M84.8 360.7l-1.5-.4l-1 .9l-1 .8l-1.6 1l-1.6 .7l-.6 1.4l-1.4 1.5l-.1 1.3l-.2 1.4M650 360.7l-1.5-.4l-1 .9l-1 .8l-1.6 1l-1.6 .7l-.6 1.4l-1.4 1.5l-.1 1.3l-.2 1.4M75.8 369.3l1.4 1.3l1.1-.4l1.1 0l.6 .6M641 369.3l1.4 1.3l1.1-.4l1.1 0l.6 .6M84.8 360.7l1.6-.8l1.8 0l1.7-.2l.6-1l.5-1.1l.1-1.2l0-1.3l-.2-1.2l.2-1.3M650 360.7l1.6-.8l1.8 0l1.7-.2l.6-1l.5-1.1l.1-1.2l0-1.3l-.2-1.2l.2-1.3M76.8 341.4l-1.3 .1l-1.3-.1l1.4 3.9l0 4.2l.5 4.1l-.5 4l.2 1.9l-1.5 .2l-1.5-.2l-1.5 0l-1.5 0l-1.1 .3l-1.1-.1l-1.3-.3l-1.1 1.6M642 341.4l-1.3 .1l-1.3-.1l1.4 3.9l0 4.2l.5 4.1l-.5 4l.2 1.9l-1.5 .2l-1.5-.2l-1.5 0l-1.5 0l-1.1 .3l-1.1-.1l-1.3-.3l-1.1 1.6M630.4 361l-1.2-1.5l-.9-.8l-.7-1.1l-1.6-.2l-1.5 .2l-.8 1M630.4 361l.4 2l.9 1.5l0 1M631.7 365.5l-1.8-.2l-1.8-.3l-1-.2l-1.1 .2l-1.3 .1l-1.3 .5M623.2 363.2l1.1-.3l1.1-.1l1.1 .2l1.1 .3l-1.6 .6l-1.3 .2l-1.3 0M628.1 365l0 1.8l-1.6 .4l-.5 1.1M66.5 365.5l1.1 .1l1.1 .2l1.6-.3l.4 1l.7 .9l.2 1.1l.2 1.2M631.7 365.5l1.1 .1l1.1 .2l1.6-.3l.4 1l.7 .9l.2 1.1l.2 1.2M71.8 369.7l.7 1.5l-1 1.7l-.4 1.8M637 369.7l.7 1.5l-1 1.7l-.4 1.8M628.7 371.8l1.3-1.6l1 .1l1-.3l.8 1.4l.6 1.5M68.2 372.9l1.3 .2l.1 1.9l1.5-.3M633.4 372.9l1.3 .2l.1 1.9l1.5-.3M633.4 372.9l-.6 1.5l-1.3 1.5M71.1 374.7l0 2l.8 .6l.7 .7l-.2 1.4l.1 1.3M636.3 374.7l0 2l.8 .6l.7 .7l-.2 1.4l.1 1.3M71.8 369.7l1.6-.3l1.6 .3l.8-.4M637 369.7l1.6-.3l1.6 .3l.8-.4M108.7 374.8l-.6 1.5l-.9 1.4l.1 1.9l.8 .8l.6 1.1l.7 1.6l.4 1.8M673.9 374.8l-.6 1.5l-.9 1.4l.1 1.9l.8 .8l.6 1.1l.7 1.6l.4 1.8M109.8 384.9l-1.1 .4l-1.1 .1l-1.2-.1l-1.1-.4l-1.6-.1l-1.6 .1l-1.1 .1l-1.2-.3M675 384.9l-1.1 .4l-1.1 .1l-1.2-.1l-1.1-.4l-1.6-.1l-1.6 .1l-1.1 .1l-1.2-.3M102.1 384.9l.2 1.1l-.2 1.2l-1.1 .2l-1.2-.2M667.3 384.9l.2 1.1l-.2 1.2l-1.1 .2l-1.2-.2M105.3 384.9l.8 .9l1.1 .6l-.8 1.7l.8 2l-.3 1.3l.1 1.3l-1 .7l-1.2 .3l-.8 1.1l-1.1 1.2l-1.1 .6M670.5 384.9l.8 .9l1.1 .6l-.8 1.7l.8 2l-.3 1.3l.1 1.3l-1 .7l-1.2 .3l-.8 1.1l-1.1 1.2l-1.1 .6M109.8 384.9l.5-1.2l.2-1.3l1.5 .3l1.6-.3M675 384.9l.5-1.2l.2-1.3l1.5 .3l1.6-.3M113.6 382.4l-.4 1.5l-.4 1.4l-.3 1.4l-.2 1.4l-.1 2l-1.4 1.3l-1 1.9l-.3 1.2l0 1.3l-1.1 1.5l-1.4 1.1l-1.6 0l-.4-.5l-.5-.4l-.9 1.1l0 1.5M678.8 382.4l-.4 1.5l-.4 1.4l-.3 1.4l-.2 1.4l-.1 2l-1.4 1.3l-1 1.9l-.3 1.2l0 1.3l-1.1 1.5l-1.4 1.1l-1.6 0l-.4-.5l-.5-.4l-.9 1.1l0 1.5M113.6 382.4l0-1.7l1.4-1.3l1.1 1l1.3 .5l1.1 .2l1.2 .2l1.6-1.2l1.6-.7l1.5-.4l1.6 0l1.4 .5M678.8 382.4l0-1.7l1.4-1.3l1.1 1l1.3 .5l1.1 .2l1.2 .2l1.6-1.2l1.6-.7l1.5-.4l1.6 0l1.4 .5M127.4 379.5l-.7-.9l-.7-.9l-1-1.8l-1-1.7l-.9-.9l-1-.8l-.8-1.5l-.6-1.3l-.4-1.4M692.6 379.5l-.7-.9l-.7-.9l-1-1.8l-1-1.7l-.9-.9l-1-.8l-.8-1.5l-.6-1.3l-.4-1.4M127.4 379.5l.7 .8l.9 .6l1.7-.6l1.1 1.1l1 1M692.6 379.5l.7 .8l.9 .6l1.7-.6l1.1 1.1l1 1M132.8 382.4l1.8-.2l1.2 0l1.2-.3l.8-.8M698 382.4l1.8-.2l1.2 0l1.2-.3l.8-.8M137.8 381.1l1.4-.7l1.6-.1M703 381.1l1.4-.7l1.6-.1M140.8 380.3l-.9-.7l-.5-1l-.7-1.3l-.9-1l-.8-1l-.8-1.1l1.4-1.1l.3-2.1l.4-2.1l1.1-.8l.4-1.6l.8-1.4l.6-1.7l.5-1.6l-.2-1.7l.3-1.8l.7-1.6l1.1-1.2l1.4-.7M706 380.3l-.9-.7l-.6-1l-.6-1.3l-.9-1l-.8-1l-.8-1.1l1.4-1.1l.3-2.1l.4-2.1l1-.8l.5-1.6l.8-1.4l.6-1.7l.5-1.6l-.2-1.7l.3-1.8l.7-1.6l1.1-1.2l1.4-.7M140.8 380.3l1.7 .4l1 .6l.7 .9l1.1 .2l1.1 .2l1.1-.7l1-.8l1.7 .5M706 380.3l1.7 .4l1 .6l.7 .9l1.1 .2l1.1 .2l1.1-.7l1-.8l1.7 .5M150.2 381.6l-.9 .9l-.5 1.3l0 1.3l-.4 1.3l.4 1.3l0 1.4l0 1.7l.8 1.4M715.4 381.6l-.9 .9l-.5 1.3l0 1.3l-.4 1.3l.4 1.3l0 1.4l0 1.7l.8 1.4M150.2 381.6l.8-.8l.9-.5l1.6 0l1.6-.7l1.3-1.3l1-1.7l1-1.6l1.4-1.2l-1.6 0l-1.3 0l-1.2-.5l-1.2-.5l-1-.9l-.9-.9l-.7-1l-.3-1.7M715.4 381.6l.8-.8l.9-.5l1.6 0l1.5-.7l1.4-1.3l1-1.7l1-1.6l1.4-1.2l-1.6 0l-1.3 0l-1.2-.5l-1.2-.5l-1-.9l-.9-.9l-.7-1l-.3-1.7M152.3 367.3l-.7 1l-1.6-.2l0-1.5l1-1.1l1.1-.6M717.5 367.3l-.7 1l-1.6-.2l0-1.5l1-1.1l1.1-.6M137.8 381.1l.6 1.1l.4 1.1l.4 1l-.3 1.4l-.3 1.3l-.8 1.5l-.1 1.3l-.1 1.2M703 381.1l.6 1.1l.4 1.1l.4 1l-.3 1.4l-.3 1.3l-.8 1.5l-.1 1.3l-.1 1.2M137.6 391l1.3 1.3l1.4 1.2l1.5 1l1.6 .3l.2 1l1.3 .9l1 1.3M702.8 391l1.3 1.3l1.4 1.2l1.5 1l1.6 .3l.2 1l1.3 .9l1 1.3M137.6 391l-1.3-.1l-1.3 .5l-1.4-.1l-1.3-.2M702.8 391l-1.3-.1l-1.3 .5l-1.4-.1l-1.3-.2M132.8 382.4l0 2.1l.7 .5l-.6 .9l-.6 .9l-1 1.2l-.4 1l0 1.2l0 1.6M698 382.4l0 2.1l.7 .5l-.6 .9l-.6 .9l-1 1.2l-.4 1l0 1.2l0 1.6M130.9 391.8l1.4-.7l.1 1.2l.4 1.2l-.5 .2l-1-.1l-.7 .8l-.7-.2l.3-2l.7-.4M696.1 391.8l1.4-.7l.1 1.2l.4 1.2l-.5 .2l-1-.1l-.7 .8l-.7-.2l.3-2l.7-.4M132.3 393.7l.5 1.7l-.7 1.1l-.6 1.1l-.9 0l-.4-2.2l-.3-1.2M697.5 393.7l.5 1.7l-.7 1.1l-.6 1.1l-.9 0l-.4-2.2l-.3-1.2M133.1 405.5l1.5 .9l1.5 .6l1.7 .4M698.3 405.5l1.5 .9l1.5 .6l1.7 .4M138.7 411.2l1.9 0l1.1 .2l1.1-.6l1.3-.2l1.1-.4l1.2-.3l1.5-.8M703.9 411.2l1.9 0l1.1 .2l1.1-.6l1.3-.2l1.1-.4l1.2-.3l1.5-.8M136.2 407.2l.1 1.3l.4 1.2l-.2 1.1l-.3 1.2l-.3 1.5l-.2 1.5l.8 .8M701.4 407.2l.1 1.3l.4 1.2l-.2 1.1l-.3 1.2l-.3 1.5l-.2 1.5l.8 .8M136.5 415.8l.9 .5l1 .3l0 1.3l-.1 1.3l.5 1.4l.9 1.1l.3-1.2l.8-.9l0-1.2l-.2-1.3l-.6-1.2l-.8-1.1l-.1-1.8l-.4-1.8M701.7 415.8l.9 .5l1 .3l0 1.3l-.1 1.3l.5 1.4l.9 1.1l.3-1.2l.8-.9l0-1.2l-.2-1.3l-.6-1.2l-.8-1.1l-.1-1.8l-.4-1.8M133.1 405.5l-1.7-.2l-1.6 0l-.8 1.5l.1 1.2l.2 1.1l-.1 1.3l-.2 1.2l1.1 .4l1.1 .4l0 1.1l0 1.1l-1.3 0l-.9-1.7l-.9-.9l-1-.8l-1.4-.1l-1.4-.5l-1.6 0l-.6-.7M698.3 405.5l-1.7-.2l-1.6 0l-.8 1.5l.1 1.2l.2 1.1l-.1 1.3l-.2 1.2l1.1 .4l1.1 .4l0 1.1l0 1.1l-1.3 0l-.9-1.7l-.9-.9l-1-.8l-1.4-.1l-1.4-.5l-1.6 0l-.6-.7M122.1 409.9l-1.4 .1l-1.4 .3l-.1-1.6l-.3-1.5l-.2-2.1l-.1-2.1l-1.8-.2l-1.8-.4l-.8 2l-1.1 .3l-1.2-.2l-.7-2.1l-.7-2.1l-1.5 0l-1.4 0l-1.4 0l-1.4 0l-1.1 .2M687.3 409.9l-1.4 .1l-1.4 .3l-.1-1.6l-.3-1.5l-.2-2.1l-.1-2.1l-1.8-.2l-1.8-.4l-.8 2l-1.1 .3l-1.2-.2l-.7-2.1l-.7-2.1l-1.5 0l-1.4 0l-1.4 0l-1.4 0l-1.1 .2M122.1 409.9l0 2l0 2l-1.6-.2l-1.6 .2l-.1 1.5l.1 1.5l-.1 1.6l.1 1.5l.9 1.5l1.3 1.2M687.3 409.9l0 2l0 2l-1.6-.2l-1.6 .2l-.1 1.5l.1 1.5l-.1 1.6l.1 1.5l.9 1.5l1.3 1.2M102.8 422l1.1-.1l.9-.4l1.6 .8l1.7 .4l1.8-.4l1.8 .1l1.7-.1l1.1-.1l1 .1l.9 .5l1 .4l1.9 0l1.8-.5l1.5 .4l1.4-.1M668 422l1.1-.1l.9-.4l1.6 .8l1.7 .4l1.8-.4l1.8 .1l1.7-.1l1.1-.1l1 .1l.9 .5l1 .4l1.9 0l1.8-.5l1.5 .4l1.4-.1M117.4 424l1.9 0l2 .4l1.6-1l1.1-.4M682.6 424l1.9 0l2 .4l1.6-1l1.1-.4M124 423l1.4 .2l1.4 .2l.9-1.1l.7-1.4l.8-.6l.7-.9l1.2-.1l1-.5M689.2 423l1.4 .2l1.4 .2l.9-1.1l.7-1.4l.8-.6l.7-.9l1.2-.1l1-.5M132.1 418.8l-.3-1.5l1.1-.6l1.3-.1l1.1-.5l1.2-.3M697.3 418.8l-.3-1.5l1.1-.6l1.3-.1l1.1-.5l1.2-.3M132.1 418.8l1.4 .8l1.3 .7l1.3 .6l-.2 1.3l.3 1.2l-.3 1.4l0 1.5l0 1.7l-.5 1.7l-.9 1.1l-1 1M697.3 418.8l1.4 .8l1.3 .7l1.3 .6l-.2 1.3l.3 1.2l-.3 1.4l0 1.5l0 1.7l-.5 1.7l-.9 1.1l-1 1M124 423l.5 1.3l.7 1l1.4 1.3l1 1.6l.8 2.1l1.1 .4l1.1 .7l1.5 .2l1.4 .2M689.2 423l.5 1.3l.7 1l1.4 1.3l1 1.6l.8 2.1l1.1 .4l1.1 .7l1.5 .2l1.4 .2M117.4 423.2l-.2 2l.2 1.9l0 2l0 1.9l-1.6 0l.2 1.4l-.2 1.3l.2 1.3l-.2 1.4l-.2 2l.2 2l0 2l0 2M682.6 423.2l-.2 2l.2 1.9l0 2l0 1.9l-1.6 0l.2 1.4l-.2 1.3l.2 1.3l-.2 1.4l-.2 2l.2 2l0 2l0 2M115.8 436.4l.7 2l.6 2l.8-.7l1-.5l.8-.9l.8-1l2-.1l1.9 .7l1.2-1.8l1-1.8l1-1.2l1.2-.9l1.8-.8M681 436.4l.7 2l.6 2l.8-.7l1-.5l.8-.9l.8-1l2-.1l1.9 .7l1.2-1.8l1-1.8l1-1.2l1.2-.9l1.8-.8M133.5 431.8l.4 2.1l.7 1.9l0 1.3l-.1 1.4l.3 1.7l1.3 .1M698.7 431.8l.4 2.1l.7 1.9l0 1.3l-.1 1.4l.3 1.7l1.3 .1M134.5 438.5l-.8-.4l-.9 1.1l.3 1.9l1.7-.9M699.7 438.5l-.8-.4l-.9 1.1l.3 1.9l1.7-.9M138.2 329.4l.5 1.8l.5 1.7M703.4 329.4l.5 1.8l.5 1.7M139.3 332.9l.7-1.9l.1-2l.1-1.7l.2-.5M704.5 332.9l.7-1.9l.1-2l.1-1.7l.2-.5M139.5 326l.9-.4l0 1.2M704.7 326l.9-.4l0 1.2M140.4 325.6l1.1-1.3l.2-1.2l-.9-.1M705.6 325.6l1.1-1.3l.2-1.2l-.9-.1M140.4 326.8l1.8 .7l1.6-.9l1.5-1.2M705.6 326.8l1.8 .7l1.6-.9l1.5-1.2M145.3 325.4l1.7-1.1l1.8-.8l.4-1.9l0-1.9l1.7-1.3M710.5 325.4l1.7-1.1l1.8-.8l.4-1.9l0-1.9l1.7-1.3M140.8 320.6l1.2-1.7l1.3 .3l1.9 0l2-.3l1.8-.4l1.9-.1M706 320.6l1.2-1.7l1.3 .3l1.9 0l2-.3l1.8-.4l1.9-.1M150.9 318.4l1.9-.3l1.9 .2M716.1 318.4l1.9-.3l1.9 .2M154.7 318.3l-.3-1.2l-.3-1.2l-.6-1.9l1.2-.6M719.9 318.3l-.3-1.2l-.3-1.2l-.6-1.9l1.2-.6M154.7 313.4l-1.8-.8l-.2-1.9l-1.6-.7l-1.5-.1M719.9 313.4l-1.8-.8l-.2-1.9l-1.6-.7l-1.5-.1M154.7 313.4l1.3 .9l1.4 .6l1.1-.6l1.3-.5l.9 2l.5 .1M719.9 313.4l1.3 .9l1.4 .6l1.1-.6l1.3-.5l.9 2l.5 .1M169 317.9l1.3-.6l1.2-.6l1.4-.2l1.3-.2l1.3 .5l1.2 .6l1.9 1l1.9 .9l0 1.9M734.2 317.9l1.3-.6l1.2-.6l1.4-.2l1.3-.2l1.3 .5l1.2 .6l1.9 1l1.9 .9l0 1.9M180.5 321.2l2 .6l1.6-1l1.6-.9l1.7-.7l1.4-1.3l1.2 .1l1.2 .6l2-.3l1.4-.9l1-1.5l.7 .9l.2 1.2l.3 1.1l1.1-.6l1.1-.5l1.5 .2l1.5-.1M745.7 321.2l2 .6l1.6-1l1.6-.9l1.7-.7l1.4-1.3l1.2 .1l1.2 .6l2-.3l1.4-.9l1-1.5l.7 .9l.2 1.2l.3 1.1l1.1-.6l1.1-.5l1.5 .2l1.5-.1M180.5 321.2l-.7 1.2l-.3 1.3l.5 1.5l-.5 1l.1 1.4l.4 1.4l1.4 .2l-.8 1.4l-.6 1.6M745.7 321.2l-.7 1.2l-.3 1.3l.5 1.5l-.5 1l.1 1.4l.4 1.4l1.4 .2l-.8 1.4l-.6 1.6M180 332.2l.7 1l.6 1l1.7 1.1l0 1.9l.8 1.2l-1.1 .5l-1.3 .2l-.3 2M745.2 332.2l.7 1l.6 1l1.7 1.1l0 1.9l.8 1.2l-1.1 .5l-1.3 .2l-.3 2M180 332.2l1.2 .7l1.3 .1l1.2 0l1.2 0l1.8-.5l1.8-.3l.4-1.3l.2-1.3l2.1-.7l2-.6l.3-2.1l1.3-.6l-.5-1.3l1.7-.2l.8-2.1l0-2.3l2.2-.8l1.5-.2l1.5-.1l0-.5M745.2 332.2l1.2 .7l1.3 .1l1.2 0l1.2 0l1.8-.5l1.8-.3l.4-1.3l.2-1.3l2.1-.7l2-.6l.3-2.1l1.3-.6l-.5-1.3l1.7-.2l.8-2.1l0-2.3l2.2-.8l1.5-.2l1.5-.1l0-.5M154.7 318.3l.6 1.1l.4 1.3l1.2 1.5l-.7 .9l-.5 1.2l.6 .9l.6 1l1.3 .8l1.1 1.1l0 1.9l.5 1l.7 1M719.9 318.3l.6 1.1l.4 1.3l1.2 1.5l-.7 .9l-.5 1.2l.6 .9l.6 1l1.3 .8l1.1 1.1l0 1.9l.5 1l.7 1M157.5 333.6l.8-.8l.5-1.1l1 .2M722.7 333.6l.8-.8l.5-1.1l1 .2M157.5 333.6l-1.5-.1l-1.4-.1l-1.2-.6l-.9-1.1l-1-.9l-1-1l-1.3-.9l-1.4-.6l-1.9-.5M722.7 333.6l-1.5-.1l-1.4-.1l-1.2-.6l-.9-1.1l-1-.9l-1-1l-1.3-.9l-1.4-.6l-1.9-.5M145.9 327.8l-.4-1.2l-.2-1.2M711.1 327.8l-.4-1.2l-.2-1.2M145.9 327.8l-1.7 .5l-1.7 .7l.7 1l.9 1l-.8 .9l-1.1 .9l-1.3 .6l-1.6-.3M711.1 327.8l-1.7 .5l-1.7 .7l.7 1l.9 1l-.8 .9l-1.1 .9l-1.3 .6l-1.6-.3M157.5 333.6l1.5 .2l1.4 .9M722.7 333.6l1.5 .2l1.4 .9M166 352.9l.6 1l.5 1.1l.3 1.2l.4 1.2M731.2 352.9l.6 1l.5 1.1l.3 1.2l.4 1.2M70.5 309.2l1-.4l2.5 .3l.7 .7l-1.1 1.1l-.3 1.3l.1 1.2l-.8 .1l.8 1.4l-.5 1l.5 .8l-.8 .9l.2 .6M635.7 309.2l1-.4l2.5 .3l.7 .7l-1.1 1.1l-.3 1.3l.1 1.2l-.8 .1l.8 1.4l-.5 1l.5 .8l-.8 .9l.2 .6M81.6 306.5l.6 .6l1.4 .4l1.9 0l1.6 .6l2.2 .1M646.8 306.5l.6 .6l1.4 .4l1.9 0l1.6 .6l2.2 .1M96.2 305.6l.3-.8l-1.3-.3l.2-1.6l-.3-1.1M661.4 305.6l.3-.8l-1.3-.3l.2-1.6l-.3-1.1M95.4 301.6l-.3-1l-1.1 .4l0-.7l1.4-1.6l.9-.3M660.6 301.6l-.3-1l-1.1 .4l0-.7l1.4-1.6l.9-.3M95.4 301.6l1.4-.1l.9-.9l.8 1.1l.5-1.2l1.3 .3l.5-1M660.6 301.6l1.4-.1l.9-.9l.8 1.1l.5-1.2l1.3 .3l.5-1M96.3 298.4l1.6-.3l1.5 .3l.1 1l1.3 .4M661.5 298.4l1.6-.3l1.5 .3l.1 1l1.3 .4M96.3 298.4l0-1.2l1-1.5l-1.5-.4l-1.4-.5M661.5 298.4l0-1.2l1-1.5l-1.5-.4l-1.4-.5M94.4 294.8l-.9-.2l-1.6-.8l-1.1-.6l-1.4-.9l-1-.6M659.6 294.8l-.9-.2l-1.6-.8l-1.1-.6l-1.4-.9l-1-.6M89.7 291.2l1.5 0l1-.2l1.3 .6l-.2 .6l.5 .1M654.9 291.2l1.5 0l1.1-.2l1.2 .6l-.2 .6l.5 .1M93.8 292.3l.5 .9l-.3 .4l.6 .6l-.2 .6M659 292.3l.5 .9l-.3 .4l.6 .6l-.2 .6M94 293.6l-.5 .4l0 .6M659.2 293.6l-.5 .4l0 .6M93.8 292.3l.2-1.6l1.1-.5l.3-.8l.1-.6l.2-1.2M659 292.3l.2-1.6l1.1-.5l.3-.8l.1-.6l.2-1.2M101.5 286.2l-.1 1.3l1.2 .6l-1.1 1.9l-1.4 1.1l0 1.5l2.8 .4l.5 .2M666.7 286.2l-.1 1.3l1.2 .6l-1.1 1.9l-1.4 1.1l0 1.5l2.8 .4l.5 .2M98 284.4l1.2 .2M663.2 284.4l1.2 .2M103.4 293.2l.6 .8l1.3 .9l.8 1.2M668.6 293.2l.6 .8l1.3 .9l.8 1.2M103.4 293.2l2.2-.8l2-.2M668.6 293.2l2.2-.8l2-.2M99.4 298.4l1.5 0l2.7 0l1.2 .1l-.3-1.3l1.6-1.1M664.6 298.4l1.5 0l2.7 0l1.2 .1l-.3-1.3l1.6-1.1M106.9 286.3l-.2 2.1l.8 1.4l.5 2.1l-.4 .3M672.1 286.3l-.2 2.1l.8 1.4l.4 2.1M107.6 292.2l2.4 .4l.9 .4l1.3 .2l1.7 1.5l2.1 .6l1.9 .2l2 0M672.8 292.2l2.4 .4l.9 .4l1.3 .2l1.7 1.5l2.1 .6l1.9 .2l2 0M115.5 285.3l2.3 .3l2.4-.1l1.1 .8l.3 1.2l.3 1.1l-1.1 1l.7 1.3l.7 1.3l-1.7 1.6l-.6 1.7l-.7 1.3M680.7 285.3l2.3 .3l2.4-.1l1.1 .8l.3 1.2l.3 1.1l-1.1 1l.7 1.3l.7 1.3l-1.7 1.6l-.6 1.7l-.7 1.3M106.1 296.1l1.9-.4l1.4 .4l1.5 .3l.3 1.2M671.3 296.1l1.8-.4l1.5 .4l1.5 .3l.3 1.2M111.2 297.6l2.7 .4l1.9-.8l1.7 .1l1.7-.5l1.2 .8M676.4 297.6l2.7 .4l1.9-.8l1.7 .1l1.7-.5l1.2 .8M111.2 297.6l-.9 1.1l-.6 1.1M676.4 297.6l-.9 1.1l-.6 1.1M100.8 299.8l1.4 0l1.4-.3l.3 .6l2 .3M666 299.8l1.4 0l1.4-.3l.3 .6l2 .3M105.9 300.4l1.4 .2l2.4-.8M671.1 300.4l1.4 .2l2.4-.8M105.9 300.4l-.1 1.8M671.1 300.4l-.1 1.8M109.7 299.8l.8 .8l1.5 1l2.1 0l2.2-.5M674.9 299.8l.8 .8l1.5 1l2.1 0l2.2-.5M116.3 301.1l1.5-.8l1.1-1.9l1.5-.8M681.5 301.1l1.5-.8l1.1-1.9l1.5-.8M120.4 297.6l1.5 .4l1.6 .2l1.2-.8l1.5-.3l1.5 1.4l1 1.8l0 2.1l2.3 .5M685.6 297.6l1.5 .4l1.6 .2l1.2-.8l1.5-.3l1.5 1.4l1 1.8l0 2.1l2.3 .5M116.3 301.1l.8 .9l.9 .9l0 .8l1.7 .2l.3 .9M681.5 301.1l.8 .9l.9 .9l0 .8l1.7 .2l.3 .9M120 304.8l.4 .8l2.5 .2l2.3-.4l2.1-.4l2 .7M685.2 304.8l.4 .8l2.5 .2l2.3-.4l2.1-.4l2 .7M120 304.8l-.4 1.4l.9 .7l-.9 1.6l.9 1.8M685.2 304.8l-.4 1.4l.9 .7l-.9 1.6l.9 1.8M117.3 311.1l1.5-.4l1.7-.4M682.5 311.1l1.5-.4l1.7-.4M114.9 309.3l.6-1.2l1.2 1.1l-.1 1.2l.7 .7M680.1 309.3l.6-1.2l1.2 1.1l-.1 1.2l.7 .7M117.3 311.1l-.4 1.5l-1.1 .8M682.5 311.1l-.4 1.5l-1.1 .8M120.5 310.3l2.4-.4l1.2 .6l1.7-.9M685.7 310.3l2.4-.4l1.2 .6l1.7-.9M125.8 309.6l.4 .8l-.9 1M691 309.6l.4 .8l-.9 1M125.8 309.6l1.5-.8l1.1 .2M691 309.6l1.5-.8l1.1 .2M101.8 276.4l1.1-.9l1.1-1.4l-.4-1.3l0-1.3l.8-1.5l-1-1.4l2.8-1.5l-.8-1.4l1.8-1.1l.1-1.5l2.2-1.7l.6-1.8l2.7-1.1l3.2-1l.7-.1M667 276.4l1.1-.9l1.1-1.4l-.4-1.3l0-1.3l.8-1.5l-1-1.4l2.8-1.5l-.8-1.4l1.8-1.1l.1-1.5l2.2-1.7l.6-1.8l2.7-1.1l3.2-1l.7-.1M116.7 257.4l1.6-.4l3.3 .9l3.1-.5l1.3-1.6l2.4-.2l1.5 1.6M681.9 257.4l1.6-.4l3.3 .9l3.1-.5l1.3-1.6l2.4-.2l1.5 1.6M129.8 257.5l1.7-.9l1.3-.6M695 257.5l1.7-.9l1.3-.6M116.7 257.4l2.2 1.1l2.6 1.1l1.2 1.4l-1.2 1.3l.7 1.4M681.9 257.4l2.2 1.1l2.6 1.1l1.2 1.4l-1.2 1.3l.7 1.4M129.8 257.5l-.7 1.6l2.2 .9l-1.2 1.6l1 1l.4 1.2l-.5 1.8l1.3 1.5l1.6 2.1l-1.5 1.5l-1.2 1.5l-1.4 .9l-1.8 .6M695 257.5l-.7 1.6l2.2 .9l-1.2 1.6l1 1l.4 1.2l-.5 1.8l1.3 1.5l1.6 2.1l-1.5 1.5l-1.2 1.5l-1.4 .9l-1.8 .6M72.9 284.2l-1.2 1.1l1.2 .6l1.6 .1M638.1 284.2l-1.2 1.1l1.2 .6l1.6 .1M202 318.1l-.4-1.1l-.1-1.2l-.8-.9l-.4-1.1l1.6-1l1.8-.7l1.9-.7l1.7-1l1.6-.8l1.4-1l-.3-1.3l-.2-1.3l.3-1.3l.2-1.4l1.8-.2l1.8-.2l.6-1.9l.2-1.9l2 .3l1.9-.1l.5-1.2l0-1.3l1.9-1.3l1.2-.2M222.2 295.3l1.3-.8l1.4-.5l2-1.2l2.4-.6l1.9 1.1l2.4 .5l2.2-.2l2.1 .4l.3-2.1l.8-1.9l1.5 .4l1.3 .6l1.5 0l1.6 .3l.1 1.3l2.5 .5l2.5-.1l2.6 .7l2.1 1.4l2.8 0l2.7-.2l2-.7l2-.8l1.7 .2l1.7 .5M222.2 295.3l1.1 1.9l1.8 .4l1.4 .9l.7 1.9l.1 2l1.9 .5l2 .6l1.5 .9l1.6 .4l.6 1.5l1 1.2l1.4-.1l1.3 .4l1.4 0l1.4 .1l2.1-.2l2 .5l1.8 .9l1.9 .7l1.9-1l2.1-.5l2 0l1.9-.4l1.6-1l1.5-1.1l-.1-1.3l0-1.2l1.6-.1l1.7 .3l1.7-.5l1.4-1l2.2-.7l1.7-1.2l2.1 0l-1.9-.9l-1.7-1l-2.7-.2l.3-1.9l1.1-2M267.6 294.1l1.7 .6l1.4-.6l1-.9l.5-1.2l.6-1.1l1.1-2.1l.5-1.3l1.9-.2l2-.2l1.5 .6l1.6 .4l.5 1.4l.9 1.3l1.4 1.1l.4 1.5l0 .8l1.7 1.1l2.2 .6l.6 1.2l1 1.1l2.3 0l2-.1l1.5-1.1l-1.1 1.9l0 2.3l-1.4 1.9l-2.1-.4l-1.2 1l0 1.3l.4 1.2l-.5 1l-.6 1.1M289.4 308.3l-1.7 0l-2.3 .7l0 1l-1.8-.6l-1.4 1.5l-1.1 1.1l-1.4 .8M283.3 317l1.3-.9l1.4-.6M254 348.1l-1.6-.8l-.6-1.9l-1-.5l-1.1-.2l-.9 .9l-1.1 .4l-1.4 0l-1.4 .2M244.9 346.2l-.7 1.1l-.1 1.4l-.8-.6M243.3 348.1l-1.9-.4l-1.3-.9l-.3-1.9l-.4-1.6l-1.8 0l.5-1.8l1.1-1.6l.3-1.6l-.1-1.6l-.9-1l-1-.6M237.5 335.1l-1.1-.8l-1-1.1l-1.8 .2l-1.6 .4l-1.8 .8l-1.4 1.5l-.6 0M228.2 336.1l-1-.5l-1-.3l-1.1 .5l-1 .9l-.1 .4l1.4 1.1l1.7 0l1.7-.3l-.6-1.8M224 337.1l-1.3-1.2l-1.6-.2l-1.7 0l-1.4-1.3l-1.7-1l-1.7-.8l-1.5-1.3l-1.5 .2M211.6 331.5l-.8 1.3l-.6 1.4l1.6 .7l1.3 1.2l1.6 .4l1.6 .4l1.2 .5l1.1 .6l2.1 .1l2 .7l0-1.5l0-1.4M211.6 331.5l-1.6-.8l-1.6-.9l-.3-1.4l-.1-1.5l.5-1.8l.7-1.8l1.3-1.9l-1.8 .3l-1.8-.3l-1.5-.7l-1.7 0l-1-.9l-.7-1.2M191.5 343.9l1.2-1.1l1.6 .1l1.6-.3l-1-1.9l-.6-2.1l.3-1.5l.3-1.4l1.4-.4l1.5-.3l1.4-1.6l1.2-1.9l1-1.7l.8-1l.6-1.3l-1.2-.5l-1-.8l.3-1.6l-.3-1.7l1.2 0l1.1-.2l1.2-.4l1.2 .1l1.6-1M224.1 347.5l.2-1.1l-.3-1.1l-.4-1.4l-.7-1.1l0-1.5l0-1.4l.3-1.3l1.1 .4l1.1 .5l0 1.4l2 .6l1 .1l1.1-.2l-1.1 .9l-.8 1l.5 2l.9 .8l.8 1.1l-.6 1.1l.1 1.3M229.8 347.2l1.1-1.9l.6-1.2l.4-1.3l.8-1l.4-1.3l.8-1.9l1.7-1.3l1.6-1.4l.3-.8M239.2 370.1l.9-1.2l0-1.7l-.1-1.5l.1-1.4l-1.4-1.5l-.1-2.3l.6-1.9l-.3-1.3l-.6-1.1l-.9-1l-.1-1.4l.1-1.4l.9-1l1.7-.1l1.6-1M241.6 350.3l.8-1.1l.9-1.1M241.6 350.3l.6 1.6l1.1 0l0 1.9l0 1.9l1.4-1.3l1.4-.4l1.6 .2l1.1 1.7l.1 1.9l.7 1l.6 .9l0 1.9l-.6 .1M249.6 361.7l-1.8 .7l-1.7-.6l-.8 1.4l0 1.7l.7 1.8M244.9 346.2l1.1 1.2l.1 1.7l1.2 .4l1.2 .7l-.6 1l-.4 1.1l.9 1l1.2 .1l1.5 1.3l.5 2l.8 .8l.6 1.1l.2 1.2l.1 1.3M249.6 361.7l1.2 .7l1.3-.6l1.2-.7M253.3 361.1l-.7 2l.6 2.2l-1.1 1l-1.3 .5l-.1 1.3l-1.3 .2l-1 1M241.6 376.8l.6 1l.9 .4l1.6-.9M256.6 385.3l.5 1.5l1.6 .4l1-.2l.9-.6l1 .4l1.2-.2l.7-.9l1.1-.2l.5-1.7l.3-1.5l.6-1.2l1.5 .2l1.5-.2M263.5 380.3l1.1 1.2l.8-1.7M305.8 394.1l0 3.1l0 3.1l0 3.1l0 3M456.8 295.7l10.9 0l10.8 0l10.9 0l10.8 0l0-.8l.9 1.4l2.5 .1l2.5 1l1.5-.4l1.5 .6M532.3 303.3l2.5 .2l2.5-.2l1.8-1.7l.6-1.5l1.3-1.5l1.8 .3l.2 1.4l.2 1.3l.6 1.3l.6 .6M529.8 304.8l1.6-1.3l.9-.2l1.9-1.1l1.6-1.4l2-.9M516.8 300.4l1.2 .8l1 .8l1.1 .7l.1 2.2l0 2.2l-.3 .8l-.8 .7l1 1l1.4-.4l1.3-.6l1.4-.5l1.4-.6l-.1-.9l1.6-.7l2.4-.5l.3-.6M428.2 256.3l0 4.5l0 4.4l0 4.5l0 4.4l3.2 .4l.3 1.5l2 .8l1.2-1.2l2-.5l1.6 1.3l1.7 1.4l.9 1.8l1.6 1.6l2.8 1.1l0 1.4l-.9 1.1M465.8 327l1.8-.1l1.9-.1l1.3 1.1l1.6 .3l1.4 .6l1.5 .6l1.1-.4l1.1 .1l1.1 .2l1.1 .1l0-.9l1.4 .2l1.3-.2l1.3 .9l1.1 1.2l.7 2.1l1.1 .5l1 .6l1.1-1.4l1.7 0l1.1 1.2l.6 1.5l1.3 1.6l.6 2.1l1.5 .5l1.6 .3M504.8 361.4l0-1.3l.8-1.6l1 0l1-.1l-.8-1.1l-.7-1.1l.6 0l0-1l1.5-.1l1.4 .1l1.4-1.4M509.6 355.2l-.2 1.8l.2 1.8l.4 0M511.1 359.2l-.8 1l-.7 1.1l-1.5 1.6M509.3 361.6l1.4 1l1.2 .2l-.1 .8M512.5 364.3l1-1.5l1.6-.2l.8-.7l.6-1l1.2-.1l1.3-.3M515.1 367.9l1.5 .2l1.7 .2M519.4 373.8l0-1.9l.5-1.1M527.3 375.4l.2-1.5l.7-1.3M537.7 366.6l-1 .6l-.9 .7l-.6 1.9l-.7 1.8l.8 .7l.6 1l0 1.7l1.9 0l1.7 .8l1.1 1.7l1.5-.5l1.5 .3l-.4 1.6l0 1.6l.3 1.2l.4 1.1l.2 2.1l.5 1.9M544.6 386.8l-1-.4l-.8-.7l-1.4 .1l-1.4 .1l0 1.1l1 1l-1.3 .1l0 1.4l.9 1.9l.1 1.5l-.4 1.4l-.4 1.4l-.1 1.4M539.8 397.1l-1.2-.8l.4-1.1l.7-1l-1.5-.5l-1.6 0l-1-.3l-.9 .1l-.9-1.1l-.4-1.4l-.9-1l-1.1-.7M531.4 389.3l-1.6-1l-1-.1l-.9-.4l-1-.7l-1-.7M531.4 389.3l0 1.4l-.3 1.3l-.8 1.2l-1.1 .9l-1.3 .5l-1.1 1l-.5 1l-.3 1.3l-1.2 .7l-1.4-1.1l.1-1.9M539.8 397.1l-1.2 .3l-1.2 .3l-1.1 .9l-1.2 .4l-.4 1.1l-.7 .8l-.2 1.2l-.4 1.1l.6 2.1l1.1 1.7l1.1 1.2l1.3-.5l1.3-.3l.1 1.3l-.1 1.4l1.5-.1M540.3 410l.8 1.5l.6 1.6l-.4 2.1l.1 1.5l-.1 1.6l-1 1.3l1 1.1l-.8 1.8M540.5 422.5l-1.3 1.6M540.5 422.5l.3 1.5l.8 1.3l0 1.5l.5 1.4l.4 1.9l.3 1.2l.2 1.3l1.1 0M544.1 432.6l0 1.1l.3 1.2l-1.1 .4l-1.1 .5l-.1 1.9l0 1.9l-.8 1.9l-.8 1.9l-.5 1.9M544.1 432.6l.9-1.1l1-.8l1.1 .4l1.2-.1l1.4-.3l1.3 .3l.2 .5M540.3 410l1.8 .1l1.5-1.1l1.6-1l1.7-.4l.2 1.7l0 1.7l.7 .9l.7 .8l1.3 .4l1.2 .8l1.3 .8l1.5 .1l1.3 .6l.3 1.1l.1 1.2l-.1 1.2l-.3 1.1l1.4-.1l1.4 .3l.2 1.9l1.1 1.3l-.7 1.7l-.3 1.7l.1 .7M558.3 427.5l-.8-.7l-.7-.9l-1-.2l-1.1 .1l-1 .2l-1 .5l-.5 1.1l-.4 1.3l-.3 1.3l-.3 1.3M558.3 427.5l-.1 1.9l.5 1.8l1.6 .3l1.7 .1l.1 1.7l.5 1.6l1.7 0l0 1.5l-.4 1.5M551.2 431.5l1.2 1.6l1.4 1.4l1.4 0l1.2 .6l1.2 .6l.9 1.1l.7 .9l-.6 1.7l-1 1.6l2.1-.3l2 .4l1.4-1.3l.8-1.9M563.9 437.9l1.2 .8l.2 1.9l-1.6 .8l-1.2 1.5l-.9 .9l-.5 1.3l-1 .7l-.9 .9M544.6 386.8l1.1 .3l1.1 .5l1.2-.9l1.1-1.2l1-.6l-.6-1.6l-.7-1.6l1-.1l.9 .3l.5-.4l1.3-.5l1.3-.5l.5-1.3M554.3 379.2l-1.1-1.3l.5-1.6l1.2-.7l.4-1.3l.1-1.4M554.3 379.2l1.3 .4l-.2 .9l.6 1.2l0 1.5l-.4 1.5l.7 .9l.7 1l1.5-.4l1.3-.2l1.1-.5M560 377.8l-.4 1.4l-.5 1.2l-.6 1.1l.7 .9l.8 .9l.5 1l.4 1.2M560.9 385.5l.9-1.2l1 .5l1.1-.1M564.8 378.1l-.6 1.7l.4 1.3l.2 1.3l-.4 1.2l-.5 1.1M563.9 384.7l1.3 0l1.3 .2l1.3-1.6l.7-2M537 351.5l0 1.8l0 1.4M454.9 300.9l1.3 .2l.6 1l2.5 0l1.5-.2l1.5-.4l.5-.1l1.6-.2l1.7 .2M465.9 295.7l.4 1.2l.1 1.3l-.3 1.2l-.2 1.2l.2 .8M466.1 301.4l.6 1l-.6 1.3l-.2 1.1l0 2.1l0 2.1M454.6 309l5.2 0l5.1 0l5.2 0l5.2 0M461.2 309l.3 1.5l-.2 1.4l0 1.4l-.1 1.4l2.4 1.7l2.6 1.4l1.3 2.6l2.2 2M469.7 322.4l0 1.3l.8 0l-.7 1.3l-.3 1.8M470.5 309l.1 2.4l-.1 2.4l0 2.4l0 2.4l0 1.7l-1 0l.2 2.1M470.5 318.6l7.7 0l7.6 0l7.6 0l7.6 0M467.4 295.7l0 1.9l.6 .9l1.7 1.7l.4 2.2l1.3 .9l.8 1.1l2.5-.5l.6 .4M475.3 303.3l-.4 1.9l.4 1.9l0 1.9l0 1.9M475.3 303.3l2.7 .5l2.7-.5l2.8-.4l2.7 .4M475.3 310.9l3.5 0l3.5 0l3.5 0l3.6 0M478.4 310.9l0 4.6l0 4.7l0 4.6l0 4.6M486.2 295.7l0 3.8l0 3.8l0 3.8l0 3.8M486.2 301.5l3 .4l2.9-.4l3 .2l2.9-.2M486.2 307.1l2.2 .3l2.2-.3l2.2 .2l2.2-.2l.9 .4l2.2 .6M489.4 310.9l.1 1.9l-.1 1.9l.3 2l-.3 1.9M489.4 312.8l2.6 .5l2.7-.5l2.6-.2l2.7 .2M487.9 318.6l0 .9l1.2-.3l1.1 0l1.2 .1l1.2 .2l.3 1.9l-.3 1.8l1.3 .7l1.8 .4l1.2 .2l1.2 .2l1.2 0l1.2-.2l.7 .4M487.9 319.5l-.2 2.2l-.3 2.1l.3 2.1l.1 2.2l-1.4-.1l-1.4 .1l-1.4-.3l-1.4 .3M501.2 324.9l.3-1.6l-.2-1.7l-.3-2.1M501.2 324.9l.7 .2l.2 1.6l-.2 1.6l.9 1.7l-.5 1.2l0 1.3M501.9 326.2l1.2-.1l1.1 .2l1.2 0l1.1-.1M501 319.5l1.8-.1l1.7 .1l1.8 .2l1.7-.2l-.3 1l1.1 0M505.2 300.1l-.5 1.1l-.8 1.2l.1 1.4l1.1 .9l1.2 .9l.1 .6l.2 1.5l1.4 1.7l-1.3 1.2l-.6 1.5l-.2 .9l1.3 1.7l.8 .6l.7 1.3l.4 1.4l.5 .6l-.5 .9l-.3 1l-.7 1.7l-.7 1.1l-.8 1.9l-.1 1l.2 1.3l-.8 1.5l-.1 1M505.8 330l1.4 .1l1.5-.1l-.1 1l.3 .5M498.2 306.2l2 0l2.1 0l2.1 0l2 0M499.3 311.7l1.7-.1l1.7 .2l1.7 .2l1.7 .1M498.1 308.1l.8 1.9l.3 1.7l.8 1.1l1.1 1.8l.1 1.2l-.1 1.2l.2 1.3l-.3 1.2M497 295.7l.2 1.9l.4 1.9l.4 2l.2 1.2l-.1 1.8l.1 1.7l-.1 1.9M507.3 308.1l2.2 .2l2.3-.2M507.7 300.4l2.2 1l1 .9l1.2 .8M512.2 309.5l-.1 1.2l.5 1.1l-.2 1.2l-.2 1.2l-.3 1.5l-.5 1.3M509.6 318.6l1.8-1.6l.8-.2l1.6-.1l1.1-.6l1.2-1l.4-.5l1.7 .8l1.7 .5l1.3-1.2l1.2-1.1l.5-1l.3-1M516.5 314.6l.1-1.3l.3-1.2l-.5-1.2l.1-1.3M512.7 309.5l1.5 .1l1.4-.1l1.5-.1l1.5 .1M523.2 309l0 2.2l0 2.2l1.8-.3l1.9 .3l1.8 .2l1.9-.2M524.4 309l1.7-.1l1.7 .1l1.8 .1l1.7-.1l1 1.3l1.3 .6M532.3 310.3l-.6 .8l-.2 .6l.7 .8l-1 .7M530.6 313.4l.3 1.2l-.1 1.2l1 0M509.1 319.5l5.3 .1l5.4-.7l5.3 .9l5.3-.4M507.8 322.4l2.9-.5l2.8 .5l2.8 .3l2.8-.3l1.3-.4l2 .2l.3 .6l1.8 0l.8 .9l1 .9M519.1 322.4l.8 1.1l1.1 1.9l.8 1.2l.5 1.3M521.6 330.6l-1.1 .5l-2.1-.3l-2.1-.2l-.2-.6l-2 0l-2 0l.1 1.3M515.2 322.4l.2 2l.4 2l.3 1.1l.3 1.3l-.3 1.2M511.1 322.4l-.2 2.2l.2 2.3l-.5 2.2l.2 2.2M519.9 315.9l1 1.7l.4 .6l2.2-.6l1.1-1.9l1.1-.6l1-1.1l.8 .2l1.2 .9l0 .8l1.1 .8M520.9 317.6l-1.3 1l-1.4 .7M524.8 313.4l0 1l1.9-.4M534.4 303.3l.1 1.3l-.1 1.4l.2 1.6l-.4 1.3l0 1.5l-.2 .5M537.3 303.3l-.7 1.3l-.7 1.9l-.1 1.1M534.6 307.6l1.5 .1l1.6 0l.7-.3M534.2 308.9l1.3 .2l1.4-.1l.6 0l.5 1M536.9 309l-.1 1.4M538.1 302.7l-.2 1.8l.3 1.7l.4 .7M175.5 276.2l-.5 .5l-.3 1l-1.3-.2l-.4 1.1M740.7 276.2l-.5 .5l-.3 1l-1.3-.2l-.4 1.1M172.4 279.5l-.8 .8l-.7-.2l-.7 .7M737.6 279.5l-.8 .8l-.7-.2l-.7 .7M169.7 282l-.5 0l-1.1 1.1l-.8 .2l-.7 .5M734.9 282l-.5 0l-1.1 1.1l-.8 .2l-.7 .5M165.7 284.5l-.6 .4l-.1 1.3l-1.5 .4M730.9 284.5l-.6 .4l-.1 1.3l-1.5 .4M162.8 287.6l-.7 .5l-.8 .3l-.4 .2l-.5 .5l-.5 .5l-.8 1.4M728 287.6l-.7 .5l-.8 .3l-.4 .2l-.5 .5l-.5 .5l-.8 1.4M158.7 290.7l-.6 .9l-.8 .9l-.5 .2l-1.2 1l-1.5 .4M723.9 290.7l-.6 .9l-.8 .9l-.5 .2l-1.2 1l-1.5 .4M153.1 295.2l0 1.2l-.9 .5l-.5 .3M718.3 295.2l0 1.2l-.9 .5l-.5 .3M150.2 297.6l-.9 1.4l-.3 .6l-1 .2M715.4 297.6l-.9 1.4l-.3 .6l-1 .2"/>
<path d="M470.1 290.2l.9-.3M550.4 279.6l.5-.2l.1-.8l-.3 1M458.9 266.9l.9-.4l.5-.3l-.7 .9l-.7-.2M516.9 265.1l.4 .1l.5-.5M470 287.3l-.3-.7l.1 1.1l.2-.4M463.1 278.5l-.4-.4M502.5 289.2l-.2-1.1l.2 1M461.7 290.7l.9-.3l.4-.8M544.7 285.3l0-.4l.5 .3M475.7 267.6l.4-.4M458.3 266.2l.8 .3l.4-.3l-.6 .7l-.6-.7M485.5 280.9M477.6 279.9l.3-.4M467.6 281.9l.4-.6M458.7 291.3l.5 .1M544.4 270l-.7 .2l-.9-.5M538.1 279.8l.8-.5l.8-.2l-.8 .9l-.8-.2M490.9 283.3l.1-.5M536.9 261.6l.7 .1l.7-.6l-.7 1.1l-.7-.6M544.8 283.1l-.4-.4l-.8-.3l.6 1.2l.6-.5M487.6 273.5l-.3-.4M508.8 263.4l-1-.2l.5 .6l.5-.4M543.5 293.3l-.5-.1M529 285.7l.7 0M464.1 291.6l.4-.2l-.3 1l-.1-.8M474.8 290.5l.1-.4l0 1.1l-.1-.7M490.3 266.8M484.2 293.5l.4 .2l-.4-.2M550.6 281.4l.5 .4l.9-.4M470.3 262.6l.8-.4l-.4 .7l-.4-.3M533 284.5l1-.1M492.5 273l.4 .3l.7-.3M469 278.9l.7 .4l.7-.1l-.7 .5l-.7-.8M469.2 291.6l.1-.7l-.1 1.2l0-.5M511.1 265.6l.3-.4l.6-.9M478.1 291.1l.5 .2l.2-.4M488 287.1l.7-.9M506.5 293l.4-.2l.6-.2M519.4 289.1l-.6 0l-1.1-.2M475.2 286.4l.5 .1l.6-.6l-.6 1.1l-.5-.6M513 263.3l.7 0l.1-.4M506.3 263l-.8-.2l-.4 .2l.6 1l.6-1M501.1 286.4l.7 .1l1.2-.2l-.9 .9l-1-.8M458.1 274.1l.3-.5l-.2 .7M548.5 288.9l.4-.2M500.7 280.5l-.2-.4l-.7-.7M496.5 292.1l.7-.1l1-.4M540.1 280.2l-.5-.2l-.6-.2l.5 .7l.6-.3M533.5 264.6l.3-.7l.8-.5l-.6 1.1l-.5 .1M492.6 276.8l.8-.1l.6-.1M533.4 293.5l-.6-.7M532.1 286.2l.4-.4l.6 .3M480 269.9l-.5 0l0-.5l.2 .8M461.4 289.4l.5 .3l.4 0M499.2 288.1l.4 .1l.7-.2M476.6 268.9l.3-.4M513.5 287.3l0 .4l0-.4M523.6 293.6l.5 .2l0-.5l-.3 1.1l-.2-.8M549.4 289l.4 0l.5 0l-.5 .4l-.4-.4M466 288.5M490.2 277.8l.4 0M479.7 267.9l.5-.5l.9-.1M532.6 286.3M480.8 285.4l-.4-.5l.3 .7M516 264.5l.1 .7l-.1-.7M487.2 283.6l.5 .2l1-.4M472.3 263.6l.4-.5l.9-.4M492.2 270.6l.4-.2l.3-.5M479 283.5l-.5-.3l-.2-.4M467.9 279l.9-.6l-.3 .9l-.6-.3M516.4 284.1M466.9 262.5l.1 .4l-.1-.4M508.2 266.8l.4-.2l-.2 .6l-.2-.4M549.6 290l-.5-.4M515 284.4l-.6-.1l-.1-.5M468.1 267.4l.5 .5l-.5-.5M475.7 280.2l.3-.6l.9-.3M542.8 262.9l-.5 0M491.3 281.5M529.2 285.9l-.6-.6l-.9-.2M481.9 272.5l.7 .1M537.9 265.3l-.4-.1l.2 .9l.2-.8M490 268.4l.7 0l.8-.5l-.7 .8l-.8-.3M460.5 268l.6-.3M547.9 283.7l1-.2l.4 .1l-.7 .9l-.7-.8M512.1 290.3l.8-.1l.5 .2l-.7 .5l-.6-.6M492.3 262.7l.4-.3l1-.1M466.8 276.8l.5-.5l.9-.2M478.7 265.2l.8-.1l1.2-.3l-1 1l-1-.6M475.7 276.1l.7-.2l.2 .6M533 287.8l0-.5l-.3-.8M477.6 293l-1.1-.2M510.8 289.1l.5 0l.9-.2M502.2 290.8l0 .6l0-.6M474.6 274.2l1-.3l.8 0M525 284.9l.9-1M501.4 273.1l.3-.4l.7-.9l-.5 1.2l-.5 .1M516.3 283.9l.5-.1M475.4 278.2l0-.4l.5-.2l-.3 .8M465 271l.9-.1l1-.3M539.5 275.2M495.9 279.8l.1-.7l-.2 1M490.1 263.2l.3-.9l-.1 1.1M504.8 282l.6-.7l0-.6M489.4 281.2l.6-.4l.7 .3M484 283l.5-.1l1-.5l-.7 1.1l-.8-.5M471.9 286.4l.3-.4M510 263.9M494.4 290.8l.4-.2l1.1-.6l-.8 1.1l-.7-.3M517.4 290.1l.3-.4M550.3 279.7l.7-.5M474.6 287.9M461.2 279.5l.4-.4l.5-.6M539 264.1l.6-.1l.7 .1l-.7 .8l-.6-.8M532.1 277.1M548.1 263.7l.5-.3l.8 .3M488 269.2l.1-.5l.4 .1l-.2 1.1l-.3-.7M529.4 288.9l-.2-.5l-.2-.6M466.3 268.6l.4 0M482.2 270.1l.8 0l.5-.4M552.1 279.9l-.6-.5l-.5 0M547.6 278.5l.4-.1M470.4 273.1l.7-.4l-.4 1.1l-.3-.7M542.2 292.7l.1-.8M475.5 289.3l.7-.3l1 .3M532.1 285.7l.8-.8l.6-.1M538.6 279.4l-.4-.1l.2 .7l.2-.6M535.6 262.6l.8-.3l.8-.4l-.8 .8l-.8-.1M502.4 277.8l.4-.2l-.1 1l-.3-.8M492.7 262.7l.6-.5l.5-.7l-.5 1.1l-.6 .1M469.7 284.6l0-.4l-.2-.6M492 274.2l.7 .2l0-.4l-.3 .8l-.4-.6M477.4 277.3l0-.4M458.2 292.2l.4-.5l.5 .2M535.7 293.4l0-.5l.5 .2l-.2 1l-.3-.7M506.6 283.3l0-1l.6-.4M468.5 269.6l.4-.5M519.6 288.6l1.1-.9l-.6 1.2l-.5-.3M533.5 288.6l.5-.2l.6 0l-.5 .5l-.6-.3M497.9 286.1l.4-.1l.7-.7M494.6 282.9l.8-.3l.4-.5M475.1 291.5l.4 0M481.1 288.8l.4-.5l-.2 .6M469.6 266.3l1.2-.5l-.6 .7l-.6-.2M528 270.5l.5-.3l.5-.1l-.5 1.1l-.5-.7M458.4 286.6l.6-.4l-.1 .9l-.5-.5M495.8 271.5l.6 .6M504.1 287.5l-.1-.9M502.7 289.2l.6-.2l.4-.1M462.3 270.6l.6-.1l1.1 0M490.8 271.2l.5-.5M539.5 273.1l-.5 .1M458.4 292.4l-.5-.4M539.6 274.7l-.4-.4l-.5-.9M503.6 282.8l.8-.2M505.5 280.2l.8-.4l.6 0M481.5 263.8l.1-.6M503.5 270.1l.5-.3l-.2 .7l-.3-.4M531.9 272.6l-.4-.2l-.2-.8M479.7 282.9l-.4-.2l.2 .7l.2-.5M538 265.7l.6-.1l0-.6l-.3 .9M544.9 266.1l-.4 .1M493.4 289.9l.6 0l1.2-.2M459.1 281.7l.5-.2l.3-.8l-.4 1.3l-.4-.3M515.6 284.3l-.4-.2M488.4 292.6l-.4-.5l.2 .8M497.3 282l.7-.5l1 0l-.8 1l-.9-.5M493.6 292.5l1-.1l.6-.2M463.2 281.4l-.3-.4M533.4 290.4l.5-.4l-.2 .7M466.6 281.8l.6-.2M474 277.2l0-.6l.4-.1M489.7 273.8l.1-.4l.6-.3M488.9 283.1l1.1-.1l.6-.3M473.3 272.3l.6-.5l.6-.1M527.2 292.8l-.7 0M476.7 288.2l.2-1M474.2 277.3l.8 .1M531.5 275.3l.1-.5M500.3 262.3l.8 .1l.7-.7M483.3 266.4l-.1-.5M508.2 265.8l.5-.2l-.2 .5M516.9 289.9l.2-.6M533 284.7l-.9-.1l-.7-.7M539.3 289.1l.1-1.1M484.5 269.6l.6-.2l.7-.7l-.6 1.4l-.7-.5M492.7 277.3l.8-.4l.4 .3M477.8 282.5l.8 .3l.8-.3M502.5 277.3l.6-.5l.8-.2l-.7 .9l-.7-.2M493.6 275l.4-.2M517 289.7l.7-.6M499.2 272l.9-.2l1 0l-.9 .6l-1-.4M539.7 281.2l.4-.2M536.9 293.2l.7-.6l.3-.6M478.6 268.5l.7 0l-.4 .8l-.3-.8M467.6 266.6l.6 .1l1.2-.4l-.9 .8l-.9-.5M481.6 284l.4 0l.1-.7l-.2 .8M489.1 290.3l-.8 0l-.4-.7M496.8 263.6l.5-.6M536.3 278.3M477.6 250.1l1.3-.6l.8 .1l-1.1 1l-1-.5M499.8 263.1l-.4-.4M518.4 266.4l.7 0l.5-.3M483.6 250.4l.7-.6l1.2 .1l-.9 1.1l-1-.6M489.8 261.6l.9-.5l-.5 1.2l-.4-.7M535.7 255.1l.7-.4l.3-.8M468.4 251.2l-.7-.1l-.4 0M543.9 257.8l.9 0l.4-.6l-.7 1.1l-.6-.5M455.3 255.6l.4-.2l-.2 .8l-.2-.6M493.7 248.9l.9-.7l.7-.5M480.8 251.9l.7 0l-.3 .8l-.4-.8M502.4 260.1l.4 0M541.6 258.7l-.9-.1l-1.4-.5M513.9 260.9l-.6-.5l-.5-1.2M514.3 261.2l.6-.3l.6-.1M457.6 261.3l1.1-.5l1.2-.1M517.7 254.8l0-.9M536.3 259.7l-.3-.8l-.9-.3l.6 1.4l.6-.3M500.4 257.6l-.3-.4l-.6-.1l.4 .7l.5-.2M509.5 260.6l.7 .2M483.3 258.9l.7-.1l-.2 .9l-.5-.8M523.6 249.3l.8-.1l.3-.4M541.1 263.3l1.2-.2l.9 .1M506.7 259l.6-.5l.4 0M512.6 239l.4-.5l.9-.8M518.9 238.5l1.1-.1l.8-.3l-1 .9l-.9-.5M521 239.9l.5 0M515.8 261.8l0-.5l.1-1.3M476.9 257.8l.4-.9M486.5 266.7l.5-.4M510.8 266.7l.7-.6M502 254.7M528.4 265.7l1.3-.1l.9 .4M525.2 237.5l.1-.7l.1-.5M454.7 257.3l.8-.3l1.4 0M476.9 255.5l.4-.4M504.4 255.3l.5-.3l.5 .2M455.2 258.8l.5-.6l.5-.1l-.5 1l-.5-.3M468.8 263l.9 0M546.3 242.4l.6 .3M535.7 237l-.5-.3l-.4 0M507 263l.9-.5l1.3 .1M483.6 264.1l.7 .3l-.7-.3M540.4 262.1M456.4 256.7l-.6-.4M500.9 255.5l1.1-.5l1.1 0l-1.1 .8l-1.1-.3M500.9 255.4l.8-1l.4-.3M483.8 251.4l.5-.6M500.6 237.7l-.5-.1M534.4 255.7l.8-.4l.9-.6l-.9 1.3l-.8-.3M489.5 263.8M511.8 250.5l.7-.7M509 260.8M506.5 250.8M534.5 257.9M515.2 258.6l.4 0l.7 .4M518 255.1l.8-.3l.5-.3M476.3 245.6l.6-.5M540.1 266.2l.5-1M507.8 244l.5 0l.8-.1l-.6 .6l-.7-.5M516.3 253.6l1 0l.9 .2M472.9 257.6l.9-.3l-.4 1l-.5-.7M468 264.1l.6-.2l-.2 1.1l-.4-.9M486 257.3l-.2-.5l.4 0l-.1 .6M542.3 258.8l.6-.4M483.5 251l1-.7l.5-.2M500.4 257l-.5-.4M476.9 250.7l1.1-.2l.9-.3M471.9 245.4l.2 .8l-.2-.8M462.9 248.1l1.2-.3l.6-.6M548.9 239.9l-.3-.5M463.5 243.2l.4-.8l.6-.4l-.5 1.5l-.5-.3M483.1 250.5l.4-.2M549.7 238.2l1.3-.3l1.1-.1l-1.2 1.1l-1.2-.7M496.7 248.9l.4-.3l1-.8M547 267l.3-.4l.8 .2M522.1 252l.9 .2l.4-.5M477 253.1l-.2-.7l-.2-.6M474.6 266.6l.8-.1M522.3 244.8l.4-.6l.8-.5M532.9 237.3l.4-.3M530.5 251.3l-.7-.2l-.8 0M528.2 249.6l.5 .1M490.1 237.4l.4 0M499.4 257.2l-.4 .1M532.2 252.8l.6-.6l-.2 1l-.4-.4M498.8 262.7M541.5 238.6l1.1-.2l.6 0l-.9 .6l-.8-.4M485.5 253.7l.7-.8l1 0M487.2 266l.4-.2M504.3 259.3l1-.9M543.2 262l.5 .1M492.6 243.5l.1-1.2l.4-.5M520.8 255.5l.8-.3M505.4 260.8l.4-.4M496.2 265l.6-.4l-.3 .7M481.1 256.5l-.6-.6l-1-.3l.8 .9l.8 0M511.3 254l-.5 .3l-.3-.4M488.6 240l.5-.7M520.8 258.5l.8-.2l-.4 .6l-.4-.4M477.9 262.1l.9-1l-.5 1.1l-.4-.1M500.5 250.2l-.2-.9l.5-.5l-.2 1.3M467.5 248.7l.3-.7l.9-.5M493.8 262.3l.6 .2l1.1 0l-.9 .5l-.8-.7M507.9 250.2l.8-.3l.3 .4M510 263.5l.8-.2M540.5 257.4l-.4-.3l.2 1l.2-.7M487 257.3l-.6-.5l-.4-.2M532.6 257.8l-.1-.4l.4 .2M493.9 250.1M545.4 265.5M468.8 251l1.4-.3l.9 .1M489.3 240.2l1-.4l.6-.3M524 252.2l.9-.6l1.2 .1M460.9 249.7l.9 .3M535 264.8l.4-.2l0 .5l-.4-.3M455.7 258.7M521.5 245.3l.4-.2l.3-.6M540.3 241l.7-.6l1-.3M464.4 266.9l0-.7l.1 .9M459.6 250.5l-1.2 .1l-.7-.1M506.3 237.9l.8-.1M510.5 238.6l.7-.4l.3-1.2M476.8 245.5l.5-.4l1.1 0l-.8 .7l-.8-.3M532.4 253.1l-1 .1l-1-.3M519.6 241.4l-.3-.7l.2 .9M510.2 262.6l1.1 .5l1.2-.4l-1.1 .8l-1.2-.9M466.4 259.3l-1.2 .1l-.7-.7M464 260.3l.8-.7l-.4 1l-.4-.3M463.4 248l.5 0l.6-.5M528.3 252.7l-.4-.2l-.3-.6M485.8 260.3l1-.2l.7 .5M517.9 240.6l.3-.4M453.5 264.9M514.7 250.6l.7-.3M502.9 266l-.4-.6M544.3 239.1l.2-.8l0-.6l-.1 1.2M455.3 256.7l.8-.3l-.3 .8l-.5-.5M454.7 264.3l.6-.8l1-.3l-.8 1.1l-.8 0M494.4 243.6l-.1-1.1l-.4-.4M475.7 257.2l.8-.1M504.8 243.7l.3-.7l-.2 1.2l-.1-.5M526.3 249.6l.9-.5l-.5 .7l-.4-.2M514.3 260.8l-1-.4l-.6-.3M480 262.6l-.7-.6l-.2-.9M459.2 257.9l.1-.7l0-.4M531 255.9l-.1 .8l.1-.8M466.3 266.5l.4 0l.9-.3l-.6 .7l-.7-.4M485.4 266.5l.5-.3l1.1-.7M498.6 260.8l.8 .3l1.3-.1M460.2 266.6l-1.3-.5l-.7-.2l1 .9l1-.2M491.1 238.5l-.2-.6l.1 1.2l.1-.6M471.6 262.9l-.2-.5M474.1 250.8l.5-.2M505.7 266.3l-.3-.4l.3 .9l0-.5M505.7 256.7l1.4 .2l.8 .5M548.2 237.5l.9 0l1-.4M475.2 245.4l.3-.8M519.5 252l.6-.6l.6-.9l-.6 1.4l-.6 .1M497.3 256.5l1.1-.6M488.1 257.3l-.2-.4l.3-1l0 1.3M510.3 237.7l-.4-.2l-.1-1M506.2 249.3l.5 .1l-.3 .8l-.2-.9M501.5 237.2l.4-.3M523.8 242.9l.5 0M500.6 259.2l.2-.4l0 .9l-.2-.5M499.7 263.8l-.4-.2l-.4 0M466.9 251.5l-.1-.8l.4-.4M546.2 238.9l1.4-.4l1.1 .2l-1.2 .8l-1.3-.6M549 240l.6-.5l.5-.1l-.5 .8l-.6-.2M546.7 305l.5-.4l.5 .2l-.5 1l-.5-.8M505.1 304.5M524.5 298.4l-.6 .2l0-.4l.3 .6l.3-.4M527.6 290.4l.9-.4l.5 0M547.3 296.1l.4 .4l0-.4l-.2 .9l-.2-.9M507 301.2l.9-.2l.4-.2M492.9 296l1.1-.1M497 303.6l.5 .1M539.6 299.6l-.2-.6M531.8 304.9l0-.7M508.5 301.3l.7-.3M542.2 290.9l.5-.1M530.1 302.8l-.5-.4l.2 .7M494.3 295.5l.8 0M508.1 298.1l.7-.1l.7-.2M543.5 293.6l.4 0M494.6 298.3l.2-.6l.7-.1M501.6 294.4l-.4 .1l-.9-.5M537.1 300l-.5 .3l.1-.4M545 295.8l1.1-.7l-.5 1.1l-.6-.4M528.1 291.4l.7-.4l.5 .2M497.1 294.5l.4-.2l-.3 .8l-.1-.6M531.6 298.2l.2-.4M528.8 304.2l.5-.2M535.3 304.5l.7-.1l.5 0l-.6 .8l-.6-.7M499.7 300.5l.6-.2l.7-.2l-.7 .8l-.6-.4M494.8 290l.9 .2l.5-.1M528.4 296l.4-.5l.4-.2M506.6 299l.5-.1M540.9 304.1l.8 0l-.4 .9l-.4-.9M542.2 290.4l.5-.2M512.6 301l.9 .2l.6-.4M528.1 299.3l.3-.6M528.2 295.2M503.3 295.5M538 293.2l.9-.1l.5 .4M529.4 302.5l.3-.4M495.8 304.3l.7-.1M521.9 295.6l.1-.6M500.4 303l-.3-.6l.2 1l.1-.4M500.6 301.2l.5-.4M508 290.7l.5 0M543.6 300.6l0-.4M531.5 300.8l-.1-.6l0 .7M500.7 302.4l.1 .7l-.1-.7M524.4 301.4l.7-.3l.5 0M497.6 299.7l.1-.8l.5-.3M504.1 303.3l.3-.8M538.7 304.8l-.4 0M515.9 303l.6-.1l0-.5M507.8 292.5l.2 .4l.3-.4M521.3 292.7l.5-.2l-.3 .9l-.2-.7M518.6 290.9l.4 .3l.3-.4M524.4 299.9l.5 0M494.4 294M528.9 297.3M514.9 304.1l.2-.4l.6-.1M531.7 290.7l.2-.4l-.1 1.1l-.1-.7M545.8 290.7l-.5-.2M514.3 293.1l-.1-.8M505 303.2l.6 0l.6 0M520.5 297l-.1-.5M534.4 296.9l.6 .4M537 297.9l.6-.3l.7 0M509.2 292l.7 .1M493.3 290.5l-.1-.4l0 .7M539.4 297.3M517 301.7l.5 0l.5-.3M526.4 291.3l.7-.3l-.2 .8l-.5-.5M508.1 298.1l-.2-1M126.8 263.3l.5 0M692 263.3l.5 0M110.2 277.7l1.3-.5M675.4 277.7l1.3-.5M104.3 267.7l.4-.5l-.3 1.2l-.1-.7M669.5 267.7l.4-.5l-.3 1.2l-.1-.7M145.1 265.6l.5-.1l.4-.3M710.3 265.6l.5-.1l.4-.3M128.9 259.6M694.1 259.6M120.5 262l.6-.2l.5-.2M685.7 262l.6-.2l.5-.2M124.1 261.4l.1 .4l-.1-.4M689.3 261.4l.1 .4l-.1-.4M145.1 270.2l1-.4l.5-.1l-.8 .9l-.7-.4M710.3 270.2l1-.4l.5-.1l-.8 .9l-.7-.4M125 263.2l-.6-.3M690.2 263.2l-.6-.3M115.4 262.2l.9 0l.6-.5M680.6 262.2l.9 0l.6-.5M134.6 267.9l-.4-.4l-1-.4M699.8 267.9l-.4-.4l-1-.4M133.8 269.4l.7-.3M699 269.4l.7-.3M125.7 265.4l.4-.2l-.2-.8M690.9 265.4l.4-.2l-.2-.8M104 272.7l1-.4l.6 .3l-.8 .9l-.8-.8M669.2 272.7l1-.4l.6 .3l-.8 .9l-.8-.8M147.9 266.1l.8-.1l.4-.4M713.1 266.1l.8-.1l.4-.4M135.8 271.2l.7-.1l.4 0M701 271.2l.7-.1l.4 0M116.4 261.6l.5 .1l.4-.7l-.4 .9l-.5-.3M681.6 261.6l.5 .1l.4-.7l-.4 .9l-.5-.3M106.6 261.4l.2-.9l.1 1.3l-.3-.4M671.8 261.4l.2-.9l.1 1.3l-.3-.4M116 263.6l1-.4l.5-.1M681.2 263.6l1-.4l.5-.1M142.8 276.1l-.4 0l-.6-.6M708 276.1l-.4 0l-.6-.6M113.6 264.6l.8 .3l-.4 .3l-.4-.6M678.8 264.6l.8 .3l-.4 .3l-.4-.6M106.4 270.3l-.5-.1l-1-.4l.7 .7l.8-.2M671.6 270.3l-.5-.1l-1-.4l.7 .7l.8-.2M125.3 278.2l.1-.5l0 .7M690.5 278.2l.1-.5l0 .7M106.2 276.2l1-.3l.6 .3M671.4 276.2l1-.3l.6 .3M115.2 259.8l0-.4M680.4 259.8l0-.4M102.5 276.4l.6 0l.5-.5M667.7 276.4l.6 0l.5-.5M110.7 258.6l-.6-.7M675.9 258.6l-.6-.7M126 265l.9-.3M691.2 265l.9-.3M143.8 262.1l.3-.4M709 262.1l.3-.4M134.7 258.4l-.7-.1l-.2-.4l.5 .8l.4-.3M699.9 258.4l-.7-.1l-.2-.4l.5 .8l.4-.3M124.8 271.8l.7-.2l1.1 0M690 271.8l.7-.2l1.1 0M119 258.4l.8 .4l.5 .3M684.2 258.4l.8 .4l.5 .3M123.4 261.9l-1-.1l-.6-.3l.8 .7l.8-.3M688.6 261.9l-1-.1l-.6-.3l.8 .7l.8-.3M132.9 269.1l.2-.5l-.2 .8M698.1 269.1l.2-.5l-.2 .8M135.1 275.2l.4-.3l1.1-.5M700.3 275.2l.4-.3l1.1-.5M149.4 275.2l.7-.3l.4 .1M714.6 275.2l.7-.3l.4 .1M109.1 273l.4-.3l-.2 1.2l-.2-.9M674.3 273l.4-.3l-.2 1.2l-.2-.9M108.1 275.3l.5-.2M673.3 275.3l.5-.2M125.6 261l.1 .5l-.1-.5M690.8 261l.1 .5l-.1-.5M113 261l.4 0l1 .2M678.2 261l.4 0l1 .2M145.2 270.3l-.2-.4l-.3-.4M710.4 270.3l-.2-.4l-.3-.4M124.7 277.8l.4-.3l.7 .1M689.9 277.8l.4-.3l.7 .1M123 259.2l0 .7l0-.7M688.2 259.2l0 .7l0-.7M130.7 263.6l.3-.5M695.9 263.6l.3-.5M138.1 265.5l.7-.3l.6-.2l-.7 .7l-.6-.2M703.3 265.5l.7-.3l.6-.2l-.7 .7l-.6-.2M135.5 261.9l.8 .1l.3-.6M700.7 261.9l.8 .1l.3-.6M126.9 276.8l-.5-.3M692.1 276.8l-.5-.3M147.3 270.7l.5 .1M712.5 270.7l.5 .1M128.2 256.7l.2-.4l.6 .1l-.4 .7l-.4-.4M693.4 256.7l.2-.4l.6 .1l-.4 .7l-.4-.4M126.5 266.5M691.7 266.5M118.8 255.7l.2-.5M684 255.7l.2-.5M105.7 266.2l-.8-.1M670.9 266.2l-.8-.1M126.6 269.9l.3-.6M691.8 269.9l.3-.6M137.1 269.8l1.1-.6l-.5 .9l-.6-.3M702.3 269.8l1.1-.6l-.5 .9l-.6-.3M137.2 278l1.1-.2l.5-.1M702.4 278l1.1-.2l.5-.1M147.4 268.3l.9-.3l.7 .1l-.8 .5l-.8-.3M712.6 268.3l.9-.3l.7 .1l-.8 .5l-.8-.3M126.4 264.6l.9 0l.3-.4M691.6 264.6l.9 0l.3-.4M122.2 269l.7-.1M687.4 269l.7-.1M128.4 258l.4-.5l.8-.4l-.6 1.3l-.6-.4M693.6 258l.4-.5l.8-.4l-.6 1.3l-.6-.4M127.3 256l.7-.6l.2-.6M692.5 256l.7-.6l.2-.6M110 260.5l-.3-.4l-.4-.1M675.2 260.5l-.3-.4l-.4-.1M106.7 268M671.9 268M111.6 273.5l.6-.1l.6-.2l-.6 .8l-.6-.5M676.8 273.5l.6-.1l.6-.2l-.6 .8l-.6-.5M126.4 270.8l.6-.8M691.6 270.8l.6-.8M125.2 259.2l.4 .1M690.4 259.2l.4 .1M146.9 269.2l.5 .2l.5-.4M712.1 269.2l.5 .2l.5-.4M102.2 274.1l.4-.5l.6 .2l-.5 .7l-.5-.4M667.4 274.1l.4-.5l.6 .2l-.5 .7l-.5-.4M115.7 259.1l-.1 .6l.1-.6M680.9 259.1l-.1 .6l.1-.6M111.1 275.7l.1-.4l-.1 1.1l0-.7M676.3 275.7l.1-.4l-.1 1.1l0-.7M138 267.7l.9-.4l.7-.2M703.2 267.7l.9-.4l.7-.2M139 266.4l-.5-.2l.3 .8l.2-.6M704.2 266.4l-.5-.2l.3 .8l.2-.6M121.8 259.3l.5-.7l.4 0M687 259.3l.5-.7l.4 0M146.4 277.1l-.6-.2l-1.1-.1M711.6 277.1l-.6-.2l-1.1-.1M130 273.4M695.2 273.4M131.2 261.4l.4-.4l.5-.5M696.4 261.4l.4-.4l.5-.5M144.5 271.7l.6-.5l.8 .3M709.7 271.7l.6-.5l.8 .3M116.2 261.1l.7 0l.8-.5M681.4 261.1l.7 0l.8-.5M126.7 266.5l.4-.2M691.9 266.5l.4-.2M143.2 278.1l.4 .1M708.4 278.1l.4 .1M125.6 266.2l-.2-.8l-.5-.3l.4 1.4M690.8 266.2l-.2-.8l-.5-.3l.4 1.4M116.2 257.5l-.9-.1l-.7-.1M681.4 257.5l-.9-.1l-.7-.1M103 266.2l.5-.1l.7 .2M668.2 266.2l.5-.1l.7 .2M124.4 259.3l.4 .3M689.6 259.3l.4 .3M125.4 261.8l.7-.2M690.6 261.8l.7-.2M101.5 272.9l.4 0l.4-.2M666.7 272.9l.4 0l.4-.2M134.7 266.7l.9-.5l.5 .3M699.9 266.7l.9-.5l.5 .3M142.8 273.3l.6 0l.7-.1M708 273.3l.6 0l.7-.1M118.8 273.3l.6-.4l.8 .3l-.7 .6l-.7-.5M684 273.3l.6-.4l.8 .3l-.7 .6l-.7-.5M129.1 270l.8-.2l.8-.5M694.3 270l.8-.2l.8-.5M144.6 276.9M709.8 276.9M149.2 268.9l.8-.5l.4 .1l-.6 .7l-.6-.3M714.4 268.9l.8-.5l.4 .1l-.6 .7l-.6-.3M145.4 262.6l.4-.3l1.1 0M710.6 262.6l.4-.3l1.1 0M131.3 270.1l-.4 .1l-.3-.4M696.5 270.1l-.4 .1l-.3-.4M121.6 268.4l-.3-.5M686.8 268.4l-.3-.5M121.3 260.2l-.4-.8l-.9-.2M686.5 260.2l-.4-.8l-.9-.2M126.8 269.7l-.2-.5l.1 1l.1-.5M692 269.7l-.2-.5l.1 1l.1-.5M133.9 267.4M699.1 267.4M124.9 267.6l-.4-.4M690.1 267.6l-.4-.4M133.9 269.9l-.9 0l-.7-.2M699.1 269.9l-.9 0l-.7-.2M130.5 277.8l.7-.3M695.7 277.8l.7-.3M137.9 268.9l-.4-.2M703.1 268.9l-.4-.2M125.9 270.2l.2-.7M691.1 270.2l.2-.7M109 260.9l.5-.1M674.2 260.9l.5-.1M124.9 263.8l1.2-.1l.7 0M690.1 263.8l1.2-.1l.7 0M141.8 258.2l.8-.3M707 258.2l.8-.3M142.7 277.1l.9 .5l.8 .1M707.9 277.1l.9 .5l.8 .1M144 269.8l.3-.4l0 .5M709.2 269.8l.3-.4l0 .5M109.4 266.1l.2-.4M674.6 266.1l.2-.4M129.2 262.8l.9 0M694.4 262.8l.9 0M130.1 278.3l.7-.1l.3-.4l-.5 .6l-.5-.1M695.3 278.3l.7-.1l.3-.4l-.5 .6l-.5-.1M105.5 272.4l.4 0l.6-.2M670.7 272.4l.4 0l.6-.2M117.9 263.2l.4-.2l-.2 1l-.2-.8M683.1 263.2l.4-.2l-.2 1l-.2-.8M134.8 274.9l.3-.4l.6 .2M700 274.9l.3-.4l.6 .2M137.9 263.9l0-.8M703.1 263.9l0-.8M134.2 256.5l.5 0l.2-.4M699.4 256.5l.5 0l.2-.4M114.4 265.3l.2-.6l.6-.3M679.6 265.3l.2-.6l.6-.3M111.2 273.2l.4-.4M676.4 273.2l.4-.4M123.1 273.9l.7 .1M688.3 273.9l.7 .1M125.9 260.2l.4-.4l.7-.3l-.5 1.3l-.6-.6M691.1 260.2l.4-.4l.7-.3l-.5 1.3l-.6-.6M136.3 267.2l.7-.3M701.5 267.2l.7-.3M139.9 269.1l.9-.2l.9-.1M705.1 269.1l.9-.2l.9-.1M141.2 262.4l.5-.2l1.1 .3M706.4 262.4l.5-.2l1.1 .3M128.1 261.6l-.6-.4l0-.6l.3 1.2M693.3 261.6l-.6-.4l0-.6l.3 1.2M106.9 274.5l1.1-.2l-.5 .5l-.6-.3M672.1 274.5l1.1-.2l-.5 .5l-.6-.3M102.9 275.1l.6-.2l-.3 .8l-.3-.6M668.1 275.1l.6-.2l-.3 .8l-.3-.6M104.3 263.7l-.2-.8M669.5 263.7l-.2-.8M145.2 259.1l-.1-.7l.1 .8M710.4 259.1l-.1-.7l.1 .8M121.9 276.1l.2-.6l.1 .8M687.1 276.1l.2-.6l.1 .8M145.3 276.8l.5-.5l0-.5M710.5 276.8l.5-.5l0-.5M128.1 256.9l.5-.7l.2-.5l-.3 1.4l-.4-.2M693.3 256.9l.5-.7l.2-.5l-.3 1.4l-.4-.2M138.4 274.1l0-.5M703.6 274.1l0-.5M121.6 274.3l-.3-.6l.2 1.1l.1-.5M686.8 274.3l-.3-.6l.2 1.1l.1-.5M134.6 263.7l-.4 0l-.9-.6M699.8 263.7l-.4 0l-.9-.6M133.6 276.4l.4 0l-.2-.4M698.8 276.4l.4 0l-.2-.4M125.4 257l-.3-.4l-.4 .2M690.6 257l-.3-.4l-.4 .2M137.8 266l.1 .6l-.1-.6M703 266l.1 .6l-.1-.6M141.4 259.3l-.1-1.1M706.6 259.3l-.1-1.1M102.4 275.8l.6 0l.5-.5M667.6 275.8l.6 0l.5-.5M150.3 263.5l1-.6l.7 .1M715.5 263.5l1-.6l.7 .1M104.3 270l.7 .2l.7-.4M669.5 270l.7 .2l.7-.4M105.5 264.1l.5-.4l.5-.2l-.5 1l-.5-.4M670.7 264.1l.5-.4l.5-.2l-.5 1l-.5-.4M144.3 277.3l.8-.4M709.5 277.3l.8-.4M123 271.8l.6-.5l-.3 .8M688.2 271.8l.6-.5l-.3 .8M126.3 261.3l-.5 .2l-.5-.6l.5 1l.5-.6M691.5 261.3l-.5 .2l-.5-.6l.5 1l.5-.6M102.8 277.3l1 .4l.8-.1l-.9 .4l-.9-.7M668 277.3l1 .4l.8-.1l-.9 .4l-.9-.7M137.2 260.6l.4-.4l.6-.3M702.4 260.6l.4-.4l.6-.3M123.3 266.4l.6-.4l.9 0M688.5 266.4l.6-.4l.9 0M128.4 261.5l.9-.3l.4-.6M693.6 261.5l.9-.3l.4-.6M115.9 256.7l-.5 0l-.7-.1M681.1 256.7l-.5 0l-.7-.1M129.6 260.1l.9-.1l-.4 .7l-.5-.6M694.8 260.1l.9-.1l-.4 .7l-.5-.6M283.5 269.2l-.4-.5l.2-.7l.1 1.1M334 279.1l.5-.7M359.5 269l.7-.3l1-.3M169 250.3l.8-.1l.5-.1M734.2 250.3l.8-.1l.5-.1M339.8 280.9M241.4 261.4M302.9 273.4l.4-.2l.5 .2M159.5 270.9l.4-.3l.8 .3l-.6 .9l-.6-.9M724.7 270.9l.4-.3l.8 .3l-.6 .9l-.6-.9M168.1 263.1l.4-.2l-.1-.6l-.2 .9M733.3 263.1l.4-.2l-.1-.6l-.2 .9M340.3 261.4l.8-.2l.6-.1M182.5 271.2l.7-.2l.5-.4M747.7 271.2l.7-.2l.5-.4M212.6 277.1l-.5-.4l.2 1.1l.3-.7M203.6 256.9l1-.2M147.7 269l.4-.2l.7 0l-.5 .7l-.6-.5M712.9 269l.4-.2l.7 0l-.5 .7l-.6-.5M249.5 273.2l-.4-.5l.3 .9l.1-.4M209.1 270.3l1 .1M252.7 281.6l.8-.1l-.4 .8l-.4-.7M297.9 279.9l.5 .1l.4-.1l-.5 .9l-.4-.9M220.8 266.5l.5 .1l.2-.4M227.7 247.9l.5-.4l0-.4M287.9 259.5l.3-.4l.4 .3M300.2 269.6l-.9-.2l-.8-.2l.8 1.1l.9-.7M329.8 261.6l.6 0l.4-.2M344.5 268.6l.4 0l-.2 .4l-.2-.4M157.6 272l.5-.4M722.8 272l.5-.4M167.8 273l-.1-.4M733 273l-.1-.4M276.1 251.8l.7-.3M256.2 266.3l-.3-.4M258.3 258.2l.6-.2l.4-.1M171.8 247.1l.9 0l.5-.2M737 247.1l.9 0l.5-.2M300.7 268.7l1-.2l.6-.4M179.1 279.5l.4-.2l.8 0M744.3 279.5l.4-.2l.8 0M298 279.1l.4-.3M329.1 264.9l.4-.2M247.2 249.2l.6-.4M243.2 278.3l.7 .3M193.8 273.4l.5-.3l.7-.5M201.4 252.9l.6-.6l.3-.6M364.3 258.2l.5-.3l-.3 .7l-.2-.4M265.6 250.1l.5-.3l.6-.3M212.5 267.1l.2-.5l.1-.8M239.8 252.6l.4-.1l.7-.2l-.5 .5l-.6-.2M316.3 264.2l1 0l-.5 .9l-.5-.9M336 268.7l.1-.5M311.8 264.7l.9 .2l.4 .3M169.9 262.7l.5-.6l.7-.3l-.6 1.2l-.6-.3M735.1 262.7l.5-.6l.7-.3l-.6 1.2l-.6-.3M331.9 264.3l.3-.4l-.2 .7M286.6 268.9l.8-.3l.7 0l-.7 .9l-.8-.6M177.7 247.2l-.7-.3l-.4 .1M742.9 247.2l-.7-.3l-.4 .1M230.4 257.8l1-.5l.4 .2M222.9 277l.6-.3M303.3 274.4l.2-.7l-.1 1.2l-.1-.5M228.5 263.6l.3-.4M197.9 282.2l.5 .1M314.5 267.6l.4-.2l.1-.4M219.6 331.2l.1 .5l-.1-.5M233.7 335.2l-.4-.3l-.3-.4l.4 .9M236.9 330.8l-.7-.1M217.6 331.5M212.8 322.2l1.1-.1M216.2 331.5l.6 .1l.4-.3M226.9 330.5l.6-.5M228.5 320.5l.5-.5M235.4 326.3l.6-.1M219.7 335.4l-.1-.5M213.5 321.1l.5 .3M208.8 333.2l-.4-.6l.2 1l.2-.4M219 328.9l.2-.4l.4 .3l-.3 .6l-.3-.5M213.5 323.7l.5 .2l.5-.1M229.5 335.7l-.4 .2M235.6 330.4l1.2-.2M231.8 320l-.4-.2M214.2 329l-.2-.7l.1 .9M237.1 331.2l.2-.4l.8 0M240.1 330.9l.8-.5M216.7 333.9l.5-.1M207 335.6l.7-.2M225.5 332l-.3-.4l-.8 .3M225.6 328.6l.9 .2l-.4 .5l-.5-.7M237.1 334.1l-.2-.4M129.5 315.9l-.3-.4M694.7 315.9l-.3-.4M125.5 318.3l.2 .5l-.2-.5M690.7 318.3l.2 .5l-.2-.5M120.8 311.2l.7 .2M686 311.2l.7 .2M117.1 319.9l.4 0l-.2 .8l-.2-.8M682.3 319.9l.4 0l-.2 .8l-.2-.8M121.3 315.2l-.5-.1l.3 .8l.2-.7M686.5 315.2l-.5-.1l.3 .8l.2-.7M120 319.8M685.2 319.8M124.9 313.4l-.1-.9l.1 1.2M690.1 313.4l-.1-.9l.1 1.2M128.3 321.2l.4-.1M693.5 321.2l.4-.1M115.1 316.6l.4-.3l.5-.1M680.3 316.6l.4-.3l.5-.1M124.9 317.4l.3-.4M690.1 317.4l.3-.4M122 314.8l.4-.5l.4 .3M687.2 314.8l.4-.5l.4 .3M122.9 318.9l.4-.1l-.2 .8l-.2-.7M688.1 318.9l.4-.1l-.2 .8l-.2-.7M125.4 320.1l.4-.2M690.6 320.1l.4-.2M123.7 321.9M688.9 321.9M124.4 313.6l.6-.1M689.6 313.6l.6-.1M114.6 320l.4 .2l.7 .1M679.8 320l.4 .2l.7 .1M114.6 311.8l.5-.1l.2 .4M679.8 311.8l.5-.1l.2 .4M124.7 321.7l.5 0M689.9 321.7l.5 0M124.7 319l.6-.3M689.9 319l.6-.3M120.2 316.6l.5-.6M685.4 316.6l.5-.6M121.9 314.8l.3-.8M687.1 314.8l.3-.8M125.1 320.5l.5-.4M690.3 320.5l.5-.4M122.1 313.8l.7-.4M687.3 313.8l.7-.4M118 319.7l-.9-.6M683.2 319.7l-.9-.6M127.3 313.1l.4-.2M692.5 313.1l.4-.2M124.7 317.3l.3-.6M689.9 317.3l.3-.6M127.2 314.5l.6-.3l.1-.4M692.4 314.5l.6-.3l.1-.4M125.8 321.2l.8-.1l-.4 .9l-.4-.8M691 321.2l.8-.1l-.4 .9l-.4-.8M124.3 319l.5-.4M689.5 319l.5-.4M129.7 314.4l.5-.3M694.9 314.4l.5-.3M125 316.6l.1-.4l-.5 0M690.2 316.6l.1-.4l-.5 0M118.6 321.9l.6-.6M683.8 321.9l.6-.6M118.6 313.9l.5-.6l.4 .2M683.8 313.9l.5-.6l.4 .2M119.8 312l.4-.6M685 312l.4-.6M121.5 313.2M686.7 313.2M120.3 320l.1-.5M685.5 320l.1-.5M120.6 311.3l.6-.6M685.8 311.3l.6-.6M124.3 321.2l.6-.3M689.5 321.2l.6-.3M120.6 318M685.8 318M128.6 318.2l.4 0l.4 0M693.8 318.2l.4 0l.4 0M116.1 317l.2-.4M681.3 317l.2-.4M124.7 317.5l.6 .2l.7 0l-.6 .5l-.7-.7M689.9 317.5l.6 .2l.7 0l-.6 .5l-.7-.7M126.7 312.5l.5-.1M691.9 312.5l.5-.1M129.8 312l.6 0l.3-.5M695 312l.6 0l.3-.5M115.1 321.4l.8-.4l-.3 1l-.5-.6M680.3 321.4l.8-.4l-.3 1l-.5-.6M254.7 381.6M284.8 360.2l-.1-.6M233.7 362.5l.7 0M262.6 407.1l.6-.2l.6 .4M254.7 370.1M243.8 405M239.5 372.5l.4-.1l.8-.1l-.6 .8l-.6-.6M258.6 376.7l0 .6l0-.6M248.1 367.1l.1-.4M235.5 354.9l.4-.1l.2-.7M270.9 400.8l.8 0l-.4 .5l-.4-.5M237 386.5l.3-.6M273.2 383.6l.2-.4l.6 .1l-.4 1.1l-.4-.8M280.9 406.8l.3-.5l.6-.1M241.4 359.5l.1-.4M285.8 402.7l-.7-.1l.3 .6l.4-.5M248.6 352.2l.4 .1l.7 0M266.5 357.7l.4 0l0 .8l-.4-.8M256.4 394.6l-.4-.2l.2 .7l.2-.5M288.3 408.1M257.2 398.3l.5-.5M279.7 374.4l.7-.4l-.3 .7l-.4-.3M240.2 357l.6-.2l-.2 .9l-.4-.7M241.3 380.7l-.4-.5M239.6 379.9l-.3-.5M268.4 405.9l1-.2M275.1 400.7l.1 .8l-.1-.8M234.8 384.3l.4 0M266.6 352.5l.8 .1M265.2 352.7l-.3-.5M268.4 376.6l-.7 .1l.3 .7l.4-.8M243.6 364.4l.4 .3l.1-.4M247.7 353.4l.5-.3l.4 .3M236.9 365.6l-.5-.1M236.8 394.5l.5 .1M241.2 360.8l.7-.3M278 364.5l.2-.6l-.5-.3l.2 1.3l.1-.4M266.4 371.8M286.9 397.2l.2-.4l.4-.3l-.3 1.2l-.3-.5M279.1 400.1l-.4-.2l.2 .8l.2-.6M247.9 362.7l.5-.3l-.3 .6M279.6 374.1M248.3 357M281 404l.4 .1l.7-.4l-.6 .9l-.5-.6M283.3 406l.4 .2l.4-.2l-.4 .6l-.4-.6M278.1 375.5l-.6-.2M261.8 357.2M262.2 395.3l.3-.6M256.8 360.9l.1 .6l-.1-.6M250.2 401.6l-.5-.3M276.6 374.4l.4-.1M284.6 392.6M247 364.1l.5-.1M255.5 382.6l.4-.1M262.8 382l.5-.3l-.2 .7l-.3-.4M255.3 371.4l.5-.5l.5 .1M247.7 357l.2-.5M279.4 357.3l.6-.1l-.3 .7l-.3-.6M254.6 381.8l.5 .3M260.7 407l.1-.4l.6 0M112.2 298.6l.7-.5M677.4 298.6l.7-.5M98.6 303.3l.1-.4M663.8 303.3l.1-.4M143.6 294.1l.5-.1l-.2 .6l-.3-.5M708.8 294.1l.5-.1l-.2 .6l-.3-.5M118.9 285l.4-.4l-.2 .8l-.2-.4M684.1 285l.4-.4l-.2 .8l-.2-.4M79.9 312.5l.4-.2l-.2 .7l-.2-.5M645.1 312.5l.4-.2l-.2 .7l-.2-.5M75.8 320.3l.5-.6M641 320.3l.5-.6M81 315l.4 0M646.2 315l.4 0M123.1 301.5l.6-.1l-.2 .4l-.4-.3M688.3 301.5l.6-.1l-.2 .4l-.4-.3M82.8 286.5l-.4 .1l-.2-.4M648 286.5l-.4 .1l-.2-.4M87.3 297.6l.8-.5M652.5 297.6l.8-.5M141.2 299.8l.7-.7M706.4 299.8l.7-.7M106.5 289.1l1-.4M671.7 289.1l1-.4M116.8 287.2l.1-.4M682 287.2l.1-.4M103.5 294.2l.6-.2M668.7 294.2l.6-.2M111.9 288l.4-.1l-.1 .6l-.3-.5M677.1 288l.4-.1l-.1 .6l-.3-.5M79.8 297.9l.5 .2l.5-.1l-.5 .5l-.5-.6M645 297.9l.5 .2l.5-.1l-.5 .5l-.5-.6M124.7 299.5l.4-.4l-.2 .8l-.2-.4M689.9 299.5l.4-.4l-.2 .8l-.2-.4M76.5 313.3l-.4-.4M641.7 313.3l-.4-.4M80 309.8l.8-.1M645.2 309.8l.8-.1M115.9 308.2l.4 .4l-.1 .5l-.3-.9M681.1 308.2l.4 .4l-.1 .5l-.3-.9M83.2 304.4l.5-.2l.3 .5M648.4 304.4l.5-.2l.3 .5M99.8 294.3l-.1-.7l-.5 0l.3 1.1l.3-.4M665 294.3l-.1-.7l-.5 0l.3 1.1l.3-.4M141.5 283l.4-.6l-.2 .9M706.7 283l.4-.6l-.2 .9M103.8 288l.4-.6M669 288l.4-.6M134.2 314.6M699.4 314.6M131 313.7l-.4 .2M696.2 313.7l-.4 .2M80.5 317l-.4-.2l.3-.4l0 1l.1-.4M645.7 317l-.4-.2l.3-.4l0 1l.1-.4M81.7 307.8l-.6-.8M646.9 307.8l-.6-.8M144.9 317.1l1.1 0M710.1 317.1l1.1 0M84.8 301.1l.4 .4l.7-.1M650 301.1l.4 .4l.7-.1M143.1 302.6l-.5-.5l.2 1.1l.3-.6M708.3 302.6l-.5-.5l.2 1.1l.3-.6M116.2 286.8M681.4 286.8M114.1 304.8l.5-.3M679.3 304.8l.5-.3M122.6 303.7l.2-.5M687.8 303.7l.2-.5M91.8 304.5l-.5 0l.2 .9l.3-.9M657 304.5l-.5 0l.2 .9l.3-.9M105.9 308.9l.1 .6l-.1-.6M671.1 308.9l.1 .6l-.1-.6M107.8 296.2l-.7-.7M673 296.2l-.7-.7M128 301.9l.5-.1l.7 0M693.2 301.9l.5-.1l.7 0M143.7 312.1l.4-.4l0 1l-.4-.6M708.9 312.1l.4-.4l0 1l-.4-.6M88.1 298l.9 0M653.3 298l.9 0M537.4 302.7l-.1-.4M529.3 300.3l.5-.1M510.8 323.7l.6 .2l.5-.5M463.4 295.7l-.1-.4l.4 .3M506.7 329.4l.2 .4l-.2-.4M498.5 310l.3-.4M474.1 325.9l0-.8M471.5 305.4l.8-.4l-.2 1.1l-.6-.7M468.3 296.3l.3-.7M459.9 320.5l.4-.5l.4 0l-.4 .9l-.4-.4M492 324.2M483.2 339.9l.8 .1M498.7 313.7l.5 0M473.1 312.7l.5-.4l.2 .4M514 320.1l.5-.2M529.9 299l.5-.1M520.4 310.8l-.8-.2l.4 .8l.4-.6M472.6 297.1l0-.5M463 318.9l.2-.5M475.7 303.5M486.6 300.7l.4-.2l.4-.2l-.4 .9l-.4-.5M533.8 299.4l.1-.7l.6 0M534.3 305.3l.4-.2l-.2 1l-.2-.8M510.1 295.9l.5 0M484.3 340.9M471.5 302.6l.5-.2M521.5 296.5l.3-.4M502.3 297.4l.7-.1l-.3 .6l-.4-.5M529.7 299.5M490.1 315.4M530.3 313.2l.4-.3M505.4 323.9l.6-.1l-.3 .8l-.3-.7M509.4 317.1l.5-.5M510.1 311.6l.5-.2M513.1 316.6l.5-.5l.7 .3M478.7 324.8l.5-.3M462.7 296.8l.6-.5l.5 .3M491 341.1l.1-.5l.5 0l-.3 1.1l-.3-.6M503 325l.4 .3l.1-.5M497.2 334.2l.2-.5l.5 .1l-.3 .6l-.4-.2M487.4 307l.1 .8l-.1-.8M514.8 320.3l.1 .5l-.1-.5M470.9 302.9l.4 .3l.8-.4M461.6 303l1 .2l-.5 .5l-.5-.7M499.5 327.7l-.5-.2l-.6 0l.6 .8l.5-.6M500.6 322.2l-.1-.4l-.5 .1l.3 .6M472.6 318.6l-.7-.6l.3 .9l.4-.3M481.8 301.6l.1-.4l-.2-.4M535.7 304.9l.5-.1l-.2 .5l-.3-.4M503.5 301.7l-.4-.1M547.7 428.8l-.5-.1M528.4 408.3l.6 .1l.1-.4M568.8 423l.7-.2M592.6 400.6l.6-.2l-.3 .9l-.3-.7M528.6 381l.2-.4l-.2 1l0-.6M554.4 425.6l.5 0M557.6 420.1l.4 .2l.6-.4l-.5 1l-.5-.8M535.1 375.5l.2-.4l0 1.3l-.2-.9M564.3 382.8l-.5 0M575 425.6l1.1 0l-.6 .8l-.5-.8M550 374.2l.4-.3l-.2 .9l-.2-.6M546.3 400.1l.5-.3l-.2 .7l-.3-.4M554.1 421.6l.2-.5M565.9 435.3l-.7-.2M538 386.3l-.5-.3l.3 .6M569.6 394.6l.3-.5M576.3 398.8l0-.6l0 1l0-.4M553.9 382.8l.4-.1l.4-.6M557 426.2l.5-.8M543.4 427.4l.5-.2l-.1 .5l-.4-.3M563.5 392.3l.7-.3M565.7 420.4l.5 0l-.3 .5l-.2-.5M538.1 383.6l.6-.3M576.1 430.3l.7 0l.2-.4M561.1 399.7l.4 .3l.4-.4M134.2 350.5M699.4 350.5M128 423.9M693.2 423.9M125.4 420.3l.5-.5M690.6 420.3l.5-.5M116.9 423.5l.3-.4l.5 .1l-.4 .8l-.4-.5M682.1 423.5l.3-.4l.5 .1l-.4 .8l-.4-.5M116.4 331.8l.2-.5l.8 .4M681.6 331.8l.2-.5l.8 .4M75.1 372.3l.5-.2l.7 0M640.3 372.3l.5-.2l.7 0M102.8 368.3l1.1-.3M668 368.3l1.1-.3M119.9 383.6l.4 0l.4-.1M685.1 383.6l.4 0l.4-.1M154.2 383.3l.7-.5l-.4 1.2l-.3-.7M719.4 383.3l.7-.5l-.4 1.2l-.3-.7M140.9 374.3l-.3-.7M706.1 374.3l-.3-.7M79.3 365l0-.4l0 .7M644.5 365l0-.4l0 .7M160.2 371l-.2-.4M725.4 371l-.2-.4M147.7 410.9l.5-.1M712.9 410.9l.5-.1M110.5 337.6M675.7 337.6M74.9 331.6l.1-.5l-.2 .9l.1-.4M640.1 331.6l.1-.5l-.2 .9l.1-.4M149.8 382.4l.6 .1M715 382.4l.6 .1M72.5 360.7l.7-.1M637.7 360.7l.7-.1M146.4 414.9l.2-.6l-.1 1.1l-.1-.5M711.6 414.9l.2-.6l-.1 1.1l-.1-.5M86.7 371l1 .3M651.9 371l1 .3M107.2 374.6l.6-.3M672.4 374.6l.6-.3M123.6 402.4l.5 .2l-.3 .4l-.2-.6M688.8 402.4l.5 .2l-.3 .4l-.2-.6M106.8 420.5l0-.4l.1 .7M672 420.5l0-.4l.1 .7M146.2 360l.3 .4l-.3-.4M711.4 360l.3 .4l-.3-.4M157.4 333.9l.5 0M722.6 333.9l.5 0M140.7 347.9l.5 .2l.3-.6M705.9 347.9l.5 .2l.3-.6M141 385l-.4-.2l.2-.5l.1 1.1l.1-.4M706.2 385l-.4-.2l.2-.5l.1 1.1l.1-.4M138.2 364l.4-.1l-.2 .5l-.2-.4M703.4 364l.4-.1l-.2 .5l-.2-.4M103.1 370.4M668.3 370.4M131.3 393.5l.4 .2l.7-.3M696.5 393.5l.4 .2l.7-.3M118.9 431.3l.4 .1l-.2 .7l-.2-.8M684.1 431.3l.4 .1l-.2 .7l-.2-.8M136.2 429.1l-.9 0l.4 .6l.5-.6M701.4 429.1l-.9 0l.4 .6l.5-.6M630.1 349.1l.7-.4M157.3 332l1.1-.2l-.6 .6l-.5-.4M722.5 332l1.1-.2l-.6 .6l-.5-.4M112.8 339.4M678 339.4M119.7 364.1l.4 .2l-.1 .5l-.3-.7M684.9 364.1l.4 .2l-.1 .5l-.3-.7M207.6 331.3l.6-.5l.4-.1M268.4 323.8l.5 .1l.5-.4M183.7 336.5l.5-.4M748.9 336.5l.5-.4M194.3 308.1l.5-.2l.8 .4M253.8 296.7l.4 0l.6-.2M234.7 335l.1-.6l-.1 1.1l0-.5M223.8 312.4l.5 .3l-.2 .5l-.3-.8M223.2 300.5M216 350.7M244.3 313.9l.4-.3l-.2 .6M225.1 342.4l.6 0l-.3 .6l-.3-.6M206.2 347.7l.1-.5M238.4 325.5l-.4-.4M201.5 337.2l-.4-.3l.2 .9l.2-.6M196.9 299l-.2-.6M223.3 318l.5-.2l-.3 .6l-.2-.4M233.5 321.7l.6-.7M237.9 311.8l-.5-.6M269.1 332.4l-.8-.3l.4 .8l.4-.5M240 349.1l.7 .5M267.8 337.9l0 .5l0-.5M205.5 301.7l.8-.2M267.7 309l-.3-.5l.2 .7M253.5 333.3l.3-.7M202.8 339.3l0-.6M235.1 343.6l-.2-.5M253.6 338.2l.7 0M251.7 318.7l.5-.1M191.8 326l.9-.2M263.1 344.6l.9-.2l-.4 1l-.5-.8M205.5 331.1l.6-.1l.7 0M217.7 348.5l.6-.3l-.3 .7l-.3-.4M208.6 312.6l.5-.1l.1-.5M185.7 312.3l-.4-.1M262.7 313.9l.5-.6l-.3 .8M306.9 427.6l.4 .1l-.2 .9l-.2-1M276.1 435.8M310.7 439.2l.4-.2l.6 .3M278.9 426.2l.4-.3M289 420.3l.4 .1M290.4 421.7l.2-.5l.4 0M279.4 439.2l-.6-.6M268.5 435.5l-.2-.6l.3 1.1l-.1-.5"/>
<path stroke-width="2.1" d="M128.2 318.6l-.8 0l-.2-.6l.1-.6l-.7-.6l-.6-.7l.2-.6l.3-.6l0-.7l-1-.4l-.1-1l.5-.3l.4-.4M693.4 318.6l-.8 0l-.2-.6l.1-.6l-.7-.6l-.6-.7l.2-.6l.3-.6l0-.7l-1-.4l-.1-1l.5-.3l.4-.4M126.5 312.5l-1 .2l.4-.6M691.7 312.5l-1 .2l.4-.6M122.4 312l.3 .6l-.8-.3l.2 .6l-1-.5l0 .5l-.6-.6M687.6 312l.3 .6l-.8-.3l.2 .6l-1-.5l0 .5l-.6-.6M119.9 312.1l0 .7l.5 .8l.6 .8l-.6-.2l0 .7l.4 .6l.4 .7l.9 .1l.1 1l-.7-.5l-1 0l.3 .8l.5 .2l-.7 .1l-.5-.4l.7 1l-.1 1.1l-.8-.7l-.2 .8l-.6-.4l0-.7M685.1 312.1l0 .7l.5 .8l.6 .8l-.6-.2l0 .7l.4 .6l.4 .7l.9 .1l.1 1l-.7-.5l-1 0l.3 .8l.5 .2l-.7 .1l-.5-.4l.7 1l-.1 1.1l-.8-.7l-.2 .8l-.6-.4l0-.7M122.7 278.5l.2-.6l-1.3-.1l-.3-.8l0-.8l.7-.5l1.2 .1l1.7-.3l.9 .2l1 .1l1.6-.1l.7-.6l.9-.5l1 .2l.8 0l-.9-.5l-1.4-.5l-.4-.3l-1.2 .3l-1.3 .1l-.8 .4l-1.1-.2l-1 .3l-1.6 .3l-1.6 .3l-.3-.7l-.9-.4l-1.3-.3l-.2-1l.4-.9l-.8-.7l.4-.7l-.3-.5l.8-1l1.1-.6l1.1-.7l1-.5l.6-.7l.9-.7l1.3-.4l-.2-1l-1.1-.4l-.8-.1l-1.5 0l-1.4 .3l-1.1 .6l-.6 .6l.2 .5l-.4 .8l-1.1 1l-1.1 .3l-.5 .6l-1.3 .8l-.9 .6l-.8 .3l-.5 .7l.4 .7l-.7 .9l.4 1l1.2 .3l.9 .4l.7 .8l-.8 1l-.5 .1l-.3 .8l-1.4 .6l-.5 .4l.2 .5M687.9 278.5l.2-.6l-1.3-.1l-.3-.8l0-.8l.7-.5l1.2 .1l1.7-.3l.9 .2l1 .1l1.6-.1l.7-.6l.9-.5l1 .2l.8 0l-.9-.5l-1.4-.5l-.4-.3l-1.2 .3l-1.3 .1l-.8 .4l-1.1-.2l-1 .3l-1.6 .3l-1.6 .3l-.3-.7l-.9-.4l-1.3-.3l-.2-1l.4-.9l-.8-.7l.4-.7l-.3-.5l.8-1l1.1-.6l1.1-.7l1-.5l.6-.7l.9-.7l1.3-.4l-.2-1l-1.1-.4l-.8-.1l-1.5 0l-1.4 .3l-1.1 .6l-.6 .6l.2 .5l-.4 .8l-1.1 1l-1.1 .3l-.5 .6l-1.3 .8l-.9 .6l-.8 .3l-.5 .7l.4 .7l-.7 .9l.4 1l1.2 .3l.9 .4l.7 .8l-.8 1l-.5 .1l-.3 .8l-1.4 .6l-.5 .4l.2 .5M102.5 278.1l-.7-.6l.2-.7l-.2-.4l.3-.8l-.9-.7l0 .6l-.3 .5l-.8 .6l-.8 .2l-.8 .8l-1.2 .6M667.7 278.1l-.7-.6l.2-.7l-.2-.4l.3-.8l-.9-.7l0 .6l-.3 .5l-.8 .6l-.8 .2l-.8 .8l-1.2 .6M95.4 278.5l-.8-.3l-.9-.3l-.4-.5l-.1-.8l-.5-.7l-.3-.6l.2-.6l.1-.8l-.2-.5l-.3-.6l.6-.9l-.6-.8l.5-.6l1.4-.6l1.4-.7l1.1-.5l1.5-.5l1.2-.4l.8-.9l1.3-.8l.7-.7l1.1-.6l.5-.8l.6-.7l.7-.6l-.1-.6l.9-.5l1.2-.8l.7-.5l.3-.7l1.2-.5l1.1-.6l1.1-.9l1.3-1l1.5-.4l1.6-.6l1.6-.1l1.5-.4l1.6-.2l1.1-.6l1.6-.6l1.7-.2l1.9 .2l1.9-.2l1.2 .5l1.6 .4l1.7 .6l-1.7 .5l-.3 .5l1.6 0l1.1 .2l.7-.4M660.6 278.5l-.8-.3l-.9-.3l-.4-.5l-.1-.8l-.5-.7l-.3-.6l.2-.6l.1-.8l-.2-.5l-.2-.6l.5-.9l-.5-.8l.4-.6l1.4-.6l1.4-.7l1.1-.5l1.5-.5l1.2-.4l.8-.9l1.3-.8l.7-.7l1.1-.6l.5-.8l.6-.7l.7-.6l-.1-.6l.9-.5l1.2-.8l.7-.5l.2-.7l1.3-.5l1.1-.6l1.1-.9l1.3-1l1.5-.4l1.6-.6l1.6-.1l1.5-.4l1.6-.2l1.1-.6l1.6-.6l1.7-.2l1.9 .2l1.9-.2l1.2 .5l1.6 .4l1.7 .6l-1.7 .5l-.3 .5l1.6 0l1.1 .2l.7-.4M189.6 255.6l-.9-.7l.4-.8l.3-.6l1.3-.4l.6-.5l.6-.6l.4-.7l.4-.8l1.4-.7M247.4 290.7l.9-.1l.9-.1l1.2-.6l1.2-.5l.4-.5l.7-.4l.6-.4l.7-.4l.3-.7l.4-.7l.6-.6l.7-.5l.1-.6l.3-.5l.2-.6l.2-.6l-1 0l-.6 .6l-.4 .7l-.4 .7l-.4 .7l-.6 .5l-.9 .4l-.5 .5l-.4 .7l-.8 .2l-.6 .5l-.4 .5l-.6 .5l-.8 .3l-.9 .5zM130.4 395.6l.3 .4l.2 .6l.1 .6l.2 .5l.1 .6l0 .6l-.1 .7l-.2 .6l.2 .6l.3 .6l.3 .6l.5 .4l.2 .8l.1 .9l.5 .6l.3 .8l-1 0l-.3-.6l-.2-.7l-.2-.7l-.2-.7l-.2-.6l-.3-.6l-.2-.6l-.4-.5l-.1-.7l-.2-.7l0-.7l0-.7l.2-1.1zM695.6 395.6l.3 .4l.2 .6l.1 .6l.2 .5l.1 .6l0 .6l-.1 .7l-.2 .6l.2 .6l.3 .6l.3 .6l.5 .4l.2 .8l.1 .9l.5 .6l.3 .8l-1 0l-.3-.6l-.2-.7l-.2-.7l-.2-.7l-.2-.6l-.3-.6l-.2-.6l-.4-.5l-.1-.7l-.2-.7l0-.7l0-.7l.2-1.1zM137.8 407.4l.2 1l.6 .7l0 .8l.1 .7l.2 .7l.1 .7l.1 .7l.2 .7l.3 .7l.1 .7l0 .9l0 .9l-.8-.4l-.3-.8l-.1-.8l.1-.8l-.2-.9l-.1-.7l-.2-.7l-.2-.7l-.1-.7l-.1-.6l.1-.6l-.1-.5l-.1-.6zM703 407.4l.2 1l.6 .7l0 .8l.1 .7l.2 .7l.1 .7l.1 .7l.2 .7l.3 .7l.1 .7l0 .9l0 .9l-.8-.4l-.3-.8l-.1-.8l.1-.8l-.2-.9l-.1-.7l-.2-.7l-.2-.7l-.1-.7l-.1-.6l.1-.6l-.1-.5l-.1-.6zM131.5 274.7l1.6 .2l1.3 .1l1-.5l.9-.4l-.2-.7l-.2-.7l-.8-.5l-1.2-.2l-.8-.5l-.3 .8l-1.3 .3l-.5 .5l-.5 .6l.5 .5zM696.7 274.7l1.6 .2l1.3 .1l1-.5l.9-.4l-.2-.7l-.2-.7l-.8-.5l-1.2-.2l-.8-.5l-.3 .8l-1.3 .3l-.5 .5l-.5 .6l.5 .5zM138.3 272.8l1.8 .2l.5-.6l.6-.5l-.3-.9l-.8-.7l-1.4-.7l-.1 .8l-.2 .9l-.2 .7zM703.5 272.8l1.8 .2l.5-.6l.6-.5l-.3-.9l-.8-.7l-1.4-.7l-.1 .8l-.2 .9l-.2 .7zM75.5 293.7l1.1-.2l.5-.5l.9 .1l.9-.3l.8-.4l.7 .3l.9-.1M640.7 293.7l1.1-.2l.5-.5l.9 .1l.9-.3l.8-.4l.7 .3l.9-.1M81.3 282.7l-1-.5l-.9 .1l.6-.5l.6-.8l.6-.9M646.5 282.7l-1-.5l-.9 .1l.6-.5l.6-.8l.6-.9M80.5 278.8l-1.3 .3l-1.2 .4l.4-1l.5-.7l.7-.5l-1.6-.5l-1.4 .6l0 .6l-.5 .5l-.2 .7l-.6 .5l.4 .5l-.1 .6l-.9 .2l.9 .8l.2 .5l0 .6l-.4 .8l1.2-.6l0 .6l.3 .5l-.5 .4l.9 .1l.8-.1l1.1-.2l-.3 1l.8 .7l-.1 .6l.1 .6l-.8 .1l-.8 .3l-.9-.2l.3 .7l-.5 .2l1 .2l0 .8l-1 .5l-.8 .3l.4 .4l1.2 .1l.6 .1l1 .3l.8-.3l-.7 .7l-.8-.3l-.9 .3l-.5 .6l-.1 .6l-.8 .3l-.9 .7M645.7 278.8l-1.3 .3l-1.2 .4l.4-1l.5-.7l.7-.5l-1.6-.5l-1.4 .6l0 .6l-.5 .5l-.2 .7l-.6 .5l.4 .5l-.1 .6l-.9 .2l.9 .8l.2 .5l0 .6l-.4 .8l1.2-.6l0 .6l.3 .5l-.5 .4l.9 .1l.8-.1l1.1-.2l-.3 1l.8 .7l-.1 .6l.1 .6l-.8 .1l-.8 .3l-.9-.2l.3 .7l-.5 .2l1 .2l0 .8l-1 .5l-.8 .3l.4 .4l1.2 .1l.6 .1l1 .3l.8-.3l-.7 .7l-.8-.3l-.9 .3l-.5 .6l-.1 .6l-.8 .3l-.9 .7M74.4 289.6l.8-.6l-.3-.8l-.1-.8l.2-.7l-.3-.6l1.1-.7l-.2-.6l-.8-.9l-.9-.4l-1 .1l-.6 .4l-.9 0l-.5 .8l.6 .4l-.6 .4l-1.1 0l-1.1 .1l-.2 .6l0 .6l1.1 .1l.7 .7l-1 .5l-.4 .9l-.8 .7l.3 .5l.6 .7l1.1 .1l1-.5l1.1-.4l1.1-.4l1.1-.2M639.6 289.6l.8-.6l-.3-.8l-.1-.8l.2-.7l-.3-.6l1.1-.7l-.2-.6l-.8-.9l-.9-.4l-1 .1l-.6 .4l-.9 0l-.5 .8l.6 .4l-.6 .4l-1.1 0l-1.1 .1l-.2 .6l0 .6l1.1 .1l.7 .7l-1 .5l-.4 .9l-.8 .7l.3 .5l.6 .7l1.1 .1l1-.5l1.1-.4l1.1-.4l1.1-.2M614 267.5l1.2-.7l-.1-.7l-1.6-.3l-1.6-.4l1.5-.4l1.7 .2l-.8-.8l-1.7 .2l-1.5-.4l.6-.7l1-.6l1.7-.5l.6 .9l1.2 .7l.9-.4l.6-.5l2.1 0l1.5-.1l1.6-.1l1.3-.6l1.1 .4M625.8 266.8l-1.3 .3l-1 .5l-1.4 .1l-1.4 0l-.9 .5l-2.1-.3l-1.4-.5l-1.2 0l-1.1 .1M101.7 237.2l.4 .8l-1.2 .7l2.6 .8l2.1 .9l.8 .9l.3 .8l2 .4l1.6 .8l1.7-1l1.4-1l1.4-1l3.4-.3l-1.2-.9l-2.8-.6l.1-.8l-1.6-.5l-3.2-.6l-2.1 0l-1.8 .4l-1.9 .2l-2 0M666.9 237.2l.4 .8l-1.2 .7l2.6 .8l2.1 .9l.8 .9l.3 .8l2 .4l1.6 .8l1.7-1l1.4-1l1.4-1l3.4-.3l-1.2-.9l-2.8-.6l.1-.8l-1.6-.5l-3.2-.6l-2.1 0l-1.8 .4l-1.9 .2l-2 0M112.7 236.2l1.7-.4l2.2 0l2.7 .4l2.8-.4l1.9 .6l2.8 0l-2.2 .5l-.9 .8l-3.2-.2l-3.1 .2l-2-.2l-2-.2l.4-.6l-1.1-.5M677.9 236.2l1.7-.4l2.2 0l2.7 .4l2.8-.4l1.9 .6l2.8 0l-2.2 .5l-.9 .8l-3.2-.2l-3.1 .2l-2-.2l-2-.2l.4-.6l-1.1-.5M117.4 241.3l2.2 .4l2.5 0l1.2-.6l-.4-.7l-2.7 .2l-2-.6l.2 .7l-1 .6M682.6 241.3l2.2 .4l2.5 0l1.2-.6l-.4-.7l-2.7 .2l-2-.6l.2 .7l-1 .6M155.1 235.4l2.6 .2l2.1-.5l3.1 .5l-2 .6l-2.7-.2l-3.1-.6M720.2 235.4l2.7 .2l2.1-.5l3.1 .5l-2 .6l-2.7-.2l-3.2-.6M167.6 236l2 .1l1.9-.1l.3-.7l2.1-.2l2.6-.1l2.1 .4l-1.1 .6l-2 .4l-2.4 0l-2.3 .2l-3.2-.6M732.8 236l2 .1l1.9-.1l.3-.7l2.1-.2l2.6-.1l2.1 .4l-1.1 .6l-2 .4l-2.4 0l-2.3 .2l-3.2-.6M179.4 234.7l3 .1l2.5-.5l1.5 .8l-2.2 .3l-2.5 0l-2.3-.7M744.6 234.7l3 .1l2.5-.5l1.5 .8l-2.2 .3l-2.5 0l-2.3-.7M170.8 234.1l2.9 0l1.8-.8l1.5 .6l-3.2-.2l-3 .4M736 234.1l2.9 0l1.8-.8l1.5 .6l-3.2-.2l-3 .4M165.6 252.8l-.3-1l.9-.7l.6-.8l1.6-.5l0-.8l1.6-.8l.5-.6l.3-.7l.3-.7l1.2-.5l1.3-.5l1.9-.4l1.9-.5l2-.5l2.6-.5l2.9-.2l3.2-.4l3.1-.4l1.5 .6l-.8 .7l-3.2 .2l-2.3 .8l-2.1 .6l-2.6 .5l-1.7 .8l-1.4 .8l-.3 .8l-1.3 .7l0 .8l-1.5 .7l-1 .8l-.6 .7l.5 1l.3 .9l-.3 .8l-2.9-.1l-2.3-.1l-1.6-.6l-1.3-.4l-.7-.5M730.8 252.8l-.3-1l.9-.7l.6-.8l1.6-.5l0-.8l1.6-.8l.5-.6l.3-.7l.3-.7l1.2-.5l1.3-.5l1.9-.4l1.9-.5l2-.5l2.6-.5l2.9-.2l3.2-.4l3.1-.4l1.5 .6l-.8 .7l-3.2 .2l-2.3 .8l-2.1 .6l-2.6 .5l-1.7 .8l-1.4 .8l-.3 .8l-1.3 .7l0 .8l-1.5 .7l-1 .8l-.6 .7l.5 1l.3 .9l-.3 .8l-2.9-.1l-2.3-.1l-1.6-.6l-1.3-.4l-.7-.5M176.2 255.1l1.4 .1l1.5 .1M741.4 255.1l1.4 .1l1.5 .1M235.1 238.5l.6-1l1.8-.9l-2.5-.1l-2-.4l-1.6-.6l-1-.6l2.1-.5l2.6-.1l2.7 .5l2 .6l1.1 .8l.5 .8l3.1 .6l3.2 .5l-1.3 .8l-.3 .9l-2.6 .4l-2.9 .2l-.7-.6l-.9-.7l-2.2-.1l-1.7-.5M242.2 238.9l3.4 .3l2.9 .6l.7 .8l-3.1 .1l-3.1-.1l-2.4-.8l1.6-.9M123.6 321.1l.8-.2l.6 .5M688.8 321.1l.8-.2l.6 .5M120.5 314.9l1.1 0l.8 .6l.6 .5l0 .7l-.8-.6l-.9-.6l-.8-.6M685.7 314.9l1.1 0l.8 .6l.6 .5l0 .7l-.8-.6l-.9-.6l-.8-.6M125.1 314.4l.9-.3l-.2 .6l-.7-.3M690.3 314.4l.9-.3l-.2 .6l-.7-.3M118.8 278l.9-.2l.7-.4l.6 .4l-.6 .6l-1.1 .1l-.5-.5M684 278l.9-.2l.7-.4l.6 .4l-.6 .6l-1.1 .1l-.5-.5M119.1 276.8l1.3-.2l-.4 .5l-.9-.3M684.3 276.8l1.3-.2l-.4 .5l-.9-.3M79.2 276.6l1.1-.2l-.6 .4l-.5-.2M644.4 276.6l1.1-.2l-.6 .4l-.5-.2M73.4 278.5l.2-.7l1.1-.2l-.3 .9l-1.2 .6l-.3 .9l.4-.7l.1-.8M638.6 278.5l.2-.7l1.1-.2l-.3 .9l-1.2 .6l-.3 .9l.4-.7l.1-.8M74 279.5l1.1 .4l-.4 .3l-.7-.7M639.2 279.5l1.1 .4l-.4 .3l-.7-.7M113.9 247.3l.8-.2l-.5 .3M679.1 247.3l.8-.2l-.5 .3M446.3 255.3l1.6-.2l.7-.6l-.1 .6l.9 .5l2.4 .1l1.6 .7l.7-.9l1.8 .4l2.2 .1l1.7 .3l1.4 .5l1 .4l.8 .5l1.5 .1l1.4-.1l1.6 .9l1.6 .9l.9 .8l1.3-.2l1.3 0l1.2-.3l2.3 .4l2.4-.4l-.2 1.2l1.7 .7l.2-.6l-.4-.5l.6-.6l.4-.5l1.5-1l2.5 0l1.5-.1l1.3 .4l1.4 .3l.5 .7l1 .4l1.3 .1l1.5 .1l.9-.6l.8-.7l1.5-.6l1.3 .2l1.1 .4l.2-.7l-.1-.6l-.7-.6l-.2-.6l-.2-1l1-.9l.4-.8l1.9-.5l.4-.8l-.4-.8l1.8 .9l.9 1l-.3 1.1l1.6 .8l.7 1l.1 1l1.8 .7l1.5 .2l1 .5l.5 .6l-.1 .6l.9 .5l1.4-.1l1.7-.6l-.1-.9l1.1-.4l.4-.6l.1-.6l-.5-.5l.8-.6l.4-.6l2.7 .2l.3 .8l1.7 .4l-.1 .7l.5 .6l-1.1 1l.7 .6l.4 .7l-.8 .5l-1.3 .2l-.2 .6l-.4 .6l-1.6 .2l-1.6-.2l-2-.4l-.3 1l.8 .9l-1.3 .9l-1.1 1l-.8 1l-1.4 .6l-1.7 .1l-1.1 .5l-1.3 .4l-.9 .7l-.8 .5l-1.3 .1l.3 .6l-.4 .7l-1.2 .3l-.1 .8l.3 .7l-.6 .7M524.3 291.5l.7-.4l.6-.4l.6-.8l-.3-.9l-.4-.9l.1-1l-.2-.6l-.2-.6l-.6-.4l0-.7l.9-.2l.9 0l.9-.3l.3-.6l0-.7l.5-.6l.7-.4l.4-.6l0-.8l.1-.7l-1.3-.7l-.1-1.1l-.8-.4l-.6-.5l.3-.8l.3-.7l.8-1l.2-.8l-.5-.7l.3-.8l-.9-.5l.3-.9l-.2-.9l1.6-.2l1.2 .3l1.2 .1l1.1 .3l1.2-.3l1.6 .6l1.6 .6l.7 .7l1.1 .5l1.3 .1l-.5 1l1 .9l.5 .9l-.2 1l1.1 .8l.6 .9l1.3 0l.9-.5l1-.3l.6-.5l.4-.7l.4-.6l.8-.9l.7-.9l1.2 .8l-.4 1l.5 1l1.1 .9l.4 1l1.2 .9l.7 .9l-.3 1l.3 .6l.8 .3l.9 .7l.7 .7l1.1 .6l1.3 .3l1 .4l.5 .8l-.7 .2l-.8 .1l1.1 .1l.9 .5l1.1 .4l.2 .8l.9 .5l.2 .6l0 .6l-.8 .7l-1 .6l-1.3 .2l-1.3 .2l-.2 .7l-.7 .5l-.9 .1l-.6 .6l-.8-.2l-.8-.1l-.8 0l-.7 .3l-.7-.4l-.9-.1l-.9 .1l-.7 .4l-.9 .2l-.9 .2l-.9-.4l-1 .2M545.2 295.4l.8 .1l.8 0l.7 .2l.8-.2l.2 .6l-.4 .6l-.5 .7l-.8-.3l-.8 .3l.8 .8l.9-.2l.3 .6l-.3 .7l.5 .7l.1 .8l1.1 .4l.7 .3l.6 .3l.8-.2l.9 0l.7-.4l.7-.2l.7-.6l.3-.9l.1 1l.7 .9l-1 .5l-.8 .7l-1.2 .3l-1.1 .6l-.9 .4l-.9 .2l-.6 .6l-.8 .5l-.9 .4l-.8 .6l-.9-.6l.4-.7l.2-.8l1-.7l1-.7l-.3-.5l-.9 .5l-1.1 .2l-.7 .4M447.1 288.1l.5-.9l-.7-.7l-1.3-.1l-.6-.8l.1-.7l-.4-.7l-1.1 0l-.8-.6l.1-.7l.1-.6l-.3-.6l-1-.3l-.7-1l-1-.9l-.2-1l-1.2-.5l-.2-.7l-.9-.3l-.4-.6l.1-.6l-.2 .9l-.1 .9l-1.1 0l-.7 .5l-.8-.7l-1.2-.6l-1.4-.6l-1.4-.6l-1.8 0l-1.1-.9l-.9-.3l-1 .1l-.9 .4l-1.1-.2l-1.7-.1l-.9-.8l-.8-.5l-.3-.7l-1.4 .1l-1.2 .5l-.7 .7l.3 .8l-1.8-.2l-1.1 .1l-.5 .6l-.9 .4l0 .6l-1.4-.3l.6-.5l.2-.8l.2-.8l1.2-.6l1-.8l-1.3 .4l-1.3 .2l-1.2 .8l-.8 .9M535 240l2.2 .2l.9 .6l1.5 .8l1.7 .9l2.7 .7l1.2 1l2.7-.2l2.8-.2l3.1 .5l3.2 .5l-.9 .6l.8 .6l2 .4l.4 .7l.7 .7l.6 .7l.6 .7l.5 .7l.6 .8l1.8 .5l-1.1 .8l.6 .8l1.1 .9l-.7 1l2.3 .5l2.4 .4l.7 .8l.1 .8l-1.9 .3l-2-.3l1.3 .3l.3 .7l-1.1 .5l.3 .8l-.9 .9l-.2 1l1.2 .8l-.4 1.1l1.5 .8l0 1.1l-.2 .8l1 .7l-.3 .7l.4 .7l.5 .7l1.3 .2l.5 1l1.1 .9l1.4 .8l.2 1.1l.9 .2l1 .1l.9 .4l1.1-.1l.8 .6l1.1 .5l1.4-.2l1.1 .6l-.1-1.1l.7-1l.4-.7l.4-.7l-.2-.8l.7-.7l.7-.5l-.2-.6l.7-.5l1-.3l.5-.9l-.1-1l1-.4l.4-.6l.9-.5l.6-.6l1.6 0l1.5-.3l1.4 0l.8-.6l1.1-.2l.6-.6l1.5-.6l-.2-.9l1.5-.5l.4-.8l2.1-.6l2.6 0l2.5 0l2.2-.6l1.2-.8l.4-.9l2.5-.3l1.7-.8l-1.5-.5l-.4-.7l-1.2-.6l-1.9 0l2.7-.1l2.8 .1l-.9-1l1.3-.9l-1.3-.7l-2.3-.2l1.8-.7l1.4-.8l.6-.9l2-.5l-1.2-.6l-.7-.7l1.9-.5l1.3-.7l1-.5l.8-.6l-.8-.7l-1.5-.4l-1.7-.4l-1-.6l2.8-.3l2-.7l-.5-.9l-1.1-1l.6-1l1.7-.9l0-.7l1.6-.6l2.3-.4M624.5 233.1l-2.5 .3l-2.2-.5l-1.6 .6l-2.4 .2l-.3-.9l-1.2-.8l-3.1-.4l-3.4-.1l-1.6-1l-3.7-.2l-3.3 .1l-3.1 .4l-3.1-.3l-3.1-.4l-2.7 .7l-3.5-.1l-2.9 .5l-3.4 0l-2.5 0l-2.3-.2l-1.6 .6l-1.5 .6l-1.9 .3l-2-.3l-2 .1l-1.9 .1l-3.2 .2l-3.1 .4l-1.3 1l-3.4 .3l-2.9 .4l-2.6 .5l1.1 .7l1.3 .7l-2.4 .4l-2.4 .3l-1.6 .9l-3.1 .3l-1 .8l-2.1 .7M556.5 298.4l.4-1l.9-.8l.8-.5l.1-.8l.2-.8l.4-.7l.2-.7l.5-.5l.3-.6l.6-.5l1-.2l.6-.6l-.8 1l0 1.1l-.9 .5l-.2 .9l.9-.4l1 .2l.9 .8l1.4 .1l.1 .8l.7 .6l.8 .3l.5 .8l0 1l-.3 .9l-.4 .9l-.6-.4l-.8 .1l-.3-.6l0-.6l-.8 .7l-1.1 .3l-.4-.6l-.5-.6l-1.1-.5l-1.3 .4l-.7 0l-.7 .2l-.7-.1l-.7-.1M548.3 294l.8-.4l1 0l.9 .3l.5 .6l.4 .7l.8 .3l-.7-.2l-.6-.2l-.8-.3l-.7 .3l-1.1-.3l-.5-.8M548.5 299.7l1 .6l1.2 .2l.8 .2l.8-.2l-.8 .9l-1-.5l-1.1-.3l-.3-.5l-.6-.4M440.8 286l.9 0l1 .1l0 .8l.1 .8M441.6 287.7l.1-.7l-.2-.6l-.7-.4M410 277.8l.1 .8l.5 .7l-.9 .7M435.5 278.7l1.1 0l1 .2l.1 .9l-1 .6l.2 .9l1.2 .5l-.7-.7l-.5-.7l-.2-1l-1.2-.7M439.8 281.8l.9 .1l.7 .3l.6 .5l-.1 .6l.2 .8l.3 .7l-1.1-.3l-.8-.6l-.7-1l0-1.1M523.2 248.6l2.3 .3l2.4-.1l.4 .9l2 .6l.9 .6l1.7 .1l1.1 .6l-.6 .6l1.5 .9l2.4 .3l1.2 1l1.2 .4l1.6-.1l1.7 .2l.4 .8l-.1 .6l.3 .7l1.1 1l.2 1.1l1.4 .4l.2 .7l1.4 .2l1.2 .4l1.6 .9l2.3 0l-1.2 .7l.5 .9l-1 .4l.2 .7l-.5 .5l-1.1 .3l-.9-.7l-1.4-.5l-1.2-.9l-2-.4l-.2 .8l-.6 .7l.8 .6l.5 .6l.8 .6l1.4 .1l.5 .6l.9 .5l.2 .7l-.8 .5l-.4 .7l-1.1 .4l.9 .7l-.5 .7l-1.6 .2l-.2-.8l-1.2-.3l-.7-.5l-1-.3l-.5-.8l0-.7l-1.1-.2l-1-.2l-1.3-.1l-.9 .5l-.7-.6l-.8-.6l-1.7 0l-1.5-.4l-1.2 .2l-1.1-.2l-1.3-.2l-1.1 .4l-.9-.7l.1-.8l1.7-.2l1.3 .5l.8-.8l1.7-.1l-.1-.6l-.1-.5l1.1-.3l.7-.5l1.1-.7l.5-.8l-1.1-.4l-1.1-.3l-1.2-.5l.2-.7l-1-.8l-2.1-.2l-1.3-.4l-.2-.7l-1-.5l-.6-.7l.7-.5l-2.3 .3l-2.4 .2l-.9-.5l-1.7-.1l-1.6 .1l-1.3 .4l-2.1 .1l-1.8-.5l-2.6-.4l-1.3-1l-.4-.6l1.1-.5l.2-.7l-1.4-.4l.3-1.1l1-1l1.5-1l3.2 0l.2 1.1l1.3 1l2.8-.2l2 .8l.4-.7l1.1-.5l1.5-.6l-.7-.7M513 264.6l2.2-.3l1.7-.6l.8 .5l.8 .4l1.1 .6l.3 .8l1 .6l1.5 .1l.8 .5l0 .6l-2-.1l-1.9 .3l-1.1-.1l-1.1-.1l-1.3 .2l-.4 .6l-1.3-.5l-1.1-.6l.4-.8l1.2-.6l-1-.7l-.6-.8M519.3 269.2l1.2 0l1.1 0l.6 .9l1.8 .2l-2 .1l-1.9 .1l.2-.8l-1-.5M523.5 270.1l.9 .3l.7 .5l-1.1 .8l.4-.9l-.9-.7M524 281.4l1.6-.2l-.4 .7l-.1 .8l-.7-.6l-.4-.7M465.1 253l1.1-.6l1.8 .1l.9-.5l.3-.6l-1.3-.5l0-.6l.6-.6l.6-.5l1.6 .9l3.1 .2l1.9-.3l1.9 .4l1.9-.3l.5-.7l2.4 .2l2.4 .3l-.9 1l1.5 .9l0 1l.1 .9l.7 .8l.5 .9l1.8 .4l1.7 .4l-1 .7l-.5 .8l-1.5-.3l-1.7-.2l-1.7 .1l-1.4 .4l-1.4-.3l-1.6 .1l-.9 .6l-1.6 .2l-1.3 .3l-1.4-.2l-1.5-.3l-1.3 .4l-1.6-.1l-1.7-.1l-1.2-.6l-.2-.7l-.6-.9l-.2-.8l1.7 0l1.4-.4l1.7-.1l1.5 .3l-1-.7l-1.7-.3l-1.8-.4l-1.8 .4l-1.3-.7l-1.8-.6l2.3 .2M452.6 251.8l1.3-.8l.1-.9l-.3-1l2-.7l3-.3l.9-1l2.8 .1l2.7 .2l1 .9l2.2 .5l-1.4 .6l-1.8 .5l.3 .9l-.9 .8l-2.5 .3l-.8 .9l-2.7 .1l-2 .6l-2-.1l-1.9-.2l-1-.7l1-.7M465.1 243.6l2.2 0l2 .2l1.1-.5l1.8-.4l2.7-.3l2.8 .3l2.3 .8l3.2 .5l.8 1l-1.6 .9l-2.8 .1l-2.7 .1l-2.1 .8l-3.4 0l-1.7-.5l.2-.7l-2-.2l-2 0l0-1l-.8-1.1M488.7 249.9l1.9-.1l1.4-.5l-.2-.7l.8-.6l2.1 .1l1.8 .3l-.3 1.1l1.9 .8l-1.7 .5l-.2 .8l-.9 .6l.4 .8l-1.2-.6l-1.9-.2l-1.4-.5l-1.7-.2l-1.6-.7l.8-.9M499.7 251.8l-1.8-.6l-.4-.8l1.3-.7l1.2-.7l1.8-.6l1.8-.6l2.1 0l1.8 .4l1.4 .4l.5 .6l-.3 .6l-.8 .5l-2.7 .5l-1.2 1l-2.4 .2l-2.3-.2M493.4 257.2l.2-.6l1.1-.4l2.6-.4l.5 .6l-.1 .6l1 .4l1.3 .2l-1.4 .3l-.5 .6l-1.7 .3l-1.4-.5l-1.1-.5l-.5-.6M498.1 245.2l2.2-.6l.3-.8l1.8-.6l2.8-.1l2.4-.1l1.5 .6l1.4-.4l2-.2l2.1 0l1.5 .4l2 .1l1.9 .2l1.1 .5l1.3 .4l2.2 .6l.2 .9l-1.1 .7l-2.1 .3l-2.8 .1l-2.3 .6l-3.1 .1l-2-.8l-3.1-.2l-3.1-.2l-1.7-.7l.9-.8l-3.2-.5l-3.1 .5M485.5 244.2l.5-.7l1.8-.6l2.4 .2l2.4-.2l2.7 .3l1.2 .8l-1.9 1l.4 1.1l-2.3-.4l-2.5 .2l-2.2-.9l-2.5-.8M498.1 245.3l2.2 0l1.7-.3l.4 .8l.4 .9l-2.1 .2l-1.8-.4l-.8-.6l0-.6M508.3 243.4l1.8-.6l1.3-.7l1.9-.6l2.8-.2l-2.7-.4l-1.2-.9l2.5-.6l3-.2l-2.5 .1l-2.1-.4l-.6-.7l-1.1-.7l2.9-.5l.3-1l-2.8 0l-2.1-.6l-1.5-.7l-2.3-.4l1.1-.6l2.2-.3l1.5-.5l2.3-.1l1.9 .4l2.2-.3l2 .3l2.1-.3l.6-.6l.3-.6l1.6-.5l1.9-.3l3.5 .2l3.6-.2l3.6 .2l3.4-.4l3.6 0l2.3 .9l3.4 0l3.3 .2l-2.1 .2l-.7 .6l-1.1 .5l-.1 .6l-1.5 .6l-1.2 .6l-2 .5l-2.3 .2l-1.1 1l-2.9 .6l-1.9 .2l-2.2 0l-2.1 .4l0 .7l1.3 .7l-.5 .8l-2.2 .1l-1.7 .5l.3 .7l-1.9 .4l0 .6l.7 .6l-3.1 .1l-2.4 .6l-2.7 .4l-2.8-.4l-1.9 .3l-2-.2l-1.9-.2l-2-.1M498.9 236.6l0-.8l2.3-.5l1.2-.6l1.2-.6l2.6 .3l2.6-.3l2.2 .5l.4 .8l0 .6l-.2 .6l.4 .7l2.2 .2l-2 .9l.4 1l-2.2 .2l-2.2 .2l-2.3-.3l-1.1-.6l-1.8-.8l-2.9-.4l-.1-.6l-.7-.5M484 238.5l2.7-.1l2.8 0l.5-.9l2.6-.5l.3 .6l.9 .5l1.6 .5l-.4 .6l-.6 .9l-2.6 .5l-3.4-.2l-2.9-.6l.4-.8l-1.9-.5M456.5 243.8l1.2-.5l1-.6l.8-.8l2.5-.2l2.8 0l2.7-.4l-.6 1.1l-1.8 .9l-2 .6l-2.7 .5l-1.8-.4l-2.1-.2M523.2 248.6l2 .2l1.9 .2l1.5 .4l.9 .5l-1.3 .5l-1.8-.1l-1.6-.9l-1.6-.8M606.4 253.9l1.3-.5l1.9 0l-.3 .6l-.5 .7l-1.5 0l-1.3 .2l.4-1M611.1 250.1l3.2-.2l1.1 .7l-.8 .7l-1.9-.3l-2 .1l.4-1M609.6 249.2l2.3 0l1.9-.4l-.3 .9l-2.3-.3l-1.9 .5l.3-.7M615.8 247.4l2.7-.5l-.3 .9l-2.4-.4M607.2 252l1.9-.2l2-.2l.1 .7l-.8 .5l-1.7 .2l-1.8 0l.3-1M604.9 250.7l2-.1l1.9-.3l-.3 1l-2.1-.1l-1.5-.5M613.5 244.4l3.2 .1l2.3-.7l-1.2 .5l-.4 .7l-2.1-.2l-1.8-.4M616.6 240.8l1.7-.8l3 0l-.4 .7l-1.1 .6l-3.2-.5M605.6 255.5l2.3-.5l2.5 .1l1.5 .7l-2.2 .6l-2.5-.2l-1.6-.7M563.6 255.1l2.2 .1l2.2-.1l1.1 .7l-.8 .8l-1.6 .4l-1.9 0l-.2-1l-1-.9M564 250.7l2.4-.6l-.4 .8l.1 .7l-1.5-.3l-.6-.6M561.7 253.2l2.1-.3l1.8-.5l-1 .7l.5 .8l-2.1 0l-1.3-.7M565.6 264.2l1.2-.3l1.2-.2l-.2 .6l-.2 .7l-1.1-.3l-.9-.5M568.7 268l1-.6l1.4 .1l-.6 .5l.3 .6l-.9-.4l-1.2-.2M560.9 248l2.3-.7l-1.3 .7l1 .8l-2-.8M571.1 271.7l1.2-.3l1.2-.3l-.2 .7l-.2 .6l-1.3-.1l-.7-.6M577.7 273.8l.9-.5l1.1-.1l0 .6l-.3 .5l-.8-.3l-.9-.2M455.7 264.8l1 .3l.8 .4l1-.3l1.1 0l1.2-.6l.9-.8l1.3-.6l1.3-.5l-1.3-.6l-1-.7l-1.3 .4l-1.5-.1l-.3 .8l-1.6 .2l-1.4 .6l-1.8 0l1.7 .5zM465.9 272.8l1.5 .3l1.7-.1l.7-.8l1.6 0l1.4-.3l1.3-.4l.9-.8l-.5-.9l1.6-.2l1.6-.2l-.7 .5l-1 .4l-1.1 .2l-1.1 .2l-1.5-.4l-1.7 0l-1.1 .2l-.9 .3l-.8 .4l-.3 .7l-1.1 .3zM494.5 286.9l.7-.3l.9-.1l-.1 .6l.5 .5l.5 .5l.1 .6l-.1 .6l.2 .6l.5 .5l.4 .5l.3 1.1l-.1 1l-1-.2l-.7-.4l-.5-.7l-.2-.7l.6-.7l-.8-.1l-.7-.5l-.5-.6l0-.7l.4-.7zM474.5 277.2l1.2-.1l.9-.4l.9-.5l1-.3l1.1-.1l1.2-.1l1.2 .2l1.2 0l-1.6 .3l-1.6 .4l-1.4 .1l-1.4 0l-1.2 .4z"/>
<path fill="#000" stroke="none" d="M370.5 334.4h1.4v1.3h-1.4zM401.8 384.7h1.4v1.3h-1.4zM398.8 381.1h1.4v1.3h-1.4zM397.1 379.5h1.4v1.3h-1.4zM404.1 396.1h1.4v1.3h-1.4zM405.7 399.4h1.4v1.3h-1.4zM410.6 410.2h1.4v1.3h-1.4zM379.2 406.0h1.4v1.3h-1.4zM378.1 404.9h1.4v1.3h-1.4zM380.3 393.8h1.4v1.3h-1.4zM374.9 397.1h1.4v1.3h-1.4zM388.3 409.5h1.4v1.3h-1.4zM428.9 405.5h1.4v1.3h-1.4zM430.7 407.2h1.4v1.3h-1.4zM431.0 408.5h1.4v1.3h-1.4zM429.7 406.4h1.4v1.3h-1.4zM410.7 420.0h1.4v1.3h-1.4zM411.8 420.5h1.4v1.3h-1.4zM414.2 422.1h1.4v1.3h-1.4zM414.5 422.2h1.4v1.3h-1.4zM413.7 421.9h1.4v1.3h-1.4zM416.2 417.1h1.4v1.3h-1.4zM417.2 418.1h1.4v1.3h-1.4zM418.9 416.1h1.4v1.3h-1.4zM420.5 418.6h1.4v1.3h-1.4zM421.3 419.4h1.4v1.3h-1.4zM422.3 420.5h1.4v1.3h-1.4zM423.6 420.0h1.4v1.3h-1.4zM425.2 421.5h1.4v1.3h-1.4zM427.5 422.6h1.4v1.3h-1.4zM428.3 423.2h1.4v1.3h-1.4zM430.7 424.7h1.4v1.3h-1.4zM431.5 428.2h1.4v1.3h-1.4zM434.6 429.5h1.4v1.3h-1.4zM436.9 432.5h1.4v1.3h-1.4zM421.3 421.7h1.4v1.3h-1.4zM419.7 419.0h1.4v1.3h-1.4zM418.1 416.9h1.4v1.3h-1.4zM416.5 422.6h1.4v1.3h-1.4zM427.7 428.5h1.4v1.3h-1.4zM424.4 425.7h1.4v1.3h-1.4zM414.2 433.1h1.4v1.3h-1.4zM411.2 431.4h1.4v1.3h-1.4zM417.0 434.1h1.4v1.3h-1.4zM409.0 424.7h1.4v1.3h-1.4zM398.0 428.9h1.4v1.3h-1.4zM401.0 430.3h1.4v1.3h-1.4zM400.7 426.6h1.4v1.3h-1.4zM398.0 424.5h1.4v1.3h-1.4zM392.7 413.9h1.4v1.3h-1.4zM396.0 408.3h1.4v1.3h-1.4zM400.8 405.7h1.4v1.3h-1.4zM388.6 409.3h1.4v1.3h-1.4zM378.1 414.4h1.4v1.3h-1.4zM379.2 415.0h1.4v1.3h-1.4zM380.9 415.8h1.4v1.3h-1.4zM382.8 415.6h1.4v1.3h-1.4zM372.3 413.9h1.4v1.3h-1.4zM369.3 415.8h1.4v1.3h-1.4zM373.8 428.7h1.4v1.3h-1.4zM375.1 426.2h1.4v1.3h-1.4zM375.7 424.2h1.4v1.3h-1.4zM374.2 426.6h1.4v1.3h-1.4zM375.9 418.8h1.4v1.3h-1.4zM382.2 424.7h1.4v1.3h-1.4zM363.2 422.4h1.4v1.3h-1.4zM362.4 422.2h1.4v1.3h-1.4zM363.9 422.8h1.4v1.3h-1.4zM365.0 420.1h1.4v1.3h-1.4zM366.0 420.7h1.4v1.3h-1.4zM364.6 421.5h1.4v1.3h-1.4zM366.9 420.9h1.4v1.3h-1.4zM367.9 423.2h1.4v1.3h-1.4zM363.5 424.7h1.4v1.3h-1.4zM366.1 419.4h1.4v1.3h-1.4zM361.6 412.3h1.4v1.3h-1.4zM345.7 417.5h1.4v1.3h-1.4zM346.2 418.1h1.4v1.3h-1.4zM346.8 419.4h1.4v1.3h-1.4zM347.9 419.6h1.4v1.3h-1.4zM348.1 422.2h1.4v1.3h-1.4zM349.3 424.3h1.4v1.3h-1.4zM349.7 425.7h1.4v1.3h-1.4zM350.3 427.0h1.4v1.3h-1.4zM347.1 415.8h1.4v1.3h-1.4zM346.7 414.6h1.4v1.3h-1.4zM345.3 413.9h1.4v1.3h-1.4zM329.9 401.8h1.4v1.3h-1.4zM331.4 404.1h1.4v1.3h-1.4zM333.0 403.6h1.4v1.3h-1.4zM334.0 403.9h1.4v1.3h-1.4zM334.9 406.6h1.4v1.3h-1.4zM335.7 406.8h1.4v1.3h-1.4zM336.5 405.5h1.4v1.3h-1.4zM337.7 408.3h1.4v1.3h-1.4zM344.0 408.9h1.4v1.3h-1.4zM344.3 410.0h1.4v1.3h-1.4zM345.7 410.8h1.4v1.3h-1.4zM335.4 410.6h1.4v1.3h-1.4zM294.9 374.4h1.4v1.3h-1.4zM300.5 370.4h1.4v1.3h-1.4zM311.0 363.0h1.4v1.3h-1.4zM312.4 359.5h1.4v1.3h-1.4zM312.6 356.7h1.4v1.3h-1.4zM312.4 354.0h1.4v1.3h-1.4zM322.0 374.4h1.4v1.3h-1.4zM332.1 375.3h1.4v1.3h-1.4zM339.6 378.4h1.4v1.3h-1.4zM347.0 371.9h1.4v1.3h-1.4zM352.5 375.0h1.4v1.3h-1.4zM349.8 367.1h1.4v1.3h-1.4zM344.9 366.6h1.4v1.3h-1.4zM343.5 371.0h1.4v1.3h-1.4zM348.6 374.6h1.4v1.3h-1.4zM355.2 385.8h1.4v1.3h-1.4zM355.3 382.8h1.4v1.3h-1.4zM358.0 389.8h1.4v1.3h-1.4zM359.4 392.1h1.4v1.3h-1.4zM361.3 393.5h1.4v1.3h-1.4zM345.7 389.5h1.4v1.3h-1.4zM365.0 404.7h1.4v1.3h-1.4zM362.1 400.5h1.4v1.3h-1.4zM364.3 402.8h1.4v1.3h-1.4zM307.0 336.8h1.4v1.3h-1.4zM305.5 341.2h1.4v1.3h-1.4zM304.9 336.8h1.4v1.3h-1.4zM303.2 325.4h1.4v1.3h-1.4zM302.7 323.5h1.4v1.3h-1.4zM304.0 330.4h1.4v1.3h-1.4zM325.4 342.2h1.4v1.3h-1.4zM289.7 339.1h1.4v1.3h-1.4zM278.7 342.0h1.4v1.3h-1.4zM280.4 341.2h1.4v1.3h-1.4zM287.0 334.5h1.4v1.3h-1.4zM288.6 330.5h1.4v1.3h-1.4zM286.1 335.5h1.4v1.3h-1.4zM199.1 380.5h1.4v1.3h-1.4zM198.9 384.7h1.4v1.3h-1.4zM198.5 387.5h1.4v1.3h-1.4zM198.6 389.6h1.4v1.3h-1.4zM198.3 375.5h1.4v1.3h-1.4zM198.0 372.7h1.4v1.3h-1.4zM197.8 368.3h1.4v1.3h-1.4zM199.3 366.6h1.4v1.3h-1.4zM197.4 402.4h1.4v1.3h-1.4zM196.4 398.8h1.4v1.3h-1.4zM170.8 397.3h1.4v1.3h-1.4zM171.1 396.7h1.4v1.3h-1.4zM156.4 406.4h1.4v1.3h-1.4zM158.0 410.6h1.4v1.3h-1.4zM153.4 411.8h1.4v1.3h-1.4zM154.7 412.9h1.4v1.3h-1.4zM172.6 408.3h1.4v1.3h-1.4zM183.2 426.1h1.4v1.3h-1.4zM168.0 398.0h1.4v1.3h-1.4zM235.7 411.8h1.4v1.3h-1.4zM249.6 408.5h1.4v1.3h-1.4zM736.0 397.3h1.4v1.3h-1.4zM736.3 396.7h1.4v1.3h-1.4zM721.6 406.4h1.4v1.3h-1.4zM723.2 410.6h1.4v1.3h-1.4zM718.6 411.8h1.4v1.3h-1.4zM719.9 412.9h1.4v1.3h-1.4zM737.8 408.3h1.4v1.3h-1.4zM733.2 398.0h1.4v1.3h-1.4zM74.8 418.9h1.4v1.3h-1.4zM640.0 418.9h1.4v1.3h-1.4zM626.3 403.7h1.4v1.3h-1.4zM598.0 395.8h1.4v1.3h-1.4zM602.9 386.8h1.4v1.3h-1.4zM610.7 360.1h1.4v1.3h-1.4zM611.2 358.0h1.4v1.3h-1.4zM612.9 356.7h1.4v1.3h-1.4zM610.6 356.9h1.4v1.3h-1.4zM609.5 356.1h1.4v1.3h-1.4zM620.8 335.5h1.4v1.3h-1.4zM620.6 333.8h1.4v1.3h-1.4zM621.9 334.9h1.4v1.3h-1.4zM623.3 325.5h1.4v1.3h-1.4zM599.9 313.2h1.4v1.3h-1.4zM604.9 314.1h1.4v1.3h-1.4zM609.5 318.1h1.4v1.3h-1.4zM521.3 351.7h1.4v1.3h-1.4zM523.6 350.9h1.4v1.3h-1.4zM547.2 354.7h1.4v1.3h-1.4zM547.3 353.5h1.4v1.3h-1.4zM549.9 354.0h1.4v1.3h-1.4zM550.3 355.5h1.4v1.3h-1.4zM551.2 356.6h1.4v1.3h-1.4zM551.9 355.9h1.4v1.3h-1.4zM552.0 365.4h1.4v1.3h-1.4zM552.8 363.3h1.4v1.3h-1.4zM553.6 367.1h1.4v1.3h-1.4zM541.7 365.2h1.4v1.3h-1.4zM539.0 364.7h1.4v1.3h-1.4zM535.4 346.9h1.4v1.3h-1.4zM536.3 347.9h1.4v1.3h-1.4zM533.8 345.6h1.4v1.3h-1.4zM532.1 345.2h1.4v1.3h-1.4zM531.9 342.7h1.4v1.3h-1.4zM529.9 343.5h1.4v1.3h-1.4zM527.2 343.1h1.4v1.3h-1.4zM525.2 337.8h1.4v1.3h-1.4zM547.5 353.3h1.4v1.3h-1.4zM474.8 352.7h1.4v1.3h-1.4zM468.8 353.6h1.4v1.3h-1.4zM477.5 368.9h1.4v1.3h-1.4zM463.2 333.2h1.4v1.3h-1.4zM468.0 334.7h1.4v1.3h-1.4zM481.9 347.5h1.4v1.3h-1.4zM512.3 378.0h1.4v1.3h-1.4zM520.8 388.5h1.4v1.3h-1.4zM512.5 349.5h1.4v1.3h-1.4zM170.1 248.8h1.4v1.3h-1.4zM203.8 236.9h1.4v1.3h-1.4zM208.5 241.7h1.4v1.3h-1.4zM212.4 244.6h1.4v1.3h-1.4zM226.6 233.7h1.4v1.3h-1.4zM235.2 243.0h1.4v1.3h-1.4zM251.7 239.6h1.4v1.3h-1.4zM260.3 246.3h1.4v1.3h-1.4zM296.4 247.4h1.4v1.3h-1.4zM316.1 243.4h1.4v1.3h-1.4zM323.1 242.1h1.4v1.3h-1.4zM330.2 241.7h1.4v1.3h-1.4zM334.1 253.9h1.4v1.3h-1.4zM337.3 255.8h1.4v1.3h-1.4zM349.0 255.3h1.4v1.3h-1.4zM141.8 236.0h1.4v1.3h-1.4zM135.5 235.6h1.4v1.3h-1.4zM124.5 238.1h1.4v1.3h-1.4zM128.4 238.1h1.4v1.3h-1.4zM132.4 235.8h1.4v1.3h-1.4zM188.1 234.3h1.4v1.3h-1.4zM735.2 248.8h1.4v1.3h-1.4zM707.0 236.0h1.4v1.3h-1.4zM700.7 235.6h1.4v1.3h-1.4zM689.7 238.1h1.4v1.3h-1.4zM693.6 238.1h1.4v1.3h-1.4zM697.6 235.8h1.4v1.3h-1.4z"/>
</g>
<path d="M229.1 288.6L217.3 288.6L217.3 268.0L229.1 268.0M217.3 277.8L224.5 277.8M234.5 288.6L234.5 274.9M234.5 278.8L237.2 275.8L239.0 274.9L241.8 274.9L243.6 275.8L244.5 278.8L244.5 288.6M249.9 274.9L256.3 274.9M257.2 288.6L255.4 288.6L253.5 287.6L252.6 284.7L252.6 268.0M262.6 267.0L261.7 268.0L262.6 269.0L263.5 268.0L262.6 267.0M262.6 288.6L262.6 274.9M269.8 288.6L269.8 274.9M269.8 280.8L270.8 277.8L272.6 275.8L274.4 274.9L277.1 274.9M291.6 285.7L289.8 287.6L288.0 288.6L285.2 288.6L283.4 287.6L281.6 285.7L280.7 282.7L280.7 280.8L281.6 277.8L283.4 275.8L285.2 274.9L288.0 274.9L289.8 275.8L290.7 276.8L291.6 278.8L291.6 280.8L280.7 280.8M320.6 280.8L325.1 280.8L325.1 283.7L324.2 285.7L322.4 287.6L320.6 288.6L317.0 288.6L315.1 287.6L313.3 285.7L312.4 283.7L311.5 280.8L311.5 275.8L312.4 272.9L313.3 270.9L315.1 269.0L317.0 268.0L320.6 268.0L322.4 269.0L324.2 270.9L325.1 272.9M331.5 288.6L331.5 274.9M331.5 280.8L332.4 277.8L334.2 275.8L336.0 274.9L338.7 274.9M343.2 267.0L342.3 268.0L343.2 269.0L344.1 268.0L343.2 267.0M343.2 288.6L343.2 274.9M360.4 285.7L358.6 287.6L356.8 288.6L354.1 288.6L352.3 287.6L350.5 285.7L349.6 282.7L349.6 280.8L350.5 277.8L352.3 275.8L354.1 274.9L356.8 274.9L358.6 275.8L360.4 277.8M360.4 288.6L360.4 268.0M394.9 268.0L394.9 282.7L394.0 285.7L392.2 287.6L389.4 288.6L387.6 288.6L384.9 287.6L383.1 285.7L382.2 282.7L382.2 268.0M402.1 288.6L402.1 274.9M402.1 278.8L404.8 275.8L406.7 274.9L409.4 274.9L411.2 275.8L412.1 278.8L412.1 288.6M429.3 285.7L427.5 287.6L425.7 288.6L423.0 288.6L421.2 287.6L419.3 285.7L418.4 282.7L418.4 280.8L419.3 277.8L421.2 275.8L423.0 274.9L425.7 274.9L427.5 275.8L429.3 277.8M429.3 288.6L429.3 268.0M446.5 285.7L444.7 287.6L442.9 288.6L440.2 288.6L438.4 287.6L436.6 285.7L435.6 282.7L435.6 280.8L436.6 277.8L438.4 275.8L440.2 274.9L442.9 274.9L444.7 275.8L445.6 276.8L446.5 278.8L446.5 280.8L435.6 280.8M451.0 274.9L457.4 274.9M453.8 288.6L453.8 271.9L454.7 269.0L456.5 268.0L458.3 268.0M463.7 267.0L462.8 268.0L463.7 269.0L464.6 268.0L463.7 267.0M463.7 288.6L463.7 274.9M471.0 288.6L471.0 274.9M471.0 278.8L473.7 275.8L475.5 274.9L478.2 274.9L480.0 275.8L480.9 278.8L480.9 288.6M498.2 285.7L496.3 287.6L494.5 288.6L491.8 288.6L490.0 287.6L488.2 285.7L487.3 282.7L487.3 280.8L488.2 277.8L490.0 275.8L491.8 274.9L494.5 274.9L496.3 275.8L497.3 276.8L498.2 278.8L498.2 280.8L487.3 280.8M514.5 285.7L512.7 287.6L510.8 288.6L508.1 288.6L506.3 287.6L504.5 285.7L503.6 282.7L503.6 280.8L504.5 277.8L506.3 275.8L508.1 274.9L510.8 274.9L512.7 275.8L514.5 277.8M514.5 288.6L514.5 268.0" fill="none" stroke="#000" stroke-width="1" shape-rendering="crispEdges" stroke-linejoin="round"/>
<rect x="71.2" y="172.9" width="676.6" height="267.1" fill="none" stroke="#000" stroke-width="1.9" shape-rendering="crispEdges"/>
<path d="M65.8 427.2H71.2M65.8 408.2H71.2M65.8 389.1H71.2M65.8 370.0H71.2M65.8 351.0H71.2M65.8 331.9H71.2M65.8 312.8H71.2M65.8 293.8H71.2M65.8 274.7H71.2M65.8 255.6H71.2M65.8 236.6H71.2M65.8 217.5H71.2M65.8 198.5H71.2M65.8 179.4H71.2M84.4 440.0V444.6M178.6 440.0V444.6M272.8 440.0V444.6M367.0 440.0V444.6M461.2 440.0V444.6M555.4 440.0V444.6M649.6 440.0V444.6M743.8 440.0V444.6" fill="none" stroke="#000" stroke-width="1.1"/>
<path d="M44.7 432.1L38.8 432.1L43.0 427.5L43.9 426.1L44.3 425.2L44.3 424.2L43.9 423.3L43.4 422.9L42.6 422.4L40.9 422.4L40.0 422.9L39.6 423.3L39.2 424.2L39.2 424.7M53.2 428.0L52.8 430.3L51.9 431.7L50.7 432.1L49.8 432.1L48.5 431.7L47.7 430.3L47.3 428.0L47.3 426.6L47.7 424.2L48.5 422.9L49.8 422.4L50.7 422.4L51.9 422.9L52.8 424.2L53.2 426.6L53.2 428.0M55.8 430.7L56.6 431.7L57.9 432.1L59.6 432.1L60.9 431.7L61.7 430.7L61.7 429.3L61.3 428.4L60.9 428.0L60.0 427.5L57.5 426.6L56.6 426.1L56.2 425.6L55.8 424.7L55.8 423.8L56.6 422.9L57.9 422.4L59.6 422.4L60.9 422.9L61.7 423.8M40.0 405.2L40.9 404.7L42.2 403.3L42.2 413.1M53.2 408.9L52.8 411.2L51.9 412.6L50.7 413.1L49.8 413.1L48.5 412.6L47.7 411.2L47.3 408.9L47.3 407.5L47.7 405.2L48.5 403.8L49.8 403.3L50.7 403.3L51.9 403.8L52.8 405.2L53.2 407.5L53.2 408.9M55.8 411.7L56.6 412.6L57.9 413.1L59.6 413.1L60.9 412.6L61.7 411.7L61.7 410.3L61.3 409.4L60.9 408.9L60.0 408.4L57.5 407.5L56.6 407.0L56.2 406.6L55.8 405.6L55.8 404.7L56.6 403.8L57.9 403.3L59.6 403.3L60.9 403.8L61.7 404.7M52.8 394.0L47.3 394.0L47.3 384.3L52.8 384.3M47.3 388.9L50.7 388.9M61.7 390.3L61.3 391.7L60.9 392.6L60.0 393.5L59.2 394.0L57.5 394.0L56.6 393.5L55.8 392.6L55.3 391.7L54.9 390.3L54.9 388.0L55.3 386.6L55.8 385.6L56.6 384.7L57.5 384.3L59.2 384.3L60.0 384.7L60.9 385.6L61.3 386.6L61.7 388.0L61.7 390.3M58.7 392.1L61.3 394.9M39.6 367.0L40.5 366.6L41.7 365.2L41.7 374.9M52.8 370.8L52.4 373.1L51.5 374.5L50.2 374.9L49.4 374.9L48.1 374.5L47.2 373.1L46.8 370.8L46.8 369.4L47.2 367.0L48.1 365.7L49.4 365.2L50.2 365.2L51.5 365.7L52.4 367.0L52.8 369.4L52.8 370.8M55.8 374.9L55.8 365.2L61.7 374.9L61.7 365.2M44.3 355.9L38.3 355.9L42.6 351.2L43.4 349.8L43.9 348.9L43.9 348.0L43.4 347.1L43.0 346.6L42.2 346.1L40.5 346.1L39.6 346.6L39.2 347.1L38.8 348.0L38.8 348.4M52.8 351.7L52.4 354.0L51.5 355.4L50.2 355.9L49.4 355.9L48.1 355.4L47.2 354.0L46.8 351.7L46.8 350.3L47.2 348.0L48.1 346.6L49.4 346.1L50.2 346.1L51.5 346.6L52.4 348.0L52.8 350.3L52.8 351.7M55.8 355.9L55.8 346.1L61.7 355.9L61.7 346.1M38.3 334.9L38.8 335.9L39.2 336.3L40.5 336.8L41.7 336.8L43.0 336.3L43.9 335.4L44.3 334.0L44.3 333.1L43.9 331.7L43.4 331.2L42.6 330.8L41.3 330.8L43.9 327.1L39.2 327.1M52.8 332.6L52.4 334.9L51.5 336.3L50.2 336.8L49.4 336.8L48.1 336.3L47.2 334.9L46.8 332.6L46.8 331.2L47.2 328.9L48.1 327.5L49.4 327.1L50.2 327.1L51.5 327.5L52.4 328.9L52.8 331.2L52.8 332.6M55.8 336.8L55.8 327.1L61.7 336.8L61.7 327.1M44.7 314.5L38.3 314.5L42.6 308.0L42.6 317.7M52.8 313.6L52.4 315.9L51.5 317.3L50.2 317.7L49.4 317.7L48.1 317.3L47.2 315.9L46.8 313.6L46.8 312.2L47.2 309.9L48.1 308.5L49.4 308.0L50.2 308.0L51.5 308.5L52.4 309.9L52.8 312.2L52.8 313.6M55.8 317.7L55.8 308.0L61.7 317.7L61.7 308.0M38.3 296.8L38.8 297.7L39.2 298.2L40.5 298.7L41.7 298.7L43.0 298.2L43.9 297.3L44.3 295.9L44.3 295.0L43.9 293.6L43.0 292.6L41.7 292.2L40.5 292.2L39.2 292.6L38.8 293.1L39.2 288.9L43.4 288.9M52.8 294.5L52.4 296.8L51.5 298.2L50.2 298.7L49.4 298.7L48.1 298.2L47.2 296.8L46.8 294.5L46.8 293.1L47.2 290.8L48.1 289.4L49.4 288.9L50.2 288.9L51.5 289.4L52.4 290.8L52.8 293.1L52.8 294.5M55.8 298.7L55.8 288.9L61.7 298.7L61.7 288.9M38.8 276.4L39.2 275.0L40.0 274.0L41.3 273.6L41.7 273.6L43.0 274.0L43.9 275.0L44.3 276.4L44.3 276.8L43.9 278.2L43.0 279.1L41.7 279.6L41.3 279.6L40.0 279.1L39.2 278.2L38.8 276.4L38.8 274.0L39.2 271.7L40.0 270.3L41.3 269.9L42.2 269.9L43.4 270.3L43.9 271.3M52.8 275.4L52.4 277.8L51.5 279.1L50.2 279.6L49.4 279.6L48.1 279.1L47.2 277.8L46.8 275.4L46.8 274.0L47.2 271.7L48.1 270.3L49.4 269.9L50.2 269.9L51.5 270.3L52.4 271.7L52.8 274.0L52.8 275.4M55.8 279.6L55.8 269.9L61.7 279.6L61.7 269.9M38.3 250.8L44.3 250.8L40.0 260.5M52.8 256.4L52.4 258.7L51.5 260.1L50.2 260.5L49.4 260.5L48.1 260.1L47.2 258.7L46.8 256.4L46.8 255.0L47.2 252.7L48.1 251.3L49.4 250.8L50.2 250.8L51.5 251.3L52.4 252.7L52.8 255.0L52.8 256.4M55.8 260.5L55.8 250.8L61.7 260.5L61.7 250.8M39.2 235.0L40.0 235.4L41.7 235.9L43.0 236.4L43.9 237.3L44.3 238.2L44.3 239.6L43.9 240.6L43.4 241.0L42.2 241.5L40.5 241.5L39.2 241.0L38.8 240.6L38.3 239.6L38.3 238.2L38.8 237.3L39.6 236.4L40.9 235.9L42.6 235.4L43.4 235.0L43.9 234.1L43.9 233.1L43.4 232.2L42.2 231.7L40.5 231.7L39.2 232.2L38.8 233.1L38.8 234.1L39.2 235.0M52.8 237.3L52.4 239.6L51.5 241.0L50.2 241.5L49.4 241.5L48.1 241.0L47.2 239.6L46.8 237.3L46.8 235.9L47.2 233.6L48.1 232.2L49.4 231.7L50.2 231.7L51.5 232.2L52.4 233.6L52.8 235.9L52.8 237.3M55.8 241.5L55.8 231.7L61.7 241.5L61.7 231.7M43.9 215.9L43.4 217.3L42.6 218.2L41.3 218.7L40.9 218.7L39.6 218.2L38.8 217.3L38.3 215.9L38.3 215.5L38.8 214.1L39.6 213.1L40.9 212.7L41.3 212.7L42.6 213.1L43.4 214.1L43.9 215.9L43.9 218.2L43.4 220.6L42.6 222.0L41.3 222.4L40.5 222.4L39.2 222.0L38.8 221.0M52.8 218.2L52.4 220.6L51.5 222.0L50.2 222.4L49.4 222.4L48.1 222.0L47.2 220.6L46.8 218.2L46.8 216.8L47.2 214.5L48.1 213.1L49.4 212.7L50.2 212.7L51.5 213.1L52.4 214.5L52.8 216.8L52.8 218.2M55.8 222.4L55.8 212.7L61.7 222.4L61.7 212.7M31.1 195.5L32.0 195.0L33.2 193.6L33.2 203.4M44.3 199.2L43.9 201.5L43.0 202.9L41.7 203.4L40.9 203.4L39.6 202.9L38.8 201.5L38.3 199.2L38.3 197.8L38.8 195.5L39.6 194.1L40.9 193.6L41.7 193.6L43.0 194.1L43.9 195.5L44.3 197.8L44.3 199.2M52.8 199.2L52.4 201.5L51.5 202.9L50.2 203.4L49.4 203.4L48.1 202.9L47.2 201.5L46.8 199.2L46.8 197.8L47.2 195.5L48.1 194.1L49.4 193.6L50.2 193.6L51.5 194.1L52.4 195.5L52.8 197.8L52.8 199.2M55.8 203.4L55.8 193.6L61.7 203.4L61.7 193.6M31.1 176.4L32.0 175.9L33.2 174.5L33.2 184.3M39.6 176.4L40.5 175.9L41.7 174.5L41.7 184.3M52.8 180.1L52.4 182.4L51.5 183.8L50.2 184.3L49.4 184.3L48.1 183.8L47.2 182.4L46.8 180.1L46.8 178.7L47.2 176.4L48.1 175.0L49.4 174.5L50.2 174.5L51.5 175.0L52.4 176.4L52.8 178.7L52.8 180.1M55.8 184.3L55.8 174.5L61.7 184.3L61.7 174.5M87.4 454.3L87.0 456.6L86.1 458.0L84.8 458.5L84.0 458.5L82.7 458.0L81.9 456.6L81.4 454.3L81.4 452.9L81.9 450.6L82.7 449.2L84.0 448.8L84.8 448.8L86.1 449.2L87.0 450.6L87.4 452.9L87.4 454.3M167.3 455.3L167.8 453.9L168.6 452.9L169.9 452.5L170.3 452.5L171.6 452.9L172.4 453.9L172.9 455.3L172.9 455.7L172.4 457.1L171.6 458.0L170.3 458.5L169.9 458.5L168.6 458.0L167.8 457.1L167.3 455.3L167.3 452.9L167.8 450.6L168.6 449.2L169.9 448.8L170.7 448.8L172.0 449.2L172.4 450.1M181.4 454.3L180.9 456.6L180.1 458.0L178.8 458.5L178.0 458.5L176.7 458.0L175.8 456.6L175.4 454.3L175.4 452.9L175.8 450.6L176.7 449.2L178.0 448.8L178.8 448.8L180.1 449.2L180.9 450.6L181.4 452.9L181.4 454.3M189.9 458.5L184.3 458.5L184.3 448.8L189.9 448.8M184.3 453.4L187.7 453.4M257.7 450.6L258.6 450.1L259.8 448.8L259.8 458.5M270.9 458.5L264.9 458.5L269.2 453.9L270.0 452.5L270.5 451.5L270.5 450.6L270.0 449.7L269.6 449.2L268.8 448.8L267.1 448.8L266.2 449.2L265.8 449.7L265.4 450.6L265.4 451.1M279.4 454.3L279.0 456.6L278.1 458.0L276.8 458.5L276.0 458.5L274.7 458.0L273.9 456.6L273.4 454.3L273.4 452.9L273.9 450.6L274.7 449.2L276.0 448.8L276.8 448.8L278.1 449.2L279.0 450.6L279.4 452.9L279.4 454.3M287.9 458.5L282.4 458.5L282.4 448.8L287.9 448.8M282.4 453.4L285.8 453.4M356.2 450.6L357.0 450.1L358.3 448.8L358.3 458.5M364.2 452.0L365.1 452.5L366.8 452.9L368.1 453.4L368.9 454.3L369.3 455.3L369.3 456.6L368.9 457.6L368.5 458.0L367.2 458.5L365.5 458.5L364.2 458.0L363.8 457.6L363.4 456.6L363.4 455.3L363.8 454.3L364.7 453.4L365.9 452.9L367.6 452.5L368.5 452.0L368.9 451.1L368.9 450.1L368.5 449.2L367.2 448.8L365.5 448.8L364.2 449.2L363.8 450.1L363.8 451.1L364.2 452.0M377.8 454.3L377.4 456.6L376.6 458.0L375.3 458.5L374.4 458.5L373.2 458.0L372.3 456.6L371.9 454.3L371.9 452.9L372.3 450.6L373.2 449.2L374.4 448.8L375.3 448.8L376.6 449.2L377.4 450.6L377.8 452.9L377.8 454.3M445.1 450.6L445.9 450.1L447.2 448.8L447.2 458.5M458.2 458.5L452.3 458.5L456.5 453.9L457.4 452.5L457.8 451.5L457.8 450.6L457.4 449.7L457.0 449.2L456.1 448.8L454.4 448.8L453.6 449.2L453.1 449.7L452.7 450.6L452.7 451.1M466.7 454.3L466.3 456.6L465.5 458.0L464.2 458.5L463.3 458.5L462.1 458.0L461.2 456.6L460.8 454.3L460.8 452.9L461.2 450.6L462.1 449.2L463.3 448.8L464.2 448.8L465.5 449.2L466.3 450.6L466.7 452.9L466.7 454.3M468.9 448.8L471.0 458.5L473.1 448.8L475.2 458.5L477.4 448.8M543.1 455.3L543.5 453.9L544.4 452.9L545.6 452.5L546.0 452.5L547.3 452.9L548.2 453.9L548.6 455.3L548.6 455.7L548.2 457.1L547.3 458.0L546.0 458.5L545.6 458.5L544.4 458.0L543.5 457.1L543.1 455.3L543.1 452.9L543.5 450.6L544.4 449.2L545.6 448.8L546.5 448.8L547.8 449.2L548.2 450.1M557.1 454.3L556.7 456.6L555.8 458.0L554.5 458.5L553.7 458.5L552.4 458.0L551.6 456.6L551.1 454.3L551.1 452.9L551.6 450.6L552.4 449.2L553.7 448.8L554.5 448.8L555.8 449.2L556.7 450.6L557.1 452.9L557.1 454.3M559.2 448.8L561.4 458.5L563.5 448.8L565.6 458.5L567.7 448.8M652.6 454.3L652.1 456.6L651.3 458.0L650.0 458.5L649.2 458.5L647.9 458.0L647.1 456.6L646.6 454.3L646.6 452.9L647.1 450.6L647.9 449.2L649.2 448.8L650.0 448.8L651.3 449.2L652.1 450.6L652.6 452.9L652.6 454.3M732.5 455.3L733.0 453.9L733.8 452.9L735.1 452.5L735.5 452.5L736.8 452.9L737.6 453.9L738.1 455.3L738.1 455.7L737.6 457.1L736.8 458.0L735.5 458.5L735.1 458.5L733.8 458.0L733.0 457.1L732.5 455.3L732.5 452.9L733.0 450.6L733.8 449.2L735.1 448.8L735.9 448.8L737.2 449.2L737.6 450.1M746.6 454.3L746.1 456.6L745.3 458.0L744.0 458.5L743.2 458.5L741.9 458.0L741.0 456.6L740.6 454.3L740.6 452.9L741.0 450.6L741.9 449.2L743.2 448.8L744.0 448.8L745.3 449.2L746.1 450.6L746.6 452.9L746.6 454.3M755.1 458.5L749.5 458.5L749.5 448.8L755.1 448.8M749.5 453.4L752.9 453.4M343.6 551.5L337.3 551.5L341.5 545.0L341.5 554.7M345.8 552.8L346.2 553.8L346.6 554.2L347.9 554.7L349.2 554.7L350.4 554.2L351.3 553.3L351.7 551.9L351.7 551.0L351.3 549.6L350.9 549.1L350.0 548.7L348.7 548.7L351.3 545.0L346.6 545.0M355.5 546.8L356.4 546.3L357.7 545.0L357.7 554.7M363.6 553.8L363.2 554.2L363.6 554.7L364.0 554.2L363.6 553.8M367.0 552.8L367.4 553.8L367.9 554.2L369.1 554.7L370.4 554.7L371.7 554.2L372.5 553.3L373.0 551.9L373.0 551.0L372.5 549.6L372.1 549.1L371.3 548.7L370.0 548.7L372.5 545.0L367.9 545.0M376.4 548.2L377.2 548.7L378.9 549.1L380.2 549.6L381.0 550.5L381.5 551.5L381.5 552.8L381.0 553.8L380.6 554.2L379.3 554.7L377.6 554.7L376.4 554.2L375.9 553.8L375.5 552.8L375.5 551.5L375.9 550.5L376.8 549.6L378.1 549.1L379.8 548.7L380.6 548.2L381.0 547.3L381.0 546.3L380.6 545.4L379.3 545.0L377.6 545.0L376.4 545.4L375.9 546.3L375.9 547.3L376.4 548.2M389.5 548.2L389.1 549.6L388.3 550.5L387.0 551.0L386.6 551.0L385.3 550.5L384.4 549.6L384.0 548.2L384.0 547.7L384.4 546.3L385.3 545.4L386.6 545.0L387.0 545.0L388.3 545.4L389.1 546.3L389.5 548.2L389.5 550.5L389.1 552.8L388.3 554.2L387.0 554.7L386.1 554.7L384.9 554.2L384.4 553.3M382.6 551.5L376.2 551.5L380.4 545.0L380.4 554.7M385.5 553.8L385.1 554.2L385.5 554.7L386.0 554.2L385.5 553.8M388.9 552.8L389.4 553.8L389.8 554.2L391.1 554.7L392.3 554.7L393.6 554.2L394.5 553.3L394.9 551.9L394.9 551.0L394.5 549.6L394.0 549.1L393.2 548.7L391.9 548.7L394.5 545.0L389.8 545.0M398.7 546.8L399.6 546.3L400.8 545.0L400.8 554.7M405.9 552.8L406.4 553.8L406.8 554.2L408.1 554.7L409.3 554.7L410.6 554.2L411.5 553.3L411.9 551.9L411.9 551.0L411.5 549.6L411.0 549.1L410.2 548.7L408.9 548.7L411.5 545.0L406.8 545.0M415.3 548.2L416.1 548.7L417.8 549.1L419.1 549.6L420.0 550.5L420.4 551.5L420.4 552.8L420.0 553.8L419.5 554.2L418.3 554.7L416.6 554.7L415.3 554.2L414.9 553.8L414.4 552.8L414.4 551.5L414.9 550.5L415.7 549.6L417.0 549.1L418.7 548.7L419.5 548.2L420.0 547.3L420.0 546.3L419.5 545.4L418.3 545.0L416.6 545.0L415.3 545.4L414.9 546.3L414.9 547.3L415.3 548.2M428.5 548.2L428.0 549.6L427.2 550.5L425.9 551.0L425.5 551.0L424.2 550.5L423.4 549.6L422.9 548.2L422.9 547.7L423.4 546.3L424.2 545.4L425.5 545.0L425.9 545.0L427.2 545.4L428.0 546.3L428.5 548.2L428.5 550.5L428.0 552.8L427.2 554.2L425.9 554.7L425.1 554.7L423.8 554.2L423.4 553.3M436.5 553.3L435.7 554.2L434.8 554.7L433.6 554.7L432.7 554.2L431.9 553.3L431.4 551.9L431.4 551.0L431.9 549.6L432.7 548.7L433.6 548.2L434.8 548.2L435.7 548.7L436.1 549.1L436.5 550.1L436.5 551.0L431.4 551.0M439.5 550.5L447.2 550.5M443.3 554.7L443.3 546.3M456.1 550.5L455.7 552.8L454.8 554.2L453.5 554.7L452.7 554.7L451.4 554.2L450.6 552.8L450.1 550.5L450.1 549.1L450.6 546.8L451.4 545.4L452.7 545.0L453.5 545.0L454.8 545.4L455.7 546.8L456.1 549.1L456.1 550.5M459.1 551.5L459.5 550.1L460.3 549.1L461.6 548.7L462.0 548.7L463.3 549.1L464.2 550.1L464.6 551.5L464.6 551.9L464.2 553.3L463.3 554.2L462.0 554.7L461.6 554.7L460.3 554.2L459.5 553.3L459.1 551.5L459.1 549.1L459.5 546.8L460.3 545.4L461.6 545.0L462.5 545.0L463.7 545.4L464.2 546.3M463.2 557.9L460.2 557.9L460.2 543.1L463.2 543.1M466.1 554.7L466.1 548.2M466.1 550.1L467.4 548.7L468.3 548.2L469.6 548.2L470.4 548.7L470.8 550.1L470.8 554.7M470.8 550.1L472.1 548.7L472.9 548.2L474.2 548.2L475.1 548.7L475.5 550.1L475.5 554.7M478.9 554.7L478.9 548.2M478.9 550.1L480.2 548.7L481.0 548.2L482.3 548.2L483.1 548.7L483.6 550.1L483.6 554.7M483.6 550.1L484.9 548.7L485.7 548.2L487.0 548.2L487.8 548.7L488.2 550.1L488.2 554.7M491.2 557.9L494.2 557.9L494.2 543.1L491.2 543.1" fill="none" stroke="#000" stroke-width="1.05" stroke-linecap="round" stroke-linejoin="round"/>
<path d="M144.0 160.0L144.0 143.4L150.5 143.4L152.6 144.2L153.4 145.0L154.1 146.6L154.1 148.2L153.4 149.7L152.6 150.5L150.5 151.3L144.0 151.3M149.0 151.3L154.1 160.0M167.1 157.6L165.6 159.2L164.2 160.0L162.0 160.0L160.6 159.2L159.1 157.6L158.4 155.3L158.4 153.7L159.1 151.3L160.6 149.7L162.0 148.9L164.2 148.9L165.6 149.7L167.1 151.3M167.1 160.0L167.1 148.9M172.8 142.6L172.1 143.4L172.8 144.2L173.6 143.4L172.8 142.6M172.8 160.0L172.8 148.9M178.6 160.0L178.6 148.9M178.6 152.1L180.8 149.7L182.2 148.9L184.4 148.9L185.8 149.7L186.5 152.1L186.5 160.0M190.9 148.9L195.9 148.9M193.0 160.0L193.0 146.6L193.7 144.2L195.2 143.4L196.6 143.4M208.9 157.6L207.4 159.2L206.0 160.0L203.8 160.0L202.4 159.2L200.9 157.6L200.2 155.3L200.2 153.7L200.9 151.3L202.4 149.7L203.8 148.9L206.0 148.9L207.4 149.7L208.9 151.3M208.9 160.0L208.9 148.9M214.6 160.0L214.6 143.4M220.4 160.0L220.4 143.4M242.7 165.5L241.3 163.9L239.9 161.6L238.4 158.4L237.7 154.5L237.7 151.3L238.4 147.4L239.9 144.2L241.3 141.8L242.7 140.2M247.1 143.4L257.2 143.4L250.0 160.0M262.2 152.9L275.2 152.9M288.9 157.6L287.4 159.2L286.0 160.0L283.8 160.0L282.4 159.2L281.0 157.6L280.2 155.3L280.2 153.7L281.0 151.3L282.4 149.7L283.8 148.9L286.0 148.9L287.4 149.7L288.9 151.3M288.9 160.0L288.9 143.4M302.6 157.6L301.1 159.2L299.7 160.0L297.5 160.0L296.1 159.2L294.6 157.6L293.9 155.3L293.9 153.7L294.6 151.3L296.1 149.7L297.5 148.9L299.7 148.9L301.1 149.7L302.6 151.3M302.6 160.0L302.6 148.9M306.2 165.5L306.9 165.5L308.3 164.7L309.8 163.2L311.2 160.0L315.6 148.9M306.9 148.9L311.2 160.0M339.3 157.6L337.9 159.2L336.5 160.0L334.3 160.0L332.8 159.2L331.4 157.6L330.7 155.3L330.7 153.7L331.4 151.3L332.8 149.7L334.3 148.9L336.5 148.9L337.9 149.7L339.3 151.3M339.3 160.0L339.3 148.9M353.0 157.6L351.6 159.2L350.1 160.0L348.0 160.0L346.5 159.2L345.1 157.6L344.4 155.3L344.4 153.7L345.1 151.3L346.5 149.7L348.0 148.9L350.1 148.9L351.6 149.7L353.0 151.3M366.0 157.6L364.6 159.2L363.1 160.0L361.0 160.0L359.5 159.2L358.1 157.6L357.4 155.3L357.4 153.7L358.1 151.3L359.5 149.7L361.0 148.9L363.1 148.9L364.6 149.7L366.0 151.3M379.0 156.8L376.8 159.2L375.4 160.0L373.2 160.0L371.8 159.2L371.1 156.8L371.1 148.9M379.0 160.0L379.0 148.9M384.7 160.0L384.7 148.9M384.7 152.1L386.9 149.7L388.4 148.9L390.5 148.9L392.0 149.7L392.7 152.1L392.7 160.0M392.7 152.1L394.8 149.7L396.3 148.9L398.4 148.9L399.9 149.7L400.6 152.1L400.6 160.0M407.1 158.4L406.4 159.2L407.1 160.0L407.8 159.2L407.1 158.4M412.9 165.5L414.3 163.9L415.7 161.6L417.2 158.4L417.9 154.5L417.9 151.3L417.2 147.4L415.7 144.2L414.3 141.8L412.9 140.2M440.2 165.5L435.2 165.5L435.2 140.2L440.2 140.2M445.3 160.0L445.3 148.9M445.3 152.1L447.5 149.7L448.9 148.9L451.1 148.9L452.5 149.7L453.2 152.1L453.2 160.0M453.2 152.1L455.4 149.7L456.8 148.9L459.0 148.9L460.4 149.7L461.2 152.1L461.2 160.0M466.9 160.0L466.9 148.9M466.9 152.1L469.1 149.7L470.5 148.9L472.7 148.9L474.1 149.7L474.8 152.1L474.8 160.0M474.8 152.1L477.0 149.7L478.5 148.9L480.6 148.9L482.1 149.7L482.8 152.1L482.8 160.0M487.8 165.5L492.9 165.5L492.9 140.2L487.8 140.2M511.6 146.6L513.0 145.8L515.2 143.4L515.2 160.0M523.9 156.8L524.6 158.4L525.3 159.2L527.5 160.0L529.6 160.0L531.8 159.2L533.2 157.6L534.0 155.3L534.0 153.7L533.2 151.3L532.5 150.5L531.1 149.7L528.9 149.7L533.2 143.4L525.3 143.4M538.3 143.4L548.4 143.4L538.3 160.0L548.4 160.0M554.9 146.6L556.3 145.8L558.5 143.4L558.5 160.0M577.2 152.9L576.5 156.8L575.0 159.2L572.9 160.0L571.4 160.0L569.3 159.2L567.8 156.8L567.1 152.9L567.1 150.5L567.8 146.6L569.3 144.2L571.4 143.4L572.9 143.4L575.0 144.2L576.5 146.6L577.2 150.5L577.2 152.9M580.1 160.0L585.9 143.4L591.6 160.0M582.2 154.5L589.5 154.5M603.1 156.8L601.0 159.2L599.5 160.0L597.4 160.0L595.9 159.2L595.2 156.8L595.2 148.9M603.1 160.0L603.1 148.9M616.8 157.6L615.4 159.2L614.0 160.0L611.8 160.0L610.4 159.2L608.9 157.6L608.2 155.3L608.2 153.7L608.9 151.3L610.4 149.7L611.8 148.9L614.0 148.9L615.4 149.7L616.8 151.3M610.4 164.7L611.8 165.5L614.0 165.5L615.4 164.7L616.1 163.9L616.8 161.6L616.8 148.9M632.0 160.0L621.9 160.0L629.1 152.1L630.5 149.7L631.3 148.2L631.3 146.6L630.5 145.0L629.8 144.2L628.4 143.4L625.5 143.4L624.1 144.2L623.3 145.0L622.6 146.6L622.6 147.4M646.4 152.9L645.7 156.8L644.2 159.2L642.1 160.0L640.6 160.0L638.5 159.2L637.0 156.8L636.3 152.9L636.3 150.5L637.0 146.6L638.5 144.2L640.6 143.4L642.1 143.4L644.2 144.2L645.7 146.6L646.4 150.5L646.4 152.9M652.9 146.6L654.3 145.8L656.5 143.4L656.5 160.0M666.6 148.9L668.0 149.7L670.9 150.5L673.1 151.3L674.5 152.9L675.2 154.5L675.2 156.8L674.5 158.4L673.8 159.2L671.6 160.0L668.7 160.0L666.6 159.2L665.9 158.4L665.1 156.8L665.1 154.5L665.9 152.9L667.3 151.3L669.5 150.5L672.3 149.7L673.8 148.9L674.5 147.4L674.5 145.8L673.8 144.2L671.6 143.4L668.7 143.4L666.6 144.2L665.9 145.8L665.9 147.4L666.6 148.9" fill="none" stroke="#000" stroke-width="1.7" stroke-linecap="round" stroke-linejoin="round"/>
<g stroke="#000" stroke-width="1" stroke-linejoin="miter">
<path d="M306.1 534.1L363.4 526.4V541.4Z" fill="#aaaaaa"/>
<path d="M477.8 534.1L420.4 526.4V541.4Z" fill="#aaaaaa"/>
<rect x="363.4" y="526.4" width="57" height="15" fill="#fff"/>
</g>
</svg></body></html>
